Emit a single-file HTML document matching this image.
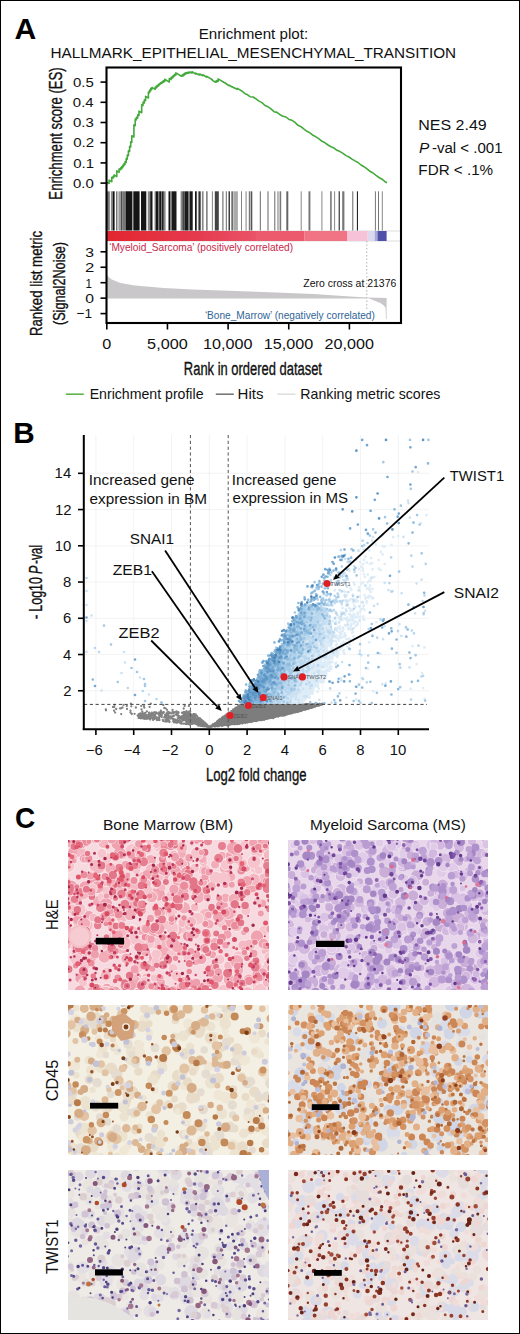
<!DOCTYPE html>
<html><head><meta charset="utf-8"><style>
html,body{margin:0;padding:0;background:#fff;}
body{width:520px;height:1334px;overflow:hidden;position:relative;font-family:"Liberation Sans",sans-serif;}
svg{position:absolute;left:0;top:0;display:block;}
svg text{font-family:"Liberation Sans",sans-serif;}
</style></head><body>
<svg width="520" height="1334" viewBox="0 0 520 1334">
<rect x="0" y="0" width="520" height="1334" fill="#fff"/>
<text x="14.4" y="38.75" font-size="30" fill="#000" textLength="21.77" lengthAdjust="spacingAndGlyphs" style="font-weight:bold;">A</text>
<text x="198.79" y="39.1" font-size="14.6" fill="#111" textLength="109.34" lengthAdjust="spacingAndGlyphs">Enrichment plot:</text>
<text x="50.48" y="57.6" font-size="14.8" fill="#111" textLength="405.63" lengthAdjust="spacingAndGlyphs">HALLMARK_EPITHELIAL_MESENCHYMAL_TRANSITION</text>
<rect x="107" y="191.3" width="2.8" height="39.5" fill="#777"/>
<rect x="110.9" y="191.3" width="1.8" height="39.5" fill="#888"/>
<rect x="112.7" y="191.3" width="1.9" height="39.5" fill="#111"/>
<rect x="116" y="191.3" width="1.5" height="39.5" fill="#777"/>
<rect x="118.4" y="191.3" width="2.9" height="39.5" fill="#999"/>
<rect x="121.3" y="191.3" width="1" height="39.5" fill="#111"/>
<rect x="122.3" y="191.3" width="3.3" height="39.5" fill="#777"/>
<rect x="125.6" y="191.3" width="6.8" height="39.5" fill="#151515"/>
<rect x="133.3" y="191.3" width="6.3" height="39.5" fill="#151515"/>
<rect x="141" y="191.3" width="5.3" height="39.5" fill="#151515"/>
<rect x="147.8" y="191.3" width="2.4" height="39.5" fill="#888"/>
<rect x="150.2" y="191.3" width="2.3" height="39.5" fill="#151515"/>
<rect x="154.6" y="191.3" width="1.2" height="39.5" fill="#777"/>
<rect x="155.8" y="191.3" width="2.2" height="39.5" fill="#151515"/>
<rect x="158" y="191.3" width="1.2" height="39.5" fill="#777"/>
<rect x="159.2" y="191.3" width="1.8" height="39.5" fill="#151515"/>
<rect x="161" y="191.3" width="1" height="39.5" fill="#777"/>
<rect x="162" y="191.3" width="1.8" height="39.5" fill="#222"/>
<rect x="163.8" y="191.3" width="1.8" height="39.5" fill="#888"/>
<rect x="168.5" y="191.3" width="1.7" height="39.5" fill="#151515"/>
<rect x="170.2" y="191.3" width="1.7" height="39.5" fill="#777"/>
<rect x="171.9" y="191.3" width="4.6" height="39.5" fill="#1a1a1a"/>
<rect x="180.6" y="191.3" width="1.7" height="39.5" fill="#888"/>
<rect x="182.3" y="191.3" width="2.3" height="39.5" fill="#444"/>
<rect x="184.6" y="191.3" width="3.4" height="39.5" fill="#1a1a1a"/>
<rect x="188" y="191.3" width="1.8" height="39.5" fill="#777"/>
<rect x="189.8" y="191.3" width="2.9" height="39.5" fill="#1a1a1a"/>
<rect x="195" y="191.3" width="1.7" height="39.5" fill="#151515"/>
<rect x="197.9" y="191.3" width="1.1" height="39.5" fill="#888"/>
<rect x="199" y="191.3" width="1.7" height="39.5" fill="#333"/>
<rect x="201.9" y="191.3" width="1.7" height="39.5" fill="#888"/>
<rect x="206" y="191.3" width="1.7" height="39.5" fill="#888"/>
<rect x="211.9" y="191.3" width="0.9" height="39.5" fill="#777"/>
<rect x="214.8" y="191.3" width="4" height="39.5" fill="#444"/>
<rect x="222.3" y="191.3" width="1.2" height="39.5" fill="#777"/>
<rect x="225.8" y="191.3" width="1.1" height="39.5" fill="#777"/>
<rect x="228.6" y="191.3" width="1.2" height="39.5" fill="#111"/>
<rect x="231.5" y="191.3" width="1.2" height="39.5" fill="#333"/>
<rect x="233.3" y="191.3" width="4.6" height="39.5" fill="#aaa"/>
<rect x="241" y="191.3" width="0.9" height="39.5" fill="#777"/>
<rect x="245.6" y="191.3" width="0.9" height="39.5" fill="#777"/>
<rect x="248.8" y="191.3" width="1.2" height="39.5" fill="#777"/>
<rect x="250.6" y="191.3" width="1.7" height="39.5" fill="#555"/>
<rect x="259.8" y="191.3" width="1.1" height="39.5" fill="#777"/>
<rect x="267.5" y="191.3" width="1" height="39.5" fill="#666"/>
<rect x="274.3" y="191.3" width="1" height="39.5" fill="#666"/>
<rect x="277.5" y="191.3" width="1" height="39.5" fill="#777"/>
<rect x="279.6" y="191.3" width="1.6" height="39.5" fill="#777"/>
<rect x="286.3" y="191.3" width="2" height="39.5" fill="#666"/>
<rect x="300.7" y="191.3" width="1" height="39.5" fill="#888"/>
<rect x="308.5" y="191.3" width="1.9" height="39.5" fill="#777"/>
<rect x="321.4" y="191.3" width="1" height="39.5" fill="#888"/>
<rect x="330" y="191.3" width="1.8" height="39.5" fill="#888"/>
<rect x="334.1" y="191.3" width="1" height="39.5" fill="#888"/>
<rect x="338.7" y="191.3" width="1" height="39.5" fill="#111"/>
<rect x="342.2" y="191.3" width="2.2" height="39.5" fill="#777"/>
<rect x="352.3" y="191.3" width="1" height="39.5" fill="#666"/>
<rect x="356.9" y="191.3" width="1" height="39.5" fill="#111"/>
<rect x="374.9" y="191.3" width="1" height="39.5" fill="#777"/>
<rect x="378" y="191.3" width="1" height="39.5" fill="#777"/>
<rect x="381.8" y="191.3" width="1" height="39.5" fill="#888"/>
<defs><linearGradient id="cb1" x1="0" x2="1" y1="0" y2="0"><stop offset="0" stop-color="#e32630"/><stop offset="0.6" stop-color="#e53a4e"/><stop offset="1" stop-color="#ea5368"/></linearGradient></defs>
<line x1="107" y1="231" x2="401" y2="231" stroke="#d4d4d4" stroke-width="0.8"/>
<line x1="107" y1="241" x2="401" y2="241" stroke="#d4d4d4" stroke-width="0.8"/>
<rect x="107" y="231" width="149" height="10" fill="url(#cb1)"/>
<rect x="256" y="231" width="48.2" height="10" fill="#ec5a6e"/>
<rect x="304.2" y="231" width="42.8" height="10" fill="#f07484"/>
<rect x="347" y="231" width="20.7" height="10" fill="#f5c2d8"/>
<rect x="367.7" y="231" width="6.9" height="10" fill="#dcd8f0"/>
<rect x="374.6" y="231" width="2.9" height="10" fill="#a8a8d8"/>
<rect x="377.5" y="231" width="9.1" height="10" fill="#5050a8"/>
<polygon fill="#c9c7c9" points="107,298.6 107,274.4 108.5,277 111.8,279.6 120.4,283 134.8,285.4 163.7,288 192.5,289.4 221.4,290.6 256,291.7 313.7,294 342.5,296 366.8,297.6 366.8,298.6"/>
<polygon fill="#c9c7c9" points="366.8,297.6 374.6,300.8 380.4,303.1 383.8,305.4 385.6,307.7 385.9,319.2 386.6,319.2 386.6,297.9"/>
<line x1="366.8" y1="241" x2="366.8" y2="311" stroke="#aaa" stroke-width="0.9" stroke-dasharray="1.5,2"/>
<polyline fill="none" stroke="#45aa3c" stroke-width="1.6" stroke-linejoin="round" points="107.4,183.4 107.7,183.5 107.7,182.5 109.1,183.4 109.1,180.1 111.8,181.7 111.8,177.2 113.2,178.0 113.2,176.3 114.1,176.9 114.1,175.0 116.8,176.6 116.8,170.9 119.1,172.3 119.1,168.9 120.6,169.7 120.6,167.9 121.8,168.7 121.8,166.6 122.8,167.3 122.8,165.3 123.9,165.9 123.9,163.8 125.0,164.5 125.0,161.8 126.2,162.5 126.2,158.5 127.3,159.1 127.3,155.1 128.4,155.7 128.4,150.9 129.6,151.5 129.6,146.4 130.7,147.0 130.7,141.7 131.8,142.3 131.8,135.8 133.9,137.0 133.9,124.9 135.2,125.7 135.2,119.0 136.4,119.8 136.4,117.3 137.7,118.1 137.7,114.8 139.0,115.5 139.0,111.1 141.7,112.7 141.7,104.7 143.0,105.5 143.0,102.2 144.3,103.0 144.3,99.9 145.6,100.7 145.6,96.4 148.4,98.0 148.4,92.0 149.6,92.7 149.6,90.1 150.8,90.8 150.8,88.4 151.9,89.1 151.9,87.5 155.2,89.4 155.2,87.1 156.4,87.8 156.4,86.1 157.4,86.8 157.4,85.2 158.6,85.9 158.6,84.3 159.6,84.9 159.6,83.5 160.6,84.0 160.6,82.8 161.5,83.4 161.5,82.2 162.4,82.8 162.4,81.6 163.4,82.1 163.4,80.8 164.7,81.6 164.7,79.3 169.3,82.1 169.3,78.5 171.1,79.6 171.1,77.3 172.5,78.1 172.5,76.2 173.6,76.9 173.6,75.3 174.8,75.9 174.8,74.3 175.9,75.0 175.9,72.9 181.4,76.2 181.4,75.4 182.9,76.2 182.9,74.5 184.0,75.2 184.0,73.7 185.2,74.4 185.2,72.9 186.3,73.6 186.3,72.7 187.4,73.3 187.4,72.4 188.4,73.1 188.4,72.3 189.4,72.8 189.4,72.0 190.5,72.7 190.5,72.1 192.0,73.0 192.0,71.8 195.8,74.1 195.8,73.1 198.4,74.7 198.4,74.1 199.8,75.0 199.8,74.0 202.8,75.7 202.8,74.7 206.8,77.2 206.8,76.4 212.4,79.7 212.4,80.4 215.5,82.2 215.5,81.3 216.8,82.1 216.8,80.6 218.1,81.4 218.1,78.9 222.9,81.7 222.9,81.7 226.4,83.8 226.4,84.0 229.2,85.7 229.2,85.3 232.1,87.0 232.1,86.8 233.9,87.8 233.9,87.7 235.0,88.4 235.0,88.1 236.2,88.8 236.2,88.7 237.3,89.3 237.3,88.4 241.4,90.8 241.4,90.7 245.0,93.7 247.0,94.4 250.0,96.7 253.0,97.0 256.0,98.8 259.0,101.1 262.0,102.6 265.0,105.5 268.0,106.8 271.0,108.9 274.0,111.7 277.0,112.4 280.0,114.7 283.0,116.2 286.0,117.0 289.0,119.4 292.0,120.3 295.0,122.4 298.0,125.3 301.0,126.7 304.0,129.2 307.0,131.3 310.0,132.9 313.0,135.3 316.0,136.9 319.0,138.9 322.0,141.3 325.0,142.8 328.0,145.0 331.0,146.8 334.0,148.1 337.0,150.3 340.0,151.6 343.0,153.4 346.0,155.6 349.0,157.0 352.0,159.1 355.0,160.9 358.0,162.5 361.0,165.0 364.0,166.7 367.0,168.8 370.0,171.3 373.0,173.0 376.0,175.4 379.0,177.5 382.0,179.2 385.0,181.7 387.0,182.8"/>
<rect x="106.5" y="67.5" width="294.5" height="255.5" fill="none" stroke="#000" stroke-width="2.1"/>
<line x1="100.5" y1="183.1" x2="107" y2="183.1" stroke="#000" stroke-width="1.6"/>
<text x="73.04" y="187.7" font-size="13.6" fill="#111" textLength="20.8" lengthAdjust="spacingAndGlyphs">0.0</text>
<line x1="100.5" y1="162.9" x2="107" y2="162.9" stroke="#000" stroke-width="1.6"/>
<text x="73.19" y="167.5" font-size="13.6" fill="#111" textLength="20.8" lengthAdjust="spacingAndGlyphs">0.1</text>
<line x1="100.5" y1="142.7" x2="107" y2="142.7" stroke="#000" stroke-width="1.6"/>
<text x="73.19" y="147.3" font-size="13.6" fill="#111" textLength="20.8" lengthAdjust="spacingAndGlyphs">0.2</text>
<line x1="100.5" y1="122.5" x2="107" y2="122.5" stroke="#000" stroke-width="1.6"/>
<text x="73.04" y="127.1" font-size="13.6" fill="#111" textLength="20.8" lengthAdjust="spacingAndGlyphs">0.3</text>
<line x1="100.5" y1="102.3" x2="107" y2="102.3" stroke="#000" stroke-width="1.6"/>
<text x="72.89" y="106.9" font-size="13.6" fill="#111" textLength="20.8" lengthAdjust="spacingAndGlyphs">0.4</text>
<line x1="100.5" y1="82.1" x2="107" y2="82.1" stroke="#000" stroke-width="1.6"/>
<text x="73.04" y="86.7" font-size="13.6" fill="#111" textLength="20.8" lengthAdjust="spacingAndGlyphs">0.5</text>
<line x1="100.5" y1="251.8" x2="107" y2="251.8" stroke="#000" stroke-width="1.6"/>
<text x="85.33" y="256.65" font-size="13.7" fill="#111" textLength="8.74" lengthAdjust="spacingAndGlyphs">3</text>
<line x1="100.5" y1="267.25" x2="107" y2="267.25" stroke="#000" stroke-width="1.6"/>
<text x="84.96" y="272.1" font-size="13.7" fill="#111" textLength="9.31" lengthAdjust="spacingAndGlyphs">2</text>
<line x1="100.5" y1="282.7" x2="107" y2="282.7" stroke="#000" stroke-width="1.6"/>
<text x="85.49" y="287.55" font-size="13.7" fill="#111" textLength="6.45" lengthAdjust="spacingAndGlyphs">1</text>
<line x1="100.5" y1="298.15" x2="107" y2="298.15" stroke="#000" stroke-width="1.6"/>
<text x="85.33" y="303" font-size="13.7" fill="#111" textLength="8.74" lengthAdjust="spacingAndGlyphs">0</text>
<line x1="100.5" y1="313.6" x2="107" y2="313.6" stroke="#000" stroke-width="1.6"/>
<text x="76.35" y="318.45" font-size="13.7" fill="#111" textLength="15.69" lengthAdjust="spacingAndGlyphs">−1</text>
<line x1="106.8" y1="323" x2="106.8" y2="329.5" stroke="#000" stroke-width="1.6"/>
<text x="102.36" y="348.8" font-size="14.3" fill="#111" textLength="8.99" lengthAdjust="spacingAndGlyphs">0</text>
<line x1="167.45" y1="323" x2="167.45" y2="329.5" stroke="#000" stroke-width="1.6"/>
<text x="147.12" y="348.8" font-size="14.3" fill="#111" textLength="40.59" lengthAdjust="spacingAndGlyphs">5,000</text>
<line x1="228.1" y1="323" x2="228.1" y2="329.5" stroke="#000" stroke-width="1.6"/>
<text x="203.11" y="348.8" font-size="14.3" fill="#111" textLength="49.42" lengthAdjust="spacingAndGlyphs">10,000</text>
<line x1="288.75" y1="323" x2="288.75" y2="329.5" stroke="#000" stroke-width="1.6"/>
<text x="263.76" y="348.8" font-size="14.3" fill="#111" textLength="49.42" lengthAdjust="spacingAndGlyphs">15,000</text>
<line x1="349.4" y1="323" x2="349.4" y2="329.5" stroke="#000" stroke-width="1.6"/>
<text x="324.58" y="348.8" font-size="14.3" fill="#111" textLength="49.42" lengthAdjust="spacingAndGlyphs">20,000</text>
<text transform="translate(61.6,198.6) rotate(-90)" x="-1.05" y="0" font-size="17.6" fill="#111" textLength="132.35" lengthAdjust="spacingAndGlyphs" stroke="#111" stroke-width="0.35">Enrichment score (ES)</text>
<text transform="translate(42,335) rotate(-90)" x="-1.06" y="0" font-size="17" fill="#111" textLength="105.22" lengthAdjust="spacingAndGlyphs" stroke="#111" stroke-width="0.35">Ranked list metric</text>
<text transform="translate(65.3,324.3) rotate(-90)" x="-0.76" y="0" font-size="16.6" fill="#111" textLength="83.13" lengthAdjust="spacingAndGlyphs" stroke="#111" stroke-width="0.35">(Signal2Noise)</text>
<text x="183.86" y="374.9" font-size="17.6" fill="#111" textLength="138.11" lengthAdjust="spacingAndGlyphs" stroke="#111" stroke-width="0.35">Rank in ordered dataset</text>
<text x="109.19" y="250.5" font-size="10.2" fill="#c8284a" textLength="183.84" lengthAdjust="spacingAndGlyphs">‘Myeloid_Sarcoma’ (positively correlated)</text>
<text x="303.29" y="287.4" font-size="10.8" fill="#111" textLength="92.99" lengthAdjust="spacingAndGlyphs">Zero cross at 21376</text>
<text x="204.89" y="318.6" font-size="10.5" fill="#2f6496" textLength="169.94" lengthAdjust="spacingAndGlyphs">‘Bone_Marrow’ (negatively correlated)</text>
<text x="418.32" y="129.6" font-size="14" fill="#111" textLength="68.42" lengthAdjust="spacingAndGlyphs">NES 2.49</text>
<text x="419.14" y="152.7" font-size="14" fill="#111" textLength="10.32" lengthAdjust="spacingAndGlyphs" style="font-style:italic;">P</text>
<text x="431.9" y="152.7" font-size="14" fill="#111" textLength="70.7" lengthAdjust="spacingAndGlyphs">-val &lt; .001</text>
<text x="418.38" y="175.4" font-size="14" fill="#111" textLength="74.76" lengthAdjust="spacingAndGlyphs">FDR &lt; .1%</text>
<line x1="65.8" y1="394.2" x2="83.8" y2="394.2" stroke="#5db44a" stroke-width="1.6"/>
<text x="89.67" y="398.5" font-size="14.5" fill="#111" textLength="113.84" lengthAdjust="spacingAndGlyphs">Enrichment profile</text>
<line x1="215.8" y1="394.2" x2="233.8" y2="394.2" stroke="#777" stroke-width="1.6"/>
<text x="237.6" y="398.5" font-size="14.5" fill="#111" textLength="25.85" lengthAdjust="spacingAndGlyphs">Hits</text>
<line x1="277.3" y1="394.2" x2="295.4" y2="394.2" stroke="#e0e0e0" stroke-width="1.6"/>
<text x="300.37" y="398.5" font-size="14.5" fill="#111" textLength="140.06" lengthAdjust="spacingAndGlyphs">Ranking metric scores</text>
<text x="13.22" y="443.2" font-size="29.5" fill="#000" textLength="21.43" lengthAdjust="spacingAndGlyphs" style="font-weight:bold;">B</text>
<path d="M95.9 435V729M133.7 435V729M171.5 435V729M209.3 435V729M247.1 435V729M284.9 435V729M322.7 435V729M360.5 435V729M398.3 435V729M84 690.76H429M84 654.52H429M84 618.28H429M84 582.04H429M84 545.8H429M84 509.56H429M84 473.32H429" stroke="#f0f0f0" stroke-width="0.8" fill="none"/>
<path d="M199.9 725.2h0M176.1 722.5h0M185.9 720.5h0M208.9 726.7h0M209.1 726.8h0M208.7 726.9h0M193.9 715.4h0M207.6 726.6h0M178.3 712.1h0M182.6 719.9h0M140.5 718.3h0M154.7 718.6h0M207.1 726.6h0M200.7 720.4h0M206.0 725.1h0M177.2 719.8h0M185.0 723.6h0M208.9 726.9h0M173.4 718.9h0M200.4 722.2h0M192.0 721.9h0M161.8 715.4h0M203.6 723.9h0M186.8 713.0h0M168.6 719.9h0M140.0 718.0h0M194.4 716.7h0M206.9 725.8h0M209.1 726.7h0M165.0 716.8h0M152.8 718.3h0M172.0 716.9h0M182.4 719.1h0M156.8 712.9h0M190.6 716.5h0M208.8 726.5h0M176.5 711.5h0M158.8 719.1h0M196.4 719.1h0M209.2 726.8h0M206.4 726.5h0M208.9 726.4h0M207.5 726.5h0M196.1 716.3h0M208.5 726.6h0M184.9 712.9h0M159.1 713.7h0M202.1 724.2h0M198.0 717.7h0M142.9 718.2h0M206.1 726.2h0M204.1 724.6h0M181.6 721.4h0M209.3 726.9h0M197.3 720.9h0M143.4 715.2h0M187.5 717.1h0M173.8 722.3h0M149.9 714.6h0M152.9 714.4h0M196.0 722.1h0M208.1 726.1h0M208.8 726.9h0M205.0 726.1h0M199.0 725.5h0M209.3 727.0h0M208.1 726.5h0M209.2 726.6h0M179.4 722.3h0M203.3 725.0h0M197.6 724.9h0M155.8 712.4h0M191.1 719.3h0M208.4 726.8h0M198.9 724.2h0M158.1 719.8h0M209.2 726.6h0M186.5 723.1h0M185.4 723.9h0M186.5 711.2h0M154.2 715.3h0M202.9 724.7h0M206.4 724.8h0M186.2 714.6h0M199.6 724.6h0M160.0 712.3h0M155.4 714.3h0M159.2 715.0h0M204.3 724.6h0M198.1 725.5h0M209.2 726.9h0M203.0 722.9h0M143.0 716.7h0M145.4 712.9h0M143.2 717.2h0M204.6 725.8h0M205.5 726.1h0M178.6 712.8h0M156.8 717.3h0M176.0 714.3h0M208.5 726.3h0M148.7 714.5h0M166.5 717.9h0M206.1 724.5h0M199.4 719.7h0M141.1 716.9h0M195.4 714.8h0M169.1 721.0h0M207.5 726.6h0M149.3 714.3h0M207.0 725.1h0M140.0 715.3h0M198.4 721.6h0M207.4 726.8h0M141.2 715.4h0M186.7 712.0h0M193.3 714.2h0M158.4 719.5h0M203.3 725.2h0M203.8 724.0h0M203.0 724.5h0M207.4 725.2h0M198.2 722.3h0M182.1 712.6h0M194.2 714.2h0M188.6 718.4h0M186.9 724.1h0M192.9 723.5h0M209.3 726.7h0M206.3 725.6h0M169.0 717.2h0M199.8 722.5h0M184.4 714.5h0M208.0 726.2h0M203.4 725.3h0M164.2 717.5h0M183.9 714.9h0M148.4 717.1h0M179.6 718.3h0M187.8 715.9h0M192.1 718.7h0M190.3 711.7h0M171.6 713.3h0M144.8 717.9h0M184.0 711.9h0M156.8 719.8h0M207.7 726.2h0M208.7 726.8h0M208.7 726.4h0M163.0 713.2h0M206.8 725.2h0M175.3 721.9h0M151.9 712.8h0M204.6 722.6h0M195.6 720.9h0M138.8 714.2h0M206.6 725.8h0M187.5 721.0h0M205.5 725.8h0M169.3 722.0h0M184.5 719.5h0M209.2 726.9h0M178.6 718.2h0M208.8 726.2h0M162.5 712.4h0M208.1 726.6h0M209.1 726.6h0M202.5 725.7h0M194.1 714.2h0M159.2 719.3h0M207.0 724.7h0M183.1 715.7h0M208.4 726.9h0M172.6 718.8h0M208.7 726.1h0M177.6 714.2h0M208.5 726.1h0M208.8 726.3h0M192.0 721.4h0M184.6 712.2h0M202.6 725.8h0M186.6 722.1h0M208.0 726.7h0M209.0 726.9h0M200.5 724.3h0M165.5 719.6h0M188.7 723.0h0M198.6 725.6h0M203.4 726.2h0M168.2 717.2h0M205.7 725.3h0M145.7 718.7h0M159.2 717.9h0M189.0 713.6h0M195.9 720.8h0M172.7 711.8h0M198.9 718.9h0M170.8 716.3h0M195.2 722.3h0M208.9 726.9h0M208.7 726.4h0M203.1 725.7h0M208.5 726.1h0M153.3 715.5h0M201.9 725.1h0M201.4 723.6h0M206.7 725.8h0M202.8 721.0h0M141.0 716.0h0M203.6 721.7h0M200.6 724.0h0M209.3 726.9h0M190.5 718.9h0M205.3 725.1h0M209.3 726.9h0M208.4 726.5h0M209.1 727.0h0M200.9 724.9h0M181.9 718.1h0M166.5 716.0h0M169.9 713.3h0M196.1 722.9h0M139.4 717.9h0M169.1 716.2h0M209.0 726.5h0M150.8 715.8h0M168.2 714.2h0M207.2 725.9h0M188.3 713.6h0M160.7 714.1h0M182.0 712.8h0M173.2 715.7h0M204.2 726.3h0M207.4 726.3h0M208.1 725.8h0M184.1 716.8h0M178.4 715.9h0M189.5 724.5h0M161.5 714.9h0M188.5 718.4h0M175.4 722.4h0M167.9 720.2h0M208.6 726.8h0M168.6 720.6h0M167.5 712.1h0M189.1 720.5h0M190.2 716.1h0M164.8 716.4h0M176.9 722.5h0M207.0 726.4h0M167.2 719.6h0M183.4 723.7h0M208.8 726.8h0M174.2 715.7h0M173.8 720.4h0M187.4 719.3h0M191.1 723.9h0M150.6 718.8h0M140.3 713.5h0M209.3 726.8h0M159.1 712.5h0M192.3 722.4h0M205.0 723.0h0M204.9 724.6h0M207.2 725.9h0M143.5 718.4h0M159.0 717.2h0M151.4 715.2h0M204.1 722.5h0M189.7 724.4h0M209.3 726.9h0M192.2 722.0h0M207.2 726.2h0M200.3 719.9h0M209.3 726.7h0M156.9 720.0h0M146.7 715.1h0M149.7 718.2h0M197.2 722.6h0M137.6 715.6h0M197.8 722.5h0M202.3 726.0h0M208.1 725.8h0M201.8 720.3h0M203.4 725.4h0M187.9 722.8h0M197.1 716.1h0M151.7 714.3h0M178.0 712.6h0M145.0 716.2h0M169.6 721.8h0M168.3 718.3h0M166.2 716.1h0M201.7 725.9h0M146.7 718.8h0M190.7 721.2h0M201.2 721.4h0M140.5 717.5h0M175.7 720.4h0M184.2 720.0h0M206.4 726.4h0M205.1 723.2h0M188.9 722.5h0M149.1 712.7h0M192.2 723.8h0M205.6 726.4h0M198.9 725.3h0M203.8 725.5h0M183.2 712.9h0M166.5 718.6h0M194.6 720.0h0M196.9 723.0h0M208.8 726.8h0M141.6 718.2h0M188.4 716.9h0M154.2 719.1h0M202.5 725.2h0M195.5 721.4h0M143.3 714.1h0M153.1 719.9h0M209.2 726.7h0M150.4 717.0h0M181.8 723.6h0M196.0 715.6h0M158.4 713.8h0M141.0 717.6h0M208.0 726.7h0M187.0 716.1h0M144.9 715.0h0M176.5 714.8h0M191.7 718.3h0M209.1 726.6h0M204.1 722.4h0M176.6 720.5h0M207.5 726.5h0M177.5 715.7h0M207.9 726.8h0M186.8 717.6h0M196.2 723.9h0M180.6 723.4h0M201.0 723.5h0M142.7 715.5h0M151.8 717.1h0M204.0 725.6h0M142.5 715.1h0M200.7 725.9h0M188.8 716.2h0M194.2 723.0h0M174.6 712.5h0M204.3 726.3h0M199.1 723.0h0M173.2 721.2h0M161.6 715.0h0M188.3 722.6h0M141.3 717.3h0M159.1 719.5h0M204.5 723.5h0M201.3 719.8h0M189.0 722.9h0M204.5 725.1h0M174.8 712.2h0M207.0 726.1h0M204.9 722.7h0M207.2 726.7h0M208.8 726.7h0M150.1 713.7h0M168.3 711.8h0M146.1 717.6h0M205.8 723.7h0M166.9 721.6h0M174.9 719.5h0M197.1 723.1h0M206.4 726.6h0M202.0 724.5h0M143.1 718.4h0M142.0 717.9h0M198.1 718.5h0M158.8 717.8h0M209.0 726.7h0M197.1 716.6h0M205.6 725.7h0M150.2 719.6h0M194.8 716.2h0M164.8 721.3h0M209.1 727.0h0M147.5 718.2h0M166.8 713.1h0M199.0 724.2h0M142.9 715.7h0M202.8 722.7h0M200.2 724.5h0M209.3 726.7h0M147.9 715.7h0M144.6 718.9h0M204.0 724.6h0M143.0 713.3h0M196.3 723.6h0M193.6 720.0h0M146.5 718.5h0M161.0 715.0h0M158.7 714.6h0M180.0 720.5h0M200.1 723.8h0M163.1 720.9h0M205.4 724.2h0M203.5 726.1h0M209.1 726.8h0M199.8 718.2h0M151.8 712.7h0M202.7 726.0h0M208.2 726.4h0M170.6 718.5h0M204.0 724.9h0M178.9 716.0h0M166.7 713.7h0M174.9 722.0h0M156.7 718.8h0M183.4 720.2h0M167.7 720.6h0M203.5 725.5h0M206.8 724.7h0M182.5 720.7h0M195.7 714.4h0M188.1 722.3h0M160.3 715.9h0M138.6 717.9h0M190.5 713.9h0M156.8 713.2h0M209.1 726.9h0M207.7 726.6h0M140.9 715.8h0M146.3 717.4h0M153.9 717.4h0M202.9 722.3h0M144.3 718.6h0M181.0 716.8h0M204.7 725.3h0M207.2 726.5h0M203.2 723.6h0M176.1 721.4h0M209.3 726.9h0M173.6 721.3h0M200.5 725.0h0M161.7 717.0h0M208.8 726.9h0M195.8 720.3h0M177.2 722.5h0M206.5 725.1h0M194.9 722.9h0M200.7 719.2h0M200.5 722.4h0M198.0 722.6h0M154.1 712.5h0M197.7 724.4h0M168.7 720.7h0M209.3 726.7h0M194.0 715.5h0M195.1 715.4h0M191.5 723.4h0M209.3 726.8h0M177.1 712.7h0M208.4 726.3h0M197.3 721.5h0M207.1 726.3h0M187.1 712.1h0M208.0 726.3h0M160.7 712.5h0M205.4 726.3h0M144.7 713.1h0M189.9 724.3h0M146.7 717.3h0M149.4 715.8h0M158.5 719.9h0M162.8 719.9h0M195.2 716.0h0M158.0 719.7h0M204.7 725.2h0M187.3 720.4h0M207.6 726.5h0M169.1 713.1h0M209.1 726.7h0M165.7 721.4h0M157.0 720.0h0M180.7 717.8h0M178.3 720.6h0M194.2 719.1h0M193.9 717.8h0M192.5 720.2h0M209.2 726.8h0M189.4 722.4h0M165.1 714.6h0M191.7 723.3h0M190.6 723.9h0M207.5 726.2h0M208.3 726.5h0M187.9 724.1h0M177.5 722.6h0M168.2 714.6h0M187.8 724.0h0M188.4 720.6h0M143.7 718.4h0M154.9 712.4h0M168.3 714.1h0M205.6 723.3h0M189.3 711.5h0M148.0 718.7h0M162.5 712.8h0M208.8 726.7h0M165.9 720.7h0M150.3 718.3h0M159.5 720.1h0M188.5 712.2h0M205.0 725.8h0M188.2 721.3h0M209.1 726.9h0M206.6 724.4h0M173.5 713.0h0M206.4 724.7h0M207.8 726.2h0M177.5 719.9h0M114.1 710.7h0M105.8 709.5h0M106.0 710.3h0M130.9 703.7h0M184.7 717.3h0M146.9 711.4h0M173.6 716.0h0M186.3 719.7h0M171.8 718.2h0M114.2 707.0h0M130.5 710.6h0M130.5 712.5h0M167.0 709.8h0M113.0 707.0h0M188.9 706.0h0M144.3 707.7h0M184.1 714.3h0M126.8 706.0h0M160.9 710.7h0M161.4 715.9h0M163.3 705.0h0M127.0 708.9h0M144.0 706.1h0M115.2 712.6h0M185.7 718.0h0M183.7 708.5h0M134.6 713.8h0M114.5 704.8h0M184.7 705.9h0M131.3 706.3h0M161.7 715.1h0M152.2 714.5h0M141.3 705.9h0M185.1 713.0h0M121.2 714.1h0M138.6 716.2h0M190.0 716.5h0M142.3 711.7h0M165.6 708.3h0M120.1 708.4h0M131.8 714.0h0M166.4 715.5h0M141.5 713.6h0M163.8 712.2h0M122.5 707.5h0M116.2 709.0h0M169.8 712.6h0M167.7 714.8h0M155.5 716.7h0M150.8 703.7h0M149.6 706.9h0M141.5 709.4h0M172.6 709.9h0M123.5 704.9h0M135.9 707.5h0M164.3 708.0h0M121.1 708.3h0M283.4 708.2h0M256.9 715.9h0M277.3 715.9h0M252.9 707.9h0M287.5 708.0h0M234.0 717.9h0M257.0 710.5h0M251.8 709.9h0M314.0 706.6h0M280.4 706.7h0M249.4 713.5h0M319.5 705.4h0M267.3 716.8h0M295.8 704.5h0M264.4 718.3h0M270.9 710.7h0M288.0 709.2h0M278.6 706.2h0M264.7 713.3h0M316.2 706.0h0M284.0 711.0h0M293.5 712.0h0M320.8 704.6h0M214.1 725.8h0M250.7 722.1h0M252.8 714.4h0M285.7 711.2h0M235.6 720.6h0M290.9 704.6h0M265.4 716.2h0M298.2 708.8h0M229.9 723.4h0M295.2 705.6h0M278.0 710.9h0M269.5 715.5h0M318.2 705.2h0M278.6 706.3h0M300.0 707.9h0M238.8 713.6h0M220.8 719.7h0M245.6 706.8h0M235.9 718.0h0M234.4 717.7h0M227.1 725.5h0M288.5 711.5h0M233.4 720.0h0M259.8 713.6h0M278.4 708.4h0M246.4 705.3h0M304.7 709.7h0M301.4 704.6h0M296.1 711.3h0M301.8 706.5h0M210.4 726.9h0M316.7 704.8h0M234.0 723.1h0M222.6 723.9h0M295.1 709.7h0M223.6 717.2h0M297.0 710.8h0M309.2 705.8h0M295.7 706.8h0M309.5 705.0h0M302.8 709.3h0M285.0 709.3h0M291.0 709.5h0M308.2 706.2h0M235.6 720.5h0M222.3 721.7h0M214.3 725.1h0M222.8 721.5h0M262.0 711.5h0M305.7 709.7h0M303.0 707.5h0M269.5 709.0h0M303.0 708.1h0M252.8 704.7h0M215.9 723.7h0M278.2 716.6h0M275.1 708.3h0M314.2 706.1h0M320.4 704.5h0M260.4 705.7h0M212.0 725.5h0M277.0 712.7h0M305.6 707.6h0M259.2 712.0h0M294.4 711.0h0M254.7 714.2h0M268.5 706.6h0M238.7 708.3h0M251.1 713.1h0M236.3 715.5h0M319.6 704.5h0M297.0 709.5h0M241.4 717.8h0M272.3 709.2h0M296.1 712.1h0M288.6 705.2h0M267.5 718.5h0M239.5 723.9h0M227.5 714.3h0M275.0 708.7h0M296.7 704.7h0M275.3 709.2h0M277.1 708.0h0M273.5 708.5h0M229.9 716.1h0M257.3 708.1h0M218.4 725.2h0M212.3 725.2h0M312.0 705.3h0M247.2 707.3h0M296.4 707.7h0M234.9 719.6h0M253.2 716.2h0M254.2 710.3h0M314.5 706.9h0M270.1 718.1h0M220.2 720.2h0M271.0 705.2h0M256.0 721.2h0M249.2 711.6h0M315.0 704.0h0M259.4 713.9h0M218.5 722.3h0M229.9 723.1h0M210.5 726.9h0M283.9 714.2h0M318.5 705.6h0M306.5 708.8h0M210.6 726.3h0M233.1 713.3h0M227.3 724.9h0M294.9 706.5h0M304.8 705.6h0M216.8 723.3h0M287.0 709.8h0M314.3 706.3h0M318.3 704.5h0M210.1 726.9h0M280.0 706.3h0M216.3 725.0h0M289.4 712.5h0M305.5 707.0h0M214.4 725.4h0M271.0 712.2h0M283.1 714.1h0M297.7 709.1h0M279.3 708.7h0M252.7 715.0h0M296.3 704.5h0M296.1 707.6h0M238.6 723.0h0M319.5 704.4h0M301.4 708.7h0M274.6 704.3h0M301.8 706.7h0M240.4 715.4h0M308.8 707.0h0M284.1 708.6h0M309.8 704.9h0M237.6 724.2h0M235.4 717.3h0M272.4 706.6h0M308.7 708.6h0M302.1 705.3h0M306.2 706.4h0M236.6 709.2h0M298.9 706.4h0M312.0 706.5h0M216.8 723.6h0M297.7 710.4h0M292.0 704.6h0M232.3 715.8h0M283.2 710.3h0M229.3 721.9h0M292.1 706.0h0M257.5 719.7h0M298.8 705.7h0M232.1 716.2h0M309.9 704.5h0M264.8 712.3h0M272.7 715.5h0M227.8 723.2h0M286.0 711.1h0M269.7 712.8h0M264.2 717.5h0M213.0 724.2h0M247.7 720.8h0M277.8 706.8h0M224.0 720.0h0M244.5 713.3h0M210.9 726.9h0M321.5 704.1h0M260.6 711.2h0M235.2 711.3h0M253.7 704.9h0M294.0 705.6h0M318.2 705.4h0M212.4 726.4h0M226.6 724.6h0M213.6 725.1h0M306.7 706.9h0M316.1 704.2h0M214.8 724.4h0M250.4 720.2h0M317.6 705.5h0M269.8 709.3h0M317.3 704.7h0M249.9 714.2h0M224.4 716.1h0M321.7 704.5h0M212.5 726.2h0M245.3 705.9h0M310.9 704.7h0M213.2 724.6h0M287.1 707.8h0M320.9 704.9h0M222.8 719.1h0M315.2 704.9h0M239.3 712.5h0M292.9 712.3h0M242.1 718.6h0M220.7 722.4h0M225.3 723.1h0M222.7 719.9h0M210.2 726.5h0M228.1 724.9h0M313.7 706.6h0M314.5 704.4h0M308.9 708.1h0M256.1 719.7h0M313.8 704.5h0M277.3 711.2h0M243.9 707.4h0M259.6 710.2h0M222.6 724.0h0M214.1 724.3h0M268.4 716.9h0M306.7 708.0h0M252.0 719.3h0M236.3 709.6h0M243.3 720.2h0M261.2 715.2h0M310.7 707.7h0M320.0 705.2h0M309.7 705.5h0M229.8 718.7h0M237.9 719.4h0M228.8 720.6h0M321.6 704.0h0M313.4 707.1h0M238.3 707.3h0M214.2 724.2h0M238.7 705.4h0M210.5 726.3h0M244.0 720.6h0M209.4 726.9h0M265.3 716.8h0M254.7 705.5h0M230.6 717.1h0M222.1 724.4h0M294.4 706.6h0M228.3 724.4h0M217.1 723.2h0M261.7 715.9h0M229.2 717.2h0M286.8 706.0h0M271.9 715.4h0M215.0 723.8h0M251.6 709.1h0M214.0 724.1h0M243.4 707.1h0M305.9 706.9h0M210.5 726.2h0M259.5 706.1h0M235.8 721.3h0M301.9 708.3h0M224.8 721.9h0M273.3 718.0h0M264.5 712.8h0M264.0 718.0h0M287.7 705.9h0M306.0 707.8h0M287.2 710.7h0M292.1 712.9h0M306.9 704.2h0M261.6 712.0h0M265.8 711.2h0M210.9 725.8h0M231.1 722.4h0M218.6 724.7h0M300.1 711.1h0M218.0 722.3h0M228.1 725.2h0M273.9 709.9h0M264.9 708.7h0M218.6 720.9h0M288.0 714.1h0M220.6 722.4h0M262.3 715.7h0M220.5 723.1h0M222.0 721.0h0M305.5 708.9h0M270.7 707.7h0M224.9 717.2h0M314.9 705.8h0M253.0 706.9h0M265.2 713.5h0M315.4 704.6h0M243.8 718.7h0M243.4 715.0h0M320.4 704.2h0M311.9 704.7h0M303.8 709.9h0M264.2 704.7h0M314.5 706.3h0M253.2 710.6h0M246.7 712.9h0M215.3 724.8h0M262.8 719.9h0M222.3 717.6h0M295.2 704.5h0M277.9 706.5h0M308.4 704.6h0M212.1 725.6h0M235.7 712.8h0M236.5 714.8h0M313.3 705.3h0M234.0 716.3h0M254.5 704.9h0M238.1 718.5h0M279.6 715.1h0M273.3 704.6h0M263.8 715.7h0M258.3 711.9h0M223.2 724.7h0M221.5 723.7h0M251.4 717.0h0M233.3 723.4h0M267.6 706.4h0M275.1 709.9h0M279.9 714.0h0M287.1 709.8h0M267.8 709.9h0M258.6 715.7h0M233.1 721.4h0M263.7 713.9h0M272.3 718.1h0M245.3 706.6h0M232.7 716.3h0M261.2 715.8h0M321.1 704.6h0M294.6 711.4h0M215.1 723.2h0M255.3 720.5h0M249.3 714.4h0M290.2 712.9h0M231.3 711.1h0M290.6 712.4h0M243.6 716.6h0M282.9 708.5h0M304.1 705.1h0M264.3 708.1h0M291.1 706.3h0M259.3 707.6h0M286.9 704.9h0M221.0 719.2h0M209.6 726.8h0M272.3 711.2h0M318.1 704.8h0M252.7 707.9h0M306.9 706.1h0M248.4 714.2h0M257.3 708.8h0M238.7 716.7h0M268.7 713.2h0M241.9 708.2h0M304.1 707.1h0M255.7 718.3h0M239.9 721.1h0M271.0 710.1h0M217.1 721.6h0M242.1 707.1h0M302.7 704.3h0M229.1 719.7h0M311.6 707.9h0M213.3 725.2h0M261.9 705.3h0M294.8 708.1h0M322.5 704.2h0M264.2 709.0h0M249.5 715.9h0M273.3 713.1h0M316.2 704.8h0M265.1 718.2h0M247.8 715.3h0M269.4 710.3h0M307.8 704.2h0M260.7 713.3h0M276.9 704.0h0M244.3 713.1h0M300.0 710.1h0M241.5 704.4h0M301.2 707.4h0M219.4 720.2h0M284.7 706.0h0M321.5 704.1h0M253.1 719.1h0M238.3 714.5h0M262.8 717.1h0M226.7 718.2h0M274.3 712.9h0M321.9 704.2h0M212.8 725.8h0M296.5 709.8h0M284.8 715.3h0M240.0 707.2h0M272.3 708.7h0M228.3 719.1h0M268.4 715.1h0M279.5 709.9h0M322.3 704.2h0M252.0 719.9h0M224.1 718.3h0M219.0 725.6h0M225.5 720.0h0M300.8 706.8h0M298.8 711.2h0M210.2 726.5h0M242.0 709.6h0M245.5 719.9h0M235.8 722.8h0M310.8 705.7h0M244.9 714.6h0M249.1 721.6h0M309.1 706.0h0M317.7 705.1h0M276.3 714.0h0M212.9 724.4h0M304.7 708.1h0M310.2 704.8h0M239.9 712.0h0M317.7 705.0h0M316.4 705.8h0M249.5 709.2h0M230.9 720.7h0M307.2 706.7h0M297.1 710.2h0M225.8 721.7h0M227.2 714.0h0M238.4 713.5h0M219.8 722.4h0M249.1 715.1h0M215.0 726.1h0M301.2 708.6h0M233.4 721.8h0M237.7 719.9h0M212.1 725.5h0M244.1 720.3h0M286.6 713.9h0M236.1 709.8h0M221.1 722.6h0M302.5 705.3h0M224.3 722.2h0M288.6 710.5h0M317.5 705.6h0M316.6 705.2h0M231.5 718.4h0M221.4 720.3h0M235.2 709.4h0M272.5 713.0h0M233.6 715.1h0M229.9 713.3h0M220.6 722.2h0M267.2 715.2h0M294.6 709.4h0M280.8 709.3h0M240.7 716.1h0M216.9 725.5h0M304.3 708.2h0M281.4 714.9h0M269.5 713.5h0M262.2 715.4h0M215.0 725.4h0M231.4 723.2h0M287.9 711.6h0M251.1 705.7h0M295.0 705.0h0M305.5 709.0h0M236.9 723.8h0M283.4 707.9h0M245.2 715.3h0M281.0 707.7h0M233.8 711.1h0M245.3 711.1h0M226.7 724.2h0M311.9 705.0h0M287.4 714.3h0M212.6 726.4h0M228.4 721.5h0M248.5 721.9h0M240.7 711.2h0M226.5 716.0h0M270.4 708.1h0M234.5 717.5h0M284.0 711.5h0M209.4 727.0h0M295.2 710.2h0M212.9 724.7h0M274.8 717.1h0M233.4 723.0h0M297.0 710.5h0M312.1 704.9h0M216.9 722.9h0M250.0 708.6h0M301.5 709.0h0M217.3 721.3h0M253.4 705.2h0M284.9 707.0h0M301.7 706.6h0M256.7 720.4h0M285.7 710.4h0M263.6 705.1h0M221.1 720.1h0M212.9 725.0h0M298.7 709.7h0M267.6 704.5h0M278.4 709.9h0M233.9 723.8h0M245.9 715.2h0M228.8 721.3h0M222.0 720.0h0M282.3 713.1h0M233.1 716.8h0M255.8 705.1h0M245.2 717.4h0M308.4 708.2h0M269.6 713.9h0M299.9 707.3h0M293.2 711.7h0M281.9 708.8h0M257.7 708.0h0M301.8 710.1h0M238.3 717.4h0M229.3 724.5h0M237.4 720.7h0M286.1 710.1h0M219.6 724.0h0M258.6 714.8h0M225.2 724.9h0M210.1 726.4h0M292.0 712.7h0M288.0 704.2h0M269.7 717.2h0M260.9 713.4h0M227.5 718.9h0M209.9 726.6h0M279.2 708.7h0M314.6 705.0h0M234.1 720.7h0M222.2 725.7h0M294.9 705.4h0M239.1 720.5h0M278.5 706.0h0M313.6 706.8h0M296.1 705.4h0M291.0 710.6h0M227.0 715.8h0M241.7 716.4h0M268.2 713.5h0M301.9 709.2h0M212.7 725.5h0M277.3 706.4h0M286.6 705.0h0M315.9 705.3h0M262.1 717.7h0M239.4 712.7h0M216.4 723.2h0M224.8 721.2h0M318.9 705.5h0M212.6 725.8h0M227.6 716.7h0M209.5 726.9h0M304.8 705.3h0M253.6 716.8h0M281.3 709.9h0M253.1 715.9h0M255.1 709.9h0M301.2 704.7h0M224.9 722.7h0M255.6 711.6h0M244.8 719.5h0M216.8 724.8h0M257.6 704.5h0M311.4 704.5h0M319.5 704.0h0M276.3 706.5h0M214.4 724.3h0M275.0 713.6h0M270.5 704.7h0M260.0 709.9h0M239.4 717.3h0M308.5 708.8h0M227.4 717.3h0M256.1 719.9h0M281.2 711.7h0M271.7 712.4h0M265.7 710.8h0M250.3 720.3h0M226.5 715.4h0M267.8 717.5h0M305.6 708.3h0M217.8 723.3h0M234.1 716.7h0M268.5 715.6h0M270.7 716.9h0M263.7 710.6h0M216.4 724.5h0M215.7 724.6h0M305.8 706.6h0M287.7 706.6h0M219.8 719.2h0M288.5 713.4h0M301.7 708.2h0M225.6 715.3h0M269.6 707.3h0M222.0 719.4h0M214.2 725.9h0M247.6 722.5h0M273.3 715.0h0M239.5 710.2h0M253.7 706.0h0M276.5 705.7h0M269.6 705.2h0M306.7 708.5h0M291.4 710.4h0M293.6 706.9h0M301.1 710.2h0M247.6 708.9h0M316.2 704.7h0M212.9 725.3h0M218.3 723.0h0M298.4 710.9h0M313.4 705.1h0M234.5 721.5h0M256.0 706.8h0M271.7 716.7h0M210.9 726.8h0M298.1 710.4h0M268.5 714.7h0M284.4 711.1h0M222.8 718.0h0M266.7 708.8h0M299.0 704.4h0M210.3 726.7h0M223.5 721.1h0M307.0 705.1h0M212.2 726.5h0M300.3 706.3h0M249.8 713.7h0M224.2 717.4h0M249.9 706.3h0M275.2 716.6h0M242.7 719.3h0M309.5 705.9h0M212.9 726.3h0M246.3 714.1h0M271.2 712.9h0M245.4 723.0h0M271.5 713.6h0M210.9 726.4h0M321.0 704.9h0M222.9 719.8h0M236.5 719.6h0M262.2 716.0h0M270.3 710.9h0M317.3 704.0h0M212.1 725.8h0M294.5 705.1h0M294.9 707.2h0M278.1 712.3h0M237.4 709.7h0M306.9 704.3h0M283.7 712.1h0M293.6 706.4h0M263.2 709.9h0M245.1 712.6h0M251.4 721.1h0M243.6 717.1h0M321.3 704.4h0M247.0 718.3h0M232.3 719.6h0M221.9 726.0h0M306.7 707.0h0M255.9 711.5h0M239.7 720.6h0M215.0 725.4h0M240.4 709.4h0M268.2 704.9h0M244.0 705.5h0M272.0 717.2h0M226.4 719.0h0M321.1 704.6h0M294.9 709.0h0M306.4 709.1h0M260.4 705.7h0M236.8 719.7h0M211.1 726.7h0M235.9 712.2h0M230.6 719.5h0M228.6 717.6h0M305.9 706.0h0M228.3 716.2h0M318.1 704.7h0M216.3 722.7h0M307.3 707.5h0M222.0 724.4h0M266.5 705.9h0M278.7 705.0h0M229.9 720.7h0M291.9 707.4h0M251.3 709.8h0M243.7 722.3h0M252.3 721.2h0M277.1 712.8h0M261.5 710.6h0M234.7 716.9h0M210.3 726.3h0M269.7 704.2h0M214.1 724.7h0M288.8 711.0h0M217.7 725.5h0M222.6 719.1h0M217.3 722.0h0M253.3 712.2h0M272.6 710.3h0M280.8 708.9h0M242.9 709.0h0M234.8 712.7h0M293.6 706.0h0M240.5 708.5h0M319.9 704.7h0M237.1 714.9h0M315.4 706.4h0M209.9 726.8h0M280.5 706.8h0M246.4 704.2h0M231.6 713.9h0M217.3 726.3h0M221.7 725.5h0M262.4 711.2h0M226.7 714.7h0M246.8 720.1h0M226.2 717.3h0M312.9 707.0h0M211.6 725.6h0M233.2 709.4h0M262.1 709.9h0M244.4 707.8h0M257.6 715.6h0M310.7 707.8h0M289.9 713.4h0M279.4 711.6h0M305.9 709.3h0M269.7 712.7h0M312.7 704.2h0M277.2 714.2h0M234.2 720.4h0M254.6 717.6h0M228.9 715.4h0M279.0 712.9h0M322.0 704.5h0M270.3 716.4h0M305.7 704.7h0M235.9 711.4h0M300.8 709.1h0M243.0 714.0h0M309.2 707.9h0M283.8 708.7h0M256.8 711.3h0M308.2 707.9h0M308.3 707.2h0M295.6 705.2h0M226.7 715.5h0M322.1 704.4h0M211.2 726.7h0M319.5 705.4h0M311.7 707.3h0M290.2 713.0h0M225.3 718.4h0M217.3 724.6h0M312.6 705.0h0M308.1 704.1h0M212.0 726.4h0M297.1 706.5h0M212.4 725.7h0M232.0 718.5h0M218.8 726.2h0M321.6 704.5h0M307.6 708.5h0M260.7 718.3h0M253.9 718.6h0M284.1 713.8h0M290.5 709.0h0M219.5 723.8h0M261.8 705.3h0M245.0 719.1h0M318.7 704.2h0M289.7 711.4h0M226.2 722.6h0M215.3 726.4h0M263.2 713.5h0M268.8 713.5h0M210.1 726.6h0M280.3 709.7h0M267.9 708.7h0M320.5 704.1h0M288.0 710.3h0M241.5 715.5h0M319.3 704.9h0M249.0 715.0h0M222.7 717.0h0M209.7 726.8h0M313.5 706.5h0M275.2 712.5h0M233.0 721.8h0M219.9 720.2h0M296.1 704.8h0M213.5 724.8h0M242.2 710.9h0M267.9 714.4h0M319.2 705.5h0M291.5 705.4h0M263.4 710.5h0M322.0 704.4h0M277.5 707.4h0M248.3 709.4h0M250.0 712.7h0M275.5 708.4h0M241.9 711.3h0M267.2 715.9h0M275.4 714.0h0M311.4 706.1h0M288.5 709.0h0M259.5 717.1h0M222.6 717.7h0M265.6 711.4h0M265.4 706.9h0M232.7 722.2h0M300.7 707.9h0M278.8 706.2h0M309.6 704.6h0M212.9 725.8h0M301.9 705.2h0M220.6 725.0h0M234.1 723.0h0M245.8 707.7h0M264.7 712.6h0M217.1 724.3h0M322.3 704.1h0M256.3 713.1h0M297.8 705.9h0M223.4 719.5h0M246.9 713.1h0M232.6 719.2h0M243.9 716.0h0M210.6 726.7h0M270.5 717.8h0M226.3 717.5h0M236.7 718.6h0M233.1 711.8h0M217.5 722.9h0M305.2 708.7h0M253.3 707.7h0M276.1 712.4h0M212.9 725.7h0M247.0 709.4h0M238.9 716.2h0M279.7 706.4h0M245.3 715.8h0M271.4 705.1h0M227.7 713.6h0M287.3 710.7h0M281.8 712.1h0M215.5 723.4h0M248.4 712.9h0M261.8 705.6h0M292.8 713.1h0M273.1 711.6h0M257.8 706.7h0M252.4 713.5h0M309.1 706.6h0M261.2 712.0h0M301.0 706.3h0M290.8 709.9h0M212.6 725.2h0M268.5 707.5h0M294.4 711.9h0M230.8 724.0h0M300.2 710.6h0M217.2 722.4h0M269.7 718.0h0M283.6 707.4h0M260.2 719.8h0M284.8 710.6h0M272.1 704.0h0M300.1 704.9h0M222.9 722.9h0M264.3 719.8h0M321.3 704.6h0M235.3 719.2h0M234.5 710.5h0M268.7 711.3h0M253.0 721.0h0M240.0 706.7h0M298.3 705.1h0M234.8 721.3h0M213.7 725.1h0M247.7 714.1h0M260.9 710.9h0M246.8 707.8h0M228.6 713.6h0M268.8 718.2h0M241.0 713.2h0M251.7 711.9h0M242.1 718.3h0M297.5 709.7h0M287.2 706.1h0M273.0 711.7h0M314.6 705.7h0M307.6 708.9h0M254.5 710.4h0M213.4 724.3h0M215.6 724.0h0M226.5 715.0h0M269.4 707.0h0M262.0 709.3h0M282.9 712.3h0M229.8 713.9h0M222.9 717.6h0M229.3 723.9h0M217.8 721.9h0M316.6 705.4h0M281.0 713.1h0M311.0 705.3h0M223.9 725.3h0M285.4 714.8h0M302.4 708.7h0M232.1 716.2h0M241.5 712.7h0M223.8 717.0h0M242.2 707.1h0M223.6 718.2h0M320.2 704.7h0M212.0 726.1h0M278.8 713.9h0M267.5 717.8h0M258.1 708.6h0M254.1 709.7h0M219.7 720.4h0M220.5 719.2h0M322.2 704.0h0M265.3 715.1h0M244.8 708.8h0M261.8 705.1h0M217.6 723.7h0M305.9 706.3h0M267.0 718.0h0M222.3 723.6h0M309.4 704.7h0M231.5 711.5h0M211.9 725.8h0M318.6 705.1h0M315.8 704.9h0M213.5 725.8h0M256.4 717.1h0M291.0 712.1h0M296.5 709.8h0M215.3 724.3h0M217.9 723.2h0M296.6 707.4h0M257.7 720.5h0M263.8 718.4h0M279.5 715.0h0M271.3 713.4h0M247.8 710.3h0M224.8 724.0h0M315.4 705.8h0M303.2 704.8h0M259.9 718.2h0M217.7 721.4h0M220.0 722.6h0M266.4 717.7h0M258.5 718.2h0M266.3 711.6h0M246.9 719.2h0M251.1 718.5h0M221.0 724.2h0M306.8 706.7h0M309.1 708.6h0M315.6 705.4h0M296.9 707.5h0M284.6 712.8h0M291.9 712.1h0M235.5 724.0h0M249.9 712.9h0M238.6 707.2h0M216.8 723.5h0M232.2 715.9h0M296.1 706.4h0M214.6 725.7h0M273.9 704.2h0M212.7 725.3h0M284.9 706.1h0M244.1 707.7h0M257.8 705.3h0M210.1 726.5h0M252.1 714.7h0M217.1 725.1h0M290.0 707.2h0M223.5 722.6h0M222.4 724.2h0M230.7 720.4h0M319.7 704.0h0M297.0 708.3h0M261.9 707.6h0M311.3 705.0h0M278.3 714.3h0M276.9 706.0h0M296.4 711.6h0M288.0 710.9h0M224.6 715.9h0M282.6 707.0h0M221.8 719.1h0M314.9 704.3h0M291.3 705.6h0M298.3 707.2h0M254.7 707.1h0M296.1 705.1h0M239.3 705.3h0M265.9 704.8h0M219.9 719.3h0M296.5 710.2h0M302.7 709.1h0M228.4 719.6h0M232.5 717.4h0M311.3 705.3h0M287.2 710.6h0M296.0 705.7h0M283.8 704.7h0M301.2 708.2h0M217.0 723.0h0M302.5 708.4h0M273.3 706.3h0M297.2 712.1h0M260.9 720.3h0M219.4 720.7h0M252.8 711.1h0M257.3 715.4h0M230.1 720.3h0M303.5 706.4h0M238.6 722.5h0M236.3 712.1h0M255.5 709.9h0M298.9 710.8h0M283.8 715.1h0M300.8 709.8h0M236.3 707.5h0M246.4 718.7h0M309.0 705.8h0M309.5 706.8h0M262.2 704.7h0M263.0 704.2h0M227.5 715.4h0M224.6 720.4h0M209.3 727.0h0M315.9 705.4h0M299.2 709.7h0M245.3 721.2h0M268.4 706.1h0M263.8 714.0h0M313.8 704.3h0M281.9 715.2h0M276.8 711.4h0M317.5 705.3h0M281.2 708.5h0M247.9 713.0h0M283.1 705.1h0M262.0 714.4h0M319.7 705.3h0M302.3 706.1h0M268.9 712.3h0M292.1 705.0h0M289.4 706.5h0M212.1 726.2h0M222.0 717.9h0M309.2 708.0h0M272.5 710.0h0M213.2 725.7h0M291.6 707.5h0M237.4 710.4h0M238.5 713.8h0M253.1 704.4h0M279.8 706.4h0M283.1 711.3h0M318.1 704.5h0M284.8 712.2h0M224.6 719.9h0M301.2 705.4h0M244.7 720.6h0M264.1 705.9h0M224.6 718.2h0M225.5 722.3h0M213.8 725.8h0M248.8 704.6h0M318.0 705.6h0M240.5 705.1h0M228.3 721.3h0M255.1 719.7h0M235.1 717.9h0M249.0 704.7h0M235.8 721.0h0M311.4 706.2h0M302.6 706.4h0M295.4 709.9h0M223.6 718.6h0M258.7 711.5h0M282.4 707.0h0M236.8 717.9h0M312.5 705.7h0M238.2 712.3h0M235.0 711.6h0M212.7 724.9h0M270.0 713.5h0M315.2 706.1h0M233.3 723.7h0M267.9 707.7h0M283.3 710.9h0M299.0 710.8h0M240.2 711.1h0M318.6 704.6h0M284.9 706.5h0M250.1 705.1h0M291.0 710.4h0M249.8 707.6h0M245.0 719.6h0M306.8 706.5h0M264.7 709.2h0M310.5 707.7h0M243.8 722.1h0M252.2 713.0h0M304.4 706.0h0M271.3 712.6h0M270.8 714.6h0M303.5 705.3h0M302.7 709.6h0M282.5 706.9h0M262.3 705.6h0M310.1 705.1h0M300.6 706.5h0M307.7 708.5h0M286.4 707.2h0M275.4 713.8h0M215.1 724.2h0M301.0 709.2h0M230.0 722.1h0M217.7 722.6h0M319.6 704.3h0M246.1 709.7h0M215.6 723.0h0M242.3 723.6h0M277.4 715.3h0M236.7 723.3h0M255.9 711.8h0M298.9 711.4h0M301.4 710.2h0M231.2 716.0h0M243.9 717.0h0M270.2 715.5h0M297.2 710.4h0M302.8 705.2h0M266.5 719.0h0M295.3 712.4h0M262.7 713.3h0M214.7 724.3h0M288.9 708.3h0M250.7 712.9h0M272.6 715.0h0M306.3 704.0h0M298.5 704.3h0M242.7 704.3h0M215.5 724.6h0M221.7 722.3h0M283.8 707.4h0M256.9 715.4h0M227.5 720.6h0M237.5 720.7h0M290.2 708.8h0M255.1 718.1h0M286.3 712.8h0M235.7 714.8h0M286.0 704.3h0M291.7 704.5h0M312.8 705.0h0M288.3 713.9h0M229.2 725.1h0M305.8 705.6h0M277.5 713.6h0M245.6 720.0h0M277.8 704.1h0M240.1 723.0h0M226.0 721.7h0M310.2 704.8h0M257.0 719.5h0M219.0 725.3h0M295.3 708.6h0M321.5 704.1h0M297.4 708.2h0M300.7 710.3h0M219.2 722.5h0M263.1 716.7h0M234.2 724.3h0M311.4 705.2h0M315.9 704.0h0M254.9 708.7h0M248.9 707.5h0M303.1 709.6h0M210.2 726.8h0M272.2 712.9h0M209.9 726.6h0M296.3 708.5h0M212.9 724.6h0M266.2 718.4h0M242.1 711.4h0M308.5 706.5h0M278.6 714.2h0M233.3 710.6h0M248.7 720.7h0M272.9 716.3h0M228.6 719.5h0M272.2 709.2h0M286.7 710.1h0M215.2 723.7h0M213.9 725.2h0M250.7 710.0h0M287.6 712.1h0M279.8 707.9h0M258.9 718.5h0M311.4 705.6h0M214.7 725.8h0M321.1 704.7h0M249.8 707.9h0M300.9 706.6h0M290.9 713.5h0M217.7 720.9h0M298.3 711.5h0M213.4 726.1h0M314.1 706.5h0M282.5 704.8h0M278.5 705.0h0M235.4 721.9h0M210.7 726.2h0M218.7 720.2h0M287.1 712.8h0M298.9 710.4h0M263.6 718.3h0M296.4 704.9h0M312.3 707.7h0M304.3 706.7h0M300.6 707.6h0M276.3 709.4h0M298.0 711.3h0M213.9 725.0h0M238.5 716.6h0M209.8 726.7h0M211.2 725.8h0M299.4 708.1h0M220.5 721.2h0M229.4 719.6h0M219.3 719.6h0M267.6 713.9h0M217.7 722.2h0M304.1 704.9h0M218.4 724.1h0M239.8 708.9h0M223.1 720.3h0M320.0 704.3h0M209.8 726.9h0M219.7 721.4h0M273.8 710.7h0M257.1 714.2h0M275.3 708.8h0M312.3 705.0h0M297.6 704.7h0M302.6 705.9h0M211.8 725.7h0M304.1 707.5h0M307.6 708.2h0M315.6 705.5h0M286.7 712.2h0M239.5 717.2h0M242.2 721.8h0M255.6 704.3h0M280.4 704.8h0M293.4 705.5h0M322.0 704.1h0M236.6 719.9h0M252.1 721.7h0M231.9 711.8h0M312.9 706.4h0M294.4 706.0h0M309.0 705.0h0M265.9 717.9h0M301.1 708.8h0M277.2 712.3h0M266.6 704.5h0M224.5 720.4h0M279.9 709.8h0M315.0 705.7h0M312.0 705.2h0M318.6 705.5h0M229.9 721.3h0M311.1 708.0h0M235.1 712.5h0M321.4 704.6h0M255.0 709.5h0M284.8 706.9h0M292.3 711.1h0M234.8 724.2h0M284.8 713.0h0M235.0 708.4h0M279.1 709.2h0M280.6 709.0h0M285.3 711.8h0M214.8 726.4h0M210.4 726.7h0M222.6 725.0h0M261.5 704.5h0M284.4 712.3h0M294.3 711.3h0M218.3 724.5h0M251.7 709.6h0M255.8 708.7h0M217.8 721.0h0M244.2 707.2h0M211.8 725.4h0M231.4 712.6h0M298.4 706.6h0M237.0 724.2h0M227.5 714.5h0M224.2 719.2h0M272.4 708.8h0M226.6 723.9h0M218.0 720.6h0M248.8 710.5h0M270.4 715.4h0M214.9 726.6h0M304.4 709.3h0M318.1 705.2h0M288.6 713.0h0M296.6 710.2h0M246.9 713.0h0M219.5 724.5h0M297.5 709.8h0M248.5 708.4h0M231.2 722.3h0M230.6 719.7h0M246.8 710.8h0M258.9 706.2h0M213.6 724.8h0M302.5 709.1h0M211.6 726.1h0M219.9 722.9h0M287.3 713.8h0M220.1 722.7h0M225.8 723.1h0M255.3 719.5h0M215.2 725.1h0M258.6 705.1h0M268.6 718.0h0M231.0 714.4h0M269.6 705.9h0M318.0 704.3h0M219.3 719.9h0M265.1 716.0h0M225.5 716.3h0M229.9 724.1h0M235.6 708.6h0M257.7 708.6h0M215.8 724.5h0M241.4 719.7h0M281.4 711.8h0M220.3 718.9h0M260.1 717.7h0M210.1 726.6h0M263.9 719.6h0M258.8 708.4h0M266.5 715.8h0M262.1 710.4h0M280.0 714.7h0M298.5 704.4h0M290.8 705.4h0M247.0 705.8h0M226.7 722.9h0M273.7 705.4h0M216.5 725.4h0M212.2 725.9h0M222.4 724.3h0M291.8 708.0h0M315.2 705.7h0M283.4 715.6h0M316.3 705.9h0M259.5 712.2h0M316.3 705.2h0M321.7 704.3h0M230.4 713.6h0M228.8 712.4h0M257.2 717.3h0M317.9 705.3h0M251.5 716.0h0M282.1 715.7h0M247.7 719.8h0M301.4 711.0h0M274.8 714.2h0M256.9 711.6h0M287.3 713.3h0M232.9 723.0h0M317.8 705.7h0M222.0 721.5h0M271.8 705.6h0M214.1 725.9h0M225.2 719.5h0M256.7 714.2h0M308.9 705.6h0M305.4 704.2h0M236.0 708.0h0M251.6 721.2h0M312.1 707.4h0M210.6 726.7h0M238.2 706.0h0M306.6 707.2h0M265.6 706.4h0M298.9 706.7h0M263.7 718.1h0M233.3 714.4h0M272.3 706.8h0M310.1 704.2h0M227.8 724.5h0M310.0 705.9h0M226.7 717.6h0M234.6 720.7h0M246.9 713.0h0M283.2 714.9h0M290.9 707.7h0M258.9 709.5h0M298.0 711.9h0M259.3 709.4h0M287.0 707.8h0M226.5 714.6h0M296.3 710.4h0M254.2 704.7h0M229.4 719.8h0M317.9 704.2h0M232.1 713.9h0M246.1 710.4h0M294.0 711.9h0M231.0 722.0h0M235.7 723.9h0M221.9 722.6h0M253.1 720.5h0M271.9 704.8h0M271.2 713.3h0M286.4 710.2h0M226.0 720.3h0M210.6 726.3h0M224.5 722.0h0M318.0 704.4h0M302.4 706.4h0M278.1 707.8h0M318.5 705.4h0M293.9 710.3h0M234.6 711.0h0M274.1 706.1h0M307.2 706.2h0M228.4 725.2h0M266.3 708.2h0M236.4 723.2h0M209.6 726.9h0M285.4 715.2h0M231.8 721.0h0M287.2 704.1h0M210.8 726.8h0M314.6 704.1h0M223.2 722.8h0M264.8 714.7h0M252.7 713.4h0M234.9 723.7h0M216.7 725.7h0" stroke="#828282" stroke-width="2.3" stroke-linecap="round" fill="none"/>
<polygon fill="#7d7d7d" points="208.8,727.2 240,704.8 320.5,704.8 318.9,705.9 307.6,709.5 296.2,712.7 284.9,715.7 273.6,718.3 262.2,720.6 250.9,722.6 239.5,724.3 228.2,725.7 218.8,726.6"/>
<polygon fill="#808080" points="209.3,727.3 192,714 184,714 176,718 192,724"/>
<defs><linearGradient id="cloudg" gradientUnits="userSpaceOnUse" x1="288" y1="622" x2="338" y2="654"><stop offset="0" stop-color="#a6cbe9"/><stop offset="0.5" stop-color="#c2dcf1"/><stop offset="1" stop-color="#deedf8"/></linearGradient></defs>
<polygon fill="url(#cloudg)" points="244.9,703.4 252.6,690.8 260.9,677.0 270.7,661.8 281.7,644.6 289.8,629.2 297.3,614.7 304.1,603.8 326.2,607.4 330.6,618.3 332.3,629.2 329.4,644.6 321.3,661.8 312.7,677.0 302.9,690.8 292.9,703.4"/>
<path d="M329.0 632.0h0M303.4 693.6h0M282.3 695.5h0M296.6 691.3h0M280.1 697.9h0M290.2 686.2h0M319.4 674.1h0M310.7 693.3h0M296.3 695.8h0M345.0 625.0h0M305.6 685.1h0M327.4 657.3h0M372.4 588.9h0M318.5 651.9h0M286.4 667.1h0M341.4 634.0h0M348.7 629.6h0M304.6 686.2h0M315.7 663.0h0M311.0 678.7h0M304.2 697.0h0M299.4 677.4h0M314.4 669.5h0M363.6 605.8h0M338.6 647.0h0M297.5 685.0h0M305.3 671.7h0M316.9 665.8h0M279.6 689.7h0M320.2 646.7h0M299.0 684.5h0M281.0 685.9h0M313.8 676.8h0M343.8 642.9h0M309.9 684.3h0M308.0 682.6h0M317.1 660.5h0M380.6 570.1h0M332.3 661.9h0M332.3 652.5h0M381.2 536.7h0M306.7 668.9h0M313.6 632.2h0M354.4 614.2h0M336.3 629.7h0M313.4 688.5h0M320.9 643.7h0M321.7 682.1h0M307.3 675.5h0M301.6 690.1h0M295.0 699.0h0M312.5 684.0h0M369.2 595.8h0M315.8 668.6h0M316.5 674.9h0M325.4 665.6h0M286.3 682.8h0M310.4 690.4h0M318.6 651.7h0M318.1 677.9h0M325.5 606.9h0M302.4 679.6h0M287.6 697.8h0M310.9 658.9h0M265.1 700.4h0M298.8 690.5h0M319.1 671.4h0M294.5 697.2h0M280.8 694.7h0M300.4 698.7h0M295.2 679.9h0M330.1 646.2h0M325.8 662.9h0M297.3 678.5h0M327.6 639.4h0M296.4 701.6h0M329.2 631.1h0M347.3 617.5h0M314.3 686.0h0M309.5 688.1h0M350.8 616.6h0M298.3 682.0h0M301.3 690.6h0M288.2 688.9h0M335.4 634.9h0M324.9 676.8h0M285.3 670.7h0M299.7 692.4h0M302.9 685.0h0M280.3 676.3h0M307.3 675.4h0M297.7 673.2h0M309.5 665.2h0M375.8 544.5h0M303.0 701.6h0M303.9 689.0h0M302.2 692.8h0M367.0 588.6h0M305.8 693.2h0M336.0 641.2h0M311.6 671.1h0M305.2 683.3h0M296.2 689.8h0M299.8 691.8h0M280.2 693.9h0M297.9 702.3h0M302.0 664.5h0M313.3 666.8h0M292.0 675.1h0M293.0 697.5h0M282.0 701.9h0M320.2 656.0h0M315.7 663.1h0M278.9 693.3h0M290.8 700.9h0M282.9 688.1h0M318.8 688.6h0M327.6 626.8h0M321.2 655.8h0M316.3 642.0h0M345.0 635.0h0M347.9 621.9h0M346.3 619.3h0M277.9 695.4h0M299.6 703.1h0M271.6 671.3h0M319.0 682.0h0M328.5 661.7h0M309.7 685.2h0M334.3 653.9h0M304.8 675.0h0M319.9 659.3h0M315.8 684.6h0M327.1 631.7h0M341.3 617.2h0M317.1 638.2h0M361.3 583.7h0M341.3 647.8h0M321.8 655.8h0M293.8 695.0h0M313.8 648.4h0M307.0 692.0h0M293.1 703.0h0M305.7 685.1h0M353.9 614.2h0M310.6 674.6h0M308.7 683.6h0M295.0 688.1h0M301.5 688.0h0M315.9 681.4h0M319.9 665.2h0M318.8 677.4h0M349.5 620.2h0M279.3 686.4h0M322.8 674.5h0M326.3 673.6h0M319.1 656.8h0M293.1 701.9h0M304.4 698.9h0M288.3 669.9h0M302.3 683.9h0M313.9 681.4h0M302.8 668.6h0M302.7 691.2h0M288.3 691.1h0M323.9 681.5h0M267.8 701.7h0M320.9 643.3h0M312.8 661.8h0M309.2 689.8h0M356.2 599.6h0M341.8 604.9h0M313.7 668.3h0M290.5 693.7h0M327.6 633.8h0M308.1 679.1h0M299.1 681.1h0M293.4 699.3h0M393.3 537.2h0M297.5 701.7h0M306.9 696.4h0M298.2 695.9h0M370.1 563.9h0M319.0 664.9h0M321.8 665.7h0M316.9 682.0h0M355.4 602.0h0M323.3 648.8h0M361.8 602.4h0M289.6 662.8h0M285.4 694.0h0M315.7 678.0h0M301.8 669.3h0M296.0 696.5h0M292.6 684.5h0M295.0 692.3h0M350.0 628.9h0M275.2 701.1h0M317.1 677.1h0M357.6 612.6h0M295.3 698.4h0M342.8 631.0h0M322.9 638.1h0M290.6 695.5h0M341.1 613.5h0M305.5 688.6h0M293.3 679.2h0M330.8 628.6h0M312.4 668.8h0M365.4 556.6h0M305.9 672.9h0M331.2 669.0h0M300.2 699.4h0M382.7 535.1h0M355.6 621.6h0M297.3 674.7h0M355.5 607.4h0M325.3 594.7h0M322.1 662.8h0M346.0 643.3h0M311.8 681.9h0M316.9 678.7h0M303.7 698.6h0M320.1 666.0h0M284.5 699.5h0M320.5 676.9h0M301.1 685.3h0M320.3 641.0h0M312.2 660.2h0M311.3 680.6h0M330.2 658.0h0M301.5 669.3h0M315.5 678.9h0M287.4 697.9h0M351.4 589.8h0M306.6 689.0h0M320.5 623.0h0M345.7 635.6h0M272.3 700.3h0M329.4 645.1h0M301.2 703.1h0M348.9 620.8h0M349.5 614.0h0M316.4 669.4h0M288.8 699.3h0M371.2 558.1h0M349.6 644.6h0M281.9 689.2h0M269.8 682.2h0M319.0 662.2h0M364.0 559.9h0M290.6 681.9h0M297.9 692.4h0M322.4 664.4h0M287.5 675.1h0M294.9 689.6h0M326.6 671.1h0M366.1 585.5h0M299.6 683.2h0M302.8 685.1h0M384.8 546.5h0M324.4 658.8h0M306.8 689.2h0M313.2 683.1h0M317.3 665.3h0M329.5 664.1h0M267.3 702.2h0M352.9 621.0h0M284.0 699.7h0M320.2 666.5h0M308.4 674.9h0M341.1 612.1h0M322.3 666.2h0M277.1 698.0h0M329.8 656.0h0M287.6 699.2h0M318.7 668.0h0M313.8 653.9h0M299.9 678.4h0M301.2 673.1h0M350.6 610.8h0M288.7 693.9h0M296.1 689.0h0M294.5 699.5h0M322.2 667.4h0M283.3 691.7h0M300.4 638.0h0M293.4 700.6h0M319.6 669.2h0M324.0 674.1h0M348.6 638.5h0M311.2 658.2h0M305.8 685.2h0M304.5 680.8h0M310.1 671.1h0M272.5 696.6h0M276.2 701.3h0M285.6 688.1h0M310.1 684.2h0M306.3 660.7h0M311.3 682.5h0M382.6 554.4h0M308.1 696.8h0M320.6 664.4h0M301.9 688.4h0M314.1 669.5h0M300.6 686.6h0M332.5 605.9h0M306.0 693.7h0M319.7 672.7h0M286.2 687.2h0M336.2 624.1h0M364.5 595.1h0M328.5 651.6h0M299.2 698.4h0M301.8 644.3h0M299.0 702.5h0M285.0 691.1h0M283.4 688.3h0M305.3 668.8h0M321.6 682.4h0M265.9 699.1h0M324.1 672.3h0M290.1 698.9h0M285.6 690.7h0M270.4 699.7h0M308.7 682.6h0M306.6 687.6h0M345.2 625.7h0M358.1 613.9h0M373.2 597.9h0M317.6 642.9h0M308.6 664.5h0M305.4 689.6h0M361.6 566.7h0M307.1 663.7h0M295.1 685.3h0M329.8 640.4h0M317.9 671.1h0M333.3 633.3h0M356.3 617.3h0M371.2 596.8h0M291.9 698.1h0M340.1 629.2h0M304.7 691.7h0M282.9 698.6h0M296.6 700.2h0M317.1 669.8h0M327.8 633.6h0M349.2 608.0h0M341.2 644.1h0M303.3 695.9h0M285.2 696.0h0M332.4 640.8h0M312.8 687.8h0M308.3 681.3h0M313.0 667.5h0M281.0 698.4h0M302.6 694.8h0M319.1 644.4h0M362.3 602.0h0M370.7 578.0h0M303.5 683.4h0M305.6 698.7h0M349.4 619.9h0M303.1 689.9h0M302.9 682.7h0M344.5 600.3h0M317.9 683.1h0M339.6 638.0h0M306.7 694.1h0M313.9 639.7h0M335.9 652.3h0M291.0 690.5h0M323.5 674.1h0M307.5 670.0h0M338.4 653.1h0M284.1 696.3h0M332.9 652.9h0M302.6 700.1h0M362.9 568.4h0M285.0 699.4h0M298.9 696.2h0M310.5 680.2h0M337.7 651.2h0M330.5 651.2h0M312.4 673.1h0M298.0 680.5h0M305.1 671.4h0M294.3 681.0h0M292.1 684.4h0M321.8 640.3h0M309.0 673.1h0M278.8 687.3h0M327.0 648.9h0M287.1 703.0h0M310.7 674.4h0M351.7 629.7h0M354.2 623.5h0M299.4 703.1h0M299.1 697.4h0M336.8 656.4h0M330.0 644.3h0M304.5 700.2h0M329.0 616.5h0M298.0 702.7h0M293.4 683.3h0M310.9 663.8h0M312.1 683.4h0M316.4 664.0h0M345.9 609.2h0M289.4 690.0h0M313.2 666.5h0M287.5 702.3h0M330.8 658.9h0M282.3 695.0h0M273.4 694.8h0M301.3 696.2h0M378.9 568.7h0M351.0 599.1h0M286.9 698.0h0M324.9 660.8h0M302.3 697.0h0M280.4 694.7h0M306.2 686.7h0M362.8 570.8h0M288.5 691.8h0M283.6 697.4h0M337.9 654.6h0M351.6 624.3h0M295.1 682.0h0M309.6 657.9h0M301.5 667.0h0M328.5 621.2h0M292.7 699.2h0M300.5 696.8h0M277.6 701.9h0M324.2 639.3h0M325.4 650.1h0M305.6 686.0h0M347.3 605.3h0M311.8 663.0h0M300.3 680.3h0M305.1 687.7h0M281.7 683.2h0M325.8 658.5h0M297.1 693.0h0M310.9 674.6h0M292.8 685.0h0M286.9 691.4h0M277.5 695.7h0M315.1 655.8h0M281.5 666.6h0M340.1 649.6h0M305.2 682.5h0M275.6 694.3h0M312.4 682.4h0M305.0 665.2h0M307.9 656.8h0M326.6 651.6h0M360.1 562.2h0M297.5 701.0h0M311.8 674.7h0M281.4 690.0h0M296.9 703.1h0M293.2 674.0h0M337.5 656.9h0M300.9 657.8h0M283.5 702.3h0M312.3 669.4h0M339.1 640.6h0M277.8 697.1h0M322.0 654.8h0M303.1 680.9h0M304.9 690.3h0M330.7 667.2h0M343.8 600.5h0M294.6 691.3h0M307.1 675.0h0M303.4 670.4h0M320.1 678.4h0M295.0 690.5h0M310.3 666.5h0M280.8 691.2h0M307.2 660.5h0M299.3 696.3h0M310.9 691.9h0M271.7 702.2h0M313.4 612.6h0M289.5 695.0h0M319.3 665.9h0M326.6 648.2h0M365.4 598.4h0M295.1 668.5h0M316.2 662.5h0M329.3 616.6h0M307.0 649.7h0M291.4 701.0h0M370.8 592.1h0M344.1 636.2h0M306.2 689.4h0M313.2 682.3h0M278.1 693.4h0M311.7 651.4h0M315.8 678.7h0M274.4 697.2h0M328.4 659.2h0M314.6 671.4h0M317.8 656.0h0M346.7 603.0h0M369.5 580.7h0M384.7 564.1h0M325.4 654.2h0M352.7 594.8h0M363.8 574.1h0M297.3 687.0h0M333.0 655.6h0M308.6 683.3h0M309.3 674.9h0M294.6 690.8h0M299.7 674.1h0M277.9 694.5h0M292.1 677.1h0M340.8 632.0h0M285.6 697.9h0M321.6 676.0h0M372.4 569.3h0M294.5 690.3h0M310.5 686.5h0M315.5 675.9h0M329.2 670.9h0M285.9 685.4h0M301.5 698.4h0M304.8 663.1h0M301.6 695.0h0M287.8 690.2h0M338.6 616.8h0M278.4 702.7h0M310.1 682.4h0M372.3 598.4h0M292.2 670.5h0M304.9 682.0h0M283.9 702.4h0M290.8 688.5h0M320.9 652.3h0M302.3 684.7h0M372.2 563.0h0M312.2 657.6h0M332.4 647.8h0M346.9 603.8h0M302.4 690.0h0M333.2 653.7h0M326.5 670.0h0M276.4 697.0h0M281.1 699.9h0M298.2 685.0h0M329.3 657.6h0M302.5 641.4h0M297.9 696.3h0M334.2 632.5h0M352.9 598.8h0M297.9 693.9h0M299.2 682.6h0M288.8 684.5h0M298.2 689.4h0M356.8 601.2h0M276.7 691.6h0M299.2 698.5h0M288.7 675.7h0M295.0 700.5h0M300.2 698.2h0M297.9 700.4h0M300.4 693.2h0M313.1 679.4h0M304.7 677.1h0M368.5 596.4h0M340.5 646.9h0M324.5 667.7h0M310.2 690.1h0M314.5 673.5h0M279.6 698.2h0M325.3 661.8h0M378.7 560.0h0M363.9 605.8h0M257.4 688.6h0M325.4 660.1h0M314.0 650.1h0M348.0 627.8h0M294.2 691.1h0M358.0 613.0h0M303.1 688.4h0M333.9 655.0h0M289.0 701.5h0M311.4 655.3h0M288.6 690.0h0M312.2 684.2h0M354.4 584.6h0M296.1 690.6h0M326.2 675.6h0M347.2 646.6h0M311.6 684.9h0M292.6 698.8h0M327.1 654.9h0M324.8 662.8h0M333.6 648.7h0M298.2 694.2h0M293.4 695.9h0M325.7 630.4h0M276.5 687.7h0M309.2 668.7h0M325.5 672.9h0M275.4 691.9h0M314.9 671.1h0M304.4 690.3h0M305.7 685.9h0M279.2 695.3h0M309.9 697.5h0M297.9 684.2h0M309.5 680.0h0M300.7 679.2h0M320.8 670.8h0M296.8 683.5h0M344.2 573.8h0M326.4 646.9h0M308.9 661.3h0M314.6 685.5h0M286.3 685.9h0M364.1 619.7h0M347.0 603.0h0M335.5 654.5h0M346.3 639.3h0M295.2 692.4h0M319.6 662.4h0M305.6 689.0h0M305.9 660.1h0M298.5 675.7h0M288.8 683.6h0M329.6 667.6h0M279.5 662.2h0M288.2 698.6h0M303.8 690.7h0M295.0 698.9h0M293.3 693.9h0M306.4 681.0h0M308.4 659.8h0M363.2 619.1h0M346.4 619.8h0M312.0 670.5h0M360.2 616.5h0M352.1 610.7h0M324.3 663.7h0M335.3 663.6h0M303.1 700.9h0M287.2 680.0h0M304.5 690.1h0M306.0 695.3h0M370.0 585.6h0M311.7 690.0h0M293.8 692.0h0M335.8 622.8h0M271.6 691.4h0M336.1 621.6h0M345.2 618.6h0M300.5 681.4h0M265.8 701.3h0M302.1 700.5h0M310.4 678.2h0M274.9 699.2h0M328.4 625.7h0M298.2 683.0h0M339.7 626.3h0M303.6 687.2h0M337.2 631.1h0M298.6 701.1h0M281.3 693.8h0M283.9 702.2h0M299.2 693.4h0M283.9 696.1h0M302.5 700.1h0M326.7 665.5h0M307.6 674.5h0M302.6 695.2h0M286.1 691.5h0M350.3 614.6h0M295.7 677.8h0M343.2 651.4h0M349.0 639.4h0M317.7 664.3h0M313.5 670.7h0M314.9 675.5h0M295.3 696.2h0M289.8 688.7h0M332.7 621.2h0M334.0 634.8h0M273.1 702.5h0M332.8 648.0h0M305.7 697.8h0M312.4 683.8h0M360.0 591.1h0M363.3 564.0h0M358.9 569.1h0M302.3 681.9h0M365.9 597.6h0M312.4 683.9h0M302.4 678.9h0M309.8 676.6h0M302.6 691.3h0M298.8 676.7h0M329.8 598.6h0M363.1 582.3h0M351.1 623.9h0M286.3 686.8h0M299.8 672.6h0M327.1 670.7h0M327.3 646.0h0M328.3 661.9h0M343.0 613.7h0M309.6 667.1h0M289.5 699.0h0M312.4 693.6h0M360.7 609.2h0M315.7 658.1h0M281.4 699.0h0M308.7 692.4h0M311.9 669.9h0M293.8 690.0h0M327.4 663.5h0M306.5 681.9h0M319.0 652.7h0M346.9 624.9h0M342.1 620.1h0M280.0 698.7h0M294.4 668.0h0M338.0 638.7h0M286.9 698.8h0M301.5 683.2h0M298.8 679.7h0M337.6 627.8h0M331.8 635.4h0M314.7 662.8h0M321.0 666.3h0M303.4 666.6h0M311.8 647.6h0M277.7 690.6h0M293.9 682.1h0M294.2 701.8h0M283.8 692.0h0M291.3 679.3h0M308.4 674.2h0M279.0 696.8h0M322.3 673.5h0M291.3 699.3h0M300.2 673.3h0M289.1 700.0h0M344.5 653.6h0M317.8 648.8h0M306.6 662.2h0M311.3 664.3h0M318.7 659.5h0M316.9 686.3h0M323.1 652.8h0M304.1 688.8h0M279.6 681.1h0M329.9 627.9h0M366.7 601.1h0M301.2 700.4h0M334.4 641.0h0M299.8 689.5h0M315.2 675.4h0M339.2 583.1h0M295.6 681.4h0M283.9 699.7h0M319.8 651.0h0M324.1 671.4h0M326.1 672.4h0M284.0 696.0h0M305.4 643.3h0M337.4 629.0h0M285.7 702.5h0M329.5 644.0h0M297.3 697.5h0M326.3 653.7h0M281.5 677.9h0M311.2 672.8h0M359.1 587.3h0M294.6 701.8h0M315.2 679.5h0M311.8 630.8h0M311.1 661.7h0M342.2 612.6h0M302.9 667.7h0M337.1 655.7h0M288.1 694.9h0M327.6 651.1h0M304.8 674.5h0M285.9 697.6h0M350.7 626.4h0M314.8 681.2h0M347.6 592.0h0M295.8 696.4h0M314.7 661.7h0M331.7 648.6h0M279.7 702.3h0M350.7 625.7h0M369.4 590.0h0M323.8 666.0h0M324.5 616.3h0M279.0 697.0h0M316.7 682.8h0M352.7 618.8h0M331.1 655.8h0M276.9 702.7h0M317.7 664.3h0M276.8 702.6h0M306.4 682.0h0M311.9 657.9h0M297.2 670.6h0M326.4 640.4h0M279.6 700.3h0M305.4 696.6h0M322.1 676.7h0M305.1 683.9h0M339.8 620.2h0M318.5 626.6h0M310.6 634.9h0M292.1 693.5h0M323.4 663.9h0M277.1 682.4h0M354.0 616.6h0M309.1 692.4h0M306.5 673.3h0M336.9 644.4h0M292.7 693.9h0M305.9 672.8h0M326.8 644.1h0M317.8 669.6h0M330.0 642.6h0M349.4 570.8h0M333.8 651.7h0M316.4 657.3h0M326.8 666.3h0M313.3 679.5h0M303.1 683.7h0M264.0 696.2h0M294.8 702.6h0M332.9 632.6h0M310.6 678.7h0M293.8 670.1h0M299.3 657.4h0M321.0 651.6h0M310.6 656.9h0M306.2 694.3h0M293.3 701.6h0M297.6 674.5h0M271.7 692.8h0M320.9 663.1h0M317.2 658.0h0M296.7 689.6h0M318.5 680.8h0M303.6 690.3h0M307.8 675.2h0M281.2 697.5h0M286.6 675.6h0M331.5 635.8h0M319.6 669.3h0M298.9 698.1h0M318.6 645.6h0M293.2 663.7h0M330.3 656.8h0M275.4 697.7h0M332.2 641.3h0M346.5 601.3h0M348.8 620.1h0M327.3 631.5h0M289.0 687.6h0M294.3 695.9h0M291.8 702.2h0M327.1 656.3h0M347.2 619.2h0M341.4 637.4h0M288.9 696.7h0M350.0 639.7h0M370.6 580.9h0M324.7 653.7h0M329.9 625.1h0M307.6 684.3h0M302.3 698.1h0M356.9 625.5h0M318.2 673.1h0M313.4 675.5h0M291.5 697.4h0M309.0 690.9h0M344.9 592.0h0M293.0 694.6h0M314.1 682.8h0M352.6 616.8h0M319.4 678.9h0M302.2 695.4h0M354.8 621.5h0M336.8 643.9h0M294.4 688.4h0M310.2 680.9h0M289.7 700.7h0M308.2 686.6h0M339.3 617.6h0M318.0 672.5h0M334.1 653.7h0M344.2 591.2h0M288.4 688.5h0M347.2 618.3h0M311.3 681.4h0M304.7 683.9h0M297.5 690.0h0M363.0 608.6h0M271.8 695.5h0M290.8 690.9h0M332.2 631.3h0M295.0 701.9h0M264.1 698.0h0M269.5 696.6h0M296.4 700.9h0M288.9 695.6h0M357.5 622.6h0M286.9 697.6h0M309.8 676.3h0M309.3 685.3h0M305.2 681.2h0M330.7 662.4h0M311.4 666.0h0M300.5 697.2h0M322.0 632.0h0M342.7 645.7h0M324.4 664.5h0M308.6 668.6h0M358.5 550.3h0M297.3 699.6h0M342.5 608.0h0M306.7 672.3h0M299.3 702.0h0M310.0 675.4h0M264.8 701.7h0M322.3 673.3h0M288.4 689.5h0M380.7 551.9h0M335.8 645.1h0M330.2 652.9h0M309.5 677.1h0M335.3 628.2h0M321.1 653.9h0M291.7 675.5h0M328.5 610.4h0M303.3 668.6h0M293.7 675.6h0M313.0 691.2h0M291.0 692.0h0M300.3 688.3h0M290.0 686.0h0M293.9 701.5h0M323.3 671.1h0M271.4 700.5h0M292.8 676.1h0M344.3 636.9h0M293.6 700.1h0M289.0 685.5h0M309.7 659.3h0M367.8 574.6h0M359.8 596.3h0M324.6 628.9h0M273.3 686.4h0M312.8 679.2h0M295.2 694.3h0M303.7 671.2h0M291.0 682.9h0M324.2 678.7h0M261.9 694.5h0M305.2 659.7h0M297.7 694.7h0M306.2 690.5h0M297.3 690.6h0M304.7 699.0h0M292.0 677.3h0M311.8 663.2h0M303.0 680.5h0M321.4 671.8h0M337.5 652.3h0M285.8 699.8h0M309.1 692.9h0M302.8 669.3h0M286.7 690.6h0M351.1 620.0h0M356.0 601.5h0M329.9 655.0h0M300.8 680.5h0M300.1 687.8h0M326.2 655.1h0M309.3 668.7h0M328.1 663.8h0M297.0 693.8h0M339.4 632.8h0M313.7 631.8h0M298.6 694.2h0M312.2 653.7h0M317.0 675.0h0M313.4 633.1h0M306.6 689.1h0M324.7 643.9h0M289.1 688.0h0M346.7 595.1h0M278.6 687.9h0M299.5 688.6h0M353.7 582.5h0M298.2 689.3h0M318.9 677.7h0M297.4 693.4h0M353.5 636.3h0M317.7 675.7h0M297.4 681.7h0M296.4 687.1h0M296.4 689.7h0M315.4 683.5h0M308.6 646.3h0M344.6 575.2h0M306.4 693.1h0M329.8 643.0h0M293.9 702.6h0M327.8 669.1h0M304.9 668.9h0M295.9 693.6h0M285.0 694.4h0M273.7 691.0h0M296.5 686.9h0M318.4 662.1h0M350.4 588.1h0M368.5 597.9h0M335.7 629.1h0M310.5 628.3h0M303.9 696.2h0M341.1 637.8h0M292.0 698.1h0M382.8 546.3h0M297.5 701.8h0M286.7 689.4h0M307.8 669.3h0M336.3 662.8h0M355.8 625.9h0M347.7 602.0h0M303.1 687.1h0M283.4 692.1h0M340.7 618.1h0M325.1 673.1h0M309.6 692.6h0M317.4 656.8h0M330.1 635.9h0M301.0 659.6h0M296.6 696.4h0M269.7 698.7h0M359.5 617.3h0M315.0 685.8h0M356.9 616.6h0M275.7 696.1h0M352.5 615.9h0M341.7 637.7h0M352.8 602.3h0M333.1 650.5h0M352.3 632.7h0M318.1 677.5h0M321.3 679.9h0M295.7 702.4h0M289.7 702.9h0M357.9 601.2h0M319.6 642.0h0M302.9 661.8h0M272.4 682.5h0M325.3 662.1h0M337.0 636.1h0M340.5 635.5h0M366.5 602.9h0M307.6 659.9h0M304.8 699.5h0M297.0 694.7h0M314.8 686.3h0M309.1 695.4h0M343.4 628.8h0M321.0 660.2h0M286.8 698.8h0M329.5 618.3h0M299.3 693.7h0M333.8 653.0h0M321.5 634.1h0M283.0 701.8h0M363.4 616.4h0M284.1 700.1h0M317.2 648.4h0M323.1 642.3h0M315.0 681.2h0M329.8 666.6h0M321.0 681.4h0M326.7 663.1h0M283.8 672.6h0M279.5 687.1h0M367.6 582.3h0M286.8 696.5h0M272.0 691.1h0M309.5 669.6h0M350.7 609.7h0M324.5 676.5h0M327.4 637.8h0M305.0 658.0h0M316.4 654.6h0M307.2 692.2h0M292.9 700.8h0M353.7 628.2h0M302.6 683.8h0M322.0 673.8h0M322.0 680.2h0M317.6 660.1h0M325.9 626.0h0M325.2 677.7h0M284.0 697.8h0M324.8 626.2h0M288.5 689.2h0M308.9 688.3h0M289.0 701.5h0M305.2 683.7h0M288.8 694.4h0M304.9 699.0h0M306.5 684.6h0M301.1 702.9h0M318.3 632.3h0M314.0 686.1h0M322.6 653.2h0M288.5 698.8h0M309.9 676.8h0M305.6 692.9h0M307.8 696.9h0M363.6 549.4h0M307.9 685.1h0M299.5 699.2h0M357.9 623.8h0M301.3 681.0h0M314.6 614.8h0M282.6 701.2h0M306.1 676.6h0M322.8 656.5h0M335.9 637.8h0M328.2 623.1h0M339.7 635.4h0M308.1 690.6h0M309.9 665.2h0M343.9 650.0h0M298.2 701.9h0M298.5 697.1h0M304.9 662.5h0M293.8 693.1h0M296.5 694.4h0M303.6 678.9h0M325.8 634.0h0M313.1 639.8h0M331.2 666.6h0M290.2 696.4h0M331.9 611.7h0M309.8 685.8h0M281.0 692.0h0M299.3 691.7h0M308.3 670.6h0M291.7 702.3h0M317.5 691.8h0M391.5 544.8h0M305.2 685.2h0M312.8 673.4h0M307.6 688.1h0M305.0 664.8h0M364.9 576.8h0M374.3 577.0h0M308.6 697.4h0M295.0 685.3h0M332.5 653.5h0M320.4 667.9h0M318.0 684.9h0M281.6 691.5h0M306.9 693.7h0M278.5 694.6h0M366.9 562.5h0M344.6 633.3h0M278.6 682.0h0M337.5 638.0h0M269.6 701.2h0M308.8 676.0h0M281.1 696.7h0M306.8 673.8h0M308.1 675.6h0M369.4 550.4h0M312.2 672.6h0M360.4 611.5h0M324.4 677.5h0M328.3 659.8h0M315.1 645.3h0M304.8 671.7h0M322.8 652.4h0M310.5 688.9h0M319.9 662.2h0M292.2 700.7h0M328.1 628.1h0M342.7 627.7h0M348.1 579.5h0M312.9 671.0h0M283.5 698.0h0M331.0 634.0h0M300.0 667.6h0M336.0 629.5h0M302.7 696.3h0M308.8 665.2h0M297.5 671.4h0M334.7 590.4h0M343.5 641.8h0M318.0 686.8h0M281.9 702.6h0M295.3 702.7h0M279.6 701.3h0M307.5 641.6h0M301.8 667.7h0M318.2 676.0h0M369.4 588.4h0M311.9 671.5h0M306.6 693.6h0M357.0 616.5h0M290.2 701.3h0M349.2 614.0h0M339.4 618.3h0M291.1 685.1h0M319.6 665.4h0M364.4 609.9h0M313.2 689.7h0M320.3 679.4h0M324.5 677.8h0M324.2 637.3h0M310.8 646.3h0M306.8 650.0h0M298.5 685.7h0M289.7 700.4h0M318.8 661.5h0M326.6 642.8h0M315.5 682.5h0M335.9 636.8h0M321.9 639.3h0M323.7 626.8h0M322.9 637.1h0M296.7 697.7h0M316.5 659.9h0M336.5 646.8h0M353.4 618.6h0M293.9 670.7h0M304.6 694.5h0M304.4 659.4h0M298.8 680.6h0M301.8 676.6h0M269.1 692.8h0M306.3 692.0h0M293.4 678.3h0M297.5 695.8h0M295.7 687.5h0M288.5 700.8h0M345.1 614.5h0M319.0 681.1h0M321.6 634.1h0M304.9 655.4h0M313.0 683.2h0M336.7 637.1h0M290.3 673.9h0M353.9 614.4h0M319.7 673.0h0M282.0 697.3h0M294.3 678.6h0M354.2 605.3h0M292.1 691.6h0M344.5 618.4h0M292.3 688.0h0M314.9 654.9h0M335.5 629.6h0M334.7 654.9h0M312.9 676.5h0M283.4 698.2h0M332.6 658.3h0M304.5 635.4h0M352.8 632.2h0M285.3 695.7h0M308.5 655.8h0M349.5 600.4h0M410.7 688.8h0M423.5 614.7h0M356.2 699.4h0M398.1 536.0h0M367.7 668.7h0M416.6 664.0h0M418.2 472.2h0M424.6 698.8h0M412.6 646.2h0M420.9 523.0h0M423.1 688.0h0M341.1 677.9h0M376.4 622.3h0M424.3 647.4h0M426.4 515.2h0M346.3 697.6h0M355.5 686.5h0M373.2 691.2h0M422.1 673.1h0M385.8 683.2h0M350.5 675.1h0M369.2 642.3h0" stroke="#ddecf7" stroke-width="2.7" stroke-linecap="round" fill="none"/>
<path d="M313.2 649.9h0M296.3 691.5h0M345.3 558.7h0M277.3 700.5h0M287.0 699.9h0M269.9 699.0h0M302.2 674.7h0M292.8 691.7h0M312.8 666.8h0M295.5 684.2h0M299.5 649.9h0M292.6 683.3h0M340.7 616.7h0M338.1 583.0h0M279.7 661.5h0M348.4 592.1h0M282.6 695.2h0M285.6 681.1h0M277.8 673.7h0M293.3 655.7h0M286.5 698.2h0M343.2 580.0h0M310.1 685.7h0M307.7 636.0h0M285.0 660.3h0M262.6 700.5h0M301.0 659.9h0M279.3 697.6h0M327.3 622.8h0M301.2 666.7h0M294.4 670.8h0M295.5 683.7h0M294.7 657.3h0M299.3 677.1h0M314.2 637.0h0M278.5 700.0h0M272.7 686.9h0M281.3 670.6h0M318.6 622.6h0M263.0 702.1h0M282.0 680.3h0M269.2 678.6h0M291.4 679.3h0M278.6 700.1h0M278.7 688.3h0M292.8 645.5h0M275.0 680.6h0M272.1 673.9h0M298.2 684.7h0M275.1 686.6h0M366.1 549.8h0M310.3 688.4h0M279.8 690.2h0M285.7 691.5h0M279.5 670.2h0M327.8 637.2h0M289.5 690.2h0M319.7 657.2h0M345.8 576.3h0M271.5 685.9h0M272.8 701.1h0M346.2 611.2h0M294.6 683.6h0M313.9 639.2h0M318.4 653.5h0M294.0 688.0h0M290.6 665.7h0M296.1 697.4h0M285.0 686.8h0M321.2 644.2h0M290.1 672.3h0M314.3 673.1h0M300.2 691.0h0M282.0 697.6h0M289.1 699.9h0M289.0 675.1h0M271.0 688.1h0M307.4 658.1h0M333.7 601.4h0M320.2 632.9h0M296.4 684.4h0M287.0 686.9h0M283.8 690.8h0M309.1 650.6h0M282.2 666.2h0M301.0 611.8h0M330.1 622.6h0M278.1 684.2h0M331.3 644.5h0M304.7 678.8h0M298.3 672.0h0M321.6 645.9h0M335.9 612.4h0M280.0 689.2h0M300.7 647.0h0M289.9 671.7h0M328.9 633.9h0M328.5 602.5h0M335.4 600.2h0M309.5 637.5h0M260.2 703.0h0M303.0 655.2h0M328.5 621.3h0M335.8 612.3h0M322.8 616.7h0M303.3 650.6h0M284.0 702.7h0M290.1 669.3h0M272.9 686.9h0M296.8 690.0h0M290.8 698.9h0M282.9 682.0h0M277.3 696.8h0M299.8 661.2h0M309.3 654.2h0M302.3 680.3h0M289.3 671.0h0M312.8 638.2h0M292.0 693.9h0M278.3 680.5h0M263.9 700.2h0M339.6 590.1h0M293.7 685.3h0M272.4 702.4h0M260.2 689.5h0M296.2 690.2h0M271.4 671.0h0M305.4 670.8h0M284.2 695.2h0M308.0 628.7h0M294.1 655.1h0M313.1 607.7h0M262.5 693.0h0M269.5 701.6h0M308.0 670.2h0M322.4 636.9h0M289.2 681.5h0M284.6 701.5h0M259.8 699.6h0M284.8 692.0h0M308.8 646.2h0M307.0 684.2h0M268.5 700.7h0M372.9 537.1h0M277.4 666.0h0M316.3 659.5h0M278.6 675.9h0M280.4 702.7h0M269.7 702.2h0M312.0 668.1h0M290.7 688.0h0M284.7 702.0h0M305.5 652.5h0M287.6 700.1h0M322.8 644.9h0M282.9 681.3h0M275.7 693.8h0M301.6 663.8h0M344.6 595.3h0M300.5 657.1h0M298.8 679.5h0M279.4 677.4h0M283.0 693.7h0M260.9 691.2h0M331.3 630.0h0M305.3 645.3h0M307.7 676.0h0M304.2 643.1h0M335.1 629.4h0M321.2 637.5h0M277.6 692.0h0M292.2 677.7h0M311.9 640.7h0M291.2 679.9h0M322.4 666.8h0M299.8 671.2h0M295.4 681.5h0M304.3 696.3h0M308.7 636.7h0M284.4 688.1h0M322.2 620.0h0M286.6 682.1h0M293.9 660.7h0M294.8 693.9h0M284.7 682.1h0M282.9 698.1h0M294.0 690.2h0M285.2 686.6h0M268.4 697.4h0M266.1 689.7h0M283.7 684.4h0M345.0 596.3h0M265.0 676.2h0M293.6 674.4h0M359.6 620.5h0M334.9 603.4h0M280.2 677.9h0M292.3 688.4h0M288.2 680.3h0M348.8 569.1h0M263.9 690.5h0M288.3 676.2h0M287.0 699.0h0M334.1 636.6h0M358.5 550.9h0M283.6 692.3h0M288.4 675.6h0M330.4 640.4h0M294.0 651.1h0M345.3 596.8h0M283.1 683.6h0M284.3 702.0h0M337.2 614.8h0M315.1 646.0h0M290.3 680.6h0M335.3 617.9h0M328.4 620.1h0M287.6 637.4h0M329.9 630.3h0M250.9 693.7h0M318.3 652.3h0M327.0 651.5h0M325.4 620.6h0M272.4 686.9h0M272.5 692.8h0M291.1 697.6h0M270.5 696.7h0M309.7 657.5h0M339.7 646.9h0M319.1 603.7h0M284.2 684.1h0M271.3 685.5h0M289.9 694.0h0M358.6 590.3h0M291.8 659.9h0M281.0 688.2h0M336.7 650.5h0M347.0 577.3h0M283.7 679.6h0M326.0 657.2h0M289.9 694.8h0M322.9 640.8h0M298.0 692.4h0M318.7 635.3h0M321.5 600.7h0M282.3 702.1h0M278.2 693.7h0M290.2 667.4h0M345.7 579.9h0M280.4 693.3h0M323.8 605.0h0M256.8 698.1h0M250.8 692.7h0M303.7 646.7h0M287.7 674.4h0M332.3 637.5h0M302.0 644.3h0M321.3 630.7h0M314.3 636.6h0M275.2 693.3h0M354.1 566.1h0M276.0 700.6h0M346.5 605.5h0M294.4 691.0h0M289.4 687.3h0M285.6 659.9h0M344.5 572.9h0M345.0 581.9h0M279.3 696.2h0M310.8 640.2h0M288.9 694.9h0M327.0 616.1h0M290.5 687.9h0M291.4 674.8h0M317.5 621.4h0M316.1 651.1h0M362.7 602.3h0M283.8 693.3h0M271.7 695.1h0M279.9 699.9h0M316.1 644.2h0M293.0 692.8h0M286.4 679.7h0M305.3 666.1h0M259.6 687.0h0M352.9 628.8h0M254.9 694.4h0M336.0 599.9h0M269.3 696.7h0M354.6 572.0h0M275.7 691.7h0M269.9 694.5h0M296.6 692.9h0M311.3 632.1h0M306.5 696.3h0M266.7 698.8h0M274.0 688.8h0M298.5 681.9h0M293.2 695.9h0M303.6 675.4h0M285.7 701.6h0M273.3 664.6h0M296.9 685.7h0M290.6 695.9h0M282.6 689.1h0M278.4 692.9h0M302.8 666.8h0M365.1 585.6h0M295.6 677.6h0M286.9 700.9h0M281.3 686.8h0M298.9 683.4h0M301.1 669.7h0M285.3 678.4h0M282.1 681.1h0M282.4 683.3h0M295.6 699.0h0M298.4 700.0h0M282.7 700.6h0M280.6 693.0h0M323.9 650.4h0M331.5 639.5h0M356.2 559.4h0M298.9 702.9h0M300.8 685.7h0M283.5 665.6h0M314.3 655.6h0M271.8 694.3h0M298.6 663.4h0M307.4 680.5h0M288.7 692.0h0M290.5 691.2h0M277.3 682.1h0M299.3 684.5h0M347.8 624.6h0M318.8 673.9h0M281.6 678.9h0M296.4 659.8h0M307.7 667.2h0M312.9 628.7h0M295.4 666.1h0M296.5 694.9h0M318.9 671.1h0M319.2 652.2h0M316.6 631.7h0M282.9 691.2h0M268.3 668.4h0M313.9 655.1h0M267.0 700.3h0M261.0 691.9h0M305.9 655.3h0M273.2 685.7h0M304.9 658.8h0M332.3 640.8h0M324.3 614.4h0M317.2 637.0h0M265.9 702.0h0M261.5 696.7h0M297.5 665.4h0M262.2 700.7h0M293.7 685.2h0M317.0 645.1h0M331.2 643.1h0M283.6 651.2h0M341.0 619.1h0M274.8 681.9h0M302.4 644.8h0M265.8 701.2h0M284.8 669.0h0M275.3 699.7h0M308.7 662.3h0M277.1 685.1h0M309.1 648.4h0M318.4 638.0h0M259.1 680.2h0M372.0 577.7h0M294.8 656.8h0M298.9 692.1h0M283.3 684.5h0M327.1 630.1h0M301.4 643.3h0M279.0 684.6h0M330.6 582.1h0M321.9 630.3h0M318.3 637.4h0M331.0 602.8h0M284.5 683.2h0M259.4 692.4h0M333.9 600.2h0M298.0 686.9h0M299.4 669.0h0M298.3 651.3h0M291.7 688.5h0M307.7 677.0h0M272.4 699.9h0M309.3 624.5h0M297.7 685.9h0M247.2 699.4h0M280.9 661.2h0M292.7 687.3h0M273.4 688.7h0M306.6 676.6h0M283.5 702.0h0M295.3 672.8h0M260.0 699.5h0M313.7 653.8h0M296.8 691.6h0M277.1 689.0h0M303.6 650.5h0M287.6 668.8h0M295.4 636.8h0M293.0 689.2h0M359.3 606.3h0M298.0 675.1h0M278.0 693.7h0M371.9 540.5h0M287.9 679.4h0M298.0 680.3h0M297.0 646.7h0M307.9 620.4h0M298.2 649.5h0M346.9 586.6h0M308.0 652.0h0M346.9 600.6h0M307.4 647.5h0M325.9 636.0h0M282.5 690.0h0M318.0 656.9h0M316.7 588.6h0M263.8 696.6h0M275.5 693.8h0M293.3 685.3h0M276.1 688.2h0M332.2 635.0h0M282.9 687.5h0M323.6 651.2h0M311.2 648.2h0M316.7 641.8h0M317.3 671.7h0M303.1 645.3h0M294.5 675.7h0M296.5 681.8h0M272.7 699.7h0M288.3 700.6h0M304.7 641.0h0M345.2 596.8h0M275.0 693.8h0M285.7 695.4h0M339.1 622.5h0M309.7 676.0h0M279.0 687.7h0M281.7 688.0h0M288.5 633.5h0M291.1 669.9h0M298.2 674.4h0M286.7 695.0h0M291.4 685.3h0M296.0 660.5h0M300.0 641.8h0M295.8 645.5h0M278.9 694.3h0M288.7 663.1h0M298.5 662.9h0M345.4 596.2h0M309.3 664.3h0M276.6 683.4h0M296.7 672.6h0M287.8 701.9h0M269.1 696.4h0M277.8 698.9h0M293.8 677.6h0M307.1 675.8h0M282.2 699.0h0M299.0 657.9h0M308.2 658.4h0M275.0 693.7h0M278.4 694.8h0M273.7 674.4h0M274.7 670.8h0M278.5 701.7h0M292.2 690.3h0M268.0 685.1h0M321.0 634.0h0M278.2 649.7h0M312.6 639.6h0M274.3 686.1h0M268.4 699.8h0M285.1 670.4h0M291.9 690.9h0M290.4 688.2h0M268.0 665.8h0M313.5 633.4h0M293.4 658.6h0M288.3 654.3h0M279.3 687.0h0M290.6 702.1h0M307.2 671.4h0M306.2 655.4h0M299.6 663.2h0M279.0 696.2h0M282.1 696.0h0M327.9 603.9h0M328.6 623.1h0M301.5 669.3h0M283.1 683.8h0M275.9 702.8h0M293.4 649.4h0M299.0 671.3h0M293.7 660.8h0M284.0 681.5h0M303.1 688.9h0M382.3 684.3h0M341.5 680.4h0M415.1 613.3h0M384.7 582.8h0M401.6 593.2h0M409.9 517.7h0M331.6 702.5h0M362.3 678.0h0M379.8 653.5h0M408.5 503.1h0M342.1 662.1h0M401.3 636.0h0M361.5 655.2h0M416.6 583.5h0M425.0 610.9h0M408.0 500.6h0M399.4 624.2h0M377.6 604.1h0M384.6 626.2h0M383.1 639.2h0M359.9 650.8h0M403.5 536.9h0M421.6 579.7h0M319.3 699.8h0M395.6 617.0h0M409.5 667.4h0M388.5 590.1h0M374.0 605.9h0M86.5 591.0h0M86.5 605.0h0M86.5 621.0h0M91.5 615.5h0M86.5 652.0h0M124.0 652.0h0M125.0 662.5h0M121.5 673.0h0M140.0 677.5h0M149.0 694.5h0M101.5 690.5h0" stroke="#cce2f3" stroke-width="2.7" stroke-linecap="round" fill="none"/>
<path d="M278.0 698.7h0M286.8 678.1h0M288.1 644.7h0M300.5 622.0h0M275.9 678.0h0M298.3 689.5h0M264.9 684.3h0M299.4 641.2h0M272.0 682.4h0M336.3 598.6h0M282.1 696.1h0M280.0 661.3h0M287.9 670.5h0M271.9 679.7h0M253.7 697.7h0M278.1 677.3h0M328.1 583.3h0M330.3 595.4h0M252.6 692.7h0M301.5 682.6h0M286.6 665.8h0M288.5 691.7h0M330.5 594.0h0M279.0 699.8h0M269.2 698.3h0M283.0 696.9h0M274.3 700.6h0M294.9 688.5h0M265.4 681.8h0M276.1 675.8h0M322.5 633.6h0M261.3 702.2h0M338.2 594.4h0M290.4 630.3h0M275.1 682.2h0M307.4 648.2h0M300.0 652.1h0M282.4 694.5h0M295.7 643.4h0M276.3 692.0h0M343.7 613.1h0M263.9 698.3h0M281.9 668.1h0M336.6 581.9h0M308.9 658.4h0M282.0 692.7h0M303.2 612.9h0M279.4 650.4h0M273.6 689.0h0M308.1 649.2h0M287.7 698.2h0M290.4 685.2h0M318.2 651.0h0M255.1 686.5h0M330.1 632.7h0M271.3 698.2h0M290.3 657.6h0M273.0 678.9h0M272.1 699.9h0M275.6 691.9h0M269.8 684.9h0M253.2 697.3h0M293.0 676.9h0M266.8 696.7h0M272.9 697.1h0M299.4 666.4h0M306.3 684.0h0M258.2 697.4h0M320.2 641.1h0M264.6 696.8h0M281.5 665.8h0M295.9 645.2h0M342.5 576.4h0M277.5 664.5h0M271.4 665.8h0M302.9 646.9h0M263.2 690.1h0M333.4 632.2h0M259.8 702.2h0M288.3 634.1h0M283.4 681.1h0M286.8 630.1h0M314.9 627.9h0M323.3 598.4h0M306.1 646.4h0M281.8 664.9h0M264.4 697.1h0M293.2 686.9h0M284.7 674.2h0M268.7 683.7h0M321.4 643.7h0M269.4 702.0h0M295.8 658.4h0M286.8 678.3h0M286.0 665.4h0M305.3 657.1h0M270.1 702.2h0M263.1 690.4h0M262.1 672.3h0M270.4 697.2h0M285.7 685.7h0M347.4 578.5h0M281.2 668.6h0M274.3 702.2h0M294.7 676.9h0M278.0 688.8h0M266.1 672.0h0M263.5 674.4h0M263.4 698.1h0M241.7 699.0h0M312.5 638.0h0M257.7 697.4h0M304.7 660.8h0M275.5 689.7h0M287.6 651.6h0M272.0 701.6h0M274.3 695.8h0M331.5 611.0h0M301.6 636.1h0M322.8 629.1h0M341.8 566.4h0M273.4 700.2h0M285.1 676.8h0M296.3 655.2h0M256.0 695.9h0M291.5 659.3h0M281.8 667.1h0M284.0 666.4h0M272.3 697.7h0M286.5 666.2h0M284.1 679.1h0M255.9 700.1h0M320.4 641.2h0M264.0 685.5h0M271.3 663.3h0M273.8 685.0h0M268.3 697.7h0M334.8 618.3h0M262.5 674.5h0M290.4 701.6h0M275.4 690.6h0M333.9 610.2h0M278.8 688.3h0M292.5 670.9h0M249.4 700.7h0M264.3 680.4h0M341.6 603.1h0M271.1 699.4h0M264.2 703.1h0M278.8 676.8h0M284.9 657.2h0M289.3 672.4h0M347.8 561.9h0M281.9 681.6h0M311.7 685.6h0M267.9 700.4h0M287.6 684.1h0M294.1 663.0h0M311.2 624.1h0M257.3 696.8h0M309.5 605.1h0M282.4 672.2h0M302.4 635.0h0M272.5 692.0h0M289.5 672.6h0M299.7 661.9h0M267.0 682.4h0M289.9 679.0h0M257.9 694.5h0M268.5 695.2h0M273.2 692.9h0M273.4 689.9h0M321.5 608.6h0M280.3 699.1h0M321.6 600.1h0M318.2 621.7h0M277.6 702.0h0M270.1 688.3h0M286.4 679.4h0M333.0 652.5h0M294.5 637.9h0M286.9 662.4h0M310.2 626.9h0M334.7 595.8h0M304.8 645.7h0M318.4 628.6h0M275.6 674.7h0M260.0 691.6h0M336.5 597.3h0M284.5 674.5h0M287.7 693.7h0M289.4 693.0h0M314.1 646.0h0M281.0 700.2h0M273.4 689.4h0M298.7 640.1h0M306.0 607.9h0M280.1 686.5h0M311.4 644.3h0M331.4 611.0h0M269.4 679.3h0M296.1 681.5h0M331.1 584.7h0M267.4 672.6h0M275.6 689.5h0M353.8 608.8h0M270.9 675.7h0M306.9 662.3h0M334.5 601.5h0M297.5 649.6h0M319.4 636.4h0M294.4 685.1h0M259.5 694.6h0M280.8 670.5h0M344.8 583.2h0M283.7 686.6h0M281.1 666.5h0M301.2 647.6h0M323.6 604.2h0M277.8 687.0h0M297.5 630.8h0M297.6 650.5h0M309.2 661.1h0M294.7 688.4h0M280.6 655.6h0M266.1 681.1h0M280.1 675.3h0M305.5 633.9h0M274.8 681.2h0M323.9 594.1h0M294.9 647.6h0M263.3 691.4h0M279.3 699.7h0M282.0 687.8h0M323.7 656.7h0M265.4 696.9h0M301.4 660.8h0M313.4 591.8h0M284.4 689.9h0M279.5 696.5h0M317.8 638.5h0M340.9 550.1h0M259.2 703.0h0M298.7 673.1h0M312.1 659.3h0M271.1 672.1h0M255.9 696.7h0M278.4 678.7h0M294.7 653.7h0M254.7 696.2h0M283.6 687.4h0M276.3 671.5h0M294.8 659.3h0M318.4 633.6h0M263.2 692.7h0M282.3 687.9h0M260.6 691.0h0M339.9 601.2h0M276.0 678.6h0M272.5 689.1h0M278.4 679.8h0M306.9 652.0h0M304.8 635.5h0M274.3 667.0h0M279.4 672.8h0M300.7 631.6h0M270.1 694.6h0M291.1 673.1h0M264.5 701.9h0M259.6 697.2h0M274.1 696.5h0M284.7 683.0h0M283.4 659.5h0M291.3 650.4h0M362.6 540.7h0M280.0 664.1h0M279.0 676.2h0M271.3 667.6h0M276.0 678.5h0M286.0 683.9h0M295.7 657.0h0M286.6 654.9h0M286.6 673.6h0M296.1 662.9h0M285.2 668.5h0M311.6 643.1h0M296.9 653.8h0M303.1 669.7h0M285.0 676.8h0M300.4 684.7h0M284.5 664.3h0M266.3 702.8h0M264.8 697.1h0M271.3 694.2h0M271.4 694.8h0M309.6 648.7h0M256.5 687.3h0M281.0 685.9h0M319.7 655.8h0M309.9 641.9h0M275.2 679.9h0M301.4 666.0h0M293.4 669.4h0M299.2 667.3h0M281.9 663.2h0M337.1 601.6h0M309.2 669.2h0M283.2 697.9h0M296.6 666.0h0M248.5 700.0h0M276.8 657.3h0M295.8 676.7h0M253.1 685.7h0M277.1 690.5h0M284.1 697.4h0M272.8 686.9h0M297.8 656.3h0M284.3 670.2h0M289.2 687.0h0M335.2 623.7h0M271.6 667.8h0M316.5 680.4h0M330.9 627.1h0M246.8 701.6h0M320.9 624.5h0M288.3 656.3h0M314.5 613.5h0M287.4 658.7h0M265.6 703.1h0M265.3 693.2h0M325.4 588.1h0M247.7 699.3h0M304.2 656.6h0M304.5 611.8h0M286.3 657.7h0M329.2 610.9h0M277.5 684.0h0M347.5 604.9h0M263.5 691.0h0M259.4 675.1h0M283.0 661.3h0M271.1 696.8h0M307.3 635.2h0M342.4 573.5h0M318.8 613.2h0M264.1 695.2h0M330.9 582.0h0M307.8 667.3h0M329.9 616.4h0M322.1 639.2h0M261.5 696.3h0M289.8 629.5h0M282.8 667.7h0M292.3 676.5h0M315.4 617.8h0M256.4 697.8h0M291.1 674.9h0M243.5 699.7h0M264.6 691.5h0M256.1 686.1h0M267.7 667.9h0M286.3 687.4h0M318.3 624.3h0M290.0 673.9h0M253.2 701.4h0M269.7 684.1h0M305.3 658.1h0M253.3 701.5h0M272.6 701.2h0M291.1 659.7h0M270.7 695.8h0M290.4 666.2h0M285.8 678.5h0M276.2 693.9h0M250.4 696.9h0M277.0 670.4h0M310.6 652.0h0M260.6 684.9h0M259.2 684.9h0M284.1 685.8h0M310.8 637.6h0M309.5 682.6h0M320.7 625.4h0M337.7 593.7h0M265.3 702.9h0M307.1 658.7h0M297.0 650.7h0M286.1 691.6h0M274.2 697.4h0M276.2 686.1h0M260.5 700.9h0M318.1 665.4h0M273.8 697.8h0M275.5 675.2h0M274.8 687.7h0M286.2 662.3h0M276.7 657.1h0M264.8 699.2h0M294.6 644.3h0M286.7 680.9h0M286.0 689.7h0M283.1 669.4h0M278.4 674.8h0M331.0 580.1h0M330.4 575.1h0M284.7 667.4h0M265.2 701.9h0M271.7 678.3h0M271.4 702.9h0M266.1 680.3h0M299.1 666.8h0M270.5 683.2h0M316.6 589.2h0M283.8 667.6h0M254.1 701.9h0M263.6 696.3h0M306.2 649.1h0M309.8 649.2h0M266.9 702.8h0M257.5 701.9h0M315.9 633.2h0M281.9 692.8h0M305.0 625.0h0M292.2 687.7h0M292.2 691.2h0M272.5 689.0h0M280.2 669.1h0M281.0 689.3h0M273.1 683.5h0M285.7 685.6h0M288.4 683.3h0M276.3 681.8h0M266.6 669.7h0M252.2 690.9h0M252.2 701.4h0M253.7 701.1h0M319.2 631.3h0M303.2 636.1h0M271.6 700.5h0M305.2 624.9h0M331.8 650.5h0M312.6 639.8h0M335.7 601.4h0M353.0 595.8h0M278.8 669.6h0M267.6 702.3h0M281.3 693.3h0M282.4 682.1h0M277.7 685.7h0M264.0 685.6h0M342.4 600.8h0M294.9 645.8h0M256.7 700.1h0M279.6 682.5h0M336.2 613.3h0M302.1 615.0h0M348.2 562.1h0M266.5 672.8h0M268.4 695.9h0M326.6 595.6h0M297.2 654.4h0M337.1 585.0h0M303.6 662.7h0M262.9 679.9h0M267.6 697.8h0M277.0 697.2h0M280.3 696.6h0M288.7 688.7h0M268.1 700.9h0M284.7 662.1h0M286.6 659.3h0M302.4 651.5h0M328.8 605.3h0M281.4 680.8h0M310.4 627.9h0M310.3 626.1h0M285.6 679.3h0M273.3 694.9h0M339.7 577.8h0M308.7 614.8h0M265.3 665.8h0M253.1 700.6h0M271.1 680.6h0M268.5 694.9h0M312.1 661.0h0M300.9 664.1h0M319.1 626.9h0M277.8 685.8h0M307.1 671.6h0M303.4 663.6h0M300.1 650.5h0M269.9 669.1h0M261.8 676.1h0M268.8 682.3h0M276.4 686.6h0M282.6 646.5h0M279.6 702.4h0M298.1 675.4h0M285.8 696.3h0M282.7 684.9h0M257.5 699.1h0M294.6 669.9h0M266.7 700.1h0M271.9 676.7h0M262.0 677.4h0M338.0 581.1h0M304.5 610.2h0M303.3 672.3h0M324.8 610.9h0M269.8 701.8h0M283.5 654.3h0M328.0 631.7h0M282.2 660.1h0M308.3 666.4h0M261.9 681.5h0M258.9 700.5h0M322.7 628.5h0M315.4 616.3h0M288.6 685.3h0M266.8 672.8h0M285.2 660.4h0M265.8 685.6h0M278.6 681.9h0M251.9 695.4h0M297.8 633.2h0M270.8 659.7h0M341.8 614.4h0M282.2 651.0h0M278.0 703.0h0M321.0 606.0h0M311.1 643.7h0M325.9 654.7h0M276.1 678.2h0M300.2 626.4h0M293.5 655.4h0M364.2 545.2h0M267.7 690.7h0M270.8 700.8h0M288.4 688.7h0M353.7 600.3h0M312.3 632.9h0M341.8 591.4h0M287.9 692.0h0M299.3 651.1h0M292.0 683.0h0M265.9 700.0h0M329.4 617.0h0M278.5 681.2h0M271.2 676.6h0M309.1 660.9h0M317.7 599.6h0M268.1 688.8h0M325.2 600.7h0M309.9 644.4h0M260.0 693.8h0M311.0 625.6h0M273.2 677.8h0M315.6 640.7h0M274.2 699.5h0M309.0 636.8h0M274.7 683.9h0M271.7 691.9h0M275.2 697.0h0M315.2 633.1h0M271.9 702.3h0M272.4 674.7h0M377.2 637.7h0M411.3 555.7h0M391.3 591.6h0M422.7 601.0h0M400.4 667.7h0M368.7 629.1h0M339.4 693.4h0M424.5 595.5h0M392.4 591.3h0M423.1 675.8h0M330.2 688.4h0M362.9 679.1h0M359.7 653.9h0M418.5 645.7h0M360.5 702.8h0M425.8 563.9h0M421.5 676.5h0M411.9 630.5h0M389.4 583.1h0M368.2 655.5h0M366.8 682.3h0M398.0 631.1h0M391.1 557.4h0M413.9 633.4h0M411.0 699.6h0M412.5 566.6h0M380.6 619.4h0M86.5 578.0h0M95.0 648.0h0M99.0 652.0h0M127.8 688.0h0M142.8 691.0h0M156.5 699.0h0" stroke="#b8d6ed" stroke-width="2.7" stroke-linecap="round" fill="none"/>
<path d="M299.9 632.1h0M272.7 665.4h0M270.7 675.0h0M284.5 682.0h0M268.0 696.8h0M249.7 698.0h0M324.0 637.8h0M297.8 630.9h0M286.6 641.9h0M332.6 601.1h0M277.0 682.7h0M338.3 596.9h0M331.4 572.4h0M265.7 695.1h0M258.2 695.1h0M254.6 701.9h0M277.0 680.9h0M292.0 689.2h0M263.5 695.6h0M266.2 694.4h0M308.0 644.0h0M357.6 597.0h0M321.4 610.2h0M291.5 677.9h0M294.6 626.7h0M264.4 689.0h0M355.4 567.9h0M329.8 621.0h0M265.9 702.7h0M284.8 666.8h0M255.1 696.2h0M324.3 578.1h0M268.7 680.1h0M302.0 652.9h0M264.0 697.5h0M268.5 684.4h0M258.6 691.7h0M315.8 625.8h0M291.5 649.5h0M351.6 549.2h0M277.0 676.9h0M267.7 670.8h0M276.6 678.7h0M276.1 670.8h0M301.9 651.7h0M271.2 664.7h0M251.7 697.2h0M302.6 648.6h0M294.9 612.5h0M280.3 669.6h0M302.7 609.3h0M267.3 701.5h0M259.2 697.8h0M257.5 695.7h0M271.6 693.3h0M291.3 690.6h0M275.1 667.9h0M311.1 647.3h0M309.9 602.0h0M284.8 673.4h0M265.8 692.8h0M280.6 667.7h0M261.8 701.7h0M362.1 546.1h0M248.1 702.2h0M261.4 685.0h0M279.9 648.6h0M294.7 678.8h0M276.4 665.6h0M305.1 634.4h0M281.5 658.6h0M291.2 655.0h0M254.9 684.1h0M289.4 640.1h0M316.1 598.9h0M268.6 676.3h0M338.4 581.2h0M257.5 689.1h0M294.6 662.8h0M271.5 682.4h0M269.6 675.2h0M284.8 643.7h0M269.6 660.9h0M289.8 657.0h0M291.0 634.0h0M316.9 594.9h0M280.4 689.6h0M317.8 603.5h0M303.3 609.2h0M283.9 670.4h0M264.6 684.3h0M294.8 650.8h0M258.3 702.0h0M316.6 587.5h0M289.7 661.7h0M263.5 673.9h0M253.5 700.0h0M276.6 667.7h0M251.0 697.2h0M269.1 697.3h0M290.7 640.2h0M286.6 664.5h0M260.1 698.5h0M293.4 667.9h0M289.6 659.2h0M289.7 636.6h0M271.0 668.4h0M283.1 668.9h0M313.3 636.6h0M279.8 676.2h0M248.8 699.8h0M303.1 644.8h0M261.1 693.8h0M246.9 698.0h0M278.4 663.6h0M313.7 625.2h0M271.5 663.2h0M278.6 688.1h0M292.2 670.8h0M294.4 659.1h0M280.3 672.4h0M301.9 620.1h0M317.1 597.9h0M354.2 569.7h0M275.7 678.5h0M271.3 687.5h0M269.1 673.8h0M277.3 698.7h0M301.5 614.6h0M263.6 670.1h0M330.2 609.8h0M291.7 659.6h0M284.0 675.5h0M264.7 688.1h0M254.6 700.0h0M274.3 689.8h0M262.6 697.1h0M298.9 625.4h0M282.7 652.5h0M294.6 662.6h0M267.7 686.0h0M267.4 694.3h0M287.7 650.9h0M301.2 655.6h0M326.6 604.9h0M280.0 661.9h0M252.2 696.0h0M291.2 628.2h0M267.4 669.3h0M254.2 700.9h0M277.3 661.1h0M299.6 642.7h0M281.4 665.5h0M256.5 702.6h0M241.9 701.1h0M277.2 700.3h0M297.6 639.3h0M280.4 688.8h0M304.2 638.2h0M329.5 600.7h0M325.0 602.9h0M246.0 693.8h0M308.3 618.8h0M283.3 672.0h0M301.7 650.7h0M310.3 609.7h0M326.6 615.6h0M248.6 698.7h0M269.1 681.4h0M260.5 677.3h0M297.4 640.7h0M262.4 677.6h0M272.3 675.6h0M254.2 685.8h0M270.1 665.1h0M277.8 649.3h0M261.8 699.0h0M277.5 679.7h0M273.9 664.8h0M291.2 688.9h0M259.7 673.5h0M277.6 677.3h0M283.9 669.2h0M258.6 698.2h0M278.2 668.5h0M262.3 702.6h0M347.0 569.6h0M321.3 600.6h0M289.1 670.6h0M289.6 644.6h0M264.0 695.8h0M297.0 644.3h0M254.2 691.2h0M282.8 667.3h0M304.6 609.5h0M306.8 621.8h0M273.5 663.2h0M259.0 702.2h0M277.1 695.8h0M278.2 680.2h0M272.0 691.6h0M256.4 686.8h0M256.6 687.8h0M318.4 608.1h0M286.4 667.6h0M264.1 691.4h0M249.5 684.5h0M267.6 698.5h0M267.6 683.5h0M288.0 679.9h0M260.6 698.8h0M273.2 682.1h0M291.3 678.9h0M291.7 672.4h0M262.5 693.2h0M292.8 652.2h0M279.6 668.8h0M259.1 695.0h0M294.3 628.7h0M298.3 649.3h0M254.3 686.1h0M280.9 681.0h0M367.8 533.8h0M289.1 669.3h0M313.2 609.3h0M281.9 657.5h0M277.9 670.3h0M271.2 666.5h0M276.3 672.0h0M276.6 677.7h0M278.7 684.5h0M268.0 677.6h0M269.4 700.5h0M314.4 646.9h0M329.2 599.5h0M256.0 700.3h0M296.3 640.7h0M265.1 685.8h0M259.4 672.0h0M262.8 685.0h0M260.5 683.3h0M284.2 673.3h0M295.6 680.0h0M328.2 582.7h0M265.2 682.3h0M272.1 689.4h0M256.5 692.8h0M256.0 690.8h0M253.3 695.4h0M272.4 676.2h0M270.3 682.3h0M248.9 702.8h0M249.6 698.4h0M267.2 685.5h0M268.0 698.4h0M256.8 700.0h0M289.6 632.3h0M251.0 689.1h0M262.6 693.6h0M261.9 675.2h0M277.2 674.0h0M281.4 690.2h0M282.8 663.3h0M312.2 655.9h0M294.9 653.5h0M289.2 638.4h0M274.5 682.6h0M340.0 575.6h0M268.0 700.8h0M287.3 703.0h0M250.8 701.4h0M334.3 577.7h0M273.2 696.9h0M261.7 690.8h0M294.4 689.5h0M290.5 655.1h0M276.2 669.0h0M316.1 607.6h0M275.3 681.8h0M306.4 644.4h0M255.6 686.6h0M277.1 657.5h0M296.6 649.3h0M324.4 580.6h0M284.1 697.0h0M279.9 654.4h0M287.4 663.3h0M266.5 690.7h0M253.1 700.6h0M290.0 630.8h0M298.6 651.1h0M262.2 662.7h0M308.8 629.5h0M278.5 649.7h0M284.8 675.7h0M287.0 659.8h0M253.3 693.1h0M272.3 694.5h0M303.4 639.6h0M256.6 686.0h0M258.3 691.1h0M253.2 695.2h0M284.8 657.4h0M289.4 646.5h0M277.5 649.9h0M261.0 699.2h0M258.5 685.2h0M273.2 679.0h0M253.6 701.9h0M297.2 670.3h0M269.5 662.6h0M289.3 681.4h0M261.4 695.4h0M278.4 654.3h0M282.1 646.1h0M299.3 648.2h0M290.0 674.9h0M280.2 677.2h0M270.0 687.8h0M258.7 690.1h0M316.0 594.0h0M281.4 658.7h0M280.2 675.0h0M275.7 669.5h0M263.5 679.8h0M262.6 701.6h0M275.8 679.1h0M296.1 681.6h0M277.8 688.2h0M285.8 634.5h0M310.1 646.2h0M260.0 686.7h0M286.6 631.8h0M289.1 664.9h0M288.7 646.3h0M264.0 683.5h0M309.0 617.3h0M266.1 679.9h0M265.0 685.6h0M369.8 535.6h0M243.4 697.7h0M270.5 669.1h0M273.8 693.2h0M293.4 661.8h0M271.0 701.8h0M253.9 689.1h0M350.0 561.5h0M279.7 650.0h0M256.3 689.8h0M275.3 682.6h0M274.3 694.9h0M287.2 669.1h0M273.5 662.9h0M296.6 643.9h0M264.6 679.2h0M256.2 699.6h0M266.5 677.4h0M275.7 658.5h0M260.3 694.4h0M288.8 624.7h0M317.5 621.8h0M256.6 702.9h0M316.7 607.1h0M310.5 628.3h0M265.5 686.3h0M298.5 641.8h0M288.5 684.9h0M274.4 660.9h0M283.8 655.0h0M281.7 675.4h0M277.6 692.5h0M286.6 647.0h0M264.9 684.3h0M322.0 599.0h0M284.6 641.9h0M284.5 665.1h0M257.2 696.6h0M263.7 677.7h0M266.2 680.6h0M258.3 686.8h0M319.5 583.2h0M305.7 627.9h0M250.5 701.9h0M277.9 674.3h0M308.9 626.1h0M307.6 618.2h0M281.6 687.0h0M279.1 682.7h0M293.2 679.2h0M290.9 678.6h0M249.3 698.2h0M278.2 695.4h0M269.1 694.4h0M263.1 702.7h0M246.2 698.1h0M367.5 543.0h0M306.5 627.2h0M259.6 691.4h0M267.8 661.8h0M266.6 699.2h0M373.1 529.3h0M284.7 637.2h0M273.6 671.7h0M258.7 701.3h0M273.9 691.3h0M252.9 685.0h0M265.0 664.5h0M251.3 694.9h0M301.1 674.4h0M284.2 662.4h0M268.3 683.0h0M305.3 616.0h0M281.3 661.4h0M264.1 694.5h0M283.7 677.7h0M261.9 696.9h0M331.4 605.0h0M279.3 667.3h0M252.4 681.6h0M267.8 699.4h0M294.3 656.8h0M263.6 689.6h0M257.5 694.0h0M327.9 594.0h0M290.2 673.4h0M268.2 675.5h0M254.4 700.3h0M295.3 646.9h0M251.1 696.6h0M288.5 667.5h0M274.4 660.7h0M304.9 606.4h0M266.8 699.2h0M275.3 671.8h0M283.7 701.5h0M272.0 664.3h0M281.4 674.6h0M268.4 688.5h0M281.5 685.1h0M260.9 682.7h0M269.7 699.7h0M285.5 635.7h0M266.5 667.5h0M308.5 646.9h0M317.1 610.7h0M250.9 693.3h0M272.0 702.0h0M298.2 657.8h0M275.7 658.4h0M271.2 677.2h0M271.6 682.9h0M302.4 633.7h0M262.4 702.0h0M266.4 697.8h0M296.0 647.0h0M280.4 668.1h0M280.7 686.7h0M260.7 687.8h0M283.8 680.5h0M275.0 655.2h0M263.0 682.9h0M293.1 636.2h0M294.6 681.4h0M279.2 650.4h0M277.3 664.7h0M265.2 675.4h0M292.7 651.8h0M259.9 686.6h0M267.6 686.2h0M306.5 630.2h0M259.6 678.4h0M286.8 665.9h0M277.7 668.9h0M291.0 666.0h0M261.3 690.1h0M277.4 682.5h0M264.6 690.0h0M288.2 623.6h0M292.0 643.7h0M326.4 600.0h0M269.8 674.6h0M250.7 686.6h0M248.7 693.4h0M262.6 691.5h0M284.1 669.5h0M282.2 634.6h0M258.0 685.5h0M278.0 669.1h0M310.1 631.4h0M320.1 634.1h0M281.9 644.1h0M269.8 687.1h0M293.7 657.6h0M253.0 699.2h0M303.8 629.0h0M277.2 684.3h0M276.2 647.8h0M270.6 694.6h0M271.8 688.0h0M255.5 701.4h0M251.3 702.0h0M267.5 700.1h0M257.9 699.4h0M327.2 609.1h0M276.6 651.4h0M298.8 639.8h0M249.7 703.1h0M253.3 690.1h0M265.6 664.8h0M293.5 679.9h0M299.9 619.2h0M264.8 690.1h0M259.6 700.0h0M318.6 589.0h0M274.1 681.2h0M290.1 669.1h0M266.1 674.2h0M289.5 670.6h0M329.3 623.9h0M299.2 635.1h0M258.7 702.3h0M323.0 600.2h0M268.8 685.2h0M285.1 633.9h0M250.8 692.8h0M264.6 684.1h0M256.6 701.5h0M289.0 665.9h0M339.7 556.5h0M356.6 575.4h0M283.7 675.4h0M313.0 642.9h0M316.6 648.1h0M283.3 669.4h0M263.3 677.0h0M275.7 689.9h0M267.4 669.2h0M283.0 668.9h0M261.0 702.5h0M277.8 679.0h0M262.4 691.9h0M285.4 674.3h0M324.7 588.3h0M267.3 683.6h0M276.3 669.6h0M314.6 582.2h0M264.2 690.5h0M248.7 699.6h0M249.0 693.4h0M281.2 662.6h0M278.3 653.4h0M279.6 655.2h0M256.2 687.2h0M261.4 702.2h0M257.2 699.1h0M399.1 571.6h0M370.3 681.8h0M337.9 665.7h0M330.0 681.6h0M334.2 700.0h0M358.9 684.7h0M419.6 524.5h0M421.7 553.3h0M406.0 627.4h0M371.8 624.0h0M376.8 692.8h0M400.2 687.2h0M335.4 702.7h0M358.9 700.9h0M349.9 649.1h0M365.9 668.0h0M423.7 613.4h0M360.0 644.2h0M371.7 703.1h0M415.6 655.2h0M399.7 664.2h0M425.1 700.6h0M353.7 701.0h0M417.1 515.1h0M349.1 648.6h0M396.5 652.8h0M336.2 666.9h0M310.2 702.2h0M368.2 662.7h0M410.0 439.9h0M428.4 439.9h0M383.3 462.2h0M412.5 471.5h0M410.8 488.8h0M400.9 505.7h0M385.0 517.2h0M104.0 625.5h0M111.0 644.5h0M131.5 668.0h0M137.0 672.0h0M144.0 679.0h0M145.0 684.0h0M117.8 682.0h0M145.0 686.0h0M145.0 701.0h0" stroke="#a2c8e5" stroke-width="2.7" stroke-linecap="round" fill="none"/>
<path d="M280.6 669.7h0M290.6 635.4h0M271.5 673.2h0M276.8 685.7h0M269.7 659.4h0M256.9 700.7h0M257.8 697.8h0M298.8 627.1h0M294.9 620.1h0M253.7 690.1h0M276.4 651.8h0M267.4 674.2h0M268.4 677.4h0M267.9 688.5h0M276.6 650.0h0M293.6 628.9h0M307.0 630.6h0M291.4 650.3h0M287.8 635.1h0M287.2 645.1h0M283.9 674.8h0M263.3 684.5h0M298.6 633.3h0M249.5 694.8h0M272.7 666.6h0M290.6 624.3h0M289.9 630.0h0M246.6 699.8h0M269.5 658.6h0M264.9 684.6h0M294.5 649.2h0M271.2 665.3h0M277.3 670.1h0M275.1 688.8h0M282.5 658.7h0M256.0 701.4h0M250.2 692.3h0M256.6 701.8h0M259.6 684.5h0M304.6 631.1h0M261.3 691.6h0M299.5 634.3h0M298.8 610.5h0M251.4 689.9h0M283.4 645.0h0M321.9 602.5h0M295.9 632.2h0M270.9 677.2h0M258.5 688.3h0M254.5 688.4h0M327.5 576.8h0M259.8 681.8h0M250.5 691.3h0M272.9 654.1h0M311.5 617.8h0M249.8 694.4h0M266.9 700.5h0M267.0 681.2h0M283.7 697.5h0M278.4 694.4h0M261.1 688.5h0M258.8 676.0h0M297.2 646.1h0M273.8 664.0h0M300.9 644.8h0M249.9 697.4h0M273.3 661.5h0M260.7 678.5h0M248.5 692.1h0M296.9 638.7h0M314.9 598.4h0M273.6 684.8h0M278.5 655.0h0M273.7 677.6h0M251.7 696.6h0M317.3 606.0h0M253.6 699.1h0M253.0 702.6h0M274.3 655.7h0M271.5 676.5h0M244.4 697.7h0M277.9 665.8h0M336.2 570.1h0M318.3 584.9h0M261.8 677.7h0M312.1 606.4h0M297.6 674.9h0M245.0 699.7h0M267.9 690.1h0M304.6 597.4h0M274.6 684.5h0M254.3 697.7h0M266.8 681.3h0M264.2 699.5h0M251.2 698.9h0M291.9 678.2h0M269.2 676.9h0M269.5 683.4h0M287.6 631.1h0M269.5 682.2h0M321.5 603.1h0M251.6 690.6h0M312.2 587.3h0M254.5 697.6h0M265.7 695.2h0M250.2 682.9h0M245.6 700.3h0M272.1 689.4h0M286.5 642.9h0M276.2 663.7h0M310.1 650.1h0M302.0 609.3h0M294.1 647.6h0M264.3 694.4h0M283.7 639.9h0M265.4 676.0h0M288.0 650.2h0M270.9 673.6h0M259.8 684.2h0M283.3 648.1h0M279.0 682.8h0M290.9 639.8h0M262.2 699.6h0M257.4 679.6h0M338.5 556.7h0M283.9 680.0h0M270.6 659.6h0M269.0 667.0h0M259.0 696.3h0M265.1 690.8h0M314.7 605.3h0M270.5 669.3h0M304.1 617.1h0M258.0 700.5h0M246.6 701.9h0M267.7 682.5h0M260.6 702.4h0M297.5 642.8h0M299.1 652.4h0M294.2 651.8h0M250.7 698.0h0M291.5 632.5h0M250.5 696.4h0M338.7 572.7h0M255.0 693.3h0M263.7 675.5h0M290.2 644.3h0M297.6 607.3h0M263.4 682.6h0M270.4 680.7h0M274.4 658.5h0M281.3 683.2h0M304.7 615.3h0M313.9 599.9h0M261.4 677.1h0M262.9 692.3h0M243.7 695.2h0M294.5 658.2h0M248.8 700.0h0M258.3 698.6h0M270.7 695.2h0M294.8 636.1h0M348.5 558.8h0M280.0 665.4h0M294.0 658.8h0M257.7 697.3h0M277.5 679.1h0M256.1 699.1h0M252.4 700.5h0M272.6 677.3h0M255.6 700.4h0M319.4 581.2h0M251.9 680.4h0M270.9 685.0h0M254.5 687.3h0M310.7 620.3h0M260.0 701.6h0M286.7 630.5h0M276.8 653.4h0M250.9 693.8h0M262.8 681.5h0M327.8 588.2h0M289.6 645.1h0M259.7 671.2h0M271.8 662.7h0M280.9 648.0h0M259.8 684.8h0M273.8 692.4h0M263.3 678.8h0M322.3 614.3h0M264.0 686.7h0M252.2 701.8h0M255.0 690.9h0M251.0 693.1h0M303.9 612.8h0M271.2 681.8h0M288.0 664.8h0M299.9 636.0h0M271.0 660.4h0M259.4 676.7h0M242.2 702.4h0M267.0 678.6h0M303.2 649.6h0M331.4 602.4h0M261.7 690.2h0M346.6 575.9h0M308.1 599.9h0M314.6 590.9h0M247.0 700.0h0M262.2 671.6h0M284.6 678.6h0M268.9 672.0h0M248.8 701.5h0M286.1 653.1h0M259.8 670.4h0M254.6 684.0h0M265.5 691.3h0M278.4 657.9h0M277.3 666.1h0M253.4 686.3h0M287.2 651.6h0M278.5 653.0h0M257.7 691.9h0M259.8 673.2h0M260.2 689.9h0M285.2 649.5h0M265.5 684.3h0M283.5 668.4h0M251.5 687.0h0M262.8 697.3h0M278.7 649.9h0M295.5 621.3h0M280.0 657.8h0M266.7 667.0h0M268.9 693.6h0M264.2 695.1h0M287.7 640.4h0M246.3 695.7h0M265.2 691.3h0M279.9 662.6h0M262.7 699.7h0M283.8 674.7h0M301.1 611.6h0M264.4 671.4h0M294.0 617.8h0M308.9 633.4h0M270.1 659.6h0M297.0 649.9h0M256.4 691.0h0M271.7 686.4h0M259.2 687.5h0M279.6 651.0h0M269.1 697.6h0M282.3 662.3h0M257.0 686.9h0M258.9 682.6h0M275.3 678.0h0M266.7 688.2h0M260.4 681.2h0M247.1 699.0h0M253.4 692.2h0M270.6 684.9h0M283.1 646.3h0M299.1 656.6h0M268.2 671.2h0M298.8 610.7h0M312.3 592.5h0M295.0 680.3h0M262.5 686.7h0M285.2 636.9h0M274.6 692.2h0M246.2 701.5h0M263.5 688.0h0M265.7 676.6h0M249.5 698.8h0M293.5 622.9h0M268.3 671.9h0M271.3 673.7h0M300.1 615.8h0M330.7 594.1h0M261.6 690.0h0M323.9 604.4h0M283.2 645.6h0M263.0 675.0h0M266.1 676.4h0M287.9 659.0h0M256.8 696.0h0M344.9 555.0h0M262.7 691.6h0M262.5 678.0h0M284.8 636.5h0M268.6 679.0h0M294.3 627.7h0M254.7 700.0h0M274.4 664.6h0M261.2 679.8h0M299.3 619.3h0M256.7 686.2h0M306.8 632.4h0M246.6 696.2h0M280.3 660.2h0M262.5 703.0h0M288.7 677.1h0M333.5 570.6h0M256.8 702.9h0M324.1 578.1h0M277.1 685.2h0M271.3 675.2h0M338.0 583.8h0M254.9 689.5h0M280.2 649.3h0M251.1 692.3h0M259.1 688.6h0M269.7 680.9h0M269.1 683.9h0M324.7 618.3h0M272.6 658.3h0M275.3 661.7h0M297.5 625.3h0M254.6 694.0h0M263.8 668.8h0M320.2 596.8h0M274.9 651.8h0M252.9 685.6h0M313.2 604.8h0M258.1 675.3h0M264.8 687.4h0M269.4 675.0h0M267.5 661.6h0M289.5 664.1h0M295.1 685.5h0M291.0 638.4h0M266.7 665.1h0M260.5 679.2h0M266.7 677.3h0M280.7 649.3h0M300.7 639.9h0M275.3 664.6h0M257.8 678.2h0M274.6 651.6h0M301.7 602.0h0M312.0 613.4h0M303.1 642.1h0M317.7 609.3h0M302.2 620.6h0M307.6 631.8h0M301.2 618.4h0M268.2 675.2h0M329.4 568.9h0M242.0 698.5h0M312.9 627.3h0M293.1 645.0h0M256.3 687.2h0M259.4 680.2h0M263.6 693.1h0M268.0 675.3h0M311.2 601.2h0M256.6 683.4h0M277.1 673.4h0M290.9 625.6h0M250.3 691.2h0M257.9 696.4h0M261.9 698.3h0M286.6 644.5h0M273.2 677.5h0M258.3 689.9h0M263.6 678.0h0M281.0 653.9h0M274.5 642.4h0M271.5 695.6h0M246.1 684.6h0M275.1 650.3h0M267.8 666.5h0M284.6 670.8h0M302.1 606.2h0M290.1 631.9h0M258.0 684.4h0M261.5 684.8h0M268.0 683.0h0M300.5 616.6h0M256.5 701.7h0M257.5 688.4h0M311.5 605.3h0M253.1 693.4h0M284.0 636.4h0M323.6 616.2h0M263.5 683.6h0M292.2 621.3h0M260.8 695.7h0M250.5 696.4h0M322.9 583.8h0M269.9 668.9h0M300.4 638.3h0M246.3 698.0h0M285.2 657.6h0M261.6 681.4h0M264.7 666.1h0M281.7 640.3h0M259.9 696.9h0M268.2 655.6h0M293.3 664.0h0M259.7 683.5h0M274.9 672.5h0M282.4 673.6h0M248.7 702.0h0M257.6 684.3h0M353.3 550.4h0M260.2 684.2h0M306.7 644.1h0M264.4 687.1h0M253.5 694.7h0M272.6 662.9h0M262.5 697.8h0M311.9 597.9h0M321.5 586.6h0M279.7 667.3h0M297.0 627.0h0M258.5 697.6h0M302.2 614.6h0M269.1 660.5h0M255.6 689.7h0M303.7 612.5h0M318.8 587.0h0M319.2 608.6h0M281.9 692.6h0M255.3 692.8h0M281.2 640.4h0M271.7 653.0h0M311.4 593.3h0M283.8 648.9h0M245.1 703.1h0M283.8 637.4h0M247.8 694.2h0M271.8 683.8h0M263.9 673.0h0M268.7 669.2h0M257.7 696.7h0M282.5 686.5h0M273.3 668.0h0M248.3 703.0h0M328.1 573.2h0M267.0 680.7h0M272.0 687.2h0M253.1 687.3h0M264.1 694.0h0M247.2 694.3h0M254.7 701.4h0M247.6 698.3h0M267.2 660.9h0M255.5 685.5h0M261.1 680.2h0M250.8 696.6h0M292.8 617.6h0M298.4 603.0h0M258.3 696.3h0M275.2 656.2h0M248.2 698.9h0M265.5 690.2h0M304.5 628.7h0M351.1 557.7h0M301.2 638.4h0M271.5 675.9h0M303.6 623.3h0M258.8 700.6h0M253.3 693.0h0M296.4 647.6h0M258.2 683.0h0M290.9 626.6h0M255.1 697.5h0M253.5 693.9h0M283.4 663.0h0M253.6 686.3h0M301.2 653.6h0M260.6 694.8h0M287.5 653.6h0M257.8 693.3h0M410.5 658.1h0M408.6 543.3h0M398.2 689.1h0M355.6 693.7h0M349.9 681.3h0M396.5 639.5h0M408.4 604.7h0M377.8 653.0h0M411.8 681.8h0M412.5 532.6h0M378.5 667.2h0M372.4 635.9h0M324.3 703.4h0M424.2 592.8h0M391.9 648.7h0M337.9 696.3h0M383.8 619.4h0M413.5 522.6h0M315.9 703.1h0M391.3 628.3h0M338.7 678.8h0M369.9 612.5h0M418.0 680.8h0M409.4 652.5h0M407.7 629.5h0M362.2 687.6h0M382.2 627.6h0M349.5 665.1h0M406.3 636.7h0M391.4 694.5h0M428.0 463.4h0M394.5 509.3h0M387.1 523.5h0M375.5 532.6h0M92.8 679.5h0M161.5 702.5h0" stroke="#8bb9dc" stroke-width="2.7" stroke-linecap="round" fill="none"/>
<path d="M274.0 670.4h0M258.8 688.3h0M310.2 625.2h0M309.2 607.5h0M307.5 586.4h0M256.3 694.0h0M277.7 660.3h0M264.8 674.1h0M280.0 651.5h0M284.0 642.0h0M276.3 662.8h0M296.8 622.2h0M280.6 657.2h0M261.1 679.8h0M275.8 656.2h0M265.8 669.8h0M301.6 622.5h0M272.3 669.4h0M275.6 658.5h0M258.9 696.7h0M257.6 684.5h0M277.7 670.3h0M251.0 698.2h0M257.8 681.4h0M270.4 671.2h0M300.7 608.4h0M284.5 639.8h0M300.2 623.2h0M256.8 693.8h0M262.6 685.9h0M280.3 670.3h0M301.6 604.3h0M279.8 653.5h0M255.6 697.0h0M344.5 549.5h0M294.4 629.7h0M281.6 673.9h0M257.6 684.2h0M296.3 617.8h0M261.9 679.3h0M273.8 661.8h0M253.4 689.8h0M276.7 663.6h0M314.1 630.2h0M252.9 701.4h0M319.4 604.0h0M259.9 681.3h0M256.3 696.5h0M242.9 701.9h0M333.7 563.8h0M265.1 668.0h0M257.5 698.0h0M261.8 683.5h0M280.5 655.0h0M249.3 699.6h0M301.0 605.4h0M252.1 693.9h0M247.2 702.1h0M272.9 655.8h0M249.8 692.9h0M269.0 666.5h0M255.8 689.2h0M340.4 559.9h0M269.4 678.3h0M297.2 643.1h0M250.2 690.6h0M259.6 693.6h0M272.2 674.6h0M255.8 683.8h0M245.9 695.8h0M276.3 650.4h0M275.1 665.5h0M258.6 677.2h0M246.8 691.5h0M258.2 687.8h0M255.9 689.8h0M294.9 645.6h0M264.1 682.0h0M253.6 680.9h0M263.4 661.0h0M367.9 533.5h0M298.8 642.0h0M279.9 653.0h0M266.0 680.4h0M258.0 674.8h0M276.0 683.8h0M317.1 585.2h0M315.9 639.8h0M271.5 684.6h0M257.3 694.4h0M293.7 619.9h0M249.9 687.5h0M296.8 617.2h0M299.9 618.5h0M300.8 646.1h0M247.3 699.0h0M323.5 592.3h0M260.2 678.9h0M300.8 628.5h0M246.9 696.5h0M263.3 666.0h0M282.9 653.0h0M260.5 678.4h0M250.2 691.0h0M311.5 586.7h0M265.2 666.7h0M270.9 664.5h0M239.0 701.0h0M285.3 658.2h0M264.0 690.6h0M252.9 702.6h0M270.2 663.1h0M269.6 681.7h0M267.6 687.9h0M277.8 662.0h0M245.4 692.2h0M249.3 700.6h0M287.4 651.7h0M271.8 658.8h0M276.7 652.9h0M284.8 637.3h0M304.7 625.6h0M245.2 696.1h0M257.3 688.3h0M276.7 656.7h0M249.4 693.3h0M310.9 633.6h0M272.1 688.0h0M283.7 650.9h0M288.7 627.6h0M278.1 678.4h0M290.3 629.3h0M272.3 683.6h0M240.1 702.1h0M261.5 674.5h0M250.5 703.1h0M244.9 698.8h0M247.6 700.9h0M273.2 674.6h0M326.9 592.1h0M255.4 683.2h0M256.4 683.7h0M285.2 653.9h0M272.7 667.6h0M271.6 669.0h0M254.0 690.9h0M246.5 695.2h0M315.3 606.3h0M281.6 651.2h0M265.1 681.5h0M264.7 682.9h0M250.2 693.0h0M277.8 648.4h0M325.7 576.5h0M262.7 662.3h0M248.8 695.6h0M242.6 697.9h0M278.0 664.3h0M262.3 686.5h0M304.8 599.3h0M270.3 680.3h0M252.2 689.1h0M293.6 631.2h0M259.8 702.0h0M258.1 685.1h0M276.4 676.0h0M251.8 698.9h0M256.3 682.3h0M250.8 690.5h0M277.7 649.6h0M305.0 604.7h0M255.4 688.1h0M261.5 670.5h0M262.2 686.7h0M287.9 644.9h0M270.5 700.9h0M259.4 676.3h0M259.6 684.1h0M257.0 689.6h0M298.9 608.9h0M284.4 634.4h0M327.7 570.0h0M301.1 612.9h0M270.7 677.6h0M265.0 666.7h0M283.8 635.3h0M298.9 622.7h0M254.4 693.7h0M252.0 689.1h0M285.8 650.0h0M251.6 691.1h0M259.4 686.1h0M270.0 655.5h0M332.5 562.0h0M258.7 694.5h0M256.6 686.5h0M296.1 616.1h0M311.4 599.3h0M295.7 635.2h0M289.1 642.4h0M328.6 572.0h0M265.8 670.7h0M301.6 622.2h0M341.5 560.0h0M250.4 700.8h0M272.7 667.3h0M304.4 617.0h0M278.2 668.1h0M288.8 643.4h0M259.1 682.4h0M256.6 683.8h0M255.8 700.3h0M283.6 663.3h0M274.5 683.1h0M301.5 632.5h0M274.6 674.3h0M269.8 681.4h0M253.4 687.5h0M302.0 624.0h0M252.7 692.2h0M262.7 683.7h0M289.8 636.6h0M261.6 677.7h0M251.5 687.7h0M252.2 691.2h0M253.0 696.4h0M260.2 693.1h0M249.4 686.5h0M271.5 678.2h0M259.2 687.8h0M255.8 696.9h0M251.1 697.9h0M328.7 573.2h0M292.9 629.9h0M279.6 649.5h0M254.4 685.1h0M249.0 699.7h0M245.9 696.3h0M245.7 697.9h0M253.3 695.9h0M245.8 690.6h0M269.0 668.4h0M304.1 629.1h0M282.3 687.8h0M281.4 651.6h0M257.4 696.0h0M266.0 670.4h0M266.0 661.6h0M264.4 666.6h0M251.3 695.5h0M261.8 683.4h0M342.1 555.8h0M251.4 700.0h0M322.8 591.5h0M304.9 612.9h0M259.1 700.7h0M268.4 666.2h0M323.4 574.7h0M261.3 681.3h0M291.0 642.2h0M265.8 691.8h0M251.0 687.6h0M269.4 666.6h0M342.5 557.1h0M263.6 698.3h0M321.8 576.8h0M268.5 671.4h0M325.3 569.2h0M268.1 662.3h0M273.6 671.7h0M253.5 680.1h0M261.7 686.3h0M265.5 681.5h0M308.7 609.0h0M266.1 669.3h0M245.2 700.9h0M261.6 685.6h0M274.5 658.2h0M258.5 681.7h0M281.3 655.5h0M267.8 677.3h0M254.2 690.9h0M273.8 683.2h0M280.0 639.3h0M245.4 698.5h0M270.0 676.4h0M258.3 681.4h0M275.1 658.0h0M344.6 676.3h0M383.0 620.8h0M390.0 575.8h0M370.9 628.2h0M423.5 607.0h0M349.0 674.5h0M390.9 681.4h0M332.6 682.8h0M338.2 681.8h0M413.7 607.4h0M329.4 681.5h0M385.4 685.7h0M340.2 700.3h0M389.0 633.4h0M391.7 631.3h0M344.2 681.4h0M356.3 686.8h0M362.2 439.9h0M367.0 445.2h0M410.4 447.3h0M415.7 467.2h0M387.5 477.0h0M410.4 484.6h0M374.8 499.8h0M370.6 510.8h0M398.8 513.6h0M397.7 516.7h0M357.9 524.6h0M350.1 528.4h0M366.0 529.9h0M86.5 617.5h0M135.0 659.5h0M95.0 686.0h0M135.0 695.0h0" stroke="#74a8d2" stroke-width="2.7" stroke-linecap="round" fill="none"/>
<path d="M274.2 663.1h0M269.2 664.6h0M266.4 677.3h0M262.6 681.0h0M245.7 697.1h0M288.5 639.0h0M334.9 557.5h0M266.8 701.1h0M255.9 685.0h0M250.2 692.5h0M275.7 656.5h0M245.7 702.0h0M286.7 638.7h0M270.2 671.0h0M279.8 652.4h0M266.9 679.1h0M243.7 701.1h0M285.7 631.3h0M277.8 650.2h0M266.4 668.1h0M248.8 698.2h0M259.5 696.7h0M256.2 685.3h0M270.9 675.4h0M282.4 668.2h0M272.6 660.3h0M244.7 698.9h0M245.3 701.6h0M254.7 691.5h0M254.1 693.9h0M266.5 695.1h0M268.5 669.2h0M256.6 685.1h0M281.8 635.5h0M301.4 604.8h0M275.2 677.5h0M272.3 656.4h0M273.7 682.4h0M272.3 676.6h0M286.6 656.5h0M258.4 681.8h0M261.5 672.8h0M271.4 654.9h0M290.8 650.5h0M282.2 631.0h0M279.4 657.7h0M292.6 636.2h0M267.8 664.5h0M254.2 692.0h0M253.4 688.3h0M264.3 675.2h0M264.1 681.0h0M244.5 700.8h0M258.9 684.8h0M250.6 700.7h0M254.6 687.1h0M281.2 657.1h0M255.0 698.2h0M284.4 642.6h0M268.5 689.0h0M267.1 667.0h0M263.6 681.2h0M261.3 701.0h0M285.3 636.0h0M266.6 689.8h0M262.3 681.7h0M255.1 684.2h0M336.1 568.6h0M248.8 690.9h0M291.0 624.4h0M297.3 634.6h0M274.0 656.8h0M259.0 693.7h0M245.4 701.8h0M263.7 679.6h0M294.1 624.3h0M258.6 688.6h0M267.1 662.9h0M255.3 686.5h0M255.9 696.0h0M260.5 685.5h0M253.4 694.9h0M267.4 672.2h0M315.5 605.2h0M269.3 670.1h0M308.3 651.4h0M256.2 680.8h0M313.2 604.4h0M316.4 595.8h0M283.8 630.1h0M272.4 657.5h0M252.6 693.2h0M280.2 646.7h0M330.0 570.1h0M256.6 680.7h0M272.7 671.2h0M249.9 697.0h0M259.6 692.7h0M244.4 696.4h0M249.2 689.7h0M279.0 641.4h0M252.8 685.7h0M251.3 680.7h0M290.0 639.9h0M263.6 687.2h0M298.9 609.7h0M256.1 692.7h0M314.2 597.6h0M255.3 688.1h0M269.0 660.4h0M269.3 659.3h0M265.2 675.8h0M280.2 646.9h0M264.5 678.8h0M356.4 450.7h0M386.0 439.9h0M423.1 439.9h0M377.6 493.5h0M356.4 497.3h0M342.7 509.3h0M352.2 511.4h0M379.1 518.4h0M398.8 523.1h0M392.4 529.4h0" stroke="#5d96c5" stroke-width="2.7" stroke-linecap="round" fill="none"/>
<path d="M247.8 694.7h0M244.8 702.9h0M258.2 681.6h0M292.5 617.7h0M259.2 694.3h0M288.1 642.3h0M311.3 596.6h0M277.7 650.0h0M279.5 649.4h0M307.2 602.6h0M245.4 702.7h0M274.5 660.9h0M279.0 662.1h0M292.4 641.5h0M267.6 663.0h0M247.8 697.9h0M280.4 650.0h0M275.6 654.9h0M301.4 603.7h0M343.6 556.0h0M290.7 625.2h0M247.6 696.8h0M253.9 679.4h0M312.5 585.6h0M249.0 699.6h0M246.0 701.5h0M274.4 657.8h0M254.9 688.5h0" stroke="#4883b6" stroke-width="2.7" stroke-linecap="round" fill="none"/>
<line x1="84" y1="704.4" x2="427" y2="704.4" stroke="#444" stroke-width="1" stroke-dasharray="3.2,2.6"/>
<line x1="190.4" y1="435" x2="190.4" y2="729" stroke="#555" stroke-width="1" stroke-dasharray="3.2,2.6"/>
<line x1="228.2" y1="435" x2="228.2" y2="729" stroke="#555" stroke-width="1" stroke-dasharray="3.2,2.6"/>
<circle cx="230" cy="715.5" r="3.6" fill="#e01e26"/>
<text x="233.5" y="717.5" font-size="5.5" fill="#555">ZEB2</text>
<circle cx="248.5" cy="705.5" r="3.6" fill="#e01e26"/>
<text x="252" y="707.5" font-size="5.5" fill="#555">ZEB1</text>
<circle cx="263.2" cy="697.7" r="3.6" fill="#e01e26"/>
<text x="266.7" y="699.7" font-size="5.5" fill="#555">SNAI1</text>
<circle cx="284" cy="676.9" r="3.6" fill="#e01e26"/>
<text x="287.5" y="678.9" font-size="5.5" fill="#555">SNAI2</text>
<circle cx="302.4" cy="676.9" r="3.6" fill="#e01e26"/>
<text x="305.9" y="678.9" font-size="5.5" fill="#555">TWIST2</text>
<circle cx="327" cy="583.5" r="3.6" fill="#e01e26"/>
<text x="330.5" y="585.5" font-size="5.5" fill="#555">TWIST1</text>
<line x1="444.3" y1="477.7" x2="337.88" y2="575.7" stroke="#000" stroke-width="1.8"/>
<polygon fill="#000" points="333.1,580.1 335.98,573.64 339.78,577.76"/>
<line x1="444.3" y1="592.1" x2="298.66" y2="668.48" stroke="#000" stroke-width="1.8"/>
<polygon fill="#000" points="292.9,671.5 297.36,666 299.96,670.96"/>
<line x1="165.1" y1="550.5" x2="254.94" y2="687.66" stroke="#000" stroke-width="1.8"/>
<polygon fill="#000" points="258.5,693.1 252.6,689.2 257.28,686.13"/>
<line x1="151.9" y1="571.2" x2="238.19" y2="695.36" stroke="#000" stroke-width="1.8"/>
<polygon fill="#000" points="241.9,700.7 235.89,696.96 240.49,693.76"/>
<line x1="151.2" y1="640.5" x2="217.2" y2="706.41" stroke="#000" stroke-width="1.8"/>
<polygon fill="#000" points="221.8,711 215.22,708.39 219.18,704.43"/>
<line x1="83.8" y1="435" x2="83.8" y2="730" stroke="#000" stroke-width="2"/>
<line x1="82.8" y1="729.2" x2="429" y2="729.2" stroke="#000" stroke-width="2"/>
<line x1="78" y1="690.76" x2="84" y2="690.76" stroke="#000" stroke-width="1.6"/>
<text x="63.2" y="695.76" font-size="13.8" fill="#111" textLength="8.29" lengthAdjust="spacingAndGlyphs">2</text>
<line x1="78" y1="654.52" x2="84" y2="654.52" stroke="#000" stroke-width="1.6"/>
<text x="62.9" y="659.52" font-size="13.8" fill="#111" textLength="8.29" lengthAdjust="spacingAndGlyphs">4</text>
<line x1="78" y1="618.28" x2="84" y2="618.28" stroke="#000" stroke-width="1.6"/>
<text x="63.05" y="623.28" font-size="13.8" fill="#111" textLength="8.29" lengthAdjust="spacingAndGlyphs">6</text>
<line x1="78" y1="582.04" x2="84" y2="582.04" stroke="#000" stroke-width="1.6"/>
<text x="63.05" y="587.04" font-size="13.8" fill="#111" textLength="8.29" lengthAdjust="spacingAndGlyphs">8</text>
<line x1="78" y1="545.8" x2="84" y2="545.8" stroke="#000" stroke-width="1.6"/>
<text x="54.76" y="550.8" font-size="13.8" fill="#111" textLength="16.58" lengthAdjust="spacingAndGlyphs">10</text>
<line x1="78" y1="509.56" x2="84" y2="509.56" stroke="#000" stroke-width="1.6"/>
<text x="54.91" y="514.56" font-size="13.8" fill="#111" textLength="16.58" lengthAdjust="spacingAndGlyphs">12</text>
<line x1="78" y1="473.32" x2="84" y2="473.32" stroke="#000" stroke-width="1.6"/>
<text x="54.61" y="478.32" font-size="13.8" fill="#111" textLength="16.58" lengthAdjust="spacingAndGlyphs">14</text>
<line x1="95.9" y1="729" x2="95.9" y2="735" stroke="#000" stroke-width="1.6"/>
<text x="85.88" y="754.6" font-size="13.8" fill="#111" textLength="16.99" lengthAdjust="spacingAndGlyphs">−6</text>
<line x1="133.7" y1="729" x2="133.7" y2="735" stroke="#000" stroke-width="1.6"/>
<text x="123.6" y="754.6" font-size="13.8" fill="#111" textLength="16.99" lengthAdjust="spacingAndGlyphs">−4</text>
<line x1="171.5" y1="729" x2="171.5" y2="735" stroke="#000" stroke-width="1.6"/>
<text x="161.55" y="754.6" font-size="13.8" fill="#111" textLength="16.99" lengthAdjust="spacingAndGlyphs">−2</text>
<line x1="209.3" y1="729" x2="209.3" y2="735" stroke="#000" stroke-width="1.6"/>
<text x="205.2" y="754.6" font-size="13.8" fill="#111" textLength="8.29" lengthAdjust="spacingAndGlyphs">0</text>
<line x1="247.1" y1="729" x2="247.1" y2="735" stroke="#000" stroke-width="1.6"/>
<text x="242.93" y="754.6" font-size="13.8" fill="#111" textLength="8.29" lengthAdjust="spacingAndGlyphs">2</text>
<line x1="284.9" y1="729" x2="284.9" y2="735" stroke="#000" stroke-width="1.6"/>
<text x="280.8" y="754.6" font-size="13.8" fill="#111" textLength="8.29" lengthAdjust="spacingAndGlyphs">4</text>
<line x1="322.7" y1="729" x2="322.7" y2="735" stroke="#000" stroke-width="1.6"/>
<text x="318.45" y="754.6" font-size="13.8" fill="#111" textLength="8.29" lengthAdjust="spacingAndGlyphs">6</text>
<line x1="360.5" y1="729" x2="360.5" y2="735" stroke="#000" stroke-width="1.6"/>
<text x="356.33" y="754.6" font-size="13.8" fill="#111" textLength="8.29" lengthAdjust="spacingAndGlyphs">8</text>
<line x1="398.3" y1="729" x2="398.3" y2="735" stroke="#000" stroke-width="1.6"/>
<text x="389.76" y="754.6" font-size="13.8" fill="#111" textLength="16.58" lengthAdjust="spacingAndGlyphs">10</text>
<text x="205.95" y="780.8" font-size="17.6" fill="#111" textLength="100.52" lengthAdjust="spacingAndGlyphs" stroke="#111" stroke-width="0.35">Log2 fold change</text>
<text transform="translate(42.2,618.7) rotate(-90)" x="-0.56" y="0" font-size="17.6" fill="#111" textLength="4.66" lengthAdjust="spacingAndGlyphs" stroke="#111" stroke-width="0.35">-</text>
<text transform="translate(42.2,610.7) rotate(-90)" x="-0.99" y="0" font-size="17.6" fill="#111" textLength="34.54" lengthAdjust="spacingAndGlyphs" stroke="#111" stroke-width="0.35">Log10</text>
<text transform="translate(42.2,573.5) rotate(-90)" x="-0.38" y="0" font-size="17.6" fill="#111" textLength="8.34" lengthAdjust="spacingAndGlyphs" style="font-style:italic;" stroke="#111" stroke-width="0.35">P</text>
<text transform="translate(42.2,563.6) rotate(-90)" x="-0.47" y="0" font-size="17.6" fill="#111" textLength="19.11" lengthAdjust="spacingAndGlyphs" stroke="#111" stroke-width="0.35">-val</text>
<text x="88.82" y="485.4" font-size="14.3" fill="#111" textLength="105.73" lengthAdjust="spacingAndGlyphs">Increased gene</text>
<text x="89.59" y="504.4" font-size="14.3" fill="#111" textLength="117.33" lengthAdjust="spacingAndGlyphs">expression in BM</text>
<text x="231.73" y="485.2" font-size="14.3" fill="#111" textLength="104.72" lengthAdjust="spacingAndGlyphs">Increased gene</text>
<text x="232.5" y="503.2" font-size="14.3" fill="#111" textLength="115.56" lengthAdjust="spacingAndGlyphs">expression in MS</text>
<text x="129.89" y="544.2" font-size="14.3" fill="#111" textLength="44.22" lengthAdjust="spacingAndGlyphs">SNAI1</text>
<text x="112.73" y="574.7" font-size="14.3" fill="#111" textLength="39.19" lengthAdjust="spacingAndGlyphs">ZEB1</text>
<text x="118.51" y="637.7" font-size="14.3" fill="#111" textLength="41.05" lengthAdjust="spacingAndGlyphs">ZEB2</text>
<text x="449.8" y="481.2" font-size="14.6" fill="#111" textLength="54.38" lengthAdjust="spacingAndGlyphs">TWIST1</text>
<text x="453.78" y="598.2" font-size="14.6" fill="#111" textLength="45.15" lengthAdjust="spacingAndGlyphs">SNAI2</text>
<text x="14.98" y="827.7" font-size="29.5" fill="#000" textLength="20.24" lengthAdjust="spacingAndGlyphs" style="font-weight:bold;">C</text>
<text x="102.96" y="830" font-size="14.6" fill="#111" textLength="130.16" lengthAdjust="spacingAndGlyphs">Bone Marrow (BM)</text>
<text x="309.97" y="830" font-size="14.6" fill="#111" textLength="155.84" lengthAdjust="spacingAndGlyphs">Myeloid Sarcoma (MS)</text>
<text transform="translate(58.3,928.8) rotate(-90)" x="-1.19" y="0" font-size="15.6" fill="#111" textLength="30.54" lengthAdjust="spacingAndGlyphs">H&amp;E</text>
<text transform="translate(58.3,1100.4) rotate(-90)" x="-0.81" y="0" font-size="15.6" fill="#111" textLength="41.6" lengthAdjust="spacingAndGlyphs">CD45</text>
<text transform="translate(58.3,1273.8) rotate(-90)" x="-0.3" y="0" font-size="15.6" fill="#111" textLength="54.58" lengthAdjust="spacingAndGlyphs">TWIST1</text>
<defs><filter id="bl5" x="0" y="0" width="1" height="1"><feGaussianBlur stdDeviation="0.5"/></filter><filter id="bl7" x="0" y="0" width="1" height="1"><feGaussianBlur stdDeviation="0.7"/></filter></defs>
<clipPath id="hc1"><rect x="68" y="840" width="201" height="150"/></clipPath>
<g clip-path="url(#hc1)"><rect x="68" y="840" width="201" height="150" fill="#f7dadf"/>
<g filter="url(#bl5)">

<path d="M161.4 916.2h0M161.2 912.9h0M253.0 964.6h0M129.0 960.5h0M91.8 958.6h0M108.1 921.8h0M91.6 954.8h0M114.1 875.9h0M203.3 861.3h0" stroke="#fcecee" stroke-width="9.3" stroke-linecap="round" fill="none"/>
<path d="M132.5 929.2h0M263.3 969.2h0M246.9 843.2h0M126.9 958.0h0M182.8 921.7h0M162.9 840.3h0M257.3 986.0h0M239.8 984.6h0M157.8 847.0h0M257.7 901.6h0" stroke="#fcecee" stroke-width="9.8" stroke-linecap="round" fill="none"/>
<path d="M73.7 859.8h0M212.8 954.8h0M79.6 890.3h0M215.5 878.3h0M137.5 992.6h0" stroke="#fcecee" stroke-width="8.3" stroke-linecap="round" fill="none"/>
<path d="M164.2 938.9h0M144.1 927.9h0M137.6 976.7h0M177.6 991.3h0M217.9 877.0h0M265.3 950.8h0M212.3 911.1h0M93.4 874.6h0M69.6 899.4h0M245.2 957.1h0M97.4 919.8h0M262.5 903.3h0" stroke="#fcecee" stroke-width="8.8" stroke-linecap="round" fill="none"/>
<path d="M187.1 981.1h0M185.5 884.7h0M128.4 908.0h0M160.5 982.5h0M164.0 877.1h0M194.1 838.5h0M140.7 930.3h0" stroke="#fcecee" stroke-width="10.3" stroke-linecap="round" fill="none"/>
<path d="M118.0 838.8h0M236.5 925.5h0M96.4 838.1h0M82.5 960.5h0M138.7 966.7h0M164.5 990.0h0M128.4 903.6h0" stroke="#fcecee" stroke-width="12.3" stroke-linecap="round" fill="none"/>
<path d="M161.0 938.6h0M238.5 957.0h0M258.2 991.3h0M226.0 918.9h0M132.9 886.5h0M228.6 921.3h0" stroke="#fcecee" stroke-width="12.8" stroke-linecap="round" fill="none"/>
<path d="M221.9 905.5h0M84.9 925.9h0M247.1 992.9h0M204.7 870.8h0" stroke="#fcecee" stroke-width="13.3" stroke-linecap="round" fill="none"/>
<path d="M251.9 886.3h0M256.9 851.9h0M132.0 850.2h0M164.9 871.5h0M183.4 864.8h0M264.0 879.7h0M77.5 847.0h0M109.8 944.5h0M198.0 897.0h0" stroke="#fcecee" stroke-width="13.8" stroke-linecap="round" fill="none"/>
<path d="M177.2 930.1h0M80.2 978.3h0M206.6 887.1h0M186.8 930.6h0M166.2 871.5h0M147.8 929.6h0M103.3 843.0h0" stroke="#fcecee" stroke-width="11.3" stroke-linecap="round" fill="none"/>
<path d="M140.2 858.8h0M166.0 962.5h0M102.2 899.8h0M204.7 879.3h0M150.7 860.3h0" stroke="#fcecee" stroke-width="11.8" stroke-linecap="round" fill="none"/>
<path d="M135.8 938.5h0M128.7 941.7h0M263.6 930.6h0M172.0 922.5h0M171.7 842.0h0M125.9 958.3h0M106.5 946.7h0M121.7 918.4h0" stroke="#fcecee" stroke-width="10.8" stroke-linecap="round" fill="none"/>
<path d="M139.8 909.2h0M122.3 936.8h0M84.9 961.0h0M205.6 915.1h0M86.1 925.2h0M81.3 913.0h0" stroke="#fcecee" stroke-width="14.3" stroke-linecap="round" fill="none"/>
<path d="M161.4 916.2h0M129.0 960.5h0M91.6 954.8h0" stroke="#f5c4cc" stroke-width="8.0" stroke-linecap="round" fill="none"/>
<path d="M132.5 929.2h0M162.9 840.3h0" stroke="#f3b8c2" stroke-width="8.5" stroke-linecap="round" fill="none"/>
<path d="M263.3 969.2h0M126.9 958.0h0" stroke="#f1acb8" stroke-width="8.5" stroke-linecap="round" fill="none"/>
<path d="M161.2 912.9h0M253.0 964.6h0M91.8 958.6h0M114.1 875.9h0" stroke="#efa2b0" stroke-width="8.0" stroke-linecap="round" fill="none"/>
<path d="M73.7 859.8h0M79.6 890.3h0M215.5 878.3h0" stroke="#f3b8c2" stroke-width="7.0" stroke-linecap="round" fill="none"/>
<path d="M164.2 938.9h0M177.6 991.3h0M217.9 877.0h0M69.6 899.4h0M262.5 903.3h0" stroke="#efa2b0" stroke-width="7.5" stroke-linecap="round" fill="none"/>
<path d="M187.1 981.1h0M185.5 884.7h0M194.1 838.5h0" stroke="#f3b8c2" stroke-width="9.0" stroke-linecap="round" fill="none"/>
<path d="M144.1 927.9h0M212.3 911.1h0" stroke="#f1acb8" stroke-width="7.5" stroke-linecap="round" fill="none"/>
<path d="M118.0 838.8h0M164.5 990.0h0M128.4 903.6h0" stroke="#efa2b0" stroke-width="11.0" stroke-linecap="round" fill="none"/>
<path d="M137.6 976.7h0M265.3 950.8h0M93.4 874.6h0M245.2 957.1h0M97.4 919.8h0" stroke="#f3b8c2" stroke-width="7.5" stroke-linecap="round" fill="none"/>
<path d="M212.8 954.8h0M137.5 992.6h0" stroke="#efa2b0" stroke-width="7.0" stroke-linecap="round" fill="none"/>
<path d="M161.0 938.6h0M258.2 991.3h0" stroke="#f1acb8" stroke-width="11.5" stroke-linecap="round" fill="none"/>
<path d="M221.9 905.5h0" stroke="#efa2b0" stroke-width="12.0" stroke-linecap="round" fill="none"/>
<path d="M251.9 886.3h0M183.4 864.8h0" stroke="#efa2b0" stroke-width="12.5" stroke-linecap="round" fill="none"/>
<path d="M84.9 925.9h0M247.1 992.9h0" stroke="#f3b8c2" stroke-width="12.0" stroke-linecap="round" fill="none"/>
<path d="M256.9 851.9h0M132.0 850.2h0M164.9 871.5h0" stroke="#f5c4cc" stroke-width="12.5" stroke-linecap="round" fill="none"/>
<path d="M177.2 930.1h0M206.6 887.1h0M103.3 843.0h0" stroke="#f3b8c2" stroke-width="10.0" stroke-linecap="round" fill="none"/>
<path d="M80.2 978.3h0" stroke="#efa2b0" stroke-width="10.0" stroke-linecap="round" fill="none"/>
<path d="M140.2 858.8h0" stroke="#f5c4cc" stroke-width="10.5" stroke-linecap="round" fill="none"/>
<path d="M246.9 843.2h0M257.3 986.0h0M157.8 847.0h0M257.7 901.6h0" stroke="#f5c4cc" stroke-width="8.5" stroke-linecap="round" fill="none"/>
<path d="M238.5 957.0h0M226.0 918.9h0" stroke="#f5c4cc" stroke-width="11.5" stroke-linecap="round" fill="none"/>
<path d="M166.0 962.5h0M102.2 899.8h0M204.7 879.3h0M150.7 860.3h0" stroke="#f1acb8" stroke-width="10.5" stroke-linecap="round" fill="none"/>
<path d="M186.8 930.6h0M147.8 929.6h0" stroke="#f5c4cc" stroke-width="10.0" stroke-linecap="round" fill="none"/>
<path d="M108.1 921.8h0M203.3 861.3h0" stroke="#f3b8c2" stroke-width="8.0" stroke-linecap="round" fill="none"/>
<path d="M135.8 938.5h0M121.7 918.4h0" stroke="#f3b8c2" stroke-width="9.5" stroke-linecap="round" fill="none"/>
<path d="M139.8 909.2h0" stroke="#efa2b0" stroke-width="13.0" stroke-linecap="round" fill="none"/>
<path d="M128.7 941.7h0M171.7 842.0h0M125.9 958.3h0" stroke="#f1acb8" stroke-width="9.5" stroke-linecap="round" fill="none"/>
<path d="M263.6 930.6h0M172.0 922.5h0M106.5 946.7h0" stroke="#f5c4cc" stroke-width="9.5" stroke-linecap="round" fill="none"/>
<path d="M128.4 908.0h0M160.5 982.5h0" stroke="#efa2b0" stroke-width="9.0" stroke-linecap="round" fill="none"/>
<path d="M264.0 879.7h0M77.5 847.0h0M109.8 944.5h0" stroke="#f3b8c2" stroke-width="12.5" stroke-linecap="round" fill="none"/>
<path d="M122.3 936.8h0" stroke="#f5c4cc" stroke-width="13.0" stroke-linecap="round" fill="none"/>
<path d="M166.2 871.5h0" stroke="#f1acb8" stroke-width="10.0" stroke-linecap="round" fill="none"/>
<path d="M182.8 921.7h0M239.8 984.6h0" stroke="#efa2b0" stroke-width="8.5" stroke-linecap="round" fill="none"/>
<path d="M164.0 877.1h0M140.7 930.3h0" stroke="#f1acb8" stroke-width="9.0" stroke-linecap="round" fill="none"/>
<path d="M198.0 897.0h0" stroke="#f1acb8" stroke-width="12.5" stroke-linecap="round" fill="none"/>
<path d="M236.5 925.5h0M82.5 960.5h0" stroke="#f3b8c2" stroke-width="11.0" stroke-linecap="round" fill="none"/>
<path d="M204.7 870.8h0" stroke="#f5c4cc" stroke-width="12.0" stroke-linecap="round" fill="none"/>
<path d="M96.4 838.1h0" stroke="#f1acb8" stroke-width="11.0" stroke-linecap="round" fill="none"/>
<path d="M84.9 961.0h0M205.6 915.1h0M86.1 925.2h0" stroke="#f3b8c2" stroke-width="13.0" stroke-linecap="round" fill="none"/>
<path d="M132.9 886.5h0" stroke="#f3b8c2" stroke-width="11.5" stroke-linecap="round" fill="none"/>
<path d="M138.7 966.7h0" stroke="#f5c4cc" stroke-width="11.0" stroke-linecap="round" fill="none"/>
<path d="M81.3 913.0h0" stroke="#f1acb8" stroke-width="13.0" stroke-linecap="round" fill="none"/>
<path d="M228.6 921.3h0" stroke="#efa2b0" stroke-width="11.5" stroke-linecap="round" fill="none"/>
<path d="M195.4 960.7h0M173.2 968.6h0M182.9 866.8h0M117.0 913.2h0M67.6 932.3h0M266.9 967.0h0" stroke="#fcecee" stroke-width="10.3" stroke-linecap="round" fill="none"/>
<path d="M168.5 940.3h0M236.9 897.2h0M254.9 868.8h0M67.4 881.3h0M270.0 977.8h0M199.1 838.7h0M174.0 930.3h0M70.6 842.9h0M164.3 938.7h0M225.5 897.8h0M203.2 881.7h0M164.6 944.0h0M164.2 959.3h0" stroke="#fcecee" stroke-width="9.8" stroke-linecap="round" fill="none"/>
<path d="M162.3 989.9h0M207.2 897.6h0M265.7 846.2h0M114.4 925.8h0M209.1 983.3h0M73.2 899.9h0M194.8 907.2h0M105.6 880.6h0M269.9 928.9h0M195.9 891.7h0M261.1 849.7h0" stroke="#fcecee" stroke-width="8.8" stroke-linecap="round" fill="none"/>
<path d="M269.0 957.0h0M145.4 951.7h0M81.1 852.1h0M238.5 970.4h0M66.4 928.5h0M106.9 988.4h0M173.0 990.8h0M113.6 935.7h0M194.9 933.8h0M106.9 972.3h0M136.3 905.6h0M152.9 964.9h0M77.8 919.3h0" stroke="#fcecee" stroke-width="10.8" stroke-linecap="round" fill="none"/>
<path d="M164.8 951.0h0M130.4 900.3h0M171.4 838.6h0" stroke="#fcecee" stroke-width="14.3" stroke-linecap="round" fill="none"/>
<path d="M172.3 954.6h0M78.6 921.0h0M226.1 867.3h0M74.4 852.4h0M110.9 953.5h0M202.3 988.3h0M129.2 985.8h0" stroke="#fcecee" stroke-width="13.8" stroke-linecap="round" fill="none"/>
<path d="M256.6 966.6h0M121.4 890.9h0M88.9 915.9h0M93.4 882.3h0M97.8 901.3h0M201.3 959.1h0M245.3 867.2h0M188.1 982.3h0M102.4 857.0h0" stroke="#fcecee" stroke-width="11.3" stroke-linecap="round" fill="none"/>
<path d="M104.3 957.0h0M269.8 887.8h0M103.3 880.8h0M235.2 849.9h0M95.5 868.9h0M130.2 914.6h0M135.8 982.2h0M260.4 989.6h0" stroke="#fcecee" stroke-width="12.8" stroke-linecap="round" fill="none"/>
<path d="M137.1 849.9h0M205.8 873.6h0M171.1 943.0h0M69.3 864.2h0M102.6 897.6h0M76.7 956.1h0" stroke="#fcecee" stroke-width="11.8" stroke-linecap="round" fill="none"/>
<path d="M132.9 974.5h0M217.6 977.3h0M107.3 896.7h0M143.9 877.0h0M230.9 856.5h0M92.9 883.8h0" stroke="#fcecee" stroke-width="12.3" stroke-linecap="round" fill="none"/>
<path d="M70.0 942.6h0M150.0 965.9h0M158.2 875.5h0M154.8 957.3h0M76.2 903.4h0M253.9 879.4h0M170.9 912.1h0" stroke="#fcecee" stroke-width="13.3" stroke-linecap="round" fill="none"/>
<path d="M221.3 923.7h0M228.2 965.7h0M258.3 989.5h0M182.6 923.0h0M202.6 859.0h0M156.4 844.0h0" stroke="#fcecee" stroke-width="9.3" stroke-linecap="round" fill="none"/>
<path d="M195.4 960.7h0M117.0 913.2h0" stroke="#f1acb8" stroke-width="9.0" stroke-linecap="round" fill="none"/>
<path d="M168.5 940.3h0M70.6 842.9h0M164.3 938.7h0M225.5 897.8h0M203.2 881.7h0" stroke="#f1acb8" stroke-width="8.5" stroke-linecap="round" fill="none"/>
<path d="M162.3 989.9h0M265.7 846.2h0M209.1 983.3h0M269.9 928.9h0" stroke="#efa2b0" stroke-width="7.5" stroke-linecap="round" fill="none"/>
<path d="M269.0 957.0h0M113.6 935.7h0M106.9 972.3h0" stroke="#f5c4cc" stroke-width="9.5" stroke-linecap="round" fill="none"/>
<path d="M236.9 897.2h0" stroke="#efa2b0" stroke-width="8.5" stroke-linecap="round" fill="none"/>
<path d="M207.2 897.6h0M195.9 891.7h0" stroke="#f1acb8" stroke-width="7.5" stroke-linecap="round" fill="none"/>
<path d="M254.9 868.8h0M67.4 881.3h0" stroke="#f5c4cc" stroke-width="8.5" stroke-linecap="round" fill="none"/>
<path d="M164.8 951.0h0M130.4 900.3h0M171.4 838.6h0" stroke="#f1acb8" stroke-width="13.0" stroke-linecap="round" fill="none"/>
<path d="M145.4 951.7h0M238.5 970.4h0M66.4 928.5h0M136.3 905.6h0M152.9 964.9h0" stroke="#f1acb8" stroke-width="9.5" stroke-linecap="round" fill="none"/>
<path d="M172.3 954.6h0M78.6 921.0h0M202.3 988.3h0" stroke="#f5c4cc" stroke-width="12.5" stroke-linecap="round" fill="none"/>
<path d="M256.6 966.6h0M93.4 882.3h0M188.1 982.3h0" stroke="#f3b8c2" stroke-width="10.0" stroke-linecap="round" fill="none"/>
<path d="M104.3 957.0h0M235.2 849.9h0M130.2 914.6h0M135.8 982.2h0" stroke="#f1acb8" stroke-width="11.5" stroke-linecap="round" fill="none"/>
<path d="M121.4 890.9h0M88.9 915.9h0M201.3 959.1h0M102.4 857.0h0" stroke="#efa2b0" stroke-width="10.0" stroke-linecap="round" fill="none"/>
<path d="M137.1 849.9h0M69.3 864.2h0" stroke="#f3b8c2" stroke-width="10.5" stroke-linecap="round" fill="none"/>
<path d="M173.2 968.6h0" stroke="#f5c4cc" stroke-width="9.0" stroke-linecap="round" fill="none"/>
<path d="M226.1 867.3h0M74.4 852.4h0M129.2 985.8h0" stroke="#efa2b0" stroke-width="12.5" stroke-linecap="round" fill="none"/>
<path d="M81.1 852.1h0M194.9 933.8h0" stroke="#f3b8c2" stroke-width="9.5" stroke-linecap="round" fill="none"/>
<path d="M182.9 866.8h0M67.6 932.3h0M266.9 967.0h0" stroke="#f3b8c2" stroke-width="9.0" stroke-linecap="round" fill="none"/>
<path d="M270.0 977.8h0M199.1 838.7h0M174.0 930.3h0M164.6 944.0h0M164.2 959.3h0" stroke="#f3b8c2" stroke-width="8.5" stroke-linecap="round" fill="none"/>
<path d="M269.8 887.8h0" stroke="#efa2b0" stroke-width="11.5" stroke-linecap="round" fill="none"/>
<path d="M132.9 974.5h0M107.3 896.7h0M143.9 877.0h0" stroke="#f3b8c2" stroke-width="11.0" stroke-linecap="round" fill="none"/>
<path d="M70.0 942.6h0M76.2 903.4h0M253.9 879.4h0M170.9 912.1h0" stroke="#f3b8c2" stroke-width="12.0" stroke-linecap="round" fill="none"/>
<path d="M217.6 977.3h0M230.9 856.5h0M92.9 883.8h0" stroke="#efa2b0" stroke-width="11.0" stroke-linecap="round" fill="none"/>
<path d="M150.0 965.9h0M158.2 875.5h0" stroke="#f5c4cc" stroke-width="12.0" stroke-linecap="round" fill="none"/>
<path d="M103.3 880.8h0" stroke="#f3b8c2" stroke-width="11.5" stroke-linecap="round" fill="none"/>
<path d="M221.3 923.7h0" stroke="#f5c4cc" stroke-width="8.0" stroke-linecap="round" fill="none"/>
<path d="M154.8 957.3h0" stroke="#efa2b0" stroke-width="12.0" stroke-linecap="round" fill="none"/>
<path d="M228.2 965.7h0M258.3 989.5h0M182.6 923.0h0M156.4 844.0h0" stroke="#f3b8c2" stroke-width="8.0" stroke-linecap="round" fill="none"/>
<path d="M114.4 925.8h0M73.2 899.9h0M194.8 907.2h0M261.1 849.7h0" stroke="#f3b8c2" stroke-width="7.5" stroke-linecap="round" fill="none"/>
<path d="M97.8 901.3h0M245.3 867.2h0" stroke="#f1acb8" stroke-width="10.0" stroke-linecap="round" fill="none"/>
<path d="M110.9 953.5h0" stroke="#f1acb8" stroke-width="12.5" stroke-linecap="round" fill="none"/>
<path d="M106.9 988.4h0M173.0 990.8h0M77.8 919.3h0" stroke="#efa2b0" stroke-width="9.5" stroke-linecap="round" fill="none"/>
<path d="M95.5 868.9h0M260.4 989.6h0" stroke="#f5c4cc" stroke-width="11.5" stroke-linecap="round" fill="none"/>
<path d="M205.8 873.6h0M171.1 943.0h0M102.6 897.6h0" stroke="#f5c4cc" stroke-width="10.5" stroke-linecap="round" fill="none"/>
<path d="M105.6 880.6h0" stroke="#f5c4cc" stroke-width="7.5" stroke-linecap="round" fill="none"/>
<path d="M76.7 956.1h0" stroke="#efa2b0" stroke-width="10.5" stroke-linecap="round" fill="none"/>
<path d="M202.6 859.0h0" stroke="#f1acb8" stroke-width="8.0" stroke-linecap="round" fill="none"/>
<path d="M176.5 975.9h0M140.8 855.3h0M122.6 877.3h0M110.2 868.1h0" stroke="#fcecee" stroke-width="11.8" stroke-linecap="round" fill="none"/>
<path d="M211.5 886.2h0M227.4 934.5h0M182.9 864.1h0M91.2 991.5h0M231.2 876.7h0" stroke="#fcecee" stroke-width="9.8" stroke-linecap="round" fill="none"/>
<path d="M226.2 879.1h0M213.3 968.3h0M78.3 961.8h0M262.6 972.7h0M181.1 881.2h0M242.8 945.0h0M120.7 949.3h0M260.5 976.7h0M204.7 948.2h0M232.2 984.2h0M106.8 891.0h0" stroke="#fcecee" stroke-width="10.3" stroke-linecap="round" fill="none"/>
<path d="M152.1 870.2h0M254.0 862.1h0M79.1 909.4h0" stroke="#fcecee" stroke-width="14.3" stroke-linecap="round" fill="none"/>
<path d="M68.2 894.5h0M83.1 982.5h0M122.9 855.1h0M178.5 892.0h0M99.1 991.2h0M146.6 874.2h0M188.0 878.3h0M107.2 991.9h0M266.9 982.7h0" stroke="#fcecee" stroke-width="9.3" stroke-linecap="round" fill="none"/>
<path d="M114.4 946.9h0M215.4 877.5h0M182.6 992.2h0M197.5 918.7h0M194.7 984.0h0M97.5 887.2h0M181.5 949.9h0M132.3 931.9h0M119.7 853.2h0M180.4 870.5h0M227.9 913.6h0M113.7 927.4h0" stroke="#fcecee" stroke-width="13.3" stroke-linecap="round" fill="none"/>
<path d="M116.6 844.3h0M268.7 855.0h0M86.7 951.0h0M134.9 939.9h0M247.3 880.9h0M225.6 865.0h0M170.7 896.1h0M245.1 845.3h0M121.4 881.5h0M242.7 982.9h0" stroke="#fcecee" stroke-width="11.3" stroke-linecap="round" fill="none"/>
<path d="M158.8 894.4h0M106.1 904.2h0M153.5 894.6h0M83.9 923.8h0M123.9 946.7h0M223.7 878.3h0M145.3 880.4h0M257.0 936.6h0M85.1 887.6h0M182.2 891.4h0M113.1 991.8h0M104.9 858.2h0" stroke="#fcecee" stroke-width="13.8" stroke-linecap="round" fill="none"/>
<path d="M172.4 917.3h0M267.6 964.4h0M154.5 978.1h0M258.6 870.3h0M93.3 917.6h0M146.1 977.2h0" stroke="#fcecee" stroke-width="8.8" stroke-linecap="round" fill="none"/>
<path d="M120.7 910.8h0M139.5 944.2h0M187.9 957.3h0M242.1 863.7h0M120.9 925.7h0M154.0 987.2h0M90.1 952.2h0M97.1 988.4h0M177.5 881.0h0" stroke="#fcecee" stroke-width="10.8" stroke-linecap="round" fill="none"/>
<path d="M231.2 912.2h0M85.2 964.3h0M249.2 945.2h0M65.8 943.9h0M184.2 907.7h0" stroke="#fcecee" stroke-width="12.8" stroke-linecap="round" fill="none"/>
<path d="M154.0 930.7h0M218.5 916.9h0M200.0 988.9h0M79.9 991.1h0M78.8 909.1h0M155.4 943.0h0" stroke="#fcecee" stroke-width="12.3" stroke-linecap="round" fill="none"/>
<path d="M144.9 888.7h0M162.1 887.8h0M188.3 926.6h0" stroke="#fcecee" stroke-width="8.3" stroke-linecap="round" fill="none"/>
<path d="M176.5 975.9h0" stroke="#f5c4cc" stroke-width="10.5" stroke-linecap="round" fill="none"/>
<path d="M211.5 886.2h0M231.2 876.7h0" stroke="#f1acb8" stroke-width="8.5" stroke-linecap="round" fill="none"/>
<path d="M226.2 879.1h0M106.8 891.0h0" stroke="#f5c4cc" stroke-width="9.0" stroke-linecap="round" fill="none"/>
<path d="M152.1 870.2h0" stroke="#f3b8c2" stroke-width="13.0" stroke-linecap="round" fill="none"/>
<path d="M68.2 894.5h0M83.1 982.5h0M122.9 855.1h0" stroke="#f5c4cc" stroke-width="8.0" stroke-linecap="round" fill="none"/>
<path d="M114.4 946.9h0M215.4 877.5h0M197.5 918.7h0M194.7 984.0h0M132.3 931.9h0" stroke="#f5c4cc" stroke-width="12.0" stroke-linecap="round" fill="none"/>
<path d="M116.6 844.3h0M247.3 880.9h0" stroke="#efa2b0" stroke-width="10.0" stroke-linecap="round" fill="none"/>
<path d="M158.8 894.4h0M106.1 904.2h0M123.9 946.7h0M257.0 936.6h0M85.1 887.6h0" stroke="#efa2b0" stroke-width="12.5" stroke-linecap="round" fill="none"/>
<path d="M172.4 917.3h0" stroke="#f1acb8" stroke-width="7.5" stroke-linecap="round" fill="none"/>
<path d="M213.3 968.3h0M181.1 881.2h0M260.5 976.7h0M232.2 984.2h0" stroke="#f1acb8" stroke-width="9.0" stroke-linecap="round" fill="none"/>
<path d="M268.7 855.0h0M86.7 951.0h0M242.7 982.9h0" stroke="#f3b8c2" stroke-width="10.0" stroke-linecap="round" fill="none"/>
<path d="M78.3 961.8h0M262.6 972.7h0M204.7 948.2h0" stroke="#efa2b0" stroke-width="9.0" stroke-linecap="round" fill="none"/>
<path d="M120.7 910.8h0M139.5 944.2h0M187.9 957.3h0M90.1 952.2h0" stroke="#f5c4cc" stroke-width="9.5" stroke-linecap="round" fill="none"/>
<path d="M231.2 912.2h0M85.2 964.3h0" stroke="#f5c4cc" stroke-width="11.5" stroke-linecap="round" fill="none"/>
<path d="M154.0 930.7h0M218.5 916.9h0M200.0 988.9h0M79.9 991.1h0M78.8 909.1h0" stroke="#efa2b0" stroke-width="11.0" stroke-linecap="round" fill="none"/>
<path d="M134.9 939.9h0M225.6 865.0h0M170.7 896.1h0M245.1 845.3h0M121.4 881.5h0" stroke="#f5c4cc" stroke-width="10.0" stroke-linecap="round" fill="none"/>
<path d="M182.6 992.2h0M181.5 949.9h0M227.9 913.6h0" stroke="#f1acb8" stroke-width="12.0" stroke-linecap="round" fill="none"/>
<path d="M267.6 964.4h0M154.5 978.1h0M258.6 870.3h0" stroke="#f5c4cc" stroke-width="7.5" stroke-linecap="round" fill="none"/>
<path d="M227.4 934.5h0M91.2 991.5h0" stroke="#efa2b0" stroke-width="8.5" stroke-linecap="round" fill="none"/>
<path d="M254.0 862.1h0M79.1 909.4h0" stroke="#f5c4cc" stroke-width="13.0" stroke-linecap="round" fill="none"/>
<path d="M153.5 894.6h0M83.9 923.8h0M145.3 880.4h0M182.2 891.4h0M113.1 991.8h0" stroke="#f1acb8" stroke-width="12.5" stroke-linecap="round" fill="none"/>
<path d="M140.8 855.3h0M122.6 877.3h0" stroke="#f3b8c2" stroke-width="10.5" stroke-linecap="round" fill="none"/>
<path d="M97.5 887.2h0M119.7 853.2h0" stroke="#efa2b0" stroke-width="12.0" stroke-linecap="round" fill="none"/>
<path d="M249.2 945.2h0M65.8 943.9h0" stroke="#f3b8c2" stroke-width="11.5" stroke-linecap="round" fill="none"/>
<path d="M144.9 888.7h0" stroke="#f5c4cc" stroke-width="7.0" stroke-linecap="round" fill="none"/>
<path d="M178.5 892.0h0M146.6 874.2h0" stroke="#efa2b0" stroke-width="8.0" stroke-linecap="round" fill="none"/>
<path d="M182.9 864.1h0" stroke="#f3b8c2" stroke-width="8.5" stroke-linecap="round" fill="none"/>
<path d="M184.2 907.7h0" stroke="#f1acb8" stroke-width="11.5" stroke-linecap="round" fill="none"/>
<path d="M242.8 945.0h0M120.7 949.3h0" stroke="#f3b8c2" stroke-width="9.0" stroke-linecap="round" fill="none"/>
<path d="M99.1 991.2h0M188.0 878.3h0M107.2 991.9h0" stroke="#f1acb8" stroke-width="8.0" stroke-linecap="round" fill="none"/>
<path d="M93.3 917.6h0M146.1 977.2h0" stroke="#f3b8c2" stroke-width="7.5" stroke-linecap="round" fill="none"/>
<path d="M162.1 887.8h0M188.3 926.6h0" stroke="#f3b8c2" stroke-width="7.0" stroke-linecap="round" fill="none"/>
<path d="M242.1 863.7h0M120.9 925.7h0" stroke="#f3b8c2" stroke-width="9.5" stroke-linecap="round" fill="none"/>
<path d="M180.4 870.5h0M113.7 927.4h0" stroke="#f3b8c2" stroke-width="12.0" stroke-linecap="round" fill="none"/>
<path d="M223.7 878.3h0M104.9 858.2h0" stroke="#f5c4cc" stroke-width="12.5" stroke-linecap="round" fill="none"/>
<path d="M154.0 987.2h0M177.5 881.0h0" stroke="#efa2b0" stroke-width="9.5" stroke-linecap="round" fill="none"/>
<path d="M97.1 988.4h0" stroke="#f1acb8" stroke-width="9.5" stroke-linecap="round" fill="none"/>
<path d="M110.2 868.1h0" stroke="#f1acb8" stroke-width="10.5" stroke-linecap="round" fill="none"/>
<path d="M155.4 943.0h0" stroke="#f5c4cc" stroke-width="11.0" stroke-linecap="round" fill="none"/>
<path d="M266.9 982.7h0" stroke="#f3b8c2" stroke-width="8.0" stroke-linecap="round" fill="none"/>
<path d="M97.6 839.3h0M221.9 855.4h0M125.7 864.4h0M171.5 914.6h0M128.1 929.6h0M214.7 970.6h0M229.9 860.7h0" stroke="#fcecee" stroke-width="8.8" stroke-linecap="round" fill="none"/>
<path d="M181.6 853.8h0M122.6 931.8h0M196.1 954.5h0M115.7 990.7h0M194.8 867.9h0M209.5 924.3h0M77.7 901.1h0M163.4 863.0h0M166.6 925.0h0M112.1 912.2h0M146.7 883.7h0" stroke="#fcecee" stroke-width="9.8" stroke-linecap="round" fill="none"/>
<path d="M271.6 840.1h0M145.0 983.4h0M80.8 842.0h0M236.7 961.4h0M124.2 943.1h0M98.8 866.7h0M264.0 840.8h0" stroke="#fcecee" stroke-width="14.3" stroke-linecap="round" fill="none"/>
<path d="M237.3 858.2h0M229.2 979.7h0M177.5 947.0h0M146.6 889.7h0M68.9 866.3h0M86.1 934.0h0M117.4 936.0h0M120.5 879.3h0M181.8 847.6h0" stroke="#fcecee" stroke-width="12.3" stroke-linecap="round" fill="none"/>
<path d="M84.1 858.6h0M92.6 888.5h0M149.6 943.8h0M155.7 962.3h0M72.9 858.2h0M101.7 853.5h0M172.6 919.2h0M184.0 981.6h0M215.2 942.5h0" stroke="#fcecee" stroke-width="10.3" stroke-linecap="round" fill="none"/>
<path d="M112.7 945.9h0M105.8 975.4h0M106.6 920.6h0M175.5 871.1h0M248.7 979.6h0M233.8 899.0h0M71.6 885.7h0M151.8 897.0h0" stroke="#fcecee" stroke-width="11.8" stroke-linecap="round" fill="none"/>
<path d="M144.6 928.0h0M256.2 979.8h0M253.2 842.7h0M136.9 865.6h0M111.3 949.6h0M215.1 864.4h0M256.5 974.2h0" stroke="#fcecee" stroke-width="9.3" stroke-linecap="round" fill="none"/>
<path d="M263.4 943.8h0M159.3 868.8h0M196.9 991.9h0M191.1 921.8h0M163.5 964.7h0" stroke="#fcecee" stroke-width="11.3" stroke-linecap="round" fill="none"/>
<path d="M172.3 942.8h0M187.1 872.7h0M120.6 893.3h0M223.9 990.8h0M233.2 847.9h0M197.1 853.4h0" stroke="#fcecee" stroke-width="13.8" stroke-linecap="round" fill="none"/>
<path d="M173.7 853.9h0M136.4 870.7h0" stroke="#fcecee" stroke-width="8.3" stroke-linecap="round" fill="none"/>
<path d="M95.3 865.8h0M177.5 904.4h0M182.5 987.8h0M191.8 883.1h0M132.0 895.2h0M180.9 992.1h0M172.2 928.1h0M150.6 838.7h0M263.6 842.0h0" stroke="#fcecee" stroke-width="13.3" stroke-linecap="round" fill="none"/>
<path d="M102.5 907.8h0M219.6 959.4h0M72.0 909.0h0M111.7 911.5h0M156.2 954.2h0M245.9 910.7h0M173.9 889.3h0" stroke="#fcecee" stroke-width="10.8" stroke-linecap="round" fill="none"/>
<path d="M164.1 869.9h0M76.1 959.3h0M178.4 877.0h0M105.6 992.2h0M83.3 893.7h0M158.7 928.9h0M159.3 912.9h0M113.1 884.0h0" stroke="#fcecee" stroke-width="12.8" stroke-linecap="round" fill="none"/>
<path d="M97.6 839.3h0M125.7 864.4h0M214.7 970.6h0" stroke="#efa2b0" stroke-width="7.5" stroke-linecap="round" fill="none"/>
<path d="M181.6 853.8h0M209.5 924.3h0M77.7 901.1h0M163.4 863.0h0M112.1 912.2h0" stroke="#f1acb8" stroke-width="8.5" stroke-linecap="round" fill="none"/>
<path d="M221.9 855.4h0M229.9 860.7h0" stroke="#f1acb8" stroke-width="7.5" stroke-linecap="round" fill="none"/>
<path d="M271.6 840.1h0M236.7 961.4h0M264.0 840.8h0" stroke="#f1acb8" stroke-width="13.0" stroke-linecap="round" fill="none"/>
<path d="M237.3 858.2h0M181.8 847.6h0" stroke="#f3b8c2" stroke-width="11.0" stroke-linecap="round" fill="none"/>
<path d="M84.1 858.6h0" stroke="#efa2b0" stroke-width="9.0" stroke-linecap="round" fill="none"/>
<path d="M229.2 979.7h0M177.5 947.0h0" stroke="#f1acb8" stroke-width="11.0" stroke-linecap="round" fill="none"/>
<path d="M112.7 945.9h0" stroke="#f5c4cc" stroke-width="10.5" stroke-linecap="round" fill="none"/>
<path d="M144.6 928.0h0M256.2 979.8h0M111.3 949.6h0" stroke="#f5c4cc" stroke-width="8.0" stroke-linecap="round" fill="none"/>
<path d="M122.6 931.8h0M146.7 883.7h0" stroke="#f3b8c2" stroke-width="8.5" stroke-linecap="round" fill="none"/>
<path d="M263.4 943.8h0M196.9 991.9h0" stroke="#efa2b0" stroke-width="10.0" stroke-linecap="round" fill="none"/>
<path d="M105.8 975.4h0" stroke="#f3b8c2" stroke-width="10.5" stroke-linecap="round" fill="none"/>
<path d="M172.3 942.8h0" stroke="#f1acb8" stroke-width="12.5" stroke-linecap="round" fill="none"/>
<path d="M106.6 920.6h0M248.7 979.6h0M233.8 899.0h0M151.8 897.0h0" stroke="#f1acb8" stroke-width="10.5" stroke-linecap="round" fill="none"/>
<path d="M173.7 853.9h0" stroke="#f3b8c2" stroke-width="7.0" stroke-linecap="round" fill="none"/>
<path d="M175.5 871.1h0M71.6 885.7h0" stroke="#efa2b0" stroke-width="10.5" stroke-linecap="round" fill="none"/>
<path d="M95.3 865.8h0M180.9 992.1h0" stroke="#f3b8c2" stroke-width="12.0" stroke-linecap="round" fill="none"/>
<path d="M102.5 907.8h0M111.7 911.5h0M173.9 889.3h0" stroke="#efa2b0" stroke-width="9.5" stroke-linecap="round" fill="none"/>
<path d="M92.6 888.5h0M149.6 943.8h0M155.7 962.3h0M101.7 853.5h0" stroke="#f5c4cc" stroke-width="9.0" stroke-linecap="round" fill="none"/>
<path d="M171.5 914.6h0M128.1 929.6h0" stroke="#f5c4cc" stroke-width="7.5" stroke-linecap="round" fill="none"/>
<path d="M145.0 983.4h0" stroke="#f5c4cc" stroke-width="13.0" stroke-linecap="round" fill="none"/>
<path d="M159.3 868.8h0" stroke="#f1acb8" stroke-width="10.0" stroke-linecap="round" fill="none"/>
<path d="M196.1 954.5h0M115.7 990.7h0" stroke="#efa2b0" stroke-width="8.5" stroke-linecap="round" fill="none"/>
<path d="M164.1 869.9h0M159.3 912.9h0M113.1 884.0h0" stroke="#f1acb8" stroke-width="11.5" stroke-linecap="round" fill="none"/>
<path d="M177.5 904.4h0M191.8 883.1h0M172.2 928.1h0M150.6 838.7h0" stroke="#f5c4cc" stroke-width="12.0" stroke-linecap="round" fill="none"/>
<path d="M182.5 987.8h0M263.6 842.0h0" stroke="#f1acb8" stroke-width="12.0" stroke-linecap="round" fill="none"/>
<path d="M146.6 889.7h0M68.9 866.3h0M120.5 879.3h0" stroke="#f5c4cc" stroke-width="11.0" stroke-linecap="round" fill="none"/>
<path d="M253.2 842.7h0M136.9 865.6h0M256.5 974.2h0" stroke="#efa2b0" stroke-width="8.0" stroke-linecap="round" fill="none"/>
<path d="M219.6 959.4h0M72.0 909.0h0M156.2 954.2h0M245.9 910.7h0" stroke="#f5c4cc" stroke-width="9.5" stroke-linecap="round" fill="none"/>
<path d="M86.1 934.0h0M117.4 936.0h0" stroke="#efa2b0" stroke-width="11.0" stroke-linecap="round" fill="none"/>
<path d="M194.8 867.9h0M166.6 925.0h0" stroke="#f5c4cc" stroke-width="8.5" stroke-linecap="round" fill="none"/>
<path d="M80.8 842.0h0" stroke="#efa2b0" stroke-width="13.0" stroke-linecap="round" fill="none"/>
<path d="M76.1 959.3h0" stroke="#f5c4cc" stroke-width="11.5" stroke-linecap="round" fill="none"/>
<path d="M187.1 872.7h0M233.2 847.9h0" stroke="#efa2b0" stroke-width="12.5" stroke-linecap="round" fill="none"/>
<path d="M178.4 877.0h0M105.6 992.2h0M83.3 893.7h0" stroke="#f3b8c2" stroke-width="11.5" stroke-linecap="round" fill="none"/>
<path d="M120.6 893.3h0" stroke="#f3b8c2" stroke-width="12.5" stroke-linecap="round" fill="none"/>
<path d="M136.4 870.7h0" stroke="#f5c4cc" stroke-width="7.0" stroke-linecap="round" fill="none"/>
<path d="M132.0 895.2h0" stroke="#efa2b0" stroke-width="12.0" stroke-linecap="round" fill="none"/>
<path d="M72.9 858.2h0" stroke="#f3b8c2" stroke-width="9.0" stroke-linecap="round" fill="none"/>
<path d="M215.1 864.4h0" stroke="#f1acb8" stroke-width="8.0" stroke-linecap="round" fill="none"/>
<path d="M223.9 990.8h0M197.1 853.4h0" stroke="#f5c4cc" stroke-width="12.5" stroke-linecap="round" fill="none"/>
<path d="M172.6 919.2h0M184.0 981.6h0M215.2 942.5h0" stroke="#f1acb8" stroke-width="9.0" stroke-linecap="round" fill="none"/>
<path d="M124.2 943.1h0M98.8 866.7h0" stroke="#f3b8c2" stroke-width="13.0" stroke-linecap="round" fill="none"/>
<path d="M158.7 928.9h0" stroke="#efa2b0" stroke-width="11.5" stroke-linecap="round" fill="none"/>
<path d="M191.1 921.8h0" stroke="#f3b8c2" stroke-width="10.0" stroke-linecap="round" fill="none"/>
<path d="M163.5 964.7h0" stroke="#f5c4cc" stroke-width="10.0" stroke-linecap="round" fill="none"/>
<path d="M161.3 865.5h0M267.1 861.9h0M163.2 843.2h0M141.9 903.5h0M138.0 910.9h0M169.3 864.9h0M84.3 974.9h0M163.1 856.9h0M214.8 962.2h0M239.9 916.9h0" stroke="#fae4e8" stroke-width="7.0" stroke-linecap="round" fill="none"/>
<path d="M153.9 928.6h0M227.6 973.3h0M119.6 883.3h0M271.8 967.9h0M104.6 906.8h0M143.6 861.8h0" stroke="#fae4e8" stroke-width="10.0" stroke-linecap="round" fill="none"/>
<path d="M196.2 837.5h0M265.8 880.7h0M157.3 883.6h0M120.8 945.3h0M109.0 883.6h0M190.0 874.9h0M254.9 942.2h0M215.8 837.5h0M134.4 859.5h0M244.8 983.2h0M84.1 859.6h0M203.4 872.0h0M106.4 896.0h0M184.2 953.1h0M111.7 893.0h0" stroke="#fae4e8" stroke-width="6.5" stroke-linecap="round" fill="none"/>
<path d="M208.0 841.2h0M85.0 947.0h0M186.0 982.8h0M146.0 929.1h0M162.0 919.5h0M76.6 947.7h0M100.4 991.7h0M185.0 896.5h0M235.0 925.4h0M135.2 970.3h0M214.3 946.5h0M119.4 867.8h0M242.0 894.6h0" stroke="#fae4e8" stroke-width="9.0" stroke-linecap="round" fill="none"/>
<path d="M254.7 849.3h0M159.2 910.9h0M255.9 960.8h0M96.1 987.4h0M120.6 854.6h0M187.7 872.9h0M207.3 934.8h0M205.0 877.0h0M237.4 965.9h0M162.5 859.0h0M138.7 859.8h0M112.8 891.6h0" stroke="#fae4e8" stroke-width="8.0" stroke-linecap="round" fill="none"/>
<path d="M115.8 926.0h0M66.9 922.2h0M208.2 953.1h0M90.3 876.5h0M91.9 896.8h0M144.9 937.3h0M115.1 909.9h0M147.5 849.0h0M191.0 951.2h0M111.3 991.2h0M271.1 874.8h0M83.7 942.3h0M139.8 949.5h0" stroke="#fae4e8" stroke-width="7.5" stroke-linecap="round" fill="none"/>
<path d="M218.0 972.7h0M196.9 841.2h0M74.1 860.8h0M139.6 906.2h0M243.7 932.5h0M254.5 981.1h0M243.9 949.4h0M69.1 862.8h0" stroke="#fae4e8" stroke-width="6.0" stroke-linecap="round" fill="none"/>
<path d="M164.2 846.2h0M131.2 855.0h0M200.7 986.5h0M170.7 846.2h0M74.6 899.3h0M91.6 946.6h0M141.4 908.1h0M112.3 875.1h0M97.7 925.5h0M247.7 981.1h0M229.7 984.7h0M245.1 905.4h0" stroke="#fae4e8" stroke-width="8.5" stroke-linecap="round" fill="none"/>
<path d="M192.9 887.0h0M234.7 904.3h0M178.5 906.3h0M100.3 907.8h0M111.3 949.6h0M225.7 913.1h0M141.2 985.4h0M173.0 935.7h0M179.6 861.9h0M121.5 893.7h0M184.1 885.7h0" stroke="#fae4e8" stroke-width="9.5" stroke-linecap="round" fill="none"/>
<path d="M161.3 865.5h0M141.9 903.5h0" stroke="#ea8c9c" stroke-width="6.0" stroke-linecap="round" fill="none"/>
<path d="M153.9 928.6h0M227.6 973.3h0" stroke="#e27488" stroke-width="9.0" stroke-linecap="round" fill="none"/>
<path d="M196.2 837.5h0M120.8 945.3h0M184.2 953.1h0" stroke="#e27488" stroke-width="5.5" stroke-linecap="round" fill="none"/>
<path d="M265.8 880.7h0M190.0 874.9h0M134.4 859.5h0M244.8 983.2h0M111.7 893.0h0" stroke="#ea8c9c" stroke-width="5.5" stroke-linecap="round" fill="none"/>
<path d="M157.3 883.6h0M254.9 942.2h0M215.8 837.5h0M203.4 872.0h0" stroke="#e67e90" stroke-width="5.5" stroke-linecap="round" fill="none"/>
<path d="M267.1 861.9h0M138.0 910.9h0M214.8 962.2h0M239.9 916.9h0" stroke="#e27488" stroke-width="6.0" stroke-linecap="round" fill="none"/>
<path d="M208.0 841.2h0M186.0 982.8h0M100.4 991.7h0M235.0 925.4h0" stroke="#ea8c9c" stroke-width="8.0" stroke-linecap="round" fill="none"/>
<path d="M85.0 947.0h0M162.0 919.5h0M76.6 947.7h0M185.0 896.5h0M214.3 946.5h0M119.4 867.8h0" stroke="#e67e90" stroke-width="8.0" stroke-linecap="round" fill="none"/>
<path d="M254.7 849.3h0M159.2 910.9h0M255.9 960.8h0M96.1 987.4h0M187.7 872.9h0M112.8 891.6h0" stroke="#e27488" stroke-width="7.0" stroke-linecap="round" fill="none"/>
<path d="M115.8 926.0h0M91.9 896.8h0M115.1 909.9h0M147.5 849.0h0M271.1 874.8h0M83.7 942.3h0" stroke="#e27488" stroke-width="6.5" stroke-linecap="round" fill="none"/>
<path d="M218.0 972.7h0M196.9 841.2h0M139.6 906.2h0" stroke="#ea8c9c" stroke-width="5.0" stroke-linecap="round" fill="none"/>
<path d="M109.0 883.6h0M84.1 859.6h0M106.4 896.0h0" stroke="#ee9eac" stroke-width="5.5" stroke-linecap="round" fill="none"/>
<path d="M146.0 929.1h0M135.2 970.3h0" stroke="#ee9eac" stroke-width="8.0" stroke-linecap="round" fill="none"/>
<path d="M66.9 922.2h0M208.2 953.1h0M139.8 949.5h0" stroke="#e67e90" stroke-width="6.5" stroke-linecap="round" fill="none"/>
<path d="M164.2 846.2h0M200.7 986.5h0M170.7 846.2h0M247.7 981.1h0" stroke="#ea8c9c" stroke-width="7.5" stroke-linecap="round" fill="none"/>
<path d="M74.1 860.8h0M243.7 932.5h0M254.5 981.1h0M243.9 949.4h0M69.1 862.8h0" stroke="#ee9eac" stroke-width="5.0" stroke-linecap="round" fill="none"/>
<path d="M120.6 854.6h0M162.5 859.0h0" stroke="#e67e90" stroke-width="7.0" stroke-linecap="round" fill="none"/>
<path d="M131.2 855.0h0M112.3 875.1h0" stroke="#ee9eac" stroke-width="7.5" stroke-linecap="round" fill="none"/>
<path d="M90.3 876.5h0M191.0 951.2h0" stroke="#ee9eac" stroke-width="6.5" stroke-linecap="round" fill="none"/>
<path d="M163.2 843.2h0M169.3 864.9h0M163.1 856.9h0" stroke="#ee9eac" stroke-width="6.0" stroke-linecap="round" fill="none"/>
<path d="M119.6 883.3h0" stroke="#ea8c9c" stroke-width="9.0" stroke-linecap="round" fill="none"/>
<path d="M271.8 967.9h0M143.6 861.8h0" stroke="#e67e90" stroke-width="9.0" stroke-linecap="round" fill="none"/>
<path d="M104.6 906.8h0" stroke="#ee9eac" stroke-width="9.0" stroke-linecap="round" fill="none"/>
<path d="M207.3 934.8h0M237.4 965.9h0" stroke="#ea8c9c" stroke-width="7.0" stroke-linecap="round" fill="none"/>
<path d="M205.0 877.0h0M138.7 859.8h0" stroke="#ee9eac" stroke-width="7.0" stroke-linecap="round" fill="none"/>
<path d="M74.6 899.3h0M97.7 925.5h0M229.7 984.7h0" stroke="#e67e90" stroke-width="7.5" stroke-linecap="round" fill="none"/>
<path d="M192.9 887.0h0M179.6 861.9h0M184.1 885.7h0" stroke="#ea8c9c" stroke-width="8.5" stroke-linecap="round" fill="none"/>
<path d="M91.6 946.6h0M141.4 908.1h0M245.1 905.4h0" stroke="#e27488" stroke-width="7.5" stroke-linecap="round" fill="none"/>
<path d="M144.9 937.3h0M111.3 991.2h0" stroke="#ea8c9c" stroke-width="6.5" stroke-linecap="round" fill="none"/>
<path d="M84.3 974.9h0" stroke="#e67e90" stroke-width="6.0" stroke-linecap="round" fill="none"/>
<path d="M234.7 904.3h0M178.5 906.3h0M141.2 985.4h0M173.0 935.7h0" stroke="#e27488" stroke-width="8.5" stroke-linecap="round" fill="none"/>
<path d="M100.3 907.8h0M111.3 949.6h0M121.5 893.7h0" stroke="#e67e90" stroke-width="8.5" stroke-linecap="round" fill="none"/>
<path d="M225.7 913.1h0" stroke="#ee9eac" stroke-width="8.5" stroke-linecap="round" fill="none"/>
<path d="M242.0 894.6h0" stroke="#e27488" stroke-width="8.0" stroke-linecap="round" fill="none"/>
<path d="M134.7 969.3h0M268.8 882.0h0M129.3 866.0h0M101.4 865.4h0M70.1 887.6h0M267.1 865.7h0M144.2 965.5h0M118.7 914.5h0M205.2 989.1h0M221.9 937.7h0M84.2 934.1h0M91.5 891.8h0M167.7 906.6h0M69.7 891.2h0M163.1 965.1h0" stroke="#fae4e8" stroke-width="9.0" stroke-linecap="round" fill="none"/>
<path d="M206.9 940.4h0M259.2 977.8h0M184.8 876.2h0M204.9 852.3h0M143.7 879.7h0M110.2 910.9h0M204.6 870.8h0M103.7 916.0h0M78.5 948.7h0M270.0 960.7h0M150.5 918.2h0M74.0 846.6h0M240.8 922.7h0M174.5 845.0h0M205.7 949.4h0" stroke="#fae4e8" stroke-width="8.0" stroke-linecap="round" fill="none"/>
<path d="M117.7 977.8h0M124.7 982.5h0M211.6 906.9h0M136.3 903.6h0M209.8 981.3h0M149.2 938.1h0M155.5 908.3h0M121.6 941.9h0" stroke="#fae4e8" stroke-width="7.5" stroke-linecap="round" fill="none"/>
<path d="M127.8 875.1h0M110.8 840.2h0M198.2 931.8h0M144.3 885.8h0M115.5 898.3h0M193.6 897.0h0" stroke="#fae4e8" stroke-width="6.0" stroke-linecap="round" fill="none"/>
<path d="M111.6 947.9h0M168.1 959.4h0M163.5 852.7h0M267.0 888.8h0M112.8 875.0h0M194.3 990.7h0M78.5 891.5h0M249.0 980.7h0M86.3 841.6h0" stroke="#fae4e8" stroke-width="9.5" stroke-linecap="round" fill="none"/>
<path d="M125.1 985.5h0M237.9 848.6h0M187.5 936.3h0" stroke="#fae4e8" stroke-width="10.0" stroke-linecap="round" fill="none"/>
<path d="M211.1 908.2h0M143.9 983.0h0M75.7 965.7h0M106.5 936.9h0M93.2 975.9h0M171.6 922.3h0M74.1 913.3h0M148.2 967.1h0M246.9 958.3h0M200.9 882.9h0M156.5 965.2h0M184.0 917.9h0M181.0 985.2h0" stroke="#fae4e8" stroke-width="6.5" stroke-linecap="round" fill="none"/>
<path d="M216.2 933.6h0M257.5 975.2h0M152.3 968.8h0M156.9 925.7h0M231.8 884.7h0M115.8 951.1h0M150.6 919.0h0M193.8 986.1h0M151.2 986.3h0M216.1 966.7h0M96.8 839.4h0M185.5 877.1h0M89.3 858.2h0M127.0 879.0h0M219.1 898.1h0M106.4 913.7h0" stroke="#fae4e8" stroke-width="7.0" stroke-linecap="round" fill="none"/>
<path d="M129.6 975.4h0M124.0 883.2h0M241.3 882.2h0M155.7 877.2h0M88.6 858.9h0M210.5 973.1h0M141.3 885.5h0M160.0 978.0h0M189.1 857.7h0M138.9 844.1h0M241.1 870.7h0M269.5 975.6h0M190.0 982.9h0M206.3 890.2h0M196.5 982.6h0" stroke="#fae4e8" stroke-width="8.5" stroke-linecap="round" fill="none"/>
<path d="M134.7 969.3h0M91.5 891.8h0" stroke="#ee9eac" stroke-width="8.0" stroke-linecap="round" fill="none"/>
<path d="M268.8 882.0h0M129.3 866.0h0M267.1 865.7h0M144.2 965.5h0M84.2 934.1h0M69.7 891.2h0M163.1 965.1h0" stroke="#e67e90" stroke-width="8.0" stroke-linecap="round" fill="none"/>
<path d="M206.9 940.4h0M204.9 852.3h0M78.5 948.7h0M270.0 960.7h0M74.0 846.6h0M240.8 922.7h0M174.5 845.0h0M205.7 949.4h0" stroke="#e27488" stroke-width="7.0" stroke-linecap="round" fill="none"/>
<path d="M117.7 977.8h0" stroke="#ea8c9c" stroke-width="6.5" stroke-linecap="round" fill="none"/>
<path d="M127.8 875.1h0M110.8 840.2h0" stroke="#ee9eac" stroke-width="5.0" stroke-linecap="round" fill="none"/>
<path d="M111.6 947.9h0M112.8 875.0h0" stroke="#e27488" stroke-width="8.5" stroke-linecap="round" fill="none"/>
<path d="M125.1 985.5h0M187.5 936.3h0" stroke="#ea8c9c" stroke-width="9.0" stroke-linecap="round" fill="none"/>
<path d="M124.7 982.5h0M211.6 906.9h0M136.3 903.6h0M155.5 908.3h0M121.6 941.9h0" stroke="#e27488" stroke-width="6.5" stroke-linecap="round" fill="none"/>
<path d="M259.2 977.8h0M143.7 879.7h0" stroke="#ea8c9c" stroke-width="7.0" stroke-linecap="round" fill="none"/>
<path d="M211.1 908.2h0M143.9 983.0h0M106.5 936.9h0M148.2 967.1h0M246.9 958.3h0M156.5 965.2h0" stroke="#e27488" stroke-width="5.5" stroke-linecap="round" fill="none"/>
<path d="M168.1 959.4h0M163.5 852.7h0M267.0 888.8h0M194.3 990.7h0M78.5 891.5h0" stroke="#e67e90" stroke-width="8.5" stroke-linecap="round" fill="none"/>
<path d="M216.2 933.6h0M216.1 966.7h0" stroke="#e27488" stroke-width="6.0" stroke-linecap="round" fill="none"/>
<path d="M257.5 975.2h0M156.9 925.7h0M193.8 986.1h0M96.8 839.4h0" stroke="#e67e90" stroke-width="6.0" stroke-linecap="round" fill="none"/>
<path d="M184.8 876.2h0" stroke="#e67e90" stroke-width="7.0" stroke-linecap="round" fill="none"/>
<path d="M110.2 910.9h0M204.6 870.8h0M103.7 916.0h0M150.5 918.2h0" stroke="#ee9eac" stroke-width="7.0" stroke-linecap="round" fill="none"/>
<path d="M101.4 865.4h0M70.1 887.6h0M205.2 989.1h0" stroke="#e27488" stroke-width="8.0" stroke-linecap="round" fill="none"/>
<path d="M129.6 975.4h0M141.3 885.5h0" stroke="#e27488" stroke-width="7.5" stroke-linecap="round" fill="none"/>
<path d="M124.0 883.2h0M155.7 877.2h0M210.5 973.1h0M241.1 870.7h0M269.5 975.6h0" stroke="#ea8c9c" stroke-width="7.5" stroke-linecap="round" fill="none"/>
<path d="M237.9 848.6h0" stroke="#e27488" stroke-width="9.0" stroke-linecap="round" fill="none"/>
<path d="M198.2 931.8h0M193.6 897.0h0" stroke="#e67e90" stroke-width="5.0" stroke-linecap="round" fill="none"/>
<path d="M75.7 965.7h0M184.0 917.9h0M181.0 985.2h0" stroke="#ea8c9c" stroke-width="5.5" stroke-linecap="round" fill="none"/>
<path d="M241.3 882.2h0M206.3 890.2h0" stroke="#e67e90" stroke-width="7.5" stroke-linecap="round" fill="none"/>
<path d="M209.8 981.3h0M149.2 938.1h0" stroke="#ee9eac" stroke-width="6.5" stroke-linecap="round" fill="none"/>
<path d="M118.7 914.5h0M221.9 937.7h0M167.7 906.6h0" stroke="#ea8c9c" stroke-width="8.0" stroke-linecap="round" fill="none"/>
<path d="M152.3 968.8h0M231.8 884.7h0M150.6 919.0h0M127.0 879.0h0" stroke="#ee9eac" stroke-width="6.0" stroke-linecap="round" fill="none"/>
<path d="M93.2 975.9h0M200.9 882.9h0" stroke="#e67e90" stroke-width="5.5" stroke-linecap="round" fill="none"/>
<path d="M171.6 922.3h0M74.1 913.3h0" stroke="#ee9eac" stroke-width="5.5" stroke-linecap="round" fill="none"/>
<path d="M88.6 858.9h0M160.0 978.0h0M189.1 857.7h0M138.9 844.1h0M190.0 982.9h0M196.5 982.6h0" stroke="#ee9eac" stroke-width="7.5" stroke-linecap="round" fill="none"/>
<path d="M115.8 951.1h0M151.2 986.3h0M185.5 877.1h0M89.3 858.2h0M219.1 898.1h0M106.4 913.7h0" stroke="#ea8c9c" stroke-width="6.0" stroke-linecap="round" fill="none"/>
<path d="M144.3 885.8h0M115.5 898.3h0" stroke="#e27488" stroke-width="5.0" stroke-linecap="round" fill="none"/>
<path d="M249.0 980.7h0M86.3 841.6h0" stroke="#ea8c9c" stroke-width="8.5" stroke-linecap="round" fill="none"/>
<path d="M194.1 886.5h0M197.1 889.4h0M155.1 870.0h0M138.5 947.2h0M193.4 881.5h0M175.0 857.0h0M157.0 883.0h0M111.8 839.2h0M115.5 856.6h0" stroke="#fae4e8" stroke-width="9.5" stroke-linecap="round" fill="none"/>
<path d="M179.9 900.0h0M162.5 937.5h0M220.1 941.4h0M225.5 945.3h0M127.0 986.1h0M127.0 839.3h0M208.3 915.1h0M258.6 886.9h0M95.0 948.3h0M242.3 982.9h0M165.2 899.1h0M258.3 847.0h0M174.3 842.2h0M241.9 868.1h0M247.2 892.2h0M164.3 869.5h0" stroke="#fae4e8" stroke-width="7.5" stroke-linecap="round" fill="none"/>
<path d="M76.7 886.8h0M174.2 866.5h0M269.9 980.8h0M106.1 923.8h0M265.4 846.1h0M109.3 906.6h0M88.8 841.6h0M160.7 977.0h0" stroke="#fae4e8" stroke-width="6.0" stroke-linecap="round" fill="none"/>
<path d="M260.8 913.4h0M191.1 991.0h0M162.0 838.7h0M246.1 929.8h0M170.5 844.9h0M225.4 884.9h0M171.6 918.9h0M144.7 847.9h0M137.3 957.3h0M205.4 924.0h0M165.9 881.9h0M187.3 979.0h0" stroke="#fae4e8" stroke-width="7.0" stroke-linecap="round" fill="none"/>
<path d="M134.0 880.6h0M79.5 845.1h0M105.1 876.4h0M121.8 925.5h0M157.8 912.6h0M236.5 979.2h0M90.5 876.0h0M91.1 963.0h0M97.7 919.7h0M86.4 889.2h0M266.1 945.8h0M134.6 865.8h0M189.3 963.4h0M208.8 871.9h0M268.2 873.9h0M187.4 877.5h0M122.0 841.6h0M84.0 874.7h0" stroke="#fae4e8" stroke-width="8.0" stroke-linecap="round" fill="none"/>
<path d="M206.0 933.0h0M182.9 985.7h0M176.7 899.1h0M222.0 845.9h0M144.4 947.5h0M94.9 954.6h0M66.5 940.1h0M142.1 904.5h0" stroke="#fae4e8" stroke-width="9.0" stroke-linecap="round" fill="none"/>
<path d="M214.9 985.2h0M151.0 939.2h0M218.3 972.1h0M77.3 909.7h0M238.0 976.4h0M269.9 908.7h0M68.7 969.2h0M253.7 953.6h0M190.0 935.9h0M167.8 991.9h0" stroke="#fae4e8" stroke-width="8.5" stroke-linecap="round" fill="none"/>
<path d="M189.2 971.5h0M149.8 896.0h0M175.6 958.3h0M167.8 838.9h0M140.7 903.7h0M201.3 852.6h0M244.4 952.6h0M236.1 858.4h0M87.5 853.5h0M224.6 927.8h0" stroke="#fae4e8" stroke-width="6.5" stroke-linecap="round" fill="none"/>
<path d="M172.0 991.5h0M154.9 927.3h0M140.5 894.6h0M218.6 858.3h0M255.3 967.3h0M199.5 837.7h0M124.9 904.3h0M85.7 931.2h0M83.4 971.0h0" stroke="#fae4e8" stroke-width="10.0" stroke-linecap="round" fill="none"/>
<path d="M194.1 886.5h0M197.1 889.4h0M193.4 881.5h0" stroke="#e27488" stroke-width="8.5" stroke-linecap="round" fill="none"/>
<path d="M179.9 900.0h0M162.5 937.5h0M95.0 948.3h0M165.2 899.1h0M258.3 847.0h0M174.3 842.2h0M241.9 868.1h0" stroke="#ea8c9c" stroke-width="6.5" stroke-linecap="round" fill="none"/>
<path d="M76.7 886.8h0M174.2 866.5h0M269.9 980.8h0" stroke="#e67e90" stroke-width="5.0" stroke-linecap="round" fill="none"/>
<path d="M260.8 913.4h0M191.1 991.0h0M225.4 884.9h0M187.3 979.0h0" stroke="#ee9eac" stroke-width="6.0" stroke-linecap="round" fill="none"/>
<path d="M220.1 941.4h0M127.0 986.1h0M258.6 886.9h0M242.3 982.9h0M164.3 869.5h0" stroke="#e27488" stroke-width="6.5" stroke-linecap="round" fill="none"/>
<path d="M225.5 945.3h0M208.3 915.1h0" stroke="#ee9eac" stroke-width="6.5" stroke-linecap="round" fill="none"/>
<path d="M134.0 880.6h0M105.1 876.4h0M157.8 912.6h0M91.1 963.0h0M84.0 874.7h0" stroke="#ea8c9c" stroke-width="7.0" stroke-linecap="round" fill="none"/>
<path d="M79.5 845.1h0M97.7 919.7h0M86.4 889.2h0M187.4 877.5h0M122.0 841.6h0" stroke="#e27488" stroke-width="7.0" stroke-linecap="round" fill="none"/>
<path d="M206.0 933.0h0M176.7 899.1h0M222.0 845.9h0M142.1 904.5h0" stroke="#e67e90" stroke-width="8.0" stroke-linecap="round" fill="none"/>
<path d="M155.1 870.0h0" stroke="#ea8c9c" stroke-width="8.5" stroke-linecap="round" fill="none"/>
<path d="M214.9 985.2h0M77.3 909.7h0M238.0 976.4h0M68.7 969.2h0M167.8 991.9h0" stroke="#e27488" stroke-width="7.5" stroke-linecap="round" fill="none"/>
<path d="M121.8 925.5h0M134.6 865.8h0M189.3 963.4h0M268.2 873.9h0" stroke="#e67e90" stroke-width="7.0" stroke-linecap="round" fill="none"/>
<path d="M182.9 985.7h0M144.4 947.5h0" stroke="#ea8c9c" stroke-width="8.0" stroke-linecap="round" fill="none"/>
<path d="M138.5 947.2h0M157.0 883.0h0M115.5 856.6h0" stroke="#e67e90" stroke-width="8.5" stroke-linecap="round" fill="none"/>
<path d="M189.2 971.5h0M149.8 896.0h0M175.6 958.3h0M167.8 838.9h0M140.7 903.7h0M244.4 952.6h0" stroke="#ea8c9c" stroke-width="5.5" stroke-linecap="round" fill="none"/>
<path d="M127.0 839.3h0M247.2 892.2h0" stroke="#e67e90" stroke-width="6.5" stroke-linecap="round" fill="none"/>
<path d="M172.0 991.5h0" stroke="#ea8c9c" stroke-width="9.0" stroke-linecap="round" fill="none"/>
<path d="M151.0 939.2h0M218.3 972.1h0M253.7 953.6h0M190.0 935.9h0" stroke="#ee9eac" stroke-width="7.5" stroke-linecap="round" fill="none"/>
<path d="M154.9 927.3h0M85.7 931.2h0M83.4 971.0h0" stroke="#e27488" stroke-width="9.0" stroke-linecap="round" fill="none"/>
<path d="M106.1 923.8h0M109.3 906.6h0M88.8 841.6h0" stroke="#ea8c9c" stroke-width="5.0" stroke-linecap="round" fill="none"/>
<path d="M265.4 846.1h0" stroke="#e27488" stroke-width="5.0" stroke-linecap="round" fill="none"/>
<path d="M175.0 857.0h0M111.8 839.2h0" stroke="#ee9eac" stroke-width="8.5" stroke-linecap="round" fill="none"/>
<path d="M162.0 838.7h0M144.7 847.9h0" stroke="#e67e90" stroke-width="6.0" stroke-linecap="round" fill="none"/>
<path d="M236.5 979.2h0M90.5 876.0h0M266.1 945.8h0M208.8 871.9h0" stroke="#ee9eac" stroke-width="7.0" stroke-linecap="round" fill="none"/>
<path d="M246.1 929.8h0M170.5 844.9h0M165.9 881.9h0" stroke="#e27488" stroke-width="6.0" stroke-linecap="round" fill="none"/>
<path d="M140.5 894.6h0M218.6 858.3h0M255.3 967.3h0M124.9 904.3h0" stroke="#e67e90" stroke-width="9.0" stroke-linecap="round" fill="none"/>
<path d="M94.9 954.6h0" stroke="#ee9eac" stroke-width="8.0" stroke-linecap="round" fill="none"/>
<path d="M171.6 918.9h0M137.3 957.3h0M205.4 924.0h0" stroke="#ea8c9c" stroke-width="6.0" stroke-linecap="round" fill="none"/>
<path d="M201.3 852.6h0" stroke="#ee9eac" stroke-width="5.5" stroke-linecap="round" fill="none"/>
<path d="M269.9 908.7h0" stroke="#e67e90" stroke-width="7.5" stroke-linecap="round" fill="none"/>
<path d="M160.7 977.0h0" stroke="#ee9eac" stroke-width="5.0" stroke-linecap="round" fill="none"/>
<path d="M199.5 837.7h0" stroke="#ee9eac" stroke-width="9.0" stroke-linecap="round" fill="none"/>
<path d="M236.1 858.4h0M87.5 853.5h0" stroke="#e27488" stroke-width="5.5" stroke-linecap="round" fill="none"/>
<path d="M224.6 927.8h0" stroke="#e67e90" stroke-width="5.5" stroke-linecap="round" fill="none"/>
<path d="M66.5 940.1h0" stroke="#e27488" stroke-width="8.0" stroke-linecap="round" fill="none"/>
<path d="M112.1 944.4h0M80.4 903.0h0M264.1 974.0h0M167.2 972.9h0M218.3 885.1h0M196.8 848.7h0M94.1 968.1h0M118.8 969.8h0M125.8 884.8h0M182.4 896.3h0M134.9 961.7h0M212.6 888.9h0M241.5 989.2h0M254.1 859.3h0M254.1 858.3h0M66.4 983.2h0M270.1 973.1h0M87.2 933.3h0M114.6 952.8h0M218.2 907.7h0M101.0 940.2h0M142.4 984.3h0M239.8 976.2h0M131.9 897.9h0M67.7 898.7h0M68.5 903.2h0M173.7 940.5h0M108.5 943.4h0" stroke="#c43a60" stroke-width="3.5" stroke-linecap="round" fill="none"/>
<path d="M134.0 992.4h0M127.6 950.6h0M179.3 875.6h0M140.4 838.6h0M136.9 937.1h0M111.6 889.0h0M124.4 854.8h0M166.3 873.3h0M195.3 896.6h0M144.7 962.5h0M197.5 859.3h0M269.4 842.8h0M95.7 978.9h0M198.2 946.0h0M88.2 936.8h0M99.0 861.2h0M168.8 936.3h0M84.7 916.5h0M92.3 980.1h0M246.8 847.2h0M85.7 958.0h0M124.7 842.1h0M92.0 904.0h0M113.2 907.1h0M230.9 872.4h0M101.7 883.8h0M94.5 853.3h0M127.6 935.8h0M187.6 976.3h0" stroke="#b42e54" stroke-width="3.0" stroke-linecap="round" fill="none"/>
<path d="M242.0 854.1h0M221.4 903.9h0M184.7 961.1h0M102.7 916.3h0M99.9 941.0h0M195.2 951.8h0M67.6 911.8h0M123.9 909.9h0M175.5 983.8h0M139.7 920.4h0M207.1 975.5h0M130.4 954.1h0M196.3 904.1h0M169.7 972.7h0M171.7 971.6h0M195.8 944.6h0M193.6 962.7h0M102.4 941.1h0M181.4 943.7h0M193.3 861.0h0M202.9 842.4h0" stroke="#d04a6c" stroke-width="2.0" stroke-linecap="round" fill="none"/>
<path d="M229.6 928.9h0M110.3 892.2h0M74.4 956.6h0M196.8 860.5h0M119.4 905.0h0M192.4 913.5h0M218.0 895.5h0M269.1 960.6h0M77.0 928.8h0M188.8 921.6h0M110.8 894.1h0M141.5 846.4h0M68.1 968.9h0M184.6 944.3h0M195.4 890.4h0M119.0 882.8h0M253.7 848.8h0M111.4 857.3h0M166.0 897.7h0M163.4 908.2h0M171.2 855.8h0M129.9 863.2h0M77.8 893.1h0M232.8 988.2h0M251.0 953.8h0M241.5 894.9h0M77.4 897.0h0M87.2 975.1h0M167.7 955.6h0" stroke="#b42e54" stroke-width="2.5" stroke-linecap="round" fill="none"/>
<path d="M157.1 921.0h0M89.2 953.1h0M224.7 883.4h0M246.7 846.6h0M186.2 838.3h0M171.5 946.1h0M110.1 970.4h0M190.1 911.5h0M81.5 960.5h0M124.9 913.6h0M254.8 903.1h0M200.9 957.5h0M135.8 932.4h0M241.1 893.1h0" stroke="#b42e54" stroke-width="3.5" stroke-linecap="round" fill="none"/>
<path d="M82.1 871.8h0M142.4 841.3h0M163.8 863.8h0M147.7 949.5h0M239.2 907.0h0M84.7 979.3h0M193.2 898.8h0M68.6 841.3h0M191.7 914.2h0M189.2 983.6h0M95.5 973.1h0M71.0 862.0h0M70.8 957.3h0M237.8 981.6h0M202.2 990.9h0M255.6 975.9h0M129.6 839.7h0M172.3 939.6h0M76.9 889.7h0M148.4 980.3h0M176.2 918.4h0M255.7 963.5h0" stroke="#c43a60" stroke-width="2.5" stroke-linecap="round" fill="none"/>
<path d="M166.9 899.3h0M172.7 894.5h0M266.2 907.0h0M102.2 882.6h0M161.7 869.1h0M184.4 953.4h0M98.0 905.1h0M196.9 865.3h0M228.5 943.2h0M239.5 884.6h0M127.2 985.7h0M138.6 928.5h0M217.4 920.5h0M241.9 964.3h0M252.4 878.7h0M155.0 984.0h0M117.4 957.0h0M137.7 893.7h0M89.2 941.7h0M134.3 860.4h0" stroke="#d04a6c" stroke-width="3.0" stroke-linecap="round" fill="none"/>
<path d="M207.4 886.4h0M117.9 910.4h0M219.0 947.6h0M101.9 951.1h0M70.7 925.4h0M193.8 934.9h0M68.6 906.9h0M173.9 873.0h0M84.8 934.4h0M183.2 845.6h0M140.1 919.3h0M133.1 850.5h0M165.3 932.4h0" stroke="#a4284c" stroke-width="2.5" stroke-linecap="round" fill="none"/>
<path d="M68.6 886.8h0M160.3 936.2h0M189.6 939.5h0M95.6 941.0h0M204.4 980.8h0M135.1 909.9h0M91.6 864.6h0M115.1 896.4h0M208.0 980.3h0M257.8 897.9h0M192.0 932.6h0M123.3 907.2h0M73.7 841.5h0M131.6 932.5h0M216.4 959.8h0M187.1 945.6h0M99.3 864.9h0M75.1 914.3h0M268.2 961.8h0M139.6 953.2h0M192.7 958.3h0M178.9 915.9h0M250.4 955.9h0M152.7 878.5h0M84.0 969.6h0" stroke="#a4284c" stroke-width="3.0" stroke-linecap="round" fill="none"/>
<path d="M97.3 935.2h0M161.5 839.7h0M125.1 959.5h0M166.4 905.5h0M68.0 917.2h0M262.8 858.4h0M241.7 966.8h0M167.2 962.1h0M246.9 844.8h0M88.9 860.7h0M218.5 974.5h0M228.1 979.5h0M176.8 973.7h0M69.0 892.6h0M66.0 919.0h0M154.9 857.7h0" stroke="#b42e54" stroke-width="2.0" stroke-linecap="round" fill="none"/>
<path d="M111.3 957.1h0M108.1 878.9h0M133.5 917.2h0M130.4 979.3h0M253.1 925.3h0M83.9 958.2h0M167.3 958.1h0M153.4 865.2h0M192.5 871.5h0M241.6 888.3h0M88.6 881.7h0M90.0 946.3h0M208.0 899.7h0M105.0 858.5h0M136.6 956.9h0M182.4 973.4h0M85.4 938.3h0M229.9 860.0h0M71.2 919.6h0M96.4 968.8h0M193.3 928.9h0M230.6 867.3h0M198.5 949.2h0" stroke="#a4284c" stroke-width="3.5" stroke-linecap="round" fill="none"/>
<path d="M160.5 966.4h0M115.9 884.2h0M266.0 979.8h0M179.5 873.5h0M188.0 977.1h0M88.7 872.6h0M157.5 876.3h0M264.8 936.2h0M68.6 918.1h0M81.8 924.3h0M145.9 903.8h0M127.5 879.4h0M101.9 922.3h0M248.1 915.9h0" stroke="#c43a60" stroke-width="2.0" stroke-linecap="round" fill="none"/>
<path d="M100.7 977.7h0M95.9 876.5h0M251.2 946.3h0M126.5 965.5h0M182.2 863.7h0M95.3 987.7h0M137.9 952.5h0M78.8 845.9h0M131.0 864.3h0M81.3 919.4h0M131.5 929.2h0M169.1 856.8h0M170.1 854.7h0M123.5 913.9h0M137.6 962.7h0M191.1 857.4h0M150.9 872.1h0M168.9 957.1h0M99.4 875.2h0M140.5 990.6h0" stroke="#a4284c" stroke-width="2.0" stroke-linecap="round" fill="none"/>
<path d="M129.9 906.9h0M80.6 992.5h0M254.1 982.1h0M137.1 874.9h0M155.3 870.4h0M70.1 980.1h0M153.5 882.6h0M188.9 978.8h0M201.6 845.1h0M270.8 899.9h0M125.2 889.7h0M126.7 957.4h0M73.9 951.2h0M164.0 988.4h0M150.5 837.8h0M270.8 941.1h0M119.6 938.5h0M204.9 972.4h0M232.8 957.8h0M172.9 864.4h0" stroke="#c43a60" stroke-width="3.0" stroke-linecap="round" fill="none"/>
<path d="M190.9 939.7h0M186.6 983.8h0M134.4 891.6h0M191.8 842.9h0M211.1 870.9h0M89.9 905.1h0M120.6 896.4h0M218.9 907.4h0M183.4 841.0h0M259.5 905.8h0M188.7 953.4h0M164.9 966.2h0M230.2 970.6h0M114.2 965.3h0M162.2 985.4h0M102.7 919.0h0" stroke="#d04a6c" stroke-width="3.5" stroke-linecap="round" fill="none"/>
<path d="M145.8 887.3h0M146.9 954.8h0M169.1 989.4h0M158.8 988.1h0M110.5 929.8h0M177.8 992.2h0M146.6 970.0h0M234.3 911.8h0M195.7 974.9h0M85.8 978.6h0M179.1 961.4h0M241.8 983.6h0M201.2 880.3h0M138.2 974.8h0M260.2 839.3h0M172.8 903.7h0M84.7 978.2h0M76.7 974.7h0M107.0 878.1h0M90.0 937.1h0M74.4 894.0h0M140.1 861.8h0M234.3 990.7h0M80.3 963.2h0" stroke="#d04a6c" stroke-width="2.5" stroke-linecap="round" fill="none"/>
<path d="M183.1 878.0h0M122.1 846.6h0" stroke="#d04a6c" stroke-width="4.0" stroke-linecap="round" fill="none"/>
<path d="M104.9 904.8h0M169.6 867.7h0M236.7 892.4h0" stroke="#a4284c" stroke-width="4.0" stroke-linecap="round" fill="none"/>
<path d="M253.0 966.4h0" stroke="#c43a60" stroke-width="4.0" stroke-linecap="round" fill="none"/>
<path d="M240.2 987.6h0M241.8 899.5h0M267.4 944.4h0M139.4 912.6h0M195.0 891.1h0M247.5 948.3h0M119.5 965.7h0M148.6 975.3h0" stroke="#d84c62" stroke-width="3.5" stroke-linecap="round" fill="none"/>
<path d="M112.8 991.8h0M155.4 840.9h0M187.2 985.3h0M159.3 946.9h0M76.5 846.9h0M180.3 979.9h0M68.7 907.4h0M270.4 873.7h0M166.0 854.1h0" stroke="#e0566a" stroke-width="4.5" stroke-linecap="round" fill="none"/>
<path d="M120.7 877.1h0M199.3 990.7h0M178.4 937.4h0M171.6 840.9h0M115.1 886.1h0M131.8 927.8h0M163.8 866.8h0M69.0 867.0h0M110.5 957.2h0M191.5 925.2h0" stroke="#e66476" stroke-width="3.5" stroke-linecap="round" fill="none"/>
<path d="M178.8 991.3h0M234.5 939.4h0M130.3 959.3h0M107.1 913.7h0M106.1 976.8h0M115.5 857.5h0M223.7 911.9h0M267.6 870.9h0M268.2 976.2h0M244.0 868.9h0M91.9 984.9h0M122.5 876.3h0M140.5 914.1h0M270.7 988.3h0" stroke="#d84c62" stroke-width="5.0" stroke-linecap="round" fill="none"/>
<path d="M181.6 847.9h0M155.7 883.7h0M112.8 920.1h0M138.7 852.5h0M127.1 963.8h0M70.2 855.6h0M77.6 913.5h0M254.6 977.1h0M81.6 895.1h0" stroke="#e0566a" stroke-width="3.5" stroke-linecap="round" fill="none"/>
<path d="M155.9 905.6h0M68.6 881.9h0M159.4 976.0h0M120.3 979.5h0M88.7 960.8h0M142.0 957.8h0M143.7 840.7h0M136.9 899.4h0M226.6 954.9h0M208.2 891.3h0" stroke="#e0566a" stroke-width="4.0" stroke-linecap="round" fill="none"/>
<path d="M265.6 922.9h0M78.4 877.0h0M97.8 877.9h0M155.8 907.5h0M77.8 963.8h0M121.2 872.6h0M131.0 868.5h0M211.5 982.1h0M172.8 905.8h0M121.3 879.5h0M109.3 881.0h0M207.8 969.2h0M250.6 964.9h0" stroke="#e0566a" stroke-width="5.0" stroke-linecap="round" fill="none"/>
<path d="M113.8 932.3h0M231.9 840.7h0M145.5 885.2h0M187.9 867.8h0M128.3 885.2h0M95.4 874.2h0M269.2 900.6h0M121.0 868.6h0M110.0 923.5h0M256.9 961.9h0M124.2 991.1h0M116.0 968.0h0" stroke="#e66476" stroke-width="4.0" stroke-linecap="round" fill="none"/>
<path d="M269.3 947.3h0M236.7 948.7h0M217.5 859.6h0M118.4 879.0h0M136.8 864.1h0M169.8 975.0h0M65.0 892.3h0M233.7 947.6h0M210.3 990.0h0" stroke="#e0566a" stroke-width="3.0" stroke-linecap="round" fill="none"/>
<path d="M129.9 895.4h0M138.4 860.5h0M107.4 846.8h0M199.3 989.5h0M166.7 903.9h0M256.5 894.3h0M130.2 930.3h0M196.9 930.2h0M246.4 839.2h0M143.2 877.3h0M144.8 964.6h0M267.9 896.1h0M68.2 854.7h0" stroke="#d84c62" stroke-width="4.0" stroke-linecap="round" fill="none"/>
<path d="M78.3 843.7h0M205.6 933.4h0M141.5 854.5h0M243.3 884.4h0M179.2 875.4h0M83.1 951.5h0M241.9 863.5h0M100.2 886.0h0M215.4 911.9h0M112.4 854.8h0M95.6 875.7h0" stroke="#e66476" stroke-width="5.0" stroke-linecap="round" fill="none"/>
<path d="M147.8 924.0h0M115.1 980.9h0M72.1 857.0h0M132.7 891.7h0M235.7 984.5h0M148.7 846.5h0M169.3 910.5h0M208.4 967.7h0M264.1 885.4h0M237.1 971.3h0M220.6 951.2h0M184.8 947.8h0" stroke="#e66476" stroke-width="4.5" stroke-linecap="round" fill="none"/>
<path d="M216.0 923.2h0M90.7 890.3h0M174.5 873.9h0M110.8 864.3h0M260.5 851.1h0M147.9 921.3h0M104.0 971.2h0M257.8 887.7h0" stroke="#d84c62" stroke-width="3.0" stroke-linecap="round" fill="none"/>
<path d="M178.8 953.7h0M115.5 871.0h0M78.2 963.7h0" stroke="#e66476" stroke-width="3.0" stroke-linecap="round" fill="none"/>
<path d="M207.1 940.6h0M237.7 919.5h0M128.8 853.6h0M126.8 928.0h0M259.8 884.7h0M175.2 879.5h0M229.9 959.0h0M144.7 896.9h0M162.7 988.5h0" stroke="#d84c62" stroke-width="4.5" stroke-linecap="round" fill="none"/>
<circle cx="79.6" cy="936.6" r="11.5" fill="#f2c0c6"/><circle cx="79.6" cy="936.6" r="9.5" fill="#f6ccd2"/>
</g>
</g>
<rect x="95.8" y="937.8" width="28.2" height="6.6" fill="#000"/>
<clipPath id="hc2"><rect x="288" y="840" width="200" height="150"/></clipPath>
<g clip-path="url(#hc2)"><rect x="288" y="840" width="200" height="150" fill="#e8d6ea"/>
<g filter="url(#bl5)">

<path d="M382.5 885.7h0M463.9 970.8h0M474.2 969.7h0M369.6 980.5h0M396.4 943.1h0M374.0 966.7h0M425.4 933.8h0M413.1 930.7h0M335.3 935.6h0M388.1 849.4h0M318.8 970.5h0M304.3 948.5h0M340.6 870.8h0M432.0 844.9h0M349.0 848.4h0" stroke="#f2e6f2" stroke-width="12.6" stroke-linecap="round" fill="none"/>
<path d="M320.4 927.3h0M396.4 922.2h0M404.2 853.7h0M465.4 899.7h0M441.4 872.6h0M458.5 956.0h0M356.6 962.8h0M406.4 850.2h0" stroke="#f2e6f2" stroke-width="11.1" stroke-linecap="round" fill="none"/>
<path d="M455.5 873.9h0M403.1 865.8h0M433.9 902.5h0M339.3 969.5h0M475.0 978.4h0M401.1 921.9h0M442.7 885.1h0M350.5 938.9h0" stroke="#f2e6f2" stroke-width="12.1" stroke-linecap="round" fill="none"/>
<path d="M461.8 959.7h0M414.1 884.5h0M396.3 909.9h0M311.9 915.2h0M323.7 929.7h0M415.6 903.0h0M309.7 910.6h0M376.0 992.2h0M334.8 868.1h0M374.2 893.7h0M453.2 867.5h0M465.9 969.9h0M289.5 964.8h0M412.3 926.5h0M482.0 897.3h0M354.6 872.1h0" stroke="#f2e6f2" stroke-width="11.6" stroke-linecap="round" fill="none"/>
<path d="M434.0 976.6h0M486.1 838.5h0M340.5 876.4h0M388.6 901.3h0M324.9 990.8h0M324.5 917.2h0M286.6 992.6h0M369.0 963.9h0M359.8 883.2h0M350.2 907.3h0M315.3 938.6h0M342.7 871.5h0M367.3 854.8h0M328.8 857.6h0M415.0 942.9h0M477.5 852.4h0" stroke="#f2e6f2" stroke-width="10.6" stroke-linecap="round" fill="none"/>
<path d="M439.4 897.8h0M377.1 889.4h0M450.8 991.4h0M440.3 926.0h0M444.3 977.2h0M403.8 984.1h0" stroke="#f2e6f2" stroke-width="13.1" stroke-linecap="round" fill="none"/>
<path d="M445.9 888.9h0M334.9 901.0h0M444.4 856.3h0M351.5 857.0h0M417.5 919.8h0M316.4 926.5h0M327.6 941.6h0M387.6 947.8h0M434.5 856.2h0M467.4 974.8h0M398.5 972.9h0M297.3 990.5h0M457.5 915.5h0" stroke="#f2e6f2" stroke-width="8.6" stroke-linecap="round" fill="none"/>
<path d="M426.9 921.6h0M345.9 853.1h0M309.1 840.3h0M487.3 939.8h0M438.0 967.6h0M295.6 946.4h0M481.4 853.5h0M359.4 990.0h0M439.8 903.5h0M392.2 956.1h0M329.3 863.1h0M461.4 876.3h0M394.7 846.7h0M404.4 879.0h0M368.3 862.1h0" stroke="#f2e6f2" stroke-width="10.1" stroke-linecap="round" fill="none"/>
<path d="M473.0 940.3h0M296.6 977.8h0M345.9 859.9h0M424.8 992.0h0M317.1 887.8h0" stroke="#f2e6f2" stroke-width="9.6" stroke-linecap="round" fill="none"/>
<path d="M285.7 915.4h0M474.3 867.2h0M484.2 933.0h0M365.2 955.1h0M331.5 925.7h0M490.1 937.3h0M448.7 890.2h0M349.7 963.9h0M340.4 917.1h0M291.5 875.0h0M356.8 899.5h0" stroke="#f2e6f2" stroke-width="9.1" stroke-linecap="round" fill="none"/>
<path d="M292.7 978.7h0M311.2 896.8h0M481.6 921.4h0M307.9 919.3h0M370.1 950.4h0M421.1 967.8h0M288.5 963.9h0M328.0 951.1h0M347.4 905.9h0" stroke="#f2e6f2" stroke-width="7.6" stroke-linecap="round" fill="none"/>
<path d="M334.6 952.0h0M430.1 982.0h0M411.5 864.4h0M472.0 931.4h0M341.4 904.2h0M420.4 851.7h0M436.7 907.8h0M432.4 844.7h0M392.7 909.0h0" stroke="#f2e6f2" stroke-width="8.1" stroke-linecap="round" fill="none"/>
<path d="M364.0 986.8h0M321.7 922.8h0M412.0 920.9h0M414.2 880.8h0M489.7 942.8h0M324.4 985.7h0M412.6 861.1h0M372.1 852.9h0M462.7 888.6h0" stroke="#f2e6f2" stroke-width="7.1" stroke-linecap="round" fill="none"/>
<path d="M382.5 885.7h0M396.4 943.1h0M388.1 849.4h0M432.0 844.9h0" stroke="#dac2e4" stroke-width="11.5" stroke-linecap="round" fill="none"/>
<path d="M320.4 927.3h0M406.4 850.2h0" stroke="#caaed8" stroke-width="10.0" stroke-linecap="round" fill="none"/>
<path d="M455.5 873.9h0M403.1 865.8h0M401.1 921.9h0M442.7 885.1h0" stroke="#caaed8" stroke-width="11.0" stroke-linecap="round" fill="none"/>
<path d="M461.8 959.7h0M311.9 915.2h0M323.7 929.7h0M309.7 910.6h0M465.9 969.9h0M289.5 964.8h0M482.0 897.3h0" stroke="#dac2e4" stroke-width="10.5" stroke-linecap="round" fill="none"/>
<path d="M463.9 970.8h0M474.2 969.7h0M369.6 980.5h0M425.4 933.8h0M349.0 848.4h0" stroke="#caaed8" stroke-width="11.5" stroke-linecap="round" fill="none"/>
<path d="M396.4 922.2h0" stroke="#d2b8de" stroke-width="10.0" stroke-linecap="round" fill="none"/>
<path d="M434.0 976.6h0M486.1 838.5h0M367.3 854.8h0" stroke="#caaed8" stroke-width="9.5" stroke-linecap="round" fill="none"/>
<path d="M439.4 897.8h0M377.1 889.4h0" stroke="#e0cce8" stroke-width="12.0" stroke-linecap="round" fill="none"/>
<path d="M445.9 888.9h0M387.6 947.8h0M467.4 974.8h0M398.5 972.9h0M297.3 990.5h0" stroke="#caaed8" stroke-width="7.5" stroke-linecap="round" fill="none"/>
<path d="M404.2 853.7h0M465.4 899.7h0M441.4 872.6h0" stroke="#e0cce8" stroke-width="10.0" stroke-linecap="round" fill="none"/>
<path d="M334.9 901.0h0M417.5 919.8h0" stroke="#d2b8de" stroke-width="7.5" stroke-linecap="round" fill="none"/>
<path d="M426.9 921.6h0M295.6 946.4h0M461.4 876.3h0" stroke="#caaed8" stroke-width="9.0" stroke-linecap="round" fill="none"/>
<path d="M414.1 884.5h0M415.6 903.0h0M374.2 893.7h0M453.2 867.5h0M412.3 926.5h0M354.6 872.1h0" stroke="#e0cce8" stroke-width="10.5" stroke-linecap="round" fill="none"/>
<path d="M473.0 940.3h0M317.1 887.8h0" stroke="#dac2e4" stroke-width="8.5" stroke-linecap="round" fill="none"/>
<path d="M396.3 909.9h0M334.8 868.1h0" stroke="#caaed8" stroke-width="10.5" stroke-linecap="round" fill="none"/>
<path d="M285.7 915.4h0M484.2 933.0h0M291.5 875.0h0" stroke="#caaed8" stroke-width="8.0" stroke-linecap="round" fill="none"/>
<path d="M444.4 856.3h0M351.5 857.0h0M327.6 941.6h0" stroke="#dac2e4" stroke-width="7.5" stroke-linecap="round" fill="none"/>
<path d="M292.7 978.7h0M421.1 967.8h0M288.5 963.9h0" stroke="#caaed8" stroke-width="6.5" stroke-linecap="round" fill="none"/>
<path d="M334.6 952.0h0" stroke="#caaed8" stroke-width="7.0" stroke-linecap="round" fill="none"/>
<path d="M311.2 896.8h0" stroke="#dac2e4" stroke-width="6.5" stroke-linecap="round" fill="none"/>
<path d="M474.3 867.2h0M490.1 937.3h0M356.8 899.5h0" stroke="#e0cce8" stroke-width="8.0" stroke-linecap="round" fill="none"/>
<path d="M340.5 876.4h0M388.6 901.3h0M350.2 907.3h0M342.7 871.5h0M328.8 857.6h0" stroke="#d2b8de" stroke-width="9.5" stroke-linecap="round" fill="none"/>
<path d="M450.8 991.4h0M444.3 977.2h0M403.8 984.1h0" stroke="#dac2e4" stroke-width="12.0" stroke-linecap="round" fill="none"/>
<path d="M324.9 990.8h0M324.5 917.2h0M286.6 992.6h0M369.0 963.9h0M315.3 938.6h0M415.0 942.9h0M477.5 852.4h0" stroke="#dac2e4" stroke-width="9.5" stroke-linecap="round" fill="none"/>
<path d="M345.9 853.1h0M309.1 840.3h0M487.3 939.8h0M392.2 956.1h0M394.7 846.7h0" stroke="#dac2e4" stroke-width="9.0" stroke-linecap="round" fill="none"/>
<path d="M365.2 955.1h0M448.7 890.2h0M349.7 963.9h0" stroke="#d2b8de" stroke-width="8.0" stroke-linecap="round" fill="none"/>
<path d="M364.0 986.8h0M412.6 861.1h0M372.1 852.9h0" stroke="#caaed8" stroke-width="6.0" stroke-linecap="round" fill="none"/>
<path d="M430.1 982.0h0M420.4 851.7h0M436.7 907.8h0M432.4 844.7h0" stroke="#e0cce8" stroke-width="7.0" stroke-linecap="round" fill="none"/>
<path d="M321.7 922.8h0M412.0 920.9h0M489.7 942.8h0M324.4 985.7h0" stroke="#e0cce8" stroke-width="6.0" stroke-linecap="round" fill="none"/>
<path d="M411.5 864.4h0M341.4 904.2h0" stroke="#d2b8de" stroke-width="7.0" stroke-linecap="round" fill="none"/>
<path d="M438.0 967.6h0M329.3 863.1h0M404.4 879.0h0M368.3 862.1h0" stroke="#e0cce8" stroke-width="9.0" stroke-linecap="round" fill="none"/>
<path d="M472.0 931.4h0M392.7 909.0h0" stroke="#dac2e4" stroke-width="7.0" stroke-linecap="round" fill="none"/>
<path d="M374.0 966.7h0M413.1 930.7h0M335.3 935.6h0M318.8 970.5h0M304.3 948.5h0" stroke="#d2b8de" stroke-width="11.5" stroke-linecap="round" fill="none"/>
<path d="M481.6 921.4h0M307.9 919.3h0M347.4 905.9h0" stroke="#d2b8de" stroke-width="6.5" stroke-linecap="round" fill="none"/>
<path d="M376.0 992.2h0" stroke="#d2b8de" stroke-width="10.5" stroke-linecap="round" fill="none"/>
<path d="M440.3 926.0h0" stroke="#caaed8" stroke-width="12.0" stroke-linecap="round" fill="none"/>
<path d="M414.2 880.8h0M462.7 888.6h0" stroke="#dac2e4" stroke-width="6.0" stroke-linecap="round" fill="none"/>
<path d="M316.4 926.5h0M434.5 856.2h0M457.5 915.5h0" stroke="#e0cce8" stroke-width="7.5" stroke-linecap="round" fill="none"/>
<path d="M359.8 883.2h0" stroke="#e0cce8" stroke-width="9.5" stroke-linecap="round" fill="none"/>
<path d="M481.4 853.5h0M359.4 990.0h0M439.8 903.5h0" stroke="#d2b8de" stroke-width="9.0" stroke-linecap="round" fill="none"/>
<path d="M296.6 977.8h0M345.9 859.9h0" stroke="#d2b8de" stroke-width="8.5" stroke-linecap="round" fill="none"/>
<path d="M370.1 950.4h0M328.0 951.1h0" stroke="#e0cce8" stroke-width="6.5" stroke-linecap="round" fill="none"/>
<path d="M331.5 925.7h0M340.4 917.1h0" stroke="#dac2e4" stroke-width="8.0" stroke-linecap="round" fill="none"/>
<path d="M433.9 902.5h0" stroke="#e0cce8" stroke-width="11.0" stroke-linecap="round" fill="none"/>
<path d="M458.5 956.0h0M356.6 962.8h0" stroke="#dac2e4" stroke-width="10.0" stroke-linecap="round" fill="none"/>
<path d="M340.6 870.8h0" stroke="#e0cce8" stroke-width="11.5" stroke-linecap="round" fill="none"/>
<path d="M339.3 969.5h0" stroke="#d2b8de" stroke-width="11.0" stroke-linecap="round" fill="none"/>
<path d="M475.0 978.4h0M350.5 938.9h0" stroke="#dac2e4" stroke-width="11.0" stroke-linecap="round" fill="none"/>
<path d="M424.8 992.0h0" stroke="#e0cce8" stroke-width="8.5" stroke-linecap="round" fill="none"/>
<path d="M411.5 845.5h0M413.6 929.6h0M324.7 981.6h0M445.3 891.1h0M300.4 902.6h0M313.5 955.9h0M484.1 931.7h0M329.6 938.2h0M347.2 896.2h0M319.3 866.0h0" stroke="#f2e6f2" stroke-width="12.6" stroke-linecap="round" fill="none"/>
<path d="M425.7 882.2h0M382.0 891.9h0M470.8 861.8h0M444.1 921.3h0M297.3 882.5h0M314.5 870.1h0M313.4 840.2h0M447.2 962.6h0M459.6 860.0h0M417.6 931.1h0M338.2 868.5h0M286.8 986.8h0M476.2 974.0h0" stroke="#f2e6f2" stroke-width="8.1" stroke-linecap="round" fill="none"/>
<path d="M373.4 944.0h0M468.1 913.3h0M476.4 936.3h0M486.4 844.2h0M402.4 865.6h0M428.8 860.0h0M439.5 863.9h0M372.7 902.2h0M364.9 908.9h0M487.4 943.1h0M433.0 891.6h0M464.4 905.5h0M340.9 925.4h0M316.0 951.4h0M313.3 837.1h0M486.7 895.5h0M409.8 843.0h0" stroke="#f2e6f2" stroke-width="9.1" stroke-linecap="round" fill="none"/>
<path d="M288.1 925.3h0M355.2 947.2h0M401.9 929.1h0M312.3 982.4h0M431.2 942.5h0M465.0 901.2h0M371.8 933.8h0M489.5 927.6h0" stroke="#f2e6f2" stroke-width="13.1" stroke-linecap="round" fill="none"/>
<path d="M468.2 871.8h0M294.7 899.6h0M407.1 922.5h0M443.6 867.1h0M448.0 954.2h0M387.5 977.8h0M416.0 845.5h0M312.0 990.6h0M457.9 983.1h0M300.0 984.7h0M307.3 911.9h0M437.2 942.6h0" stroke="#f2e6f2" stroke-width="9.6" stroke-linecap="round" fill="none"/>
<path d="M330.5 870.0h0M446.4 930.7h0M328.2 866.8h0M295.9 979.8h0M412.8 950.0h0M466.6 963.8h0M487.6 974.0h0M382.7 963.9h0M328.6 887.6h0M331.4 951.1h0M304.9 873.9h0M463.1 897.9h0M429.8 972.0h0M440.3 845.3h0M368.0 854.8h0M378.9 985.3h0M448.5 845.7h0" stroke="#f2e6f2" stroke-width="10.1" stroke-linecap="round" fill="none"/>
<path d="M436.5 951.9h0M336.9 949.3h0M469.0 905.7h0M343.2 969.9h0M421.8 913.1h0M418.8 947.6h0M315.1 927.8h0M300.1 902.0h0M354.1 981.5h0" stroke="#f2e6f2" stroke-width="7.6" stroke-linecap="round" fill="none"/>
<path d="M387.7 862.6h0M446.7 969.9h0M457.6 875.4h0M484.4 922.1h0M326.0 849.7h0M401.7 970.1h0M448.9 926.6h0M438.9 837.9h0" stroke="#f2e6f2" stroke-width="8.6" stroke-linecap="round" fill="none"/>
<path d="M341.4 889.2h0M317.8 879.7h0M409.7 965.7h0M399.2 959.1h0M357.6 967.5h0M482.0 963.1h0M445.4 859.3h0M395.2 986.9h0" stroke="#f2e6f2" stroke-width="12.1" stroke-linecap="round" fill="none"/>
<path d="M386.9 851.0h0M410.4 883.8h0M381.6 858.3h0M345.2 839.0h0M359.1 902.6h0M367.5 858.2h0M348.9 975.3h0M396.2 843.9h0M346.7 917.5h0M291.5 962.8h0M463.0 926.3h0M461.2 900.2h0M455.5 896.9h0M435.3 841.1h0" stroke="#f2e6f2" stroke-width="11.1" stroke-linecap="round" fill="none"/>
<path d="M386.8 904.9h0M390.1 882.7h0M361.1 990.5h0M418.5 875.3h0M341.3 915.9h0M313.9 838.3h0M382.1 944.4h0M415.9 875.1h0M324.0 957.7h0M488.8 926.1h0M344.8 965.2h0M407.1 918.6h0M416.4 979.2h0" stroke="#f2e6f2" stroke-width="10.6" stroke-linecap="round" fill="none"/>
<path d="M418.0 906.4h0M349.4 946.5h0M455.7 983.8h0M343.5 971.0h0M425.0 854.0h0M285.6 889.4h0M487.0 969.2h0M443.5 865.8h0M412.4 862.5h0" stroke="#f2e6f2" stroke-width="11.6" stroke-linecap="round" fill="none"/>
<path d="M416.9 882.2h0M324.3 883.8h0" stroke="#f2e6f2" stroke-width="7.1" stroke-linecap="round" fill="none"/>
<path d="M411.5 845.5h0M445.3 891.1h0M484.1 931.7h0M347.2 896.2h0" stroke="#dac2e4" stroke-width="11.5" stroke-linecap="round" fill="none"/>
<path d="M425.7 882.2h0M297.3 882.5h0M314.5 870.1h0M313.4 840.2h0M447.2 962.6h0" stroke="#caaed8" stroke-width="7.0" stroke-linecap="round" fill="none"/>
<path d="M373.4 944.0h0M486.4 844.2h0M402.4 865.6h0M364.9 908.9h0M313.3 837.1h0" stroke="#dac2e4" stroke-width="8.0" stroke-linecap="round" fill="none"/>
<path d="M288.1 925.3h0M355.2 947.2h0" stroke="#d2b8de" stroke-width="12.0" stroke-linecap="round" fill="none"/>
<path d="M468.2 871.8h0M294.7 899.6h0M443.6 867.1h0M416.0 845.5h0M300.0 984.7h0" stroke="#d2b8de" stroke-width="8.5" stroke-linecap="round" fill="none"/>
<path d="M330.5 870.0h0M466.6 963.8h0M487.6 974.0h0M448.5 845.7h0" stroke="#e0cce8" stroke-width="9.0" stroke-linecap="round" fill="none"/>
<path d="M446.4 930.7h0M463.1 897.9h0M429.8 972.0h0M440.3 845.3h0" stroke="#d2b8de" stroke-width="9.0" stroke-linecap="round" fill="none"/>
<path d="M436.5 951.9h0M343.2 969.9h0M300.1 902.0h0" stroke="#caaed8" stroke-width="6.5" stroke-linecap="round" fill="none"/>
<path d="M382.0 891.9h0M417.6 931.1h0" stroke="#dac2e4" stroke-width="7.0" stroke-linecap="round" fill="none"/>
<path d="M387.7 862.6h0M401.7 970.1h0M448.9 926.6h0" stroke="#e0cce8" stroke-width="7.5" stroke-linecap="round" fill="none"/>
<path d="M341.4 889.2h0M482.0 963.1h0M445.4 859.3h0" stroke="#d2b8de" stroke-width="11.0" stroke-linecap="round" fill="none"/>
<path d="M386.9 851.0h0M359.1 902.6h0M463.0 926.3h0M435.3 841.1h0" stroke="#d2b8de" stroke-width="10.0" stroke-linecap="round" fill="none"/>
<path d="M336.9 949.3h0M421.8 913.1h0M315.1 927.8h0" stroke="#e0cce8" stroke-width="6.5" stroke-linecap="round" fill="none"/>
<path d="M386.8 904.9h0" stroke="#d2b8de" stroke-width="9.5" stroke-linecap="round" fill="none"/>
<path d="M446.7 969.9h0M457.6 875.4h0M326.0 849.7h0M438.9 837.9h0" stroke="#dac2e4" stroke-width="7.5" stroke-linecap="round" fill="none"/>
<path d="M317.8 879.7h0M399.2 959.1h0" stroke="#dac2e4" stroke-width="11.0" stroke-linecap="round" fill="none"/>
<path d="M468.1 913.3h0M433.0 891.6h0M316.0 951.4h0M486.7 895.5h0M409.8 843.0h0" stroke="#d2b8de" stroke-width="8.0" stroke-linecap="round" fill="none"/>
<path d="M390.1 882.7h0M361.1 990.5h0M418.5 875.3h0M415.9 875.1h0M407.1 918.6h0" stroke="#caaed8" stroke-width="9.5" stroke-linecap="round" fill="none"/>
<path d="M469.0 905.7h0M354.1 981.5h0" stroke="#d2b8de" stroke-width="6.5" stroke-linecap="round" fill="none"/>
<path d="M470.8 861.8h0M459.6 860.0h0M338.2 868.5h0" stroke="#e0cce8" stroke-width="7.0" stroke-linecap="round" fill="none"/>
<path d="M401.9 929.1h0M431.2 942.5h0M465.0 901.2h0M371.8 933.8h0M489.5 927.6h0" stroke="#e0cce8" stroke-width="12.0" stroke-linecap="round" fill="none"/>
<path d="M418.0 906.4h0M343.5 971.0h0M285.6 889.4h0" stroke="#caaed8" stroke-width="10.5" stroke-linecap="round" fill="none"/>
<path d="M416.9 882.2h0" stroke="#dac2e4" stroke-width="6.0" stroke-linecap="round" fill="none"/>
<path d="M476.4 936.3h0M428.8 860.0h0M487.4 943.1h0M340.9 925.4h0" stroke="#caaed8" stroke-width="8.0" stroke-linecap="round" fill="none"/>
<path d="M444.1 921.3h0M286.8 986.8h0M476.2 974.0h0" stroke="#d2b8de" stroke-width="7.0" stroke-linecap="round" fill="none"/>
<path d="M312.3 982.4h0" stroke="#caaed8" stroke-width="12.0" stroke-linecap="round" fill="none"/>
<path d="M324.3 883.8h0" stroke="#caaed8" stroke-width="6.0" stroke-linecap="round" fill="none"/>
<path d="M413.6 929.6h0M300.4 902.6h0M329.6 938.2h0" stroke="#e0cce8" stroke-width="11.5" stroke-linecap="round" fill="none"/>
<path d="M349.4 946.5h0" stroke="#dac2e4" stroke-width="10.5" stroke-linecap="round" fill="none"/>
<path d="M410.4 883.8h0M367.5 858.2h0M348.9 975.3h0" stroke="#caaed8" stroke-width="10.0" stroke-linecap="round" fill="none"/>
<path d="M324.7 981.6h0M319.3 866.0h0" stroke="#caaed8" stroke-width="11.5" stroke-linecap="round" fill="none"/>
<path d="M341.3 915.9h0M382.1 944.4h0M324.0 957.7h0M344.8 965.2h0M416.4 979.2h0" stroke="#e0cce8" stroke-width="9.5" stroke-linecap="round" fill="none"/>
<path d="M439.5 863.9h0M372.7 902.2h0M464.4 905.5h0" stroke="#e0cce8" stroke-width="8.0" stroke-linecap="round" fill="none"/>
<path d="M381.6 858.3h0M345.2 839.0h0M396.2 843.9h0" stroke="#e0cce8" stroke-width="10.0" stroke-linecap="round" fill="none"/>
<path d="M407.1 922.5h0" stroke="#dac2e4" stroke-width="8.5" stroke-linecap="round" fill="none"/>
<path d="M484.4 922.1h0" stroke="#caaed8" stroke-width="7.5" stroke-linecap="round" fill="none"/>
<path d="M328.2 866.8h0M382.7 963.9h0M328.6 887.6h0M331.4 951.1h0M304.9 873.9h0M378.9 985.3h0" stroke="#dac2e4" stroke-width="9.0" stroke-linecap="round" fill="none"/>
<path d="M295.9 979.8h0M412.8 950.0h0M368.0 854.8h0" stroke="#caaed8" stroke-width="9.0" stroke-linecap="round" fill="none"/>
<path d="M313.9 838.3h0M488.8 926.1h0" stroke="#dac2e4" stroke-width="9.5" stroke-linecap="round" fill="none"/>
<path d="M455.7 983.8h0" stroke="#d2b8de" stroke-width="10.5" stroke-linecap="round" fill="none"/>
<path d="M313.5 955.9h0" stroke="#d2b8de" stroke-width="11.5" stroke-linecap="round" fill="none"/>
<path d="M418.8 947.6h0" stroke="#dac2e4" stroke-width="6.5" stroke-linecap="round" fill="none"/>
<path d="M425.0 854.0h0M487.0 969.2h0M443.5 865.8h0M412.4 862.5h0" stroke="#e0cce8" stroke-width="10.5" stroke-linecap="round" fill="none"/>
<path d="M448.0 954.2h0M387.5 977.8h0M457.9 983.1h0M307.3 911.9h0M437.2 942.6h0" stroke="#caaed8" stroke-width="8.5" stroke-linecap="round" fill="none"/>
<path d="M409.7 965.7h0" stroke="#caaed8" stroke-width="11.0" stroke-linecap="round" fill="none"/>
<path d="M346.7 917.5h0M291.5 962.8h0M461.2 900.2h0M455.5 896.9h0" stroke="#dac2e4" stroke-width="10.0" stroke-linecap="round" fill="none"/>
<path d="M357.6 967.5h0M395.2 986.9h0" stroke="#e0cce8" stroke-width="11.0" stroke-linecap="round" fill="none"/>
<path d="M312.0 990.6h0" stroke="#e0cce8" stroke-width="8.5" stroke-linecap="round" fill="none"/>
<path d="M485.8 909.8h0M293.3 958.9h0M413.1 895.4h0M458.3 859.4h0M382.7 979.4h0M364.3 933.8h0M312.5 912.2h0M459.8 918.0h0M462.8 875.6h0M447.9 913.1h0M472.7 938.2h0" stroke="#f2e6f2" stroke-width="11.6" stroke-linecap="round" fill="none"/>
<path d="M459.8 928.0h0M466.1 976.1h0M408.0 977.0h0M337.4 892.4h0M394.3 957.4h0M327.0 863.5h0M291.3 932.3h0" stroke="#f2e6f2" stroke-width="10.1" stroke-linecap="round" fill="none"/>
<path d="M296.3 972.7h0M328.4 906.1h0M479.7 868.6h0M417.0 859.7h0M321.7 899.9h0M459.6 862.4h0M292.2 896.5h0M397.8 915.3h0M309.9 986.5h0M414.2 984.3h0M359.8 881.4h0M304.3 906.0h0" stroke="#f2e6f2" stroke-width="7.6" stroke-linecap="round" fill="none"/>
<path d="M324.7 971.1h0M462.2 921.6h0M339.8 991.9h0M351.6 975.7h0M479.2 953.2h0M328.1 897.7h0M320.3 872.3h0M428.1 974.2h0M411.6 864.9h0M433.1 852.9h0" stroke="#f2e6f2" stroke-width="9.6" stroke-linecap="round" fill="none"/>
<path d="M415.6 846.5h0M437.9 921.8h0M327.5 982.1h0M430.8 893.3h0M310.3 988.7h0M323.9 934.6h0M302.6 867.5h0M434.8 939.7h0M401.1 917.7h0M431.8 855.2h0M393.3 866.4h0M356.3 894.5h0M342.8 839.2h0M374.0 948.3h0M433.8 846.6h0M381.1 968.1h0" stroke="#f2e6f2" stroke-width="8.1" stroke-linecap="round" fill="none"/>
<path d="M332.7 935.9h0M455.8 874.4h0M394.0 875.9h0M412.2 879.9h0M341.9 974.9h0M414.7 983.5h0M368.9 908.0h0M365.9 988.0h0M379.6 842.9h0" stroke="#f2e6f2" stroke-width="8.6" stroke-linecap="round" fill="none"/>
<path d="M469.8 991.5h0M467.0 989.3h0M438.6 969.2h0M455.0 916.5h0M434.3 982.0h0M384.8 871.9h0M465.3 961.6h0M473.6 895.4h0M465.9 989.8h0M363.3 986.7h0M319.5 956.9h0M306.4 971.4h0" stroke="#f2e6f2" stroke-width="12.6" stroke-linecap="round" fill="none"/>
<path d="M290.6 947.3h0M312.7 939.8h0M338.9 858.6h0M382.3 904.7h0M350.5 889.9h0M401.7 927.1h0M353.0 864.5h0M412.0 956.4h0M402.2 862.2h0M424.2 900.6h0M459.3 848.0h0M458.1 845.0h0M412.5 880.8h0M296.4 913.2h0M473.8 917.9h0M391.7 846.1h0M350.2 926.8h0M293.7 931.8h0M300.5 895.7h0M482.2 954.6h0" stroke="#f2e6f2" stroke-width="10.6" stroke-linecap="round" fill="none"/>
<path d="M370.4 882.6h0M470.2 965.7h0M466.1 859.3h0M356.6 883.4h0M293.2 845.3h0M434.0 947.1h0M409.8 947.0h0M365.8 987.3h0M484.7 854.3h0M314.3 903.4h0" stroke="#f2e6f2" stroke-width="7.1" stroke-linecap="round" fill="none"/>
<path d="M483.2 906.8h0M354.4 861.5h0M429.6 862.1h0M430.5 970.8h0M379.9 938.2h0M362.6 857.4h0M400.5 902.6h0M454.0 930.2h0M330.6 963.2h0M392.8 972.7h0" stroke="#f2e6f2" stroke-width="12.1" stroke-linecap="round" fill="none"/>
<path d="M444.6 961.3h0M459.7 928.2h0M388.5 949.8h0M490.7 925.2h0M472.0 841.3h0M488.4 898.1h0M410.6 855.3h0M364.4 989.2h0M407.8 982.2h0M351.3 947.4h0M329.3 907.5h0" stroke="#f2e6f2" stroke-width="9.1" stroke-linecap="round" fill="none"/>
<path d="M304.7 898.7h0M302.9 965.1h0M393.2 893.8h0M331.7 947.6h0M442.3 904.1h0M348.0 861.2h0M390.7 969.5h0M359.2 845.0h0M368.7 959.5h0M380.4 910.9h0" stroke="#f2e6f2" stroke-width="11.1" stroke-linecap="round" fill="none"/>
<path d="M488.3 959.5h0M343.4 973.0h0" stroke="#f2e6f2" stroke-width="13.1" stroke-linecap="round" fill="none"/>
<path d="M485.8 909.8h0M458.3 859.4h0M382.7 979.4h0M472.7 938.2h0" stroke="#d2b8de" stroke-width="10.5" stroke-linecap="round" fill="none"/>
<path d="M459.8 928.0h0M337.4 892.4h0M291.3 932.3h0" stroke="#caaed8" stroke-width="9.0" stroke-linecap="round" fill="none"/>
<path d="M296.3 972.7h0M321.7 899.9h0M459.6 862.4h0M359.8 881.4h0" stroke="#caaed8" stroke-width="6.5" stroke-linecap="round" fill="none"/>
<path d="M328.4 906.1h0M479.7 868.6h0M417.0 859.7h0M397.8 915.3h0" stroke="#d2b8de" stroke-width="6.5" stroke-linecap="round" fill="none"/>
<path d="M324.7 971.1h0M351.6 975.7h0M411.6 864.9h0M433.1 852.9h0" stroke="#d2b8de" stroke-width="8.5" stroke-linecap="round" fill="none"/>
<path d="M415.6 846.5h0M327.5 982.1h0M356.3 894.5h0M433.8 846.6h0" stroke="#e0cce8" stroke-width="7.0" stroke-linecap="round" fill="none"/>
<path d="M332.7 935.9h0M414.7 983.5h0M365.9 988.0h0" stroke="#caaed8" stroke-width="7.5" stroke-linecap="round" fill="none"/>
<path d="M455.8 874.4h0" stroke="#d2b8de" stroke-width="7.5" stroke-linecap="round" fill="none"/>
<path d="M293.3 958.9h0M364.3 933.8h0M312.5 912.2h0" stroke="#e0cce8" stroke-width="10.5" stroke-linecap="round" fill="none"/>
<path d="M469.8 991.5h0M438.6 969.2h0M455.0 916.5h0M384.8 871.9h0M465.3 961.6h0M465.9 989.8h0M319.5 956.9h0" stroke="#caaed8" stroke-width="11.5" stroke-linecap="round" fill="none"/>
<path d="M466.1 976.1h0M394.3 957.4h0" stroke="#d2b8de" stroke-width="9.0" stroke-linecap="round" fill="none"/>
<path d="M408.0 977.0h0M327.0 863.5h0" stroke="#dac2e4" stroke-width="9.0" stroke-linecap="round" fill="none"/>
<path d="M394.0 875.9h0M412.2 879.9h0M368.9 908.0h0" stroke="#dac2e4" stroke-width="7.5" stroke-linecap="round" fill="none"/>
<path d="M413.1 895.4h0M459.8 918.0h0M447.9 913.1h0" stroke="#caaed8" stroke-width="10.5" stroke-linecap="round" fill="none"/>
<path d="M290.6 947.3h0M312.7 939.8h0M473.8 917.9h0" stroke="#caaed8" stroke-width="9.5" stroke-linecap="round" fill="none"/>
<path d="M370.4 882.6h0M434.0 947.1h0" stroke="#caaed8" stroke-width="6.0" stroke-linecap="round" fill="none"/>
<path d="M462.2 921.6h0M320.3 872.3h0M428.1 974.2h0" stroke="#dac2e4" stroke-width="8.5" stroke-linecap="round" fill="none"/>
<path d="M483.2 906.8h0M354.4 861.5h0M379.9 938.2h0M362.6 857.4h0" stroke="#e0cce8" stroke-width="11.0" stroke-linecap="round" fill="none"/>
<path d="M338.9 858.6h0M401.7 927.1h0M412.5 880.8h0M296.4 913.2h0M391.7 846.1h0" stroke="#dac2e4" stroke-width="9.5" stroke-linecap="round" fill="none"/>
<path d="M444.6 961.3h0M407.8 982.2h0M351.3 947.4h0" stroke="#dac2e4" stroke-width="8.0" stroke-linecap="round" fill="none"/>
<path d="M339.8 991.9h0M479.2 953.2h0" stroke="#e0cce8" stroke-width="8.5" stroke-linecap="round" fill="none"/>
<path d="M437.9 921.8h0M430.8 893.3h0M323.9 934.6h0M401.1 917.7h0M374.0 948.3h0" stroke="#caaed8" stroke-width="7.0" stroke-linecap="round" fill="none"/>
<path d="M470.2 965.7h0M356.6 883.4h0M293.2 845.3h0M409.8 947.0h0M365.8 987.3h0" stroke="#e0cce8" stroke-width="6.0" stroke-linecap="round" fill="none"/>
<path d="M459.7 928.2h0M472.0 841.3h0" stroke="#d2b8de" stroke-width="8.0" stroke-linecap="round" fill="none"/>
<path d="M388.5 949.8h0M490.7 925.2h0" stroke="#e0cce8" stroke-width="8.0" stroke-linecap="round" fill="none"/>
<path d="M382.3 904.7h0M350.5 889.9h0M293.7 931.8h0M300.5 895.7h0M482.2 954.6h0" stroke="#e0cce8" stroke-width="9.5" stroke-linecap="round" fill="none"/>
<path d="M304.7 898.7h0M393.2 893.8h0M390.7 969.5h0M359.2 845.0h0" stroke="#dac2e4" stroke-width="10.0" stroke-linecap="round" fill="none"/>
<path d="M467.0 989.3h0M434.3 982.0h0M473.6 895.4h0M306.4 971.4h0" stroke="#d2b8de" stroke-width="11.5" stroke-linecap="round" fill="none"/>
<path d="M310.3 988.7h0M434.8 939.7h0M393.3 866.4h0" stroke="#dac2e4" stroke-width="7.0" stroke-linecap="round" fill="none"/>
<path d="M302.6 867.5h0M431.8 855.2h0M342.8 839.2h0M381.1 968.1h0" stroke="#d2b8de" stroke-width="7.0" stroke-linecap="round" fill="none"/>
<path d="M302.9 965.1h0M442.3 904.1h0M348.0 861.2h0M368.7 959.5h0" stroke="#caaed8" stroke-width="10.0" stroke-linecap="round" fill="none"/>
<path d="M353.0 864.5h0M412.0 956.4h0M402.2 862.2h0M424.2 900.6h0M459.3 848.0h0M458.1 845.0h0M350.2 926.8h0" stroke="#d2b8de" stroke-width="9.5" stroke-linecap="round" fill="none"/>
<path d="M429.6 862.1h0M454.0 930.2h0" stroke="#dac2e4" stroke-width="11.0" stroke-linecap="round" fill="none"/>
<path d="M466.1 859.3h0M484.7 854.3h0" stroke="#d2b8de" stroke-width="6.0" stroke-linecap="round" fill="none"/>
<path d="M430.5 970.8h0M400.5 902.6h0M392.8 972.7h0" stroke="#d2b8de" stroke-width="11.0" stroke-linecap="round" fill="none"/>
<path d="M292.2 896.5h0M414.2 984.3h0" stroke="#dac2e4" stroke-width="6.5" stroke-linecap="round" fill="none"/>
<path d="M331.7 947.6h0M380.4 910.9h0" stroke="#e0cce8" stroke-width="10.0" stroke-linecap="round" fill="none"/>
<path d="M488.4 898.1h0M410.6 855.3h0M364.4 989.2h0M329.3 907.5h0" stroke="#caaed8" stroke-width="8.0" stroke-linecap="round" fill="none"/>
<path d="M341.9 974.9h0M379.6 842.9h0" stroke="#e0cce8" stroke-width="7.5" stroke-linecap="round" fill="none"/>
<path d="M328.1 897.7h0" stroke="#caaed8" stroke-width="8.5" stroke-linecap="round" fill="none"/>
<path d="M462.8 875.6h0" stroke="#dac2e4" stroke-width="10.5" stroke-linecap="round" fill="none"/>
<path d="M309.9 986.5h0M304.3 906.0h0" stroke="#e0cce8" stroke-width="6.5" stroke-linecap="round" fill="none"/>
<path d="M488.3 959.5h0" stroke="#caaed8" stroke-width="12.0" stroke-linecap="round" fill="none"/>
<path d="M363.3 986.7h0" stroke="#dac2e4" stroke-width="11.5" stroke-linecap="round" fill="none"/>
<path d="M343.4 973.0h0" stroke="#e0cce8" stroke-width="12.0" stroke-linecap="round" fill="none"/>
<path d="M330.6 963.2h0" stroke="#caaed8" stroke-width="11.0" stroke-linecap="round" fill="none"/>
<path d="M314.3 903.4h0" stroke="#dac2e4" stroke-width="6.0" stroke-linecap="round" fill="none"/>
<path d="M315.7 991.7h0M450.2 901.2h0M370.8 861.8h0M391.3 924.8h0M303.6 908.6h0M311.1 855.7h0M442.7 891.2h0M303.0 980.5h0M325.6 859.3h0M292.2 911.8h0M475.4 847.4h0M373.3 928.8h0M403.6 949.0h0M385.4 932.4h0M448.9 842.6h0" stroke="#ae90cc" stroke-width="8.0" stroke-linecap="round" fill="none"/>
<path d="M341.8 870.8h0M286.5 990.3h0M345.9 913.7h0M487.7 872.7h0M459.3 908.7h0M436.2 922.2h0M472.0 853.2h0M473.1 894.9h0M404.5 896.1h0M371.8 952.5h0M342.1 837.5h0M377.1 910.1h0M466.6 950.0h0" stroke="#a486c4" stroke-width="7.5" stroke-linecap="round" fill="none"/>
<path d="M343.5 906.2h0M399.3 908.1h0M391.1 882.7h0M377.2 927.5h0M420.2 940.7h0M463.9 908.1h0M344.6 863.5h0M411.9 967.2h0M416.2 991.1h0M469.8 968.2h0M467.7 898.2h0M286.5 885.7h0M293.6 910.9h0M331.7 895.8h0M484.0 982.6h0M449.2 913.1h0M436.1 902.0h0M476.0 911.3h0M484.1 929.0h0" stroke="#ae90cc" stroke-width="6.5" stroke-linecap="round" fill="none"/>
<path d="M448.6 979.8h0M327.6 883.0h0M419.7 915.3h0M432.7 887.1h0M482.0 951.3h0M428.9 870.0h0M294.9 987.2h0M377.6 922.1h0M356.3 983.7h0M367.3 870.4h0M447.2 923.4h0M484.6 873.8h0M348.9 902.1h0M487.8 888.1h0M461.0 959.8h0" stroke="#ae90cc" stroke-width="7.0" stroke-linecap="round" fill="none"/>
<path d="M372.6 869.8h0M309.4 942.2h0M456.9 852.4h0M386.7 930.8h0M333.4 922.6h0M353.0 984.8h0M301.4 864.0h0M342.9 903.9h0M440.8 896.7h0M391.1 958.2h0M302.5 985.8h0M478.0 872.7h0M471.6 960.7h0M479.5 884.6h0M324.4 979.3h0" stroke="#ae90cc" stroke-width="5.5" stroke-linecap="round" fill="none"/>
<path d="M469.2 858.2h0M443.5 885.9h0M391.8 957.0h0M458.2 982.3h0M319.8 842.8h0M303.0 984.4h0M439.2 888.9h0M354.8 925.7h0M432.2 931.9h0M309.3 847.7h0M331.3 897.5h0M413.1 934.5h0" stroke="#ae90cc" stroke-width="6.0" stroke-linecap="round" fill="none"/>
<path d="M303.3 902.1h0M454.4 946.0h0M382.6 857.2h0M376.3 971.8h0M485.4 971.1h0M325.1 874.3h0M331.3 967.3h0M373.5 967.4h0M469.8 855.1h0M427.6 988.5h0M483.2 883.3h0M292.3 907.9h0M348.7 843.4h0" stroke="#bea2d6" stroke-width="6.0" stroke-linecap="round" fill="none"/>
<path d="M468.9 849.2h0M465.3 919.9h0M313.6 891.1h0M452.4 925.5h0M398.1 911.2h0M341.7 914.9h0M470.5 910.5h0M330.9 981.5h0M353.4 920.5h0M424.0 857.2h0M379.7 857.8h0" stroke="#bea2d6" stroke-width="6.5" stroke-linecap="round" fill="none"/>
<path d="M444.7 951.1h0M372.6 912.0h0M325.4 990.5h0M407.8 849.5h0M294.2 992.9h0M465.4 944.5h0M401.9 876.6h0M486.1 990.6h0M370.8 908.2h0M317.5 957.2h0M461.0 859.3h0" stroke="#a486c4" stroke-width="5.0" stroke-linecap="round" fill="none"/>
<path d="M335.1 870.0h0M328.6 844.0h0M287.4 947.4h0M362.6 926.7h0M430.6 867.8h0M376.3 917.1h0M385.1 897.4h0M365.3 916.6h0M314.6 961.7h0M482.4 883.3h0M329.1 893.0h0" stroke="#bea2d6" stroke-width="5.5" stroke-linecap="round" fill="none"/>
<path d="M458.1 972.5h0M417.9 967.8h0M458.8 838.6h0M315.3 923.0h0M350.1 862.8h0M373.3 893.7h0M313.1 908.7h0M382.8 855.4h0M398.3 959.6h0M319.5 862.4h0M430.8 972.0h0M458.8 954.5h0M411.1 881.5h0" stroke="#a486c4" stroke-width="6.5" stroke-linecap="round" fill="none"/>
<path d="M358.4 920.6h0M487.3 894.5h0M329.7 976.3h0M357.9 937.1h0M358.6 915.5h0M405.1 918.6h0M482.8 974.5h0M372.0 843.7h0M412.1 925.2h0M339.7 846.4h0M485.0 980.8h0M481.3 882.7h0M332.8 987.2h0M396.0 859.0h0M321.3 846.2h0" stroke="#ae90cc" stroke-width="5.0" stroke-linecap="round" fill="none"/>
<path d="M323.5 943.3h0M390.8 854.2h0M382.7 897.1h0M416.9 964.3h0M474.0 858.7h0M448.1 837.3h0M348.5 907.6h0M414.0 859.2h0M413.2 867.0h0M383.2 938.8h0" stroke="#b89cd2" stroke-width="5.0" stroke-linecap="round" fill="none"/>
<path d="M407.8 865.8h0M439.4 938.2h0M449.1 919.2h0M392.8 886.7h0M422.7 850.7h0M296.4 888.6h0M486.3 955.4h0M485.9 986.2h0M471.4 893.7h0M472.0 916.7h0M453.2 890.1h0M371.0 968.5h0M479.8 893.4h0M370.5 976.6h0" stroke="#bea2d6" stroke-width="8.0" stroke-linecap="round" fill="none"/>
<path d="M353.7 962.8h0M388.7 944.4h0M379.5 967.8h0M451.5 875.7h0M448.8 845.2h0M434.9 887.9h0M424.5 957.1h0M381.7 892.6h0M343.7 916.9h0" stroke="#b89cd2" stroke-width="7.5" stroke-linecap="round" fill="none"/>
<path d="M367.6 985.7h0M339.2 956.4h0M351.2 898.9h0M335.2 975.7h0M408.1 971.8h0M488.2 975.9h0M304.9 841.2h0M386.9 961.9h0M352.0 864.3h0M436.4 951.3h0" stroke="#a486c4" stroke-width="7.0" stroke-linecap="round" fill="none"/>
<path d="M323.1 849.0h0M388.5 982.2h0M428.2 873.2h0M429.4 942.6h0M301.7 964.7h0M462.5 878.7h0M470.0 873.2h0M392.2 838.5h0M293.4 915.1h0M371.2 924.2h0M294.9 990.7h0M355.0 979.9h0M303.4 886.5h0M489.4 875.0h0" stroke="#b89cd2" stroke-width="6.0" stroke-linecap="round" fill="none"/>
<path d="M354.7 984.7h0M378.6 957.2h0M461.0 842.1h0M409.6 838.9h0M314.6 932.8h0M339.2 895.1h0M305.7 974.5h0M376.4 961.0h0M369.1 927.4h0" stroke="#a486c4" stroke-width="8.0" stroke-linecap="round" fill="none"/>
<path d="M301.7 964.7h0M409.0 882.4h0M411.2 938.0h0M406.5 959.7h0M296.8 843.1h0M402.7 982.0h0M404.3 861.3h0M447.8 899.4h0M307.8 985.7h0M322.2 986.1h0" stroke="#a486c4" stroke-width="6.0" stroke-linecap="round" fill="none"/>
<path d="M370.6 902.9h0M438.6 860.7h0M299.4 982.1h0M457.8 969.4h0M301.3 943.3h0M392.6 865.4h0M372.4 909.5h0M371.8 869.2h0M302.7 914.5h0M368.5 881.2h0M475.4 879.0h0M300.5 864.0h0M449.1 956.0h0M354.6 853.4h0" stroke="#ae90cc" stroke-width="7.5" stroke-linecap="round" fill="none"/>
<path d="M454.2 929.0h0M482.7 925.4h0M342.4 986.7h0M355.5 976.9h0M381.7 865.4h0M381.9 939.1h0M299.8 929.0h0M296.6 853.0h0M351.5 885.0h0M357.3 858.5h0M347.1 869.1h0M451.9 960.4h0M400.8 877.6h0M311.0 877.8h0M376.3 971.4h0M430.3 920.1h0M330.6 916.6h0M313.9 927.9h0M295.1 977.8h0M424.0 949.2h0" stroke="#b89cd2" stroke-width="5.5" stroke-linecap="round" fill="none"/>
<path d="M392.3 870.5h0M395.2 973.2h0M445.4 966.8h0M358.2 860.0h0M443.0 896.2h0M471.4 867.1h0M428.8 872.4h0M410.2 924.7h0M307.2 901.4h0M325.0 846.0h0M369.2 982.4h0M308.1 984.0h0" stroke="#bea2d6" stroke-width="7.0" stroke-linecap="round" fill="none"/>
<path d="M415.4 856.2h0M394.2 939.4h0M353.7 891.6h0M470.3 932.9h0M341.4 870.9h0M477.2 860.6h0M344.4 859.7h0M325.8 877.2h0" stroke="#bea2d6" stroke-width="7.5" stroke-linecap="round" fill="none"/>
<path d="M387.4 920.7h0M483.5 961.0h0M324.0 867.3h0M416.5 946.8h0M470.8 962.0h0M416.7 859.2h0M294.2 894.8h0M335.9 931.2h0M339.6 865.6h0M311.7 901.5h0M332.9 868.4h0" stroke="#b89cd2" stroke-width="6.5" stroke-linecap="round" fill="none"/>
<path d="M388.2 910.4h0M419.2 916.5h0M351.5 890.4h0M470.6 990.5h0M338.2 915.9h0M348.5 853.6h0M376.7 981.1h0M370.4 904.3h0M460.4 932.6h0M300.1 848.0h0M302.9 902.1h0M336.3 837.2h0M401.0 889.5h0M375.3 968.9h0M485.4 931.4h0M299.4 931.8h0M377.3 885.2h0M438.1 943.9h0" stroke="#bea2d6" stroke-width="5.0" stroke-linecap="round" fill="none"/>
<path d="M293.4 976.0h0M350.3 889.5h0M338.6 908.3h0M463.4 979.7h0M430.5 862.2h0M325.9 966.3h0M341.3 919.1h0M453.0 911.0h0M418.1 990.9h0" stroke="#ae90cc" stroke-width="8.5" stroke-linecap="round" fill="none"/>
<path d="M387.6 903.8h0M344.9 858.4h0M443.5 972.4h0M452.6 884.1h0M326.3 848.0h0" stroke="#ae90cc" stroke-width="4.5" stroke-linecap="round" fill="none"/>
<path d="M436.9 962.1h0M348.2 910.6h0M450.3 975.3h0M349.1 952.0h0" stroke="#bea2d6" stroke-width="4.5" stroke-linecap="round" fill="none"/>
<path d="M366.8 889.3h0M408.0 939.6h0M372.6 850.7h0M413.0 981.7h0M364.2 839.2h0M322.2 952.9h0M392.2 926.4h0M320.2 854.3h0M441.8 979.6h0" stroke="#b89cd2" stroke-width="8.0" stroke-linecap="round" fill="none"/>
<path d="M397.4 934.5h0M366.5 844.7h0" stroke="#b89cd2" stroke-width="8.5" stroke-linecap="round" fill="none"/>
<path d="M344.4 867.8h0M348.9 875.5h0M287.8 868.7h0M474.9 889.8h0M311.2 907.2h0M446.2 840.5h0M433.2 931.4h0M371.9 968.5h0M484.7 901.5h0M415.0 953.8h0M400.3 970.8h0M335.3 920.3h0M359.4 946.6h0" stroke="#a486c4" stroke-width="5.5" stroke-linecap="round" fill="none"/>
<path d="M359.9 899.6h0M361.8 991.9h0M405.7 838.7h0M454.0 992.1h0M382.4 898.1h0M315.9 896.8h0M358.3 868.1h0M458.2 977.6h0" stroke="#b89cd2" stroke-width="7.0" stroke-linecap="round" fill="none"/>
<path d="M346.8 899.9h0M306.5 855.7h0" stroke="#a486c4" stroke-width="8.5" stroke-linecap="round" fill="none"/>
<path d="M322.6 896.3h0M447.5 865.0h0" stroke="#a486c4" stroke-width="4.5" stroke-linecap="round" fill="none"/>
<path d="M482.6 987.4h0M317.0 921.2h0" stroke="#b89cd2" stroke-width="4.5" stroke-linecap="round" fill="none"/>
<path d="M485.6 946.4h0M489.6 893.1h0" stroke="#bea2d6" stroke-width="8.5" stroke-linecap="round" fill="none"/>
<path d="M388.5 839.4h0M399.6 989.9h0M384.9 895.7h0M356.0 939.8h0M419.4 887.9h0M287.4 894.4h0M347.7 940.8h0M290.6 982.7h0M438.3 864.3h0" stroke="#62388c" stroke-width="4.5" stroke-linecap="round" fill="none"/>
<path d="M450.9 853.7h0M391.4 874.3h0M451.9 856.7h0M420.3 858.7h0M490.2 942.3h0" stroke="#6e449a" stroke-width="4.5" stroke-linecap="round" fill="none"/>
<path d="M297.2 941.8h0M425.3 898.3h0M346.2 946.8h0M379.6 939.3h0M389.3 842.6h0M430.3 984.2h0M368.0 964.1h0M477.5 969.5h0M345.8 872.9h0M395.3 955.8h0" stroke="#8054a8" stroke-width="3.5" stroke-linecap="round" fill="none"/>
<path d="M327.2 889.6h0M394.1 879.0h0M339.7 954.5h0M440.5 840.4h0M417.1 849.8h0M453.8 856.2h0M359.1 871.3h0M427.4 970.9h0M470.9 930.2h0M420.4 953.2h0M389.7 922.0h0M318.7 917.0h0M473.1 978.5h0" stroke="#8054a8" stroke-width="3.0" stroke-linecap="round" fill="none"/>
<path d="M289.0 897.5h0M316.0 952.1h0M326.2 840.7h0M337.3 973.1h0M370.4 952.6h0M348.4 965.2h0M439.9 919.6h0" stroke="#6e449a" stroke-width="2.5" stroke-linecap="round" fill="none"/>
<path d="M361.3 948.8h0M368.1 978.2h0M412.4 987.1h0M399.4 936.2h0M472.1 909.3h0M479.5 867.6h0M440.3 854.8h0M420.6 896.6h0" stroke="#6e449a" stroke-width="3.0" stroke-linecap="round" fill="none"/>
<path d="M479.5 904.0h0M299.9 988.7h0M293.5 992.0h0M485.4 961.5h0M416.3 944.9h0M481.7 907.9h0M405.6 894.3h0M337.4 929.7h0M292.5 909.1h0M340.5 867.2h0" stroke="#9064b2" stroke-width="3.5" stroke-linecap="round" fill="none"/>
<path d="M288.0 864.3h0M477.1 906.7h0M428.1 932.8h0M303.8 906.4h0M290.4 895.8h0M397.1 891.7h0M428.5 952.2h0M320.6 881.2h0M389.4 856.5h0M480.1 918.5h0" stroke="#62388c" stroke-width="4.0" stroke-linecap="round" fill="none"/>
<path d="M349.7 957.0h0M428.1 960.4h0M319.2 921.8h0M455.0 983.4h0M374.0 846.9h0M310.4 915.2h0M422.0 925.7h0M461.4 874.0h0M328.8 959.9h0M479.7 941.7h0M460.6 855.5h0M296.2 867.9h0M349.2 882.4h0M421.6 875.8h0" stroke="#62388c" stroke-width="3.5" stroke-linecap="round" fill="none"/>
<path d="M380.7 984.9h0M340.5 863.8h0M312.1 932.7h0M398.7 932.4h0M430.8 959.1h0M368.4 984.0h0M399.9 960.9h0M403.4 952.2h0M346.9 904.2h0M313.4 971.7h0M418.6 985.2h0M339.9 849.5h0M315.1 900.4h0M453.9 854.4h0M486.9 855.1h0M317.7 880.4h0" stroke="#8054a8" stroke-width="4.0" stroke-linecap="round" fill="none"/>
<path d="M385.0 914.7h0M475.5 875.7h0M333.6 855.2h0M400.8 982.5h0M487.9 892.8h0M344.8 873.6h0M357.9 869.2h0M367.8 918.4h0M300.2 980.7h0M424.8 860.5h0" stroke="#6e449a" stroke-width="4.0" stroke-linecap="round" fill="none"/>
<path d="M433.0 930.3h0M401.1 953.3h0M415.5 902.5h0M458.8 842.8h0M354.4 842.3h0M289.0 972.1h0M426.4 933.0h0M409.1 908.0h0M431.0 932.5h0M410.3 974.8h0M362.0 960.6h0M437.6 917.6h0" stroke="#6e449a" stroke-width="3.5" stroke-linecap="round" fill="none"/>
<path d="M359.3 935.3h0M314.5 976.4h0M438.7 884.7h0M329.0 853.0h0M479.7 941.8h0M396.9 843.8h0M394.1 923.7h0M423.0 872.5h0M461.1 871.7h0M479.8 981.6h0" stroke="#9064b2" stroke-width="2.5" stroke-linecap="round" fill="none"/>
<path d="M388.9 989.4h0M320.7 858.8h0M357.6 918.8h0M350.2 940.4h0M474.7 979.6h0M464.9 942.0h0M317.9 905.9h0M371.9 937.0h0M292.9 897.7h0M335.7 898.0h0M306.0 946.6h0M301.4 907.8h0" stroke="#9064b2" stroke-width="4.5" stroke-linecap="round" fill="none"/>
<path d="M348.3 900.7h0M307.9 859.6h0M458.1 912.5h0M420.2 896.8h0M320.7 844.8h0M360.2 974.1h0" stroke="#8054a8" stroke-width="2.5" stroke-linecap="round" fill="none"/>
<path d="M397.5 839.5h0M406.2 882.6h0M294.4 955.4h0M334.6 898.4h0M452.7 921.4h0M345.3 979.4h0M382.4 973.0h0M354.2 966.1h0M479.3 893.2h0M342.1 900.4h0M379.9 932.3h0M417.1 923.2h0M470.8 860.4h0M331.6 847.2h0" stroke="#62388c" stroke-width="2.5" stroke-linecap="round" fill="none"/>
<path d="M374.9 954.0h0M403.8 845.0h0M481.1 881.7h0M430.9 914.2h0M376.7 880.0h0M402.6 962.2h0M432.9 938.8h0M291.8 854.5h0M295.8 878.8h0M332.4 913.2h0" stroke="#9064b2" stroke-width="4.0" stroke-linecap="round" fill="none"/>
<path d="M480.0 883.4h0M451.6 838.1h0M478.7 883.1h0M352.9 961.3h0M405.8 991.3h0M329.5 894.3h0M463.8 956.9h0M295.7 969.8h0M418.1 953.1h0M436.4 837.2h0M297.0 865.8h0" stroke="#9064b2" stroke-width="3.0" stroke-linecap="round" fill="none"/>
<path d="M372.4 837.7h0M319.7 856.6h0M335.6 974.1h0M288.8 922.3h0M299.3 928.4h0M357.3 921.1h0" stroke="#8054a8" stroke-width="2.0" stroke-linecap="round" fill="none"/>
<path d="M288.8 903.2h0M489.6 971.8h0M409.9 886.7h0M339.1 916.2h0" stroke="#8054a8" stroke-width="4.5" stroke-linecap="round" fill="none"/>
<path d="M386.8 937.5h0M297.8 937.4h0M314.6 889.1h0M420.7 871.1h0M374.6 969.3h0M479.8 948.6h0M366.3 937.2h0M400.1 952.1h0M412.4 882.3h0" stroke="#62388c" stroke-width="3.0" stroke-linecap="round" fill="none"/>
<path d="M350.0 990.8h0M359.8 953.5h0M425.6 963.5h0M415.2 858.9h0M412.5 971.0h0" stroke="#9064b2" stroke-width="2.0" stroke-linecap="round" fill="none"/>
<path d="M397.2 980.0h0M324.5 874.8h0M436.9 914.1h0M315.1 915.5h0" stroke="#62388c" stroke-width="2.0" stroke-linecap="round" fill="none"/>
<path d="M341.2 924.9h0M374.2 940.8h0M405.2 960.1h0M351.1 910.9h0M461.0 883.4h0" stroke="#6e449a" stroke-width="2.0" stroke-linecap="round" fill="none"/>
<path d="M391.8 866.4h0M413.1 859.7h0M464.1 942.5h0" stroke="#d86a8e" stroke-width="4.0" stroke-linecap="round" fill="none"/>
<path d="M466.0 886.6h0" stroke="#d86a8e" stroke-width="2.5" stroke-linecap="round" fill="none"/>
<path d="M331.6 939.8h0M384.6 931.4h0" stroke="#e07a9a" stroke-width="2.5" stroke-linecap="round" fill="none"/>
<path d="M386.2 944.8h0M458.7 987.8h0M406.5 895.9h0" stroke="#e07a9a" stroke-width="4.0" stroke-linecap="round" fill="none"/>
<path d="M437.4 956.8h0" stroke="#d86a8e" stroke-width="3.5" stroke-linecap="round" fill="none"/>
<path d="M477.3 884.5h0M443.0 921.3h0" stroke="#e07a9a" stroke-width="4.5" stroke-linecap="round" fill="none"/>
<path d="M410.8 887.7h0M307.8 870.6h0M331.9 959.2h0M475.0 931.4h0M446.4 897.4h0" stroke="#d86a8e" stroke-width="3.0" stroke-linecap="round" fill="none"/>
<path d="M308.4 850.7h0" stroke="#e07a9a" stroke-width="3.0" stroke-linecap="round" fill="none"/>
<path d="M487.5 983.2h0" stroke="#e07a9a" stroke-width="2.0" stroke-linecap="round" fill="none"/>
<path d="M458.2 983.5h0" stroke="#d86a8e" stroke-width="2.0" stroke-linecap="round" fill="none"/>

</g>
</g>
<rect x="316" y="940.8" width="28.5" height="6.2" fill="#000"/>
<clipPath id="hc3"><rect x="68" y="1005" width="201" height="150"/></clipPath>
<g clip-path="url(#hc3)"><rect x="68" y="1005" width="201" height="150" fill="#f3efe2"/>
<g filter="url(#bl5)">

<path d="M177.8 1075.7h0M128.6 1095.0h0" stroke="#e8dcc8" stroke-width="12.0" stroke-linecap="round" fill="none"/>
<path d="M206.1 1139.9h0M100.7 1156.2h0M76.1 1008.2h0M76.4 1075.2h0M232.4 1114.9h0" stroke="#ebe2d0" stroke-width="6.5" stroke-linecap="round" fill="none"/>
<path d="M95.7 1105.7h0M74.2 1149.4h0M95.6 1025.4h0M247.4 1082.4h0M81.2 1148.7h0M156.3 1145.3h0M116.7 1074.0h0" stroke="#e4dcd0" stroke-width="11.5" stroke-linecap="round" fill="none"/>
<path d="M233.2 1089.3h0M136.4 1054.2h0M186.3 1121.9h0M191.0 1095.8h0M245.5 1096.9h0M123.4 1026.6h0M109.7 1021.7h0M234.5 1128.6h0M262.0 1033.4h0M250.5 1130.2h0" stroke="#e8dcc8" stroke-width="8.0" stroke-linecap="round" fill="none"/>
<path d="M211.4 1148.2h0M149.8 1115.3h0M175.4 1036.4h0M92.4 1017.2h0M161.0 1133.9h0" stroke="#ebe2d0" stroke-width="8.0" stroke-linecap="round" fill="none"/>
<path d="M158.4 1010.7h0M203.4 1125.6h0M117.3 1051.1h0M131.6 1034.8h0" stroke="#efe6d6" stroke-width="8.5" stroke-linecap="round" fill="none"/>
<path d="M172.7 1086.2h0M254.3 1091.7h0M96.4 1017.5h0M258.7 1120.0h0M200.5 1029.0h0M218.8 1077.9h0M71.6 1099.8h0M155.7 1075.3h0M191.3 1098.4h0M240.3 1059.7h0" stroke="#e8dcc8" stroke-width="10.5" stroke-linecap="round" fill="none"/>
<path d="M178.6 1109.0h0M199.1 1032.5h0M249.5 1113.6h0M80.6 1133.3h0M242.4 1146.8h0" stroke="#e8dcc8" stroke-width="11.0" stroke-linecap="round" fill="none"/>
<path d="M126.8 1100.9h0M135.1 1130.2h0M197.0 1126.9h0M138.4 1071.6h0M136.3 1057.6h0M154.8 1140.6h0M168.3 1104.4h0" stroke="#e8dcc8" stroke-width="8.5" stroke-linecap="round" fill="none"/>
<path d="M131.8 1051.9h0M221.1 1002.1h0M211.1 1082.4h0M106.0 1107.1h0M235.4 1154.9h0" stroke="#ebe2d0" stroke-width="12.0" stroke-linecap="round" fill="none"/>
<path d="M77.5 1117.0h0M113.8 1047.4h0M110.8 1094.3h0M151.7 1010.8h0M232.8 1114.9h0M204.2 1050.1h0M220.9 1130.3h0" stroke="#e4dcd0" stroke-width="7.5" stroke-linecap="round" fill="none"/>
<path d="M191.1 1155.2h0M100.0 1054.3h0M165.0 1011.0h0M183.5 1086.0h0M116.0 1137.9h0M101.8 1044.2h0" stroke="#efe6d6" stroke-width="8.0" stroke-linecap="round" fill="none"/>
<path d="M156.2 1106.1h0M220.4 1111.8h0M149.4 1033.6h0M220.4 1062.0h0" stroke="#efe6d6" stroke-width="7.5" stroke-linecap="round" fill="none"/>
<path d="M234.6 1061.4h0M200.6 1092.2h0M88.5 1106.0h0M138.4 1044.2h0M107.3 1121.7h0M99.8 1117.3h0M250.7 1116.8h0" stroke="#e4dcd0" stroke-width="8.0" stroke-linecap="round" fill="none"/>
<path d="M139.5 1044.9h0M124.0 1150.4h0M95.0 1156.5h0M114.4 1131.1h0M265.4 1131.0h0" stroke="#efe6d6" stroke-width="9.5" stroke-linecap="round" fill="none"/>
<path d="M251.0 1104.5h0M188.4 1023.7h0M186.3 1119.8h0M218.7 1094.9h0M193.7 1147.0h0M215.8 1016.0h0M144.6 1019.2h0" stroke="#efe6d6" stroke-width="10.5" stroke-linecap="round" fill="none"/>
<path d="M115.6 1133.1h0M225.2 1030.9h0M265.7 1153.7h0M114.7 1046.1h0M155.0 1090.1h0M128.0 1145.4h0M267.5 1041.6h0M104.7 1139.0h0" stroke="#efe6d6" stroke-width="7.0" stroke-linecap="round" fill="none"/>
<path d="M254.3 1037.6h0M244.4 1059.8h0M267.1 1074.4h0M225.9 1097.6h0" stroke="#efe6d6" stroke-width="11.5" stroke-linecap="round" fill="none"/>
<path d="M229.6 1126.9h0M103.1 1023.7h0M207.8 1147.6h0M219.0 1135.7h0" stroke="#e4dcd0" stroke-width="11.0" stroke-linecap="round" fill="none"/>
<path d="M182.4 1073.0h0M237.3 1055.0h0M130.8 1060.1h0M272.0 1137.5h0" stroke="#ebe2d0" stroke-width="10.0" stroke-linecap="round" fill="none"/>
<path d="M160.4 1142.4h0M221.9 1113.7h0M85.3 1101.4h0M152.8 1079.6h0M77.5 1026.8h0" stroke="#ebe2d0" stroke-width="11.0" stroke-linecap="round" fill="none"/>
<path d="M214.0 1037.3h0M256.4 1052.1h0M248.2 1115.9h0M74.5 1065.9h0" stroke="#efe6d6" stroke-width="11.0" stroke-linecap="round" fill="none"/>
<path d="M132.9 1091.1h0M195.1 1097.9h0M233.6 1145.1h0M134.2 1113.0h0M111.5 1140.7h0M162.0 1060.6h0" stroke="#e8dcc8" stroke-width="10.0" stroke-linecap="round" fill="none"/>
<path d="M203.4 1152.9h0M271.4 1041.8h0M208.9 1066.3h0M241.4 1077.0h0M232.4 1144.0h0M112.1 1147.3h0M140.2 1052.4h0M226.6 1039.0h0" stroke="#efe6d6" stroke-width="10.0" stroke-linecap="round" fill="none"/>
<path d="M123.6 1027.2h0M100.7 1067.1h0M113.9 1138.3h0M70.2 1147.1h0M193.8 1067.1h0M84.5 1128.2h0M85.2 1026.0h0M121.8 1136.4h0M225.2 1023.4h0" stroke="#ebe2d0" stroke-width="11.5" stroke-linecap="round" fill="none"/>
<path d="M232.3 1105.0h0M97.1 1082.8h0M203.3 1109.6h0M226.6 1042.8h0M127.9 1044.1h0M250.5 1081.5h0M73.3 1092.6h0M213.4 1078.6h0M261.5 1108.2h0M183.9 1134.4h0" stroke="#e4dcd0" stroke-width="9.5" stroke-linecap="round" fill="none"/>
<path d="M201.3 1126.0h0M259.0 1097.8h0M125.4 1104.8h0M89.1 1079.6h0M108.1 1108.1h0" stroke="#e8dcc8" stroke-width="9.0" stroke-linecap="round" fill="none"/>
<path d="M230.4 1009.4h0M187.7 1080.8h0M68.6 1102.9h0M167.3 1156.8h0M252.3 1150.0h0M247.3 1111.2h0M202.9 1140.5h0M160.2 1104.6h0M188.0 1032.4h0M257.7 1093.7h0M184.8 1055.9h0" stroke="#e4dcd0" stroke-width="7.0" stroke-linecap="round" fill="none"/>
<path d="M111.3 1068.3h0M141.8 1026.3h0M92.9 1146.7h0M237.0 1049.0h0M210.6 1037.9h0" stroke="#e8dcc8" stroke-width="11.5" stroke-linecap="round" fill="none"/>
<path d="M128.3 1007.8h0M231.2 1040.2h0" stroke="#e8dcc8" stroke-width="6.0" stroke-linecap="round" fill="none"/>
<path d="M260.0 1110.2h0M75.8 1020.5h0" stroke="#efe6d6" stroke-width="12.0" stroke-linecap="round" fill="none"/>
<path d="M188.3 1008.9h0M122.8 1107.0h0M202.3 1140.7h0M162.4 1007.2h0M214.8 1145.2h0M224.6 1018.6h0M183.3 1035.8h0M162.2 1067.3h0" stroke="#ebe2d0" stroke-width="10.5" stroke-linecap="round" fill="none"/>
<path d="M188.9 1052.3h0M190.0 1046.9h0M181.3 1149.0h0M228.8 1014.0h0M253.2 1119.8h0M78.3 1025.6h0M88.6 1060.2h0M219.0 1049.3h0" stroke="#ebe2d0" stroke-width="8.5" stroke-linecap="round" fill="none"/>
<path d="M126.7 1087.0h0M83.3 1022.8h0M270.3 1083.3h0" stroke="#e4dcd0" stroke-width="10.5" stroke-linecap="round" fill="none"/>
<path d="M208.5 1153.5h0M137.6 1110.7h0M116.7 1128.5h0" stroke="#e4dcd0" stroke-width="8.5" stroke-linecap="round" fill="none"/>
<path d="M260.5 1055.1h0M213.4 1138.3h0" stroke="#ebe2d0" stroke-width="7.0" stroke-linecap="round" fill="none"/>
<path d="M90.6 1070.3h0M117.2 1157.3h0M124.1 1116.4h0M210.8 1026.6h0M66.5 1031.8h0M102.8 1048.2h0M243.8 1133.5h0" stroke="#ebe2d0" stroke-width="9.5" stroke-linecap="round" fill="none"/>
<path d="M87.8 1134.7h0M98.0 1038.3h0M271.5 1142.8h0M271.7 1133.1h0M177.3 1051.3h0M230.2 1007.1h0M116.2 1031.4h0" stroke="#efe6d6" stroke-width="6.5" stroke-linecap="round" fill="none"/>
<path d="M187.6 1082.2h0M144.7 1008.9h0M182.1 1107.0h0M266.8 1143.3h0" stroke="#e8dcc8" stroke-width="9.5" stroke-linecap="round" fill="none"/>
<path d="M135.6 1063.4h0M149.0 1137.4h0M205.9 1073.9h0M154.9 1047.7h0M86.9 1023.1h0" stroke="#e4dcd0" stroke-width="9.0" stroke-linecap="round" fill="none"/>
<path d="M177.8 1111.2h0M93.4 1066.0h0M182.6 1156.4h0" stroke="#efe6d6" stroke-width="6.0" stroke-linecap="round" fill="none"/>
<path d="M174.5 1099.0h0M149.1 1023.7h0M107.3 1035.4h0M222.7 1047.9h0M184.7 1051.7h0" stroke="#e8dcc8" stroke-width="7.0" stroke-linecap="round" fill="none"/>
<path d="M246.2 1153.0h0M193.0 1072.0h0M175.3 1020.6h0" stroke="#e8dcc8" stroke-width="7.5" stroke-linecap="round" fill="none"/>
<path d="M85.9 1106.3h0M120.8 1017.3h0" stroke="#ebe2d0" stroke-width="9.0" stroke-linecap="round" fill="none"/>
<path d="M224.9 1009.6h0M129.5 1112.0h0M105.9 1054.9h0M201.9 1128.2h0M131.7 1054.2h0" stroke="#e4dcd0" stroke-width="6.5" stroke-linecap="round" fill="none"/>
<path d="M92.7 1089.9h0M143.6 1098.1h0M269.6 1042.4h0" stroke="#ebe2d0" stroke-width="6.0" stroke-linecap="round" fill="none"/>
<path d="M189.0 1141.8h0M140.9 1106.3h0M139.3 1127.0h0M254.4 1051.8h0M113.0 1039.1h0" stroke="#e8dcc8" stroke-width="6.5" stroke-linecap="round" fill="none"/>
<path d="M202.0 1128.8h0" stroke="#e4dcd0" stroke-width="6.0" stroke-linecap="round" fill="none"/>
<path d="M82.6 1138.1h0M186.1 1133.7h0" stroke="#efe6d6" stroke-width="9.0" stroke-linecap="round" fill="none"/>
<path d="M266.8 1096.4h0" stroke="#e4dcd0" stroke-width="10.0" stroke-linecap="round" fill="none"/>
<path d="M135.8 1060.1h0M93.3 1006.9h0M141.6 1149.2h0" stroke="#d6ac86" stroke-width="7.5" stroke-linecap="round" fill="none"/>
<path d="M215.4 1063.8h0M175.0 1086.7h0M121.8 1030.3h0M233.7 1095.3h0" stroke="#dcb894" stroke-width="7.5" stroke-linecap="round" fill="none"/>
<path d="M99.2 1026.8h0M191.4 1029.5h0M217.4 1085.4h0M94.5 1031.7h0M75.4 1041.0h0" stroke="#e2c4a4" stroke-width="6.0" stroke-linecap="round" fill="none"/>
<path d="M139.2 1145.4h0M209.9 1004.1h0M165.7 1139.2h0M204.3 1061.9h0" stroke="#dcb894" stroke-width="5.0" stroke-linecap="round" fill="none"/>
<path d="M192.4 1059.9h0" stroke="#dcb894" stroke-width="8.0" stroke-linecap="round" fill="none"/>
<path d="M149.3 1146.2h0M182.5 1146.4h0M80.7 1092.1h0M89.7 1141.0h0" stroke="#d6ac86" stroke-width="6.0" stroke-linecap="round" fill="none"/>
<path d="M183.3 1150.9h0M101.0 1122.8h0M84.7 1030.0h0" stroke="#d6ac86" stroke-width="9.0" stroke-linecap="round" fill="none"/>
<path d="M137.6 1095.1h0M91.4 1061.1h0M114.6 1136.3h0M129.9 1088.4h0" stroke="#d6ac86" stroke-width="7.0" stroke-linecap="round" fill="none"/>
<path d="M135.4 1142.5h0M105.0 1099.7h0M146.3 1155.9h0M113.1 1019.3h0M147.5 1152.0h0" stroke="#dcb894" stroke-width="7.0" stroke-linecap="round" fill="none"/>
<path d="M241.7 1077.8h0M262.2 1071.9h0M218.1 1055.2h0" stroke="#e2c4a4" stroke-width="8.5" stroke-linecap="round" fill="none"/>
<path d="M111.1 1135.8h0M156.1 1109.2h0M84.2 1116.0h0M116.6 1139.1h0M184.3 1068.6h0" stroke="#e2c4a4" stroke-width="10.0" stroke-linecap="round" fill="none"/>
<path d="M77.5 1020.0h0M210.6 1105.0h0M265.9 1110.5h0M178.1 1155.9h0" stroke="#d6ac86" stroke-width="6.5" stroke-linecap="round" fill="none"/>
<path d="M245.1 1082.8h0M158.3 1012.1h0M106.7 1014.9h0M179.2 1154.8h0" stroke="#d6ac86" stroke-width="5.5" stroke-linecap="round" fill="none"/>
<path d="M155.0 1127.1h0M262.3 1008.7h0" stroke="#e2c4a4" stroke-width="6.5" stroke-linecap="round" fill="none"/>
<path d="M200.9 1108.6h0M186.1 1144.4h0M219.7 1044.5h0M172.8 1036.2h0" stroke="#d6ac86" stroke-width="5.0" stroke-linecap="round" fill="none"/>
<path d="M119.0 1080.6h0M166.3 1051.0h0M92.2 1130.5h0M71.1 1025.0h0M216.4 1045.9h0" stroke="#e2c4a4" stroke-width="9.5" stroke-linecap="round" fill="none"/>
<path d="M129.7 1083.8h0M159.7 1102.8h0M235.8 1117.9h0M149.6 1153.4h0M105.2 1072.8h0" stroke="#e2c4a4" stroke-width="7.0" stroke-linecap="round" fill="none"/>
<path d="M110.4 1154.1h0M122.0 1087.8h0M199.8 1021.8h0M191.7 1031.7h0" stroke="#e2c4a4" stroke-width="5.0" stroke-linecap="round" fill="none"/>
<path d="M219.8 1107.8h0M136.7 1113.3h0M212.1 1016.5h0" stroke="#dcb894" stroke-width="6.5" stroke-linecap="round" fill="none"/>
<path d="M191.7 1087.9h0M85.9 1150.3h0" stroke="#d6ac86" stroke-width="10.0" stroke-linecap="round" fill="none"/>
<path d="M134.1 1060.7h0M257.6 1129.5h0M108.9 1089.6h0" stroke="#e2c4a4" stroke-width="5.5" stroke-linecap="round" fill="none"/>
<path d="M91.0 1016.3h0M78.9 1113.4h0M225.6 1127.2h0M112.5 1137.3h0M195.7 1025.7h0" stroke="#d6ac86" stroke-width="9.5" stroke-linecap="round" fill="none"/>
<path d="M207.0 1134.0h0M124.7 1066.7h0" stroke="#dcb894" stroke-width="5.5" stroke-linecap="round" fill="none"/>
<path d="M270.8 1018.5h0M176.3 1016.7h0M99.3 1003.7h0M66.3 1033.7h0M102.9 1019.4h0" stroke="#d6ac86" stroke-width="8.5" stroke-linecap="round" fill="none"/>
<path d="M179.0 1154.0h0M122.6 1068.4h0M73.1 1090.8h0M101.1 1064.1h0M204.5 1010.1h0M224.2 1065.2h0" stroke="#e2c4a4" stroke-width="7.5" stroke-linecap="round" fill="none"/>
<path d="M204.2 1021.9h0M66.8 1085.8h0M142.1 1106.4h0M231.3 1005.8h0M134.0 1024.7h0" stroke="#dcb894" stroke-width="9.5" stroke-linecap="round" fill="none"/>
<path d="M191.5 1130.6h0M199.7 1060.5h0M187.6 1008.6h0" stroke="#dcb894" stroke-width="10.0" stroke-linecap="round" fill="none"/>
<path d="M214.8 1058.9h0M135.4 1127.4h0M220.8 1065.1h0M77.3 1059.8h0M159.2 1154.0h0" stroke="#dcb894" stroke-width="6.0" stroke-linecap="round" fill="none"/>
<path d="M181.0 1014.6h0M126.3 1128.2h0" stroke="#dcb894" stroke-width="8.5" stroke-linecap="round" fill="none"/>
<path d="M67.4 1148.5h0M121.5 1014.0h0" stroke="#e2c4a4" stroke-width="9.0" stroke-linecap="round" fill="none"/>
<path d="M84.2 1089.0h0M92.9 1003.5h0M226.9 1064.8h0M98.1 1140.9h0" stroke="#d6ac86" stroke-width="8.0" stroke-linecap="round" fill="none"/>
<path d="M191.7 1153.0h0M231.5 1145.8h0" stroke="#e2c4a4" stroke-width="8.0" stroke-linecap="round" fill="none"/>
<path d="M173.5 1009.3h0M84.3 1008.4h0" stroke="#dcb894" stroke-width="9.0" stroke-linecap="round" fill="none"/>
<path d="M220.6 1015.8h0M123.4 1003.8h0M217.0 1051.9h0" stroke="#cc9464" stroke-width="4.5" stroke-linecap="round" fill="none"/>
<path d="M163.2 1058.0h0M243.4 1154.1h0M176.9 1048.0h0" stroke="#b87a48" stroke-width="8.0" stroke-linecap="round" fill="none"/>
<path d="M169.2 1093.3h0M263.0 1069.9h0M113.3 1034.0h0M148.8 1059.5h0M118.2 1092.6h0" stroke="#cc9464" stroke-width="7.0" stroke-linecap="round" fill="none"/>
<path d="M170.1 1105.7h0M215.3 1117.0h0M238.2 1069.3h0M261.6 1149.7h0M200.4 1002.6h0M68.0 1063.8h0" stroke="#b87a48" stroke-width="5.5" stroke-linecap="round" fill="none"/>
<path d="M88.3 1038.4h0" stroke="#c48a58" stroke-width="4.5" stroke-linecap="round" fill="none"/>
<path d="M186.7 1114.9h0M198.5 1123.2h0M224.4 1142.5h0M66.7 1009.1h0M234.7 1016.5h0" stroke="#c48a58" stroke-width="8.0" stroke-linecap="round" fill="none"/>
<path d="M86.5 1139.7h0M247.4 1031.1h0M82.6 1034.7h0M271.9 1096.7h0M174.1 1009.2h0" stroke="#cc9464" stroke-width="7.5" stroke-linecap="round" fill="none"/>
<path d="M82.2 1034.3h0M65.7 1105.5h0M97.0 1009.5h0" stroke="#c48a58" stroke-width="4.0" stroke-linecap="round" fill="none"/>
<path d="M201.9 1142.4h0M151.3 1119.4h0" stroke="#c48a58" stroke-width="7.5" stroke-linecap="round" fill="none"/>
<path d="M148.8 1085.8h0M75.6 1084.5h0M108.7 1023.7h0M105.9 1115.0h0M110.9 1032.9h0" stroke="#c48a58" stroke-width="6.5" stroke-linecap="round" fill="none"/>
<path d="M124.2 1011.2h0" stroke="#cc9464" stroke-width="6.5" stroke-linecap="round" fill="none"/>
<path d="M248.4 1006.3h0" stroke="#cc9464" stroke-width="8.0" stroke-linecap="round" fill="none"/>
<path d="M172.6 1041.6h0M99.6 1041.6h0" stroke="#c48a58" stroke-width="6.0" stroke-linecap="round" fill="none"/>
<path d="M256.3 1120.5h0M77.4 1102.8h0M70.3 1004.9h0M261.7 1126.1h0" stroke="#b87a48" stroke-width="7.0" stroke-linecap="round" fill="none"/>
<path d="M166.6 1013.2h0M164.2 1037.4h0M91.4 1124.7h0" stroke="#c48a58" stroke-width="5.5" stroke-linecap="round" fill="none"/>
<path d="M196.4 1063.1h0M251.5 1128.8h0M100.0 1142.7h0M250.2 1143.0h0" stroke="#b87a48" stroke-width="6.5" stroke-linecap="round" fill="none"/>
<path d="M166.0 1122.6h0M139.1 1130.9h0M220.3 1037.0h0M249.1 1154.5h0" stroke="#c48a58" stroke-width="5.0" stroke-linecap="round" fill="none"/>
<path d="M174.4 1048.1h0" stroke="#b87a48" stroke-width="4.5" stroke-linecap="round" fill="none"/>
<path d="M228.0 1088.1h0M193.4 1032.3h0" stroke="#cc9464" stroke-width="5.0" stroke-linecap="round" fill="none"/>
<path d="M231.1 1004.0h0" stroke="#c48a58" stroke-width="7.0" stroke-linecap="round" fill="none"/>
<path d="M100.0 1029.8h0M105.4 1030.1h0" stroke="#b87a48" stroke-width="5.0" stroke-linecap="round" fill="none"/>
<path d="M130.9 1004.7h0M160.3 1157.1h0M242.6 1031.3h0" stroke="#b87a48" stroke-width="6.0" stroke-linecap="round" fill="none"/>
<path d="M112.6 1045.6h0" stroke="#b87a48" stroke-width="4.0" stroke-linecap="round" fill="none"/>
<path d="M101.1 1009.6h0" stroke="#cc9464" stroke-width="4.0" stroke-linecap="round" fill="none"/>
<path d="M174.0 1043.5h0" stroke="#cc9464" stroke-width="5.5" stroke-linecap="round" fill="none"/>
<path d="M260.4 1026.2h0" stroke="#cc9464" stroke-width="6.0" stroke-linecap="round" fill="none"/>
<path d="M90.7 1044.1h0M170.8 1154.3h0M74.9 1151.5h0M140.5 1097.2h0" stroke="#cccbdc" stroke-width="4.0" stroke-linecap="round" fill="none"/>
<path d="M103.6 1008.4h0M226.6 1047.6h0M200.6 1107.2h0M79.9 1124.8h0M204.2 1153.5h0M218.5 1015.2h0M92.9 1101.5h0M205.3 1120.8h0M238.9 1067.3h0" stroke="#d4d2e2" stroke-width="4.5" stroke-linecap="round" fill="none"/>
<path d="M217.2 1069.3h0M149.0 1037.8h0M128.2 1085.3h0M71.2 1012.3h0" stroke="#d4d2e2" stroke-width="6.0" stroke-linecap="round" fill="none"/>
<path d="M132.8 1035.1h0M218.8 1124.1h0M93.0 1044.6h0M70.8 1121.7h0" stroke="#cccbdc" stroke-width="5.5" stroke-linecap="round" fill="none"/>
<path d="M70.1 1105.3h0M84.5 1111.3h0M119.2 1050.4h0" stroke="#c2c2d6" stroke-width="3.5" stroke-linecap="round" fill="none"/>
<path d="M89.7 1079.7h0M148.4 1063.2h0M182.7 1076.9h0M156.3 1007.7h0" stroke="#c2c2d6" stroke-width="5.5" stroke-linecap="round" fill="none"/>
<path d="M99.7 1142.0h0M107.7 1086.4h0M254.5 1033.2h0M118.4 1008.7h0M140.7 1139.4h0" stroke="#d4d2e2" stroke-width="4.0" stroke-linecap="round" fill="none"/>
<path d="M99.8 1021.0h0M270.0 1035.3h0" stroke="#cccbdc" stroke-width="6.5" stroke-linecap="round" fill="none"/>
<path d="M186.6 1137.0h0M164.5 1108.1h0M125.4 1059.2h0M86.0 1026.2h0M183.0 1122.6h0M185.0 1157.9h0M213.4 1055.0h0M68.9 1087.2h0M173.4 1150.6h0" stroke="#c2c2d6" stroke-width="4.0" stroke-linecap="round" fill="none"/>
<path d="M256.0 1107.3h0M163.7 1093.1h0M244.2 1053.1h0M112.0 1032.0h0M201.2 1150.3h0M207.0 1017.1h0M101.7 1134.8h0M177.9 1083.6h0M101.3 1019.3h0" stroke="#cccbdc" stroke-width="5.0" stroke-linecap="round" fill="none"/>
<path d="M161.6 1150.2h0M153.0 1146.6h0M122.8 1004.7h0M181.8 1054.5h0M188.8 1150.2h0" stroke="#cccbdc" stroke-width="4.5" stroke-linecap="round" fill="none"/>
<path d="M258.6 1019.7h0M70.4 1149.2h0M125.4 1101.9h0M132.8 1027.1h0" stroke="#c2c2d6" stroke-width="5.0" stroke-linecap="round" fill="none"/>
<path d="M118.5 1002.5h0M148.0 1029.7h0M129.7 1142.6h0M81.2 1021.7h0M107.2 1044.3h0" stroke="#d4d2e2" stroke-width="5.0" stroke-linecap="round" fill="none"/>
<path d="M264.8 1061.8h0M174.5 1044.3h0M191.8 1051.8h0M256.9 1026.0h0M154.2 1129.8h0M232.3 1008.3h0M122.2 1036.6h0M147.1 1015.2h0" stroke="#cccbdc" stroke-width="6.0" stroke-linecap="round" fill="none"/>
<path d="M84.5 1039.8h0M161.0 1071.2h0" stroke="#d4d2e2" stroke-width="6.5" stroke-linecap="round" fill="none"/>
<path d="M232.1 1049.2h0" stroke="#c2c2d6" stroke-width="4.5" stroke-linecap="round" fill="none"/>
<path d="M67.9 1053.9h0M78.4 1126.9h0M115.2 1146.5h0M68.4 1142.7h0M75.3 1130.1h0M69.5 1093.2h0" stroke="#d4d2e2" stroke-width="5.5" stroke-linecap="round" fill="none"/>
<path d="M126.4 1041.8h0M270.7 1117.3h0M71.3 1072.8h0M213.1 1080.4h0" stroke="#c2c2d6" stroke-width="6.0" stroke-linecap="round" fill="none"/>
<path d="M96.1 1063.7h0" stroke="#c2c2d6" stroke-width="6.5" stroke-linecap="round" fill="none"/>
<path d="M118.4 1083.7h0" stroke="#d4d2e2" stroke-width="3.5" stroke-linecap="round" fill="none"/>
<path d="M101.7 1045.0h0" stroke="#8a4820" stroke-width="4.5" stroke-linecap="round" fill="none"/>
<path d="M152.2 1044.2h0M210.7 1040.1h0M269.8 1099.2h0M146.5 1102.3h0" stroke="#9a5228" stroke-width="2.5" stroke-linecap="round" fill="none"/>
<path d="M152.7 1089.3h0M69.0 1116.9h0M219.3 1129.0h0" stroke="#8a4820" stroke-width="4.0" stroke-linecap="round" fill="none"/>
<path d="M103.0 1121.4h0" stroke="#7a3c18" stroke-width="3.0" stroke-linecap="round" fill="none"/>
<path d="M231.6 1090.1h0M246.6 1032.8h0" stroke="#7a3c18" stroke-width="4.5" stroke-linecap="round" fill="none"/>
<path d="M126.0 1093.2h0M89.8 1135.0h0M248.6 1121.9h0M81.9 1152.4h0M112.9 1121.5h0" stroke="#9a5228" stroke-width="2.0" stroke-linecap="round" fill="none"/>
<path d="M179.3 1048.3h0M112.7 1084.0h0M67.8 1079.9h0M123.3 1058.3h0" stroke="#7a3c18" stroke-width="4.0" stroke-linecap="round" fill="none"/>
<path d="M65.3 1058.7h0" stroke="#8a4820" stroke-width="2.5" stroke-linecap="round" fill="none"/>
<path d="M270.3 1036.9h0M205.8 1149.7h0M73.9 1149.6h0" stroke="#7a3c18" stroke-width="2.5" stroke-linecap="round" fill="none"/>
<path d="M128.6 1007.4h0M127.6 1095.2h0M177.2 1132.0h0" stroke="#7a3c18" stroke-width="3.5" stroke-linecap="round" fill="none"/>
<path d="M72.2 1141.3h0M92.4 1136.7h0" stroke="#9a5228" stroke-width="3.0" stroke-linecap="round" fill="none"/>
<path d="M232.9 1073.2h0" stroke="#9a5228" stroke-width="4.0" stroke-linecap="round" fill="none"/>
<path d="M156.2 1057.0h0M117.0 1082.5h0" stroke="#8a4820" stroke-width="3.5" stroke-linecap="round" fill="none"/>
<path d="M91.8 1071.8h0M144.4 1056.0h0M210.8 1035.4h0M206.9 1006.2h0M269.2 1100.9h0" stroke="#9a5228" stroke-width="3.5" stroke-linecap="round" fill="none"/>
<path d="M259.8 1115.8h0M99.9 1019.2h0" stroke="#8a4820" stroke-width="2.0" stroke-linecap="round" fill="none"/>
<path d="M151.1 1153.7h0" stroke="#8a4820" stroke-width="3.0" stroke-linecap="round" fill="none"/>
<path d="M112 1017 l12 -4 l11 9 l-2 16 l-12 3 l-9 -11z" fill="#d4a27a"/><circle cx="126" cy="1027" r="4" fill="#f0e4d4"/><circle cx="126" cy="1027" r="2.4" fill="#7a3c1c"/>
</g>
</g>
<rect x="90" y="1102.8" width="28.2" height="5.8" fill="#000"/>
<clipPath id="hc4"><rect x="288" y="1005" width="200" height="150"/></clipPath>
<g clip-path="url(#hc4)"><rect x="288" y="1005" width="200" height="150" fill="#ebe5df"/>
<g filter="url(#bl5)">

<path d="M357.7 1088.0h0M487.5 1006.2h0M444.9 1045.2h0M359.7 1014.2h0M305.8 1036.3h0M465.6 1031.7h0" stroke="#d8dce8" stroke-width="9.5" stroke-linecap="round" fill="none"/>
<path d="M398.9 1057.4h0M341.3 1087.6h0M400.2 1054.3h0M358.0 1108.6h0M366.4 1140.8h0" stroke="#d0d6e6" stroke-width="9.0" stroke-linecap="round" fill="none"/>
<path d="M297.0 1083.1h0M390.8 1073.4h0M382.9 1128.0h0M460.9 1073.2h0M472.0 1076.9h0" stroke="#e4e2e0" stroke-width="13.5" stroke-linecap="round" fill="none"/>
<path d="M425.6 1003.6h0M297.1 1032.0h0M436.3 1116.7h0" stroke="#d8dce8" stroke-width="9.0" stroke-linecap="round" fill="none"/>
<path d="M343.1 1103.5h0M459.2 1130.0h0M306.6 1056.6h0" stroke="#d8dce8" stroke-width="6.5" stroke-linecap="round" fill="none"/>
<path d="M315.9 1046.7h0M315.9 1105.9h0M407.7 1073.4h0M319.7 1008.7h0M431.0 1051.3h0M366.0 1054.5h0" stroke="#e4e2e0" stroke-width="13.0" stroke-linecap="round" fill="none"/>
<path d="M319.1 1099.1h0M451.6 1004.8h0M453.5 1122.4h0M480.1 1012.1h0M344.8 1098.1h0" stroke="#d0d6e6" stroke-width="13.5" stroke-linecap="round" fill="none"/>
<path d="M451.4 1131.7h0M355.4 1040.6h0M360.9 1082.8h0M388.1 1109.4h0" stroke="#d0d6e6" stroke-width="9.5" stroke-linecap="round" fill="none"/>
<path d="M446.3 1112.2h0M459.2 1134.9h0M444.1 1026.4h0M341.9 1110.4h0M421.7 1112.5h0" stroke="#d8dce8" stroke-width="10.0" stroke-linecap="round" fill="none"/>
<path d="M343.1 1035.1h0M450.4 1107.6h0M489.6 1128.4h0" stroke="#e4e2e0" stroke-width="7.5" stroke-linecap="round" fill="none"/>
<path d="M476.0 1134.4h0M351.9 1070.6h0M459.2 1074.4h0" stroke="#e4e2e0" stroke-width="14.0" stroke-linecap="round" fill="none"/>
<path d="M388.8 1066.4h0M319.1 1019.7h0M416.6 1033.1h0M402.1 1073.1h0M449.2 1033.9h0M325.4 1056.4h0" stroke="#d0d6e6" stroke-width="11.0" stroke-linecap="round" fill="none"/>
<path d="M331.2 1017.0h0M443.4 1147.4h0M298.5 1047.6h0M307.1 1097.2h0M368.3 1084.3h0" stroke="#d8dce8" stroke-width="7.5" stroke-linecap="round" fill="none"/>
<path d="M397.9 1108.7h0M381.3 1145.2h0M466.0 1012.2h0M426.2 1047.9h0M300.6 1073.7h0M486.7 1014.2h0M439.8 1117.9h0" stroke="#d0d6e6" stroke-width="13.0" stroke-linecap="round" fill="none"/>
<path d="M483.9 1104.2h0M474.8 1110.6h0M325.2 1071.8h0M441.5 1087.6h0M393.6 1005.6h0" stroke="#d0d6e6" stroke-width="14.0" stroke-linecap="round" fill="none"/>
<path d="M452.5 1025.0h0M388.8 1114.7h0M331.4 1078.4h0M465.5 1125.0h0" stroke="#e4e2e0" stroke-width="11.5" stroke-linecap="round" fill="none"/>
<path d="M317.2 1026.9h0M371.5 1049.9h0M455.8 1113.0h0M341.2 1003.1h0" stroke="#e4e2e0" stroke-width="12.5" stroke-linecap="round" fill="none"/>
<path d="M458.3 1061.8h0M336.6 1076.0h0M293.9 1011.8h0M428.4 1146.8h0" stroke="#d0d6e6" stroke-width="8.5" stroke-linecap="round" fill="none"/>
<path d="M358.6 1099.7h0M458.9 1152.6h0M408.7 1094.3h0M488.9 1005.2h0" stroke="#d0d6e6" stroke-width="10.5" stroke-linecap="round" fill="none"/>
<path d="M305.0 1118.0h0" stroke="#d0d6e6" stroke-width="12.5" stroke-linecap="round" fill="none"/>
<path d="M309.9 1044.2h0M474.7 1090.6h0" stroke="#d8dce8" stroke-width="12.0" stroke-linecap="round" fill="none"/>
<path d="M415.6 1032.9h0M385.8 1074.0h0M325.4 1069.9h0M384.7 1079.6h0M392.1 1069.6h0M403.6 1076.3h0" stroke="#d0d6e6" stroke-width="12.0" stroke-linecap="round" fill="none"/>
<path d="M482.4 1036.7h0M338.9 1062.5h0" stroke="#e4e2e0" stroke-width="7.0" stroke-linecap="round" fill="none"/>
<path d="M443.6 1019.8h0M298.2 1092.3h0M411.8 1101.3h0" stroke="#d8dce8" stroke-width="13.0" stroke-linecap="round" fill="none"/>
<path d="M467.9 1054.2h0M414.6 1019.2h0M456.0 1145.3h0" stroke="#e4e2e0" stroke-width="8.0" stroke-linecap="round" fill="none"/>
<path d="M295.5 1141.6h0M426.3 1094.3h0M439.8 1148.2h0M460.0 1021.1h0M347.5 1140.5h0M382.9 1140.9h0M288.8 1056.4h0" stroke="#d0d6e6" stroke-width="6.5" stroke-linecap="round" fill="none"/>
<path d="M340.9 1108.9h0M488.0 1059.2h0M489.8 1095.7h0M351.1 1097.1h0" stroke="#d8dce8" stroke-width="11.5" stroke-linecap="round" fill="none"/>
<path d="M370.2 1135.3h0" stroke="#d8dce8" stroke-width="14.0" stroke-linecap="round" fill="none"/>
<path d="M336.2 1137.0h0" stroke="#d8dce8" stroke-width="6.0" stroke-linecap="round" fill="none"/>
<path d="M462.1 1030.2h0M436.9 1135.0h0M393.4 1133.3h0M360.9 1127.6h0" stroke="#d8dce8" stroke-width="13.5" stroke-linecap="round" fill="none"/>
<path d="M362.4 1097.2h0" stroke="#e4e2e0" stroke-width="12.0" stroke-linecap="round" fill="none"/>
<path d="M469.2 1059.5h0M286.4 1048.3h0" stroke="#d0d6e6" stroke-width="7.0" stroke-linecap="round" fill="none"/>
<path d="M312.6 1132.1h0M393.8 1137.5h0M371.9 1100.1h0" stroke="#e4e2e0" stroke-width="6.5" stroke-linecap="round" fill="none"/>
<path d="M480.7 1091.2h0M320.1 1050.4h0M462.7 1040.0h0M450.8 1098.7h0" stroke="#e4e2e0" stroke-width="9.5" stroke-linecap="round" fill="none"/>
<path d="M461.0 1120.9h0M298.8 1157.9h0" stroke="#d8dce8" stroke-width="8.0" stroke-linecap="round" fill="none"/>
<path d="M308.1 1129.0h0" stroke="#d0d6e6" stroke-width="11.5" stroke-linecap="round" fill="none"/>
<path d="M330.3 1128.7h0M293.0 1086.6h0M392.9 1130.9h0" stroke="#d8dce8" stroke-width="12.5" stroke-linecap="round" fill="none"/>
<path d="M351.9 1036.6h0M380.2 1086.8h0" stroke="#d8dce8" stroke-width="10.5" stroke-linecap="round" fill="none"/>
<path d="M423.4 1143.7h0M323.0 1066.6h0" stroke="#e4e2e0" stroke-width="10.0" stroke-linecap="round" fill="none"/>
<path d="M382.1 1023.6h0M336.9 1069.6h0M412.5 1144.4h0" stroke="#d0d6e6" stroke-width="10.0" stroke-linecap="round" fill="none"/>
<path d="M437.6 1017.7h0" stroke="#e4e2e0" stroke-width="11.0" stroke-linecap="round" fill="none"/>
<path d="M459.3 1044.0h0M401.6 1029.2h0" stroke="#d8dce8" stroke-width="7.0" stroke-linecap="round" fill="none"/>
<path d="M378.7 1083.2h0M343.9 1127.7h0" stroke="#e4e2e0" stroke-width="9.0" stroke-linecap="round" fill="none"/>
<path d="M467.8 1089.5h0M368.1 1122.7h0M402.7 1077.8h0M436.0 1072.0h0" stroke="#d8dce8" stroke-width="11.0" stroke-linecap="round" fill="none"/>
<path d="M384.1 1066.1h0" stroke="#e4e2e0" stroke-width="8.5" stroke-linecap="round" fill="none"/>
<path d="M404.2 1062.9h0M331.0 1129.4h0" stroke="#d0d6e6" stroke-width="8.0" stroke-linecap="round" fill="none"/>
<path d="M454.3 1111.9h0M435.1 1024.9h0" stroke="#e4e2e0" stroke-width="10.5" stroke-linecap="round" fill="none"/>
<path d="M440.3 1101.0h0M404.3 1154.8h0" stroke="#d0d6e6" stroke-width="6.0" stroke-linecap="round" fill="none"/>
<path d="M312.7 1007.2h0M355.9 1153.6h0M362.2 1122.2h0M401.6 1069.4h0M484.1 1005.3h0M297.5 1135.1h0M316.6 1153.3h0M323.3 1138.0h0M462.4 1104.7h0M422.2 1050.4h0M330.0 1137.9h0M319.1 1118.6h0" stroke="#e8c0a0" stroke-width="5.0" stroke-linecap="round" fill="none"/>
<path d="M413.4 1100.6h0M324.4 1135.0h0M422.4 1137.0h0M427.0 1142.0h0M331.4 1023.5h0M297.6 1096.8h0M388.8 1098.6h0M343.1 1023.9h0M319.4 1108.1h0M451.1 1025.0h0M316.4 1083.8h0M411.6 1136.9h0M453.7 1085.7h0M369.4 1134.8h0M461.9 1043.9h0M327.4 1127.0h0M302.2 1104.7h0M360.8 1084.3h0M311.2 1040.9h0" stroke="#cc8656" stroke-width="7.0" stroke-linecap="round" fill="none"/>
<path d="M307.6 1136.9h0M433.2 1046.7h0M346.3 1141.6h0M322.7 1093.1h0M352.3 1017.2h0M376.8 1110.4h0M394.8 1020.5h0M302.0 1109.9h0M476.2 1110.2h0M452.9 1050.4h0M399.5 1065.4h0M312.4 1019.3h0M445.7 1014.8h0M458.2 1076.5h0M310.8 1016.1h0M374.4 1141.9h0M377.1 1137.4h0" stroke="#e8c0a0" stroke-width="7.0" stroke-linecap="round" fill="none"/>
<path d="M423.1 1117.0h0M319.2 1035.0h0M441.6 1133.8h0M450.1 1089.7h0M318.6 1120.0h0M353.0 1019.3h0M479.0 1100.9h0M435.6 1097.0h0M324.3 1071.0h0M372.8 1048.6h0M433.4 1083.5h0M457.8 1074.9h0M322.1 1108.0h0M434.0 1103.8h0M489.3 1129.4h0M429.6 1129.8h0M361.1 1124.7h0" stroke="#d49262" stroke-width="5.0" stroke-linecap="round" fill="none"/>
<path d="M395.6 1011.9h0M415.9 1108.5h0M381.3 1116.8h0M399.5 1096.5h0M419.6 1113.0h0M448.3 1072.2h0M398.4 1057.5h0M350.2 1046.0h0M344.0 1133.4h0M487.1 1139.8h0M364.8 1045.1h0M364.9 1024.0h0M313.3 1036.4h0M436.3 1103.0h0M361.2 1040.9h0" stroke="#e2b088" stroke-width="5.0" stroke-linecap="round" fill="none"/>
<path d="M420.9 1052.7h0M438.6 1038.7h0M357.2 1055.3h0M452.1 1088.0h0M412.3 1002.2h0M402.5 1045.7h0M337.4 1129.4h0M426.8 1089.1h0M462.8 1146.6h0M461.8 1124.6h0M335.1 1105.6h0M452.7 1115.6h0M407.1 1134.6h0M288.8 1094.1h0M479.6 1118.7h0M308.8 1058.9h0M371.6 1043.5h0M338.7 1019.8h0M472.3 1090.6h0M425.7 1036.9h0M309.7 1101.2h0M357.9 1069.6h0M458.5 1031.0h0M412.9 1100.3h0" stroke="#dca070" stroke-width="5.0" stroke-linecap="round" fill="none"/>
<path d="M460.0 1102.6h0M302.5 1044.3h0M405.0 1056.7h0M427.5 1073.4h0M334.1 1142.0h0M341.4 1030.0h0M461.3 1072.4h0M407.6 1112.9h0M390.0 1101.3h0M381.6 1105.1h0M372.3 1057.3h0M351.8 1042.0h0M323.4 1057.3h0M459.6 1125.5h0M400.0 1052.9h0M305.8 1120.8h0" stroke="#d49262" stroke-width="4.5" stroke-linecap="round" fill="none"/>
<path d="M488.2 1025.3h0M416.0 1092.3h0M385.4 1078.2h0M447.1 1117.3h0M368.6 1016.8h0M394.3 1017.6h0M440.9 1087.1h0" stroke="#cc8656" stroke-width="8.0" stroke-linecap="round" fill="none"/>
<path d="M434.8 1071.4h0M449.7 1114.0h0M418.6 1054.6h0M323.6 1116.3h0M418.8 1037.8h0M337.2 1023.6h0M361.2 1006.3h0M429.9 1109.4h0M322.4 1133.8h0M385.3 1123.0h0M444.4 1048.1h0M365.3 1083.4h0M316.6 1134.4h0M319.1 1005.3h0M380.1 1139.0h0" stroke="#cc8656" stroke-width="4.0" stroke-linecap="round" fill="none"/>
<path d="M326.2 1100.9h0M396.0 1027.8h0M305.3 1092.7h0M355.6 1066.0h0M297.0 1157.1h0M397.1 1102.7h0M481.2 1026.4h0M341.6 1129.9h0M391.6 1014.9h0M332.8 1055.2h0M404.5 1058.6h0M312.9 1071.0h0M489.6 1102.7h0M389.8 1055.6h0M425.8 1034.6h0M365.0 1131.3h0M318.1 1087.7h0M463.7 1147.0h0M387.1 1121.1h0" stroke="#d49262" stroke-width="6.0" stroke-linecap="round" fill="none"/>
<path d="M474.7 1038.3h0M357.7 1087.9h0M406.7 1143.3h0M330.5 1099.6h0M375.8 1058.9h0M427.0 1103.5h0M358.7 1091.5h0M299.1 1131.2h0M419.1 1108.6h0M333.2 1139.7h0M369.7 1022.0h0M425.5 1023.8h0M490.7 1097.3h0M400.5 1016.9h0M374.0 1131.3h0M359.9 1023.3h0M427.6 1107.9h0M430.1 1013.0h0" stroke="#e2b088" stroke-width="4.5" stroke-linecap="round" fill="none"/>
<path d="M312.8 1156.3h0M433.9 1037.5h0M347.2 1031.8h0M339.5 1029.4h0M363.8 1087.4h0M353.1 1149.8h0M441.9 1152.3h0M375.1 1107.7h0M355.7 1134.4h0M337.8 1026.7h0M467.2 1112.9h0M446.9 1113.0h0M365.2 1149.5h0" stroke="#cc8656" stroke-width="4.5" stroke-linecap="round" fill="none"/>
<path d="M367.2 1027.9h0M475.4 1140.7h0M475.7 1075.5h0M320.0 1130.5h0M288.2 1073.1h0M484.8 1147.8h0M445.0 1087.4h0M353.2 1024.8h0M464.8 1039.2h0M336.2 1052.0h0M322.4 1102.1h0M441.5 1114.4h0M380.4 1019.0h0M471.4 1072.4h0M347.1 1028.3h0M482.5 1101.8h0M476.3 1094.9h0M445.4 1066.9h0" stroke="#e8c0a0" stroke-width="4.0" stroke-linecap="round" fill="none"/>
<path d="M421.9 1019.7h0M421.5 1103.9h0M419.4 1088.1h0M464.7 1026.1h0M448.2 1015.5h0M302.1 1093.9h0M410.3 1120.6h0M326.5 1025.1h0M469.2 1136.5h0" stroke="#dca070" stroke-width="6.5" stroke-linecap="round" fill="none"/>
<path d="M360.7 1064.0h0M349.2 1022.5h0M463.4 1098.1h0M403.6 1120.3h0" stroke="#dca070" stroke-width="3.5" stroke-linecap="round" fill="none"/>
<path d="M373.0 1060.5h0M304.7 1036.4h0M343.4 1114.3h0M316.4 1111.8h0M375.9 1124.6h0M481.1 1136.6h0M344.5 1030.6h0M464.6 1082.2h0M394.9 1122.0h0M484.7 1149.3h0M295.6 1077.1h0M411.8 1105.9h0M472.8 1115.2h0M297.1 1023.1h0" stroke="#cc8656" stroke-width="5.0" stroke-linecap="round" fill="none"/>
<path d="M378.4 1037.1h0M328.7 1087.4h0M384.0 1009.3h0M341.9 1038.9h0M439.2 1075.8h0M447.9 1066.4h0M395.5 1040.2h0M465.1 1149.2h0M398.6 1031.9h0M350.2 1018.6h0M372.4 1151.8h0" stroke="#d49262" stroke-width="7.5" stroke-linecap="round" fill="none"/>
<path d="M457.4 1154.3h0M348.7 1048.7h0M363.3 1109.6h0M409.5 1095.0h0M404.4 1034.2h0M316.8 1128.9h0M357.5 1156.8h0M384.2 1054.7h0M338.3 1124.8h0M423.5 1068.6h0M404.4 1074.8h0M321.1 1097.2h0M386.9 1074.1h0M441.8 1110.0h0M352.0 1126.3h0" stroke="#dca070" stroke-width="7.0" stroke-linecap="round" fill="none"/>
<path d="M424.4 1150.7h0M403.8 1102.7h0M419.8 1110.1h0M448.0 1112.6h0M348.2 1026.4h0M376.0 1061.6h0M314.0 1094.9h0M432.5 1129.0h0M453.1 1103.3h0M369.6 1024.5h0M321.7 1033.3h0M320.9 1010.1h0M478.6 1120.4h0M328.2 1027.7h0M486.6 1086.8h0M470.1 1071.6h0" stroke="#dca070" stroke-width="6.0" stroke-linecap="round" fill="none"/>
<path d="M473.9 1116.6h0M451.0 1027.3h0M431.0 1050.8h0M469.5 1046.9h0M331.6 1127.1h0M431.4 1086.9h0M350.6 1027.4h0M381.6 1038.3h0M348.5 1141.2h0M345.9 1021.1h0M402.7 1018.7h0" stroke="#e8c0a0" stroke-width="5.5" stroke-linecap="round" fill="none"/>
<path d="M459.3 1084.2h0M426.2 1099.8h0M350.8 1113.1h0M378.6 1136.3h0M451.7 1071.9h0M311.8 1019.6h0M390.2 1113.0h0M476.1 1093.4h0M370.1 1028.8h0M437.1 1100.5h0M393.6 1123.3h0M330.6 1126.8h0M319.9 1100.8h0M329.9 1074.0h0M328.6 1108.3h0M489.7 1106.0h0M399.7 1057.5h0" stroke="#cc8656" stroke-width="7.5" stroke-linecap="round" fill="none"/>
<path d="M330.4 1133.8h0M437.9 1113.4h0M446.4 1103.1h0M377.3 1032.4h0M401.2 1032.6h0M424.9 1060.5h0M352.5 1064.1h0M344.5 1023.0h0M317.1 1154.7h0M333.1 1137.1h0M421.0 1020.6h0M292.2 1007.0h0M322.0 1007.3h0M425.8 1064.4h0M308.1 1126.0h0M467.4 1156.5h0M314.3 1094.4h0M346.4 1047.1h0M396.6 1038.2h0M374.0 1114.1h0" stroke="#d49262" stroke-width="5.5" stroke-linecap="round" fill="none"/>
<path d="M357.8 1151.6h0M395.9 1066.4h0M483.4 1010.0h0M346.8 1093.6h0M451.8 1048.4h0M351.7 1090.4h0M391.0 1088.9h0" stroke="#dca070" stroke-width="5.5" stroke-linecap="round" fill="none"/>
<path d="M436.1 1053.5h0M349.0 1059.8h0M289.1 1027.7h0M371.1 1115.8h0M449.0 1075.0h0M454.2 1151.5h0M476.5 1015.0h0M483.6 1084.8h0M408.1 1112.2h0M329.8 1096.6h0" stroke="#dca070" stroke-width="4.5" stroke-linecap="round" fill="none"/>
<path d="M311.6 1032.5h0M302.6 1136.3h0M434.1 1089.2h0M456.5 1134.5h0M311.7 1063.2h0M325.8 1157.4h0M474.6 1062.6h0M392.5 1073.3h0M360.4 1086.2h0M366.4 1118.0h0M344.6 1104.2h0M352.2 1120.7h0M298.0 1079.7h0M394.1 1071.3h0M462.5 1118.8h0M468.1 1076.0h0M344.5 1029.2h0M334.8 1103.7h0M327.3 1091.7h0" stroke="#cc8656" stroke-width="6.0" stroke-linecap="round" fill="none"/>
<path d="M418.7 1009.8h0M465.7 1070.7h0M478.1 1136.0h0M409.4 1008.4h0M349.9 1041.9h0M402.9 1019.2h0M309.3 1115.2h0M316.0 1153.1h0M483.1 1131.0h0M401.5 1093.6h0M465.5 1129.3h0M323.4 1106.4h0M354.9 1057.0h0M342.9 1017.2h0" stroke="#dca070" stroke-width="7.5" stroke-linecap="round" fill="none"/>
<path d="M428.7 1009.4h0M354.2 1120.7h0M418.6 1072.8h0M483.6 1124.9h0M304.4 1096.5h0M403.1 1120.1h0M326.1 1135.0h0M363.1 1023.0h0M446.9 1128.5h0M304.1 1025.1h0" stroke="#d49262" stroke-width="7.0" stroke-linecap="round" fill="none"/>
<path d="M479.4 1068.7h0M355.5 1020.8h0M486.5 1091.5h0M353.0 1143.9h0M411.0 1050.1h0M392.3 1121.2h0" stroke="#dca070" stroke-width="8.0" stroke-linecap="round" fill="none"/>
<path d="M454.5 1109.7h0M291.0 1012.0h0M451.5 1144.1h0M482.9 1075.0h0M337.4 1141.4h0M331.4 1042.4h0M331.1 1075.9h0M358.2 1041.5h0M397.6 1054.3h0M453.1 1132.2h0M363.2 1133.0h0M322.5 1002.4h0M405.3 1077.6h0M314.1 1114.4h0" stroke="#e2b088" stroke-width="5.5" stroke-linecap="round" fill="none"/>
<path d="M428.2 1157.6h0M459.8 1022.4h0M357.4 1150.0h0M321.2 1070.5h0M480.6 1116.8h0M434.6 1051.1h0M422.3 1069.0h0M481.6 1127.1h0M311.0 1105.5h0M376.0 1147.4h0M299.2 1118.6h0M424.2 1093.0h0M426.2 1090.8h0M355.5 1020.1h0M330.5 1115.8h0M426.6 1017.4h0" stroke="#e8c0a0" stroke-width="7.5" stroke-linecap="round" fill="none"/>
<path d="M298.4 1147.7h0M327.6 1014.6h0M337.2 1038.7h0M386.2 1073.6h0M489.1 1062.8h0M301.4 1147.5h0M448.3 1046.6h0M335.3 1025.8h0M309.8 1066.3h0M342.2 1137.0h0M326.3 1129.4h0M323.0 1051.1h0M287.2 1139.8h0M478.4 1068.4h0M476.2 1008.9h0M309.9 1026.3h0M317.0 1131.7h0M455.1 1057.7h0M467.6 1144.1h0M358.4 1016.9h0M394.9 1045.9h0" stroke="#e2b088" stroke-width="7.5" stroke-linecap="round" fill="none"/>
<path d="M484.6 1091.9h0M359.4 1141.5h0M400.1 1037.5h0M299.8 1132.1h0M435.2 1095.3h0M397.1 1088.7h0M316.8 1052.8h0M370.3 1134.6h0M366.9 1127.4h0M293.9 1154.7h0M334.2 1093.4h0M454.4 1149.9h0M454.1 1150.8h0M345.6 1050.5h0M485.8 1021.3h0" stroke="#e2b088" stroke-width="8.0" stroke-linecap="round" fill="none"/>
<path d="M304.9 1023.5h0M371.6 1036.0h0M471.5 1137.3h0M482.4 1066.0h0M338.3 1049.7h0M475.2 1139.2h0M333.9 1142.8h0M446.9 1103.8h0M393.8 1041.0h0M456.1 1008.8h0M398.0 1122.8h0M357.3 1147.0h0" stroke="#d49262" stroke-width="4.0" stroke-linecap="round" fill="none"/>
<path d="M415.7 1012.4h0M442.3 1050.0h0M416.5 1127.0h0M369.5 1007.2h0M340.4 1033.7h0M329.1 1053.4h0M433.1 1065.6h0M415.0 1083.8h0M409.6 1072.7h0M485.0 1008.3h0M369.3 1023.9h0M351.8 1088.8h0M328.0 1052.4h0M372.5 1065.3h0M417.2 1099.3h0" stroke="#e2b088" stroke-width="7.0" stroke-linecap="round" fill="none"/>
<path d="M449.7 1085.3h0M442.1 1070.8h0M404.0 1106.2h0M303.4 1098.0h0M393.6 1058.5h0M334.4 1023.9h0M439.3 1078.2h0M381.1 1038.0h0M292.6 1091.8h0M315.5 1151.9h0M408.8 1145.3h0M421.4 1086.1h0M479.8 1102.7h0M372.1 1012.8h0" stroke="#e8c0a0" stroke-width="6.0" stroke-linecap="round" fill="none"/>
<path d="M359.9 1123.5h0M357.0 1091.5h0M422.7 1150.8h0M385.1 1070.5h0M316.7 1095.2h0M463.6 1153.4h0M410.1 1062.1h0M407.2 1078.4h0" stroke="#e2b088" stroke-width="3.5" stroke-linecap="round" fill="none"/>
<path d="M323.9 1013.0h0M437.9 1027.2h0M371.9 1105.7h0M290.6 1143.5h0M320.2 1114.0h0M479.8 1095.9h0M318.4 1132.4h0M324.6 1101.2h0M457.0 1077.7h0" stroke="#e2b088" stroke-width="6.0" stroke-linecap="round" fill="none"/>
<path d="M450.8 1094.8h0M481.1 1152.5h0M313.0 1033.5h0M465.4 1135.0h0M385.3 1045.6h0M430.6 1016.1h0M434.2 1136.0h0M326.8 1125.3h0M431.4 1095.4h0M399.5 1014.9h0M408.8 1008.8h0M341.9 1041.4h0M380.7 1084.4h0M380.7 1099.9h0M472.3 1129.3h0M345.5 1020.9h0M386.4 1116.9h0" stroke="#e8c0a0" stroke-width="4.5" stroke-linecap="round" fill="none"/>
<path d="M477.3 1057.1h0M350.1 1013.9h0M359.7 1029.2h0M352.6 1073.6h0M424.1 1098.0h0M290.0 1116.5h0M338.1 1060.2h0M475.5 1114.8h0M432.3 1057.7h0M356.3 1110.6h0M440.3 1079.4h0" stroke="#cc8656" stroke-width="5.5" stroke-linecap="round" fill="none"/>
<path d="M356.4 1074.9h0M453.1 1021.6h0M345.5 1013.0h0M454.4 1024.7h0M361.0 1096.8h0M399.5 1074.6h0M386.9 1063.1h0M364.8 1082.8h0M399.4 1122.3h0M403.6 1079.9h0M324.3 1118.1h0M437.1 1129.4h0M316.3 1097.9h0M312.9 1082.1h0M441.5 1080.7h0M419.3 1062.9h0M445.7 1072.3h0M376.4 1084.9h0" stroke="#cc8656" stroke-width="6.5" stroke-linecap="round" fill="none"/>
<path d="M383.6 1044.0h0M359.4 1095.8h0M488.5 1052.5h0M316.6 1128.7h0M333.7 1124.4h0M302.1 1091.1h0M305.2 1111.6h0M338.9 1098.7h0M450.2 1095.4h0M398.3 1097.5h0M397.7 1097.6h0M423.0 1043.0h0M362.0 1071.6h0M295.9 1050.7h0M409.9 1057.9h0M322.2 1091.5h0M295.9 1003.8h0M375.5 1087.0h0M465.0 1067.0h0" stroke="#e2b088" stroke-width="4.0" stroke-linecap="round" fill="none"/>
<path d="M410.8 1116.8h0M415.9 1058.3h0M349.2 1134.4h0M459.4 1085.1h0M408.8 1093.1h0M292.8 1135.5h0M459.4 1141.3h0M307.3 1077.4h0M359.2 1015.7h0M286.5 1049.7h0" stroke="#e8c0a0" stroke-width="6.5" stroke-linecap="round" fill="none"/>
<path d="M299.5 1149.7h0M485.9 1122.9h0M389.8 1097.0h0M461.2 1078.6h0M333.7 1127.9h0M415.8 1104.7h0" stroke="#d49262" stroke-width="8.0" stroke-linecap="round" fill="none"/>
<path d="M463.5 1124.7h0M432.5 1042.5h0M446.8 1069.1h0M306.9 1074.0h0M389.2 1034.6h0M418.6 1052.8h0M337.2 1041.4h0M313.4 1026.0h0M471.6 1143.8h0M317.5 1030.8h0M334.3 1128.3h0M367.3 1123.5h0" stroke="#dca070" stroke-width="4.0" stroke-linecap="round" fill="none"/>
<path d="M419.6 1061.9h0M393.3 1126.0h0M362.3 1116.5h0M296.7 1006.7h0M482.7 1154.7h0" stroke="#e8c0a0" stroke-width="8.0" stroke-linecap="round" fill="none"/>
<path d="M409.3 1005.4h0M482.4 1097.5h0M402.5 1063.2h0M361.7 1104.6h0M379.2 1091.7h0M349.0 1057.7h0M412.7 1113.1h0M367.2 1028.7h0M372.2 1014.8h0M404.0 1012.0h0M392.3 1073.9h0M481.8 1106.4h0" stroke="#e2b088" stroke-width="6.5" stroke-linecap="round" fill="none"/>
<path d="M398.8 1119.4h0M327.3 1111.7h0M360.4 1028.7h0M359.0 1049.3h0M375.2 1083.2h0" stroke="#cc8656" stroke-width="3.5" stroke-linecap="round" fill="none"/>
<path d="M318.5 1045.8h0M430.6 1145.5h0M394.5 1074.7h0M352.3 1048.3h0M468.3 1127.4h0M395.6 1123.7h0M321.2 1080.3h0M425.7 1027.8h0M403.2 1126.8h0M418.0 1072.7h0M428.5 1005.6h0M320.2 1095.9h0M470.4 1079.0h0M447.9 1145.2h0" stroke="#d49262" stroke-width="6.5" stroke-linecap="round" fill="none"/>
<path d="M490.3 1076.6h0M468.0 1008.4h0M481.0 1142.3h0" stroke="#d49262" stroke-width="3.5" stroke-linecap="round" fill="none"/>
<path d="M436.4 1124.2h0" stroke="#e8c0a0" stroke-width="3.5" stroke-linecap="round" fill="none"/>
<path d="M406.1 1081.9h0M359.5 1105.6h0M452.8 1094.5h0M376.4 1052.1h0M335.6 1063.2h0M453.5 1119.7h0M423.0 1110.2h0M472.7 1129.5h0M410.9 1006.5h0M483.9 1136.7h0M392.6 1093.6h0M313.8 1155.0h0M473.5 1141.1h0M490.9 1135.3h0M441.1 1081.5h0" stroke="#bc7440" stroke-width="4.0" stroke-linecap="round" fill="none"/>
<path d="M350.4 1030.9h0M338.8 1156.7h0M371.2 1070.9h0M481.0 1082.7h0M340.2 1116.6h0M405.9 1062.2h0M349.5 1098.7h0M472.9 1114.2h0M347.3 1077.6h0M345.6 1144.8h0M431.5 1117.0h0M429.4 1121.2h0M443.2 1144.7h0" stroke="#c4804a" stroke-width="3.5" stroke-linecap="round" fill="none"/>
<path d="M356.2 1032.9h0M438.2 1115.8h0M364.7 1089.1h0M334.8 1105.5h0M357.0 1133.1h0M285.3 1107.7h0M482.7 1014.0h0M457.6 1119.2h0M399.2 1036.6h0M304.3 1149.8h0M386.0 1043.1h0M382.4 1071.9h0" stroke="#bc7440" stroke-width="2.5" stroke-linecap="round" fill="none"/>
<path d="M375.6 1123.5h0M475.0 1083.9h0M412.1 1059.7h0M334.4 1124.5h0M334.9 1083.7h0M437.4 1114.8h0M369.3 1060.5h0" stroke="#bc7440" stroke-width="4.5" stroke-linecap="round" fill="none"/>
<path d="M428.0 1081.6h0M404.4 1147.7h0M380.6 1051.2h0M291.8 1043.8h0M354.1 1086.1h0M435.3 1097.6h0M363.0 1109.2h0M402.9 1086.9h0" stroke="#b06634" stroke-width="3.5" stroke-linecap="round" fill="none"/>
<path d="M364.2 1030.8h0M413.3 1042.0h0M469.8 1005.8h0M315.6 1021.7h0M363.0 1029.1h0M350.3 1091.9h0M336.4 1133.6h0M438.1 1125.6h0M386.2 1084.2h0" stroke="#b06634" stroke-width="4.5" stroke-linecap="round" fill="none"/>
<path d="M483.0 1130.7h0M327.7 1126.4h0M344.1 1046.1h0M481.3 1145.8h0M343.8 1128.1h0M402.4 1069.7h0M412.2 1099.9h0M380.4 1043.2h0M343.5 1057.3h0M289.4 1102.3h0M373.5 1111.1h0M468.3 1092.2h0M460.1 1086.0h0M472.3 1087.1h0M441.6 1125.3h0M300.0 1132.9h0M360.8 1041.4h0" stroke="#b06634" stroke-width="3.0" stroke-linecap="round" fill="none"/>
<path d="M350.2 1069.3h0M336.2 1140.6h0M385.1 1067.1h0M370.7 1043.7h0M353.2 1103.0h0M406.1 1032.2h0M343.8 1050.3h0M328.3 1137.9h0M318.4 1126.5h0M449.4 1064.8h0M432.4 1060.7h0M438.9 1062.7h0M453.5 1031.2h0M319.0 1153.2h0M395.2 1030.9h0M431.7 1116.0h0" stroke="#c4804a" stroke-width="3.0" stroke-linecap="round" fill="none"/>
<path d="M317.0 1136.8h0M341.0 1148.3h0M302.5 1072.2h0M461.4 1108.7h0M449.3 1123.7h0M401.9 1054.6h0M398.8 1123.2h0M441.6 1075.5h0M451.2 1157.2h0M480.2 1128.4h0M455.0 1102.2h0" stroke="#b06634" stroke-width="5.0" stroke-linecap="round" fill="none"/>
<path d="M349.4 1061.6h0M361.1 1004.1h0M385.8 1045.6h0" stroke="#c4804a" stroke-width="5.0" stroke-linecap="round" fill="none"/>
<path d="M395.5 1009.5h0M338.2 1153.5h0M383.3 1036.0h0M290.9 1115.5h0M327.5 1073.7h0M460.9 1094.4h0M451.4 1002.6h0M300.0 1146.8h0M424.6 1010.5h0M381.0 1115.3h0M340.2 1101.0h0M299.1 1109.6h0M384.0 1010.7h0M421.4 1027.0h0" stroke="#b06634" stroke-width="4.0" stroke-linecap="round" fill="none"/>
<path d="M348.7 1132.1h0M315.0 1155.7h0M450.0 1086.5h0M432.6 1099.2h0M300.0 1006.2h0M409.2 1076.1h0M320.5 1081.5h0M325.3 1073.4h0M480.9 1044.3h0M460.6 1132.0h0M366.8 1020.3h0" stroke="#bc7440" stroke-width="3.5" stroke-linecap="round" fill="none"/>
<path d="M337.2 1050.2h0M464.3 1099.5h0M288.1 1134.2h0M303.3 1146.2h0M349.0 1103.5h0M336.8 1028.1h0M402.0 1071.6h0M408.5 1116.0h0M316.4 1036.2h0" stroke="#bc7440" stroke-width="5.0" stroke-linecap="round" fill="none"/>
<path d="M291.7 1046.8h0M417.1 1074.4h0M440.7 1141.3h0M401.5 1094.2h0M317.2 1090.6h0M331.5 1155.3h0M475.7 1006.0h0M426.1 1070.4h0M349.1 1034.1h0M476.4 1082.1h0" stroke="#c4804a" stroke-width="2.5" stroke-linecap="round" fill="none"/>
<path d="M343.0 1106.5h0M381.0 1073.3h0M457.5 1089.4h0M393.6 1067.7h0M443.8 1091.8h0M393.4 1078.5h0M385.2 1099.1h0M325.1 1083.4h0M345.9 1117.0h0" stroke="#c4804a" stroke-width="4.5" stroke-linecap="round" fill="none"/>
<path d="M466.7 1078.9h0M464.1 1056.6h0M460.1 1077.7h0M344.3 1077.4h0M446.1 1109.3h0M463.8 1060.7h0M327.9 1082.1h0" stroke="#bc7440" stroke-width="3.0" stroke-linecap="round" fill="none"/>
<path d="M343.5 1105.9h0M376.1 1109.8h0M350.7 1153.0h0M286.2 1144.0h0M424.4 1009.1h0M357.2 1058.1h0M375.2 1018.5h0M469.4 1110.7h0M286.0 1141.7h0M359.8 1042.6h0M347.0 1142.2h0M315.5 1156.3h0" stroke="#c4804a" stroke-width="4.0" stroke-linecap="round" fill="none"/>
<path d="M373.5 1029.3h0M409.2 1049.9h0M398.1 1153.4h0" stroke="#b06634" stroke-width="2.0" stroke-linecap="round" fill="none"/>
<path d="M355.9 1018.4h0M402.3 1048.7h0M309.1 1117.2h0M464.3 1111.8h0M484.8 1071.6h0M442.5 1104.6h0M305.9 1127.8h0M302.9 1058.0h0" stroke="#b06634" stroke-width="2.5" stroke-linecap="round" fill="none"/>
<path d="M419.3 1014.6h0M342.0 1012.9h0M320.8 1086.1h0M397.5 1118.4h0M422.3 1085.1h0" stroke="#bc7440" stroke-width="2.0" stroke-linecap="round" fill="none"/>
<path d="M286.5 1140.0h0" stroke="#c4804a" stroke-width="2.0" stroke-linecap="round" fill="none"/>
<path d="M489.4 1104.3h0M340.1 1106.4h0M313.6 1108.5h0" stroke="#bcc0dc" stroke-width="6.0" stroke-linecap="round" fill="none"/>
<path d="M412.8 1117.0h0M303.2 1055.8h0M343.1 1066.3h0" stroke="#b0b4d4" stroke-width="6.0" stroke-linecap="round" fill="none"/>
<path d="M287.2 1131.2h0M376.5 1113.0h0M303.1 1084.3h0M471.3 1086.5h0M424.7 1112.6h0M343.5 1093.6h0M328.7 1130.8h0" stroke="#b0b4d4" stroke-width="4.0" stroke-linecap="round" fill="none"/>
<path d="M305.3 1081.9h0M399.3 1141.7h0M435.5 1082.5h0M296.9 1143.3h0" stroke="#b0b4d4" stroke-width="4.5" stroke-linecap="round" fill="none"/>
<path d="M342.6 1091.6h0M320.3 1111.5h0M438.7 1143.6h0M383.0 1092.3h0" stroke="#b0b4d4" stroke-width="3.5" stroke-linecap="round" fill="none"/>
<path d="M409.3 1027.0h0M313.6 1109.1h0M317.6 1089.4h0M480.7 1006.2h0M490.6 1151.4h0M390.6 1051.9h0M389.3 1070.5h0M427.6 1034.9h0M360.0 1016.9h0" stroke="#bcc0dc" stroke-width="5.0" stroke-linecap="round" fill="none"/>
<path d="M419.9 1022.9h0M371.9 1052.8h0M293.6 1018.8h0M318.1 1114.7h0M426.2 1152.7h0M457.7 1129.6h0" stroke="#b0b4d4" stroke-width="5.0" stroke-linecap="round" fill="none"/>
<path d="M410.9 1067.6h0M412.1 1118.4h0M439.7 1028.2h0" stroke="#b0b4d4" stroke-width="5.5" stroke-linecap="round" fill="none"/>
<path d="M354.5 1100.4h0M467.6 1091.2h0" stroke="#bcc0dc" stroke-width="5.5" stroke-linecap="round" fill="none"/>
<path d="M304.2 1064.6h0M392.1 1156.2h0M477.6 1048.9h0M367.6 1150.2h0M434.4 1067.9h0" stroke="#bcc0dc" stroke-width="4.0" stroke-linecap="round" fill="none"/>
<path d="M325.9 1109.2h0M290.6 1049.3h0M425.0 1026.9h0M444.5 1086.4h0" stroke="#bcc0dc" stroke-width="4.5" stroke-linecap="round" fill="none"/>
<path d="M384.1 1037.1h0" stroke="#9a4420" stroke-width="5.0" stroke-linecap="round" fill="none"/>
<path d="M400.5 1076.2h0M421.3 1020.4h0M442.8 1080.2h0" stroke="#8a3a1a" stroke-width="4.0" stroke-linecap="round" fill="none"/>
<path d="M455.9 1085.2h0" stroke="#8a3a1a" stroke-width="3.5" stroke-linecap="round" fill="none"/>
<path d="M354.1 1132.6h0M457.6 1130.5h0" stroke="#8a3a1a" stroke-width="5.0" stroke-linecap="round" fill="none"/>
<path d="M445.0 1018.0h0" stroke="#9a4420" stroke-width="5.5" stroke-linecap="round" fill="none"/>
<path d="M485.4 1150.6h0M319.0 1131.4h0" stroke="#9a4420" stroke-width="3.5" stroke-linecap="round" fill="none"/>
<path d="M390.3 1080.4h0M439.2 1046.3h0" stroke="#8a3a1a" stroke-width="5.5" stroke-linecap="round" fill="none"/>
<path d="M458.9 1148.0h0" stroke="#8a3a1a" stroke-width="4.5" stroke-linecap="round" fill="none"/>
<path d="M317.9 1044.2h0" stroke="#9a4420" stroke-width="4.5" stroke-linecap="round" fill="none"/>

</g>
</g>
<rect x="311.8" y="1104.2" width="27.7" height="5.8" fill="#000"/>
<clipPath id="hc5"><rect x="68" y="1170" width="201" height="150"/></clipPath>
<g clip-path="url(#hc5)"><rect x="68" y="1170" width="201" height="150" fill="#eeeae6"/>
<g filter="url(#bl5)">

<path d="M144.2 1295.3h0M165.9 1221.3h0" stroke="#e2dee4" stroke-width="9.5" stroke-linecap="round" fill="none"/>
<path d="M261.6 1222.9h0M229.6 1246.2h0M76.5 1312.6h0M115.3 1315.9h0" stroke="#e2dee4" stroke-width="9.0" stroke-linecap="round" fill="none"/>
<path d="M257.8 1167.9h0M182.7 1259.5h0M111.1 1182.8h0M147.0 1275.0h0M237.6 1297.3h0" stroke="#eae4e0" stroke-width="12.5" stroke-linecap="round" fill="none"/>
<path d="M78.1 1305.3h0M138.0 1225.8h0M262.1 1230.2h0M260.8 1189.8h0" stroke="#e2dee4" stroke-width="14.0" stroke-linecap="round" fill="none"/>
<path d="M197.4 1168.0h0M102.6 1200.1h0M121.4 1236.7h0" stroke="#e6e2e0" stroke-width="7.0" stroke-linecap="round" fill="none"/>
<path d="M196.6 1275.0h0M238.9 1312.8h0M261.1 1318.0h0M90.5 1173.6h0M102.0 1220.7h0M125.8 1175.7h0" stroke="#ded8e0" stroke-width="10.5" stroke-linecap="round" fill="none"/>
<path d="M106.5 1183.0h0M160.5 1279.8h0M176.3 1174.4h0M77.4 1224.1h0M270.5 1272.5h0" stroke="#ded8e0" stroke-width="11.5" stroke-linecap="round" fill="none"/>
<path d="M240.4 1190.3h0M138.3 1185.5h0M252.5 1197.8h0M185.9 1298.8h0M129.8 1252.3h0M227.5 1307.6h0" stroke="#e2dee4" stroke-width="11.5" stroke-linecap="round" fill="none"/>
<path d="M99.4 1299.9h0M125.0 1314.5h0" stroke="#ded8e0" stroke-width="14.0" stroke-linecap="round" fill="none"/>
<path d="M218.2 1262.6h0M175.5 1256.8h0M266.3 1193.4h0M81.5 1223.6h0M234.6 1238.2h0M141.1 1273.2h0M136.4 1168.0h0" stroke="#ded8e0" stroke-width="6.5" stroke-linecap="round" fill="none"/>
<path d="M135.5 1271.6h0M244.8 1209.8h0" stroke="#eae4e0" stroke-width="8.0" stroke-linecap="round" fill="none"/>
<path d="M238.5 1232.1h0M188.4 1295.8h0M239.0 1167.3h0" stroke="#e6e2e0" stroke-width="7.5" stroke-linecap="round" fill="none"/>
<path d="M265.0 1206.9h0M221.6 1286.2h0M256.7 1264.9h0M236.0 1178.7h0M133.1 1308.9h0M69.0 1201.4h0M219.3 1224.9h0M103.3 1262.7h0M100.0 1311.7h0" stroke="#e2dee4" stroke-width="8.5" stroke-linecap="round" fill="none"/>
<path d="M106.7 1168.6h0M93.8 1278.5h0M136.2 1311.7h0" stroke="#eae4e0" stroke-width="9.5" stroke-linecap="round" fill="none"/>
<path d="M264.9 1244.8h0M197.8 1306.3h0M99.3 1272.9h0M164.4 1219.2h0M124.9 1218.5h0M204.9 1272.6h0M175.2 1192.6h0" stroke="#eae4e0" stroke-width="6.5" stroke-linecap="round" fill="none"/>
<path d="M261.9 1313.6h0M206.6 1298.9h0M205.5 1183.7h0M204.9 1215.6h0M216.4 1181.7h0M108.5 1277.1h0M68.9 1193.6h0" stroke="#eae4e0" stroke-width="11.5" stroke-linecap="round" fill="none"/>
<path d="M83.9 1317.0h0M99.7 1241.4h0M140.5 1268.6h0M162.2 1189.8h0M69.5 1223.6h0" stroke="#e6e2e0" stroke-width="12.5" stroke-linecap="round" fill="none"/>
<path d="M118.1 1260.2h0M77.3 1230.9h0M163.6 1213.5h0" stroke="#e6e2e0" stroke-width="13.0" stroke-linecap="round" fill="none"/>
<path d="M111.2 1270.2h0M192.5 1291.9h0M142.9 1215.4h0" stroke="#e2dee4" stroke-width="10.0" stroke-linecap="round" fill="none"/>
<path d="M219.1 1175.3h0M71.1 1306.2h0M84.7 1231.6h0M220.9 1282.0h0M256.0 1184.4h0" stroke="#ded8e0" stroke-width="7.5" stroke-linecap="round" fill="none"/>
<path d="M85.0 1282.5h0M92.9 1187.3h0M147.2 1187.9h0" stroke="#ded8e0" stroke-width="8.0" stroke-linecap="round" fill="none"/>
<path d="M204.5 1236.4h0M87.0 1195.7h0M161.2 1235.9h0M157.4 1252.7h0M137.9 1220.9h0M138.3 1309.9h0" stroke="#eae4e0" stroke-width="7.5" stroke-linecap="round" fill="none"/>
<path d="M88.6 1300.9h0M235.0 1273.6h0M78.8 1176.5h0M153.8 1271.2h0" stroke="#ded8e0" stroke-width="9.5" stroke-linecap="round" fill="none"/>
<path d="M159.4 1264.6h0M80.7 1277.2h0M232.9 1215.6h0" stroke="#eae4e0" stroke-width="11.0" stroke-linecap="round" fill="none"/>
<path d="M136.9 1211.3h0M266.4 1225.1h0M184.2 1238.0h0M251.6 1179.7h0M202.4 1193.8h0M162.6 1251.1h0M149.6 1311.1h0M82.7 1267.7h0M195.9 1261.2h0M97.2 1272.2h0M129.8 1310.6h0M163.0 1168.6h0" stroke="#e2dee4" stroke-width="12.5" stroke-linecap="round" fill="none"/>
<path d="M73.2 1297.3h0" stroke="#e6e2e0" stroke-width="13.5" stroke-linecap="round" fill="none"/>
<path d="M169.4 1291.7h0M182.9 1243.7h0M136.3 1222.8h0M93.2 1274.3h0M160.0 1215.7h0M71.2 1212.6h0M109.0 1199.8h0M146.3 1276.7h0" stroke="#e6e2e0" stroke-width="9.0" stroke-linecap="round" fill="none"/>
<path d="M85.1 1242.3h0M145.7 1271.9h0M261.7 1254.4h0M97.8 1206.3h0M105.8 1283.7h0" stroke="#e6e2e0" stroke-width="6.5" stroke-linecap="round" fill="none"/>
<path d="M110.0 1219.2h0M254.7 1181.9h0M70.0 1181.0h0" stroke="#e6e2e0" stroke-width="12.0" stroke-linecap="round" fill="none"/>
<path d="M163.4 1180.2h0M104.5 1179.4h0M168.8 1231.9h0M239.9 1230.9h0" stroke="#eae4e0" stroke-width="13.0" stroke-linecap="round" fill="none"/>
<path d="M126.1 1233.2h0M199.1 1184.3h0M205.1 1174.2h0" stroke="#e6e2e0" stroke-width="9.5" stroke-linecap="round" fill="none"/>
<path d="M138.8 1238.9h0M242.2 1309.7h0M251.7 1259.7h0M96.2 1192.2h0" stroke="#ded8e0" stroke-width="11.0" stroke-linecap="round" fill="none"/>
<path d="M143.7 1285.0h0M166.4 1168.2h0M241.3 1285.6h0M197.6 1239.6h0M263.2 1270.7h0" stroke="#ded8e0" stroke-width="12.5" stroke-linecap="round" fill="none"/>
<path d="M212.1 1225.2h0M159.4 1232.9h0M173.5 1186.5h0" stroke="#e2dee4" stroke-width="11.0" stroke-linecap="round" fill="none"/>
<path d="M200.6 1203.7h0M250.8 1225.8h0M219.2 1199.8h0M202.1 1273.3h0M136.2 1231.8h0M136.0 1238.9h0M166.0 1291.2h0" stroke="#e6e2e0" stroke-width="11.0" stroke-linecap="round" fill="none"/>
<path d="M244.0 1245.7h0M129.0 1319.1h0M138.2 1283.1h0M152.6 1311.8h0M267.3 1167.5h0M185.0 1194.0h0M155.6 1297.1h0M194.1 1212.3h0M171.3 1207.1h0" stroke="#ded8e0" stroke-width="9.0" stroke-linecap="round" fill="none"/>
<path d="M89.6 1268.6h0M179.4 1264.7h0" stroke="#e6e2e0" stroke-width="6.0" stroke-linecap="round" fill="none"/>
<path d="M132.4 1258.0h0M215.3 1211.8h0M223.5 1211.1h0" stroke="#ded8e0" stroke-width="10.0" stroke-linecap="round" fill="none"/>
<path d="M217.8 1190.4h0M271.2 1266.7h0M152.5 1202.2h0M174.6 1293.6h0M261.1 1227.0h0" stroke="#e2dee4" stroke-width="13.0" stroke-linecap="round" fill="none"/>
<path d="M66.6 1267.1h0M201.8 1253.2h0" stroke="#e6e2e0" stroke-width="14.0" stroke-linecap="round" fill="none"/>
<path d="M217.3 1271.3h0M181.1 1284.6h0M160.3 1298.3h0M227.7 1195.9h0M144.3 1241.4h0M256.0 1186.5h0M217.6 1306.3h0M147.9 1181.5h0" stroke="#e2dee4" stroke-width="7.0" stroke-linecap="round" fill="none"/>
<path d="M83.6 1299.8h0" stroke="#ded8e0" stroke-width="6.0" stroke-linecap="round" fill="none"/>
<path d="M128.4 1180.4h0" stroke="#eae4e0" stroke-width="8.5" stroke-linecap="round" fill="none"/>
<path d="M118.8 1183.5h0M192.1 1268.5h0" stroke="#eae4e0" stroke-width="9.0" stroke-linecap="round" fill="none"/>
<path d="M261.3 1246.9h0M126.9 1186.8h0M185.0 1199.6h0" stroke="#e2dee4" stroke-width="10.5" stroke-linecap="round" fill="none"/>
<path d="M259.0 1294.7h0M262.0 1195.6h0M219.4 1249.1h0M205.8 1313.0h0M233.1 1213.8h0M237.1 1314.7h0" stroke="#e6e2e0" stroke-width="11.5" stroke-linecap="round" fill="none"/>
<path d="M241.6 1181.3h0M106.4 1235.3h0" stroke="#e2dee4" stroke-width="7.5" stroke-linecap="round" fill="none"/>
<path d="M191.0 1311.8h0M135.7 1253.2h0M185.3 1281.8h0" stroke="#ded8e0" stroke-width="13.5" stroke-linecap="round" fill="none"/>
<path d="M89.2 1201.2h0M84.7 1214.7h0M216.1 1189.2h0" stroke="#e6e2e0" stroke-width="8.0" stroke-linecap="round" fill="none"/>
<path d="M156.9 1209.5h0M157.9 1290.1h0M124.2 1295.5h0M152.4 1284.0h0" stroke="#eae4e0" stroke-width="10.0" stroke-linecap="round" fill="none"/>
<path d="M153.2 1266.2h0M90.6 1214.6h0M127.8 1314.7h0" stroke="#ded8e0" stroke-width="8.5" stroke-linecap="round" fill="none"/>
<path d="M145.0 1192.5h0M198.1 1290.8h0M231.1 1221.1h0M123.1 1284.5h0M154.6 1192.9h0M131.7 1308.1h0M89.1 1185.5h0M240.0 1194.1h0" stroke="#eae4e0" stroke-width="13.5" stroke-linecap="round" fill="none"/>
<path d="M173.5 1183.0h0M119.1 1215.2h0" stroke="#e6e2e0" stroke-width="8.5" stroke-linecap="round" fill="none"/>
<path d="M195.3 1267.4h0" stroke="#e2dee4" stroke-width="12.0" stroke-linecap="round" fill="none"/>
<path d="M211.3 1230.1h0M120.4 1212.6h0M266.5 1272.2h0M266.5 1284.7h0" stroke="#e2dee4" stroke-width="8.0" stroke-linecap="round" fill="none"/>
<path d="M242.4 1195.0h0M220.9 1261.4h0M212.6 1209.7h0M189.7 1202.1h0" stroke="#eae4e0" stroke-width="12.0" stroke-linecap="round" fill="none"/>
<path d="M103.8 1173.8h0M228.6 1290.5h0M251.6 1180.4h0M106.1 1281.3h0M136.9 1215.9h0" stroke="#e2dee4" stroke-width="13.5" stroke-linecap="round" fill="none"/>
<path d="M77.2 1223.4h0M219.2 1205.5h0M225.3 1274.5h0M189.4 1193.7h0" stroke="#ded8e0" stroke-width="12.0" stroke-linecap="round" fill="none"/>
<path d="M159.3 1195.2h0" stroke="#eae4e0" stroke-width="7.0" stroke-linecap="round" fill="none"/>
<path d="M199.6 1178.5h0M103.5 1244.2h0" stroke="#e6e2e0" stroke-width="10.5" stroke-linecap="round" fill="none"/>
<path d="M207.6 1315.0h0" stroke="#e2dee4" stroke-width="6.5" stroke-linecap="round" fill="none"/>
<path d="M90.1 1189.5h0" stroke="#ded8e0" stroke-width="7.0" stroke-linecap="round" fill="none"/>
<path d="M213.4 1228.6h0M191.1 1170.0h0" stroke="#e6e2e0" stroke-width="10.0" stroke-linecap="round" fill="none"/>
<path d="M194.4 1195.0h0" stroke="#e2dee4" stroke-width="6.0" stroke-linecap="round" fill="none"/>
<path d="M225.1 1298.4h0M216.2 1203.4h0" stroke="#ded8e0" stroke-width="13.0" stroke-linecap="round" fill="none"/>
<path d="M97.4 1181.2h0" stroke="#eae4e0" stroke-width="6.0" stroke-linecap="round" fill="none"/>
<path d="M262.5 1290.2h0M216.5 1223.3h0" stroke="#eae4e0" stroke-width="14.0" stroke-linecap="round" fill="none"/>
<path d="M224.5 1287.4h0M243.7 1316.4h0M196.1 1197.7h0M98.7 1278.0h0" stroke="#d8cad4" stroke-width="6.0" stroke-linecap="round" fill="none"/>
<path d="M93.2 1307.5h0M240.6 1193.3h0M264.5 1218.9h0" stroke="#d0c4d8" stroke-width="4.0" stroke-linecap="round" fill="none"/>
<path d="M120.4 1236.8h0M191.1 1287.1h0M151.6 1222.0h0M203.1 1190.3h0M241.6 1194.2h0M113.9 1293.5h0" stroke="#dccfd0" stroke-width="5.0" stroke-linecap="round" fill="none"/>
<path d="M202.0 1235.9h0M230.5 1176.8h0M261.2 1249.2h0M204.8 1293.6h0M201.7 1207.4h0M254.2 1304.5h0M204.6 1214.7h0" stroke="#d8cad4" stroke-width="7.5" stroke-linecap="round" fill="none"/>
<path d="M203.0 1196.5h0M126.0 1313.1h0M171.5 1247.9h0M114.0 1296.4h0M69.2 1305.8h0M140.5 1219.0h0M165.9 1167.4h0M215.4 1175.5h0" stroke="#d0c4d8" stroke-width="7.5" stroke-linecap="round" fill="none"/>
<path d="M219.0 1249.4h0M138.2 1216.0h0M269.9 1227.3h0M133.0 1288.6h0M234.0 1277.4h0M205.1 1191.1h0" stroke="#cfc0d2" stroke-width="6.0" stroke-linecap="round" fill="none"/>
<path d="M117.5 1213.2h0M91.7 1225.1h0M104.0 1196.2h0M122.6 1291.1h0M184.4 1288.9h0M136.5 1195.3h0M252.7 1303.7h0M109.2 1271.6h0M190.2 1300.2h0" stroke="#cfc0d2" stroke-width="7.0" stroke-linecap="round" fill="none"/>
<path d="M220.2 1182.2h0M116.9 1321.0h0M89.1 1308.3h0M266.5 1176.3h0" stroke="#d8cad4" stroke-width="5.0" stroke-linecap="round" fill="none"/>
<path d="M239.6 1265.1h0M209.1 1219.3h0M83.2 1196.8h0M118.7 1200.0h0M225.6 1309.6h0" stroke="#dccfd0" stroke-width="7.5" stroke-linecap="round" fill="none"/>
<path d="M152.2 1314.3h0M166.6 1191.1h0M247.9 1184.9h0M233.2 1264.6h0M72.7 1206.3h0M210.7 1211.3h0M239.0 1199.4h0" stroke="#cfc0d2" stroke-width="5.0" stroke-linecap="round" fill="none"/>
<path d="M268.9 1321.7h0M101.4 1300.0h0M171.4 1246.0h0M253.5 1244.7h0M193.7 1283.3h0M177.1 1281.1h0M184.4 1274.2h0" stroke="#cfc0d2" stroke-width="6.5" stroke-linecap="round" fill="none"/>
<path d="M260.8 1227.1h0M232.7 1194.4h0M70.9 1172.3h0M148.8 1196.9h0M253.1 1260.4h0M196.9 1259.4h0" stroke="#dccfd0" stroke-width="6.0" stroke-linecap="round" fill="none"/>
<path d="M122.3 1256.2h0M115.1 1194.7h0M73.8 1173.8h0M72.1 1269.8h0" stroke="#d8cad4" stroke-width="4.0" stroke-linecap="round" fill="none"/>
<path d="M111.3 1182.7h0M200.4 1184.8h0" stroke="#d0c4d8" stroke-width="5.5" stroke-linecap="round" fill="none"/>
<path d="M267.8 1304.9h0M141.6 1218.0h0M220.7 1232.0h0M144.4 1238.6h0M227.7 1200.1h0M172.9 1295.8h0" stroke="#d0c4d8" stroke-width="5.0" stroke-linecap="round" fill="none"/>
<path d="M96.9 1229.9h0M131.5 1196.4h0M228.3 1314.8h0M175.2 1294.6h0M234.1 1211.5h0M214.2 1305.3h0M219.9 1256.2h0" stroke="#d8cad4" stroke-width="7.0" stroke-linecap="round" fill="none"/>
<path d="M269.1 1290.9h0M193.7 1207.2h0M90.5 1300.3h0M165.5 1202.0h0M197.2 1315.7h0M259.4 1321.1h0M240.7 1263.2h0" stroke="#cfc0d2" stroke-width="7.5" stroke-linecap="round" fill="none"/>
<path d="M187.3 1203.0h0M242.6 1240.4h0M82.6 1236.4h0M214.2 1256.0h0M257.5 1174.2h0M107.2 1225.8h0M133.8 1272.0h0" stroke="#cfc0d2" stroke-width="5.5" stroke-linecap="round" fill="none"/>
<path d="M226.1 1179.1h0M195.1 1266.4h0M255.5 1230.7h0" stroke="#d8cad4" stroke-width="5.5" stroke-linecap="round" fill="none"/>
<path d="M188.1 1180.8h0M127.2 1263.3h0M107.3 1300.5h0M99.3 1181.9h0M214.6 1277.7h0" stroke="#dccfd0" stroke-width="7.0" stroke-linecap="round" fill="none"/>
<path d="M207.2 1202.5h0M92.6 1283.6h0M74.5 1278.3h0M137.5 1233.7h0M139.5 1185.6h0" stroke="#dccfd0" stroke-width="5.5" stroke-linecap="round" fill="none"/>
<path d="M205.7 1236.2h0M172.8 1205.6h0M178.3 1246.7h0M271.8 1196.2h0M105.4 1191.4h0" stroke="#cfc0d2" stroke-width="4.5" stroke-linecap="round" fill="none"/>
<path d="M239.4 1171.5h0M110.4 1185.8h0M150.3 1216.7h0M151.3 1191.8h0M175.1 1171.8h0M194.2 1315.1h0" stroke="#dccfd0" stroke-width="6.5" stroke-linecap="round" fill="none"/>
<path d="M76.8 1276.9h0M98.5 1315.0h0M96.1 1312.6h0M106.1 1185.6h0M261.8 1299.2h0M263.1 1295.2h0" stroke="#d8cad4" stroke-width="4.5" stroke-linecap="round" fill="none"/>
<path d="M101.3 1258.8h0M111.9 1303.8h0" stroke="#dccfd0" stroke-width="8.0" stroke-linecap="round" fill="none"/>
<path d="M184.0 1256.0h0M222.6 1305.5h0M169.7 1239.9h0M212.9 1229.8h0M162.1 1192.6h0M179.0 1255.7h0M100.7 1167.8h0M200.0 1218.7h0" stroke="#dccfd0" stroke-width="4.5" stroke-linecap="round" fill="none"/>
<path d="M233.3 1271.0h0M150.8 1262.1h0M85.0 1213.9h0" stroke="#d0c4d8" stroke-width="7.0" stroke-linecap="round" fill="none"/>
<path d="M241.4 1232.9h0M258.8 1254.2h0M189.8 1184.1h0M125.8 1282.5h0M242.9 1277.4h0M119.1 1297.1h0" stroke="#d8cad4" stroke-width="6.5" stroke-linecap="round" fill="none"/>
<path d="M149.8 1188.8h0M248.6 1225.9h0M70.6 1266.5h0M73.8 1229.1h0M103.0 1206.3h0" stroke="#d0c4d8" stroke-width="6.0" stroke-linecap="round" fill="none"/>
<path d="M148.2 1279.7h0M108.2 1205.1h0" stroke="#d0c4d8" stroke-width="8.0" stroke-linecap="round" fill="none"/>
<path d="M172.4 1236.1h0" stroke="#dccfd0" stroke-width="4.0" stroke-linecap="round" fill="none"/>
<path d="M137.0 1250.5h0M131.2 1284.7h0M205.3 1171.6h0" stroke="#d0c4d8" stroke-width="4.5" stroke-linecap="round" fill="none"/>
<path d="M75.2 1204.8h0M104.9 1273.1h0" stroke="#d0c4d8" stroke-width="6.5" stroke-linecap="round" fill="none"/>
<path d="M265.3 1168.4h0" stroke="#d8cad4" stroke-width="8.0" stroke-linecap="round" fill="none"/>
<path d="M105.1 1213.1h0M254.7 1318.9h0" stroke="#cfc0d2" stroke-width="4.0" stroke-linecap="round" fill="none"/>
<path d="M126.4 1239.6h0M244.1 1259.0h0M86.0 1177.9h0M114.9 1232.0h0M244.2 1219.4h0M151.4 1269.7h0M92.0 1215.6h0M155.7 1257.9h0M184.1 1239.6h0M225.8 1292.9h0M152.3 1225.8h0M222.4 1242.8h0M230.9 1281.6h0M130.2 1270.2h0M91.7 1196.1h0M271.0 1217.5h0M65.2 1206.5h0M125.1 1182.4h0M135.4 1270.4h0M260.4 1282.2h0" stroke="#483c7a" stroke-width="2.0" stroke-linecap="round" fill="none"/>
<path d="M226.8 1286.5h0M148.2 1175.8h0M133.7 1228.7h0M136.6 1306.5h0M126.2 1290.0h0M191.9 1320.5h0M153.8 1280.5h0M136.6 1315.4h0M121.5 1206.5h0M94.4 1304.2h0M132.0 1290.3h0M97.9 1219.0h0M238.2 1250.1h0M187.5 1238.0h0M164.1 1293.0h0M82.6 1265.3h0M121.9 1291.3h0M100.1 1261.2h0M77.5 1289.1h0M219.3 1321.0h0M206.0 1214.2h0M212.4 1280.6h0M94.3 1226.3h0M230.1 1292.1h0M104.7 1286.8h0M81.9 1303.0h0M116.7 1215.5h0" stroke="#66589a" stroke-width="3.0" stroke-linecap="round" fill="none"/>
<path d="M228.4 1237.0h0M103.4 1210.3h0M234.5 1253.3h0M138.6 1188.4h0M73.7 1276.3h0M157.5 1312.1h0M67.3 1256.3h0M215.5 1281.5h0M130.0 1210.3h0M131.6 1246.7h0M66.9 1173.1h0M122.6 1223.3h0M115.8 1179.1h0M223.4 1245.0h0M187.4 1316.8h0M254.7 1266.8h0M250.8 1216.9h0M77.6 1310.5h0M259.6 1204.6h0M214.3 1256.9h0M271.8 1180.8h0M120.7 1291.4h0M147.6 1278.7h0M114.6 1188.2h0M80.9 1320.1h0M87.8 1266.3h0" stroke="#56488a" stroke-width="3.0" stroke-linecap="round" fill="none"/>
<path d="M187.0 1208.7h0M139.3 1287.8h0M214.2 1203.9h0M129.0 1284.7h0M148.9 1289.7h0M75.8 1240.3h0M85.3 1226.1h0M239.1 1210.7h0M238.0 1233.7h0M95.5 1244.1h0M249.6 1287.2h0M184.6 1192.6h0M242.1 1244.7h0M152.4 1290.3h0M207.1 1171.9h0M219.1 1267.6h0M270.1 1191.9h0M240.1 1271.6h0M206.2 1190.6h0M99.7 1320.5h0M245.5 1280.1h0" stroke="#66589a" stroke-width="3.5" stroke-linecap="round" fill="none"/>
<path d="M270.2 1206.3h0M109.3 1250.6h0M233.6 1240.9h0M232.4 1234.2h0M260.9 1179.1h0M270.1 1188.2h0M146.4 1271.7h0M140.2 1220.0h0M158.1 1180.8h0M165.1 1175.0h0M70.8 1204.7h0M101.8 1228.2h0M69.0 1189.8h0M252.9 1293.8h0M249.4 1278.9h0M195.4 1193.2h0M107.3 1267.9h0M218.5 1203.7h0M199.1 1254.9h0M265.2 1210.8h0M130.7 1283.0h0M111.6 1292.2h0M138.0 1268.7h0M226.8 1195.9h0" stroke="#483c7a" stroke-width="3.0" stroke-linecap="round" fill="none"/>
<path d="M118.8 1221.0h0M266.5 1173.9h0M189.2 1211.8h0M70.8 1223.8h0M250.3 1260.2h0M97.9 1248.0h0M236.1 1167.3h0M179.1 1239.1h0M73.2 1177.5h0M179.1 1310.6h0M194.6 1183.9h0M163.5 1257.5h0M71.2 1174.2h0M80.5 1246.0h0" stroke="#7668a4" stroke-width="3.5" stroke-linecap="round" fill="none"/>
<path d="M95.6 1171.9h0M113.3 1211.0h0M264.4 1183.6h0M78.1 1226.8h0M75.9 1228.8h0M252.5 1246.0h0M251.1 1240.9h0M168.1 1252.6h0M263.3 1320.0h0M66.1 1310.5h0M193.2 1278.3h0M226.2 1225.8h0M126.6 1216.0h0M83.1 1313.7h0M226.9 1313.9h0M242.1 1175.5h0M133.2 1291.1h0M127.4 1308.5h0M85.4 1304.1h0M201.4 1215.4h0M185.5 1189.1h0M103.7 1279.7h0M197.7 1170.8h0M192.4 1220.4h0M265.1 1191.2h0M223.3 1178.9h0M261.3 1318.4h0M184.3 1266.1h0" stroke="#7668a4" stroke-width="2.5" stroke-linecap="round" fill="none"/>
<path d="M122.3 1269.3h0M78.1 1266.4h0M119.1 1313.6h0M150.1 1302.7h0M117.6 1217.1h0M116.9 1229.2h0M244.4 1305.8h0M221.4 1230.8h0M181.4 1167.0h0M230.1 1280.9h0M137.9 1177.4h0M254.8 1238.2h0M130.1 1175.4h0" stroke="#483c7a" stroke-width="3.5" stroke-linecap="round" fill="none"/>
<path d="M89.8 1319.4h0M223.8 1246.8h0M168.0 1214.0h0M71.6 1225.5h0M201.4 1222.8h0M193.2 1320.5h0M260.0 1198.7h0M82.5 1319.1h0M106.2 1282.0h0M105.4 1200.8h0M206.2 1280.7h0M151.9 1201.5h0M201.3 1289.1h0M262.5 1247.5h0M79.2 1288.1h0M239.5 1245.0h0M93.6 1250.2h0M93.5 1227.0h0M85.0 1320.6h0M193.1 1284.5h0M202.5 1263.9h0M213.4 1315.1h0M220.0 1239.2h0M244.7 1266.8h0M112.6 1297.6h0" stroke="#483c7a" stroke-width="2.5" stroke-linecap="round" fill="none"/>
<path d="M103.6 1267.7h0M188.0 1301.6h0M73.6 1180.3h0M185.6 1296.8h0M108.3 1253.0h0M95.0 1230.3h0M224.7 1246.2h0M222.7 1299.5h0M103.5 1177.6h0M215.6 1210.7h0M195.2 1173.9h0M107.8 1284.3h0M257.9 1301.7h0M130.0 1247.8h0M229.9 1300.1h0M253.9 1288.8h0" stroke="#56488a" stroke-width="3.5" stroke-linecap="round" fill="none"/>
<path d="M100.3 1295.1h0M253.4 1195.2h0M249.2 1276.5h0M270.7 1313.8h0M130.8 1302.1h0M201.2 1269.4h0M139.8 1196.4h0M204.7 1304.8h0M71.6 1275.6h0M80.0 1184.8h0M90.4 1310.9h0M139.7 1254.1h0M167.4 1240.8h0M156.8 1261.7h0M264.7 1303.0h0M177.8 1318.8h0M192.1 1234.4h0M122.8 1276.7h0M107.3 1287.0h0M256.7 1215.4h0M267.6 1240.4h0M194.7 1288.7h0M71.6 1250.8h0M197.0 1244.0h0" stroke="#7668a4" stroke-width="3.0" stroke-linecap="round" fill="none"/>
<path d="M96.8 1314.6h0M158.3 1300.7h0M225.3 1271.4h0M97.9 1178.5h0M140.2 1182.9h0M167.0 1294.1h0M132.3 1210.9h0M94.2 1301.4h0M130.5 1221.2h0M151.8 1196.1h0M76.5 1215.1h0M159.4 1321.8h0M233.1 1174.7h0M216.2 1286.1h0M75.4 1188.5h0M241.8 1231.2h0M266.7 1177.7h0M96.2 1230.8h0M208.7 1310.4h0M147.3 1271.7h0M90.1 1322.4h0" stroke="#7668a4" stroke-width="2.0" stroke-linecap="round" fill="none"/>
<path d="M161.9 1230.0h0M226.9 1295.8h0M173.6 1272.8h0M161.3 1239.7h0M65.0 1273.2h0M249.2 1315.7h0M262.9 1311.2h0M117.4 1183.4h0M94.3 1264.9h0M107.8 1209.3h0M90.0 1201.9h0M232.1 1257.6h0M266.9 1291.2h0M138.8 1248.6h0M116.7 1178.9h0M118.8 1240.0h0M192.8 1230.7h0M93.9 1312.6h0M106.7 1275.9h0M193.8 1246.0h0M226.2 1179.8h0M203.5 1321.4h0M75.8 1319.8h0M98.7 1266.1h0M149.1 1182.2h0M70.5 1174.8h0M239.5 1288.6h0M148.0 1293.1h0" stroke="#66589a" stroke-width="2.5" stroke-linecap="round" fill="none"/>
<path d="M195.7 1247.4h0M86.1 1224.3h0M171.0 1232.1h0M250.6 1295.8h0M93.8 1255.3h0M125.2 1247.5h0M90.5 1293.3h0M186.6 1234.0h0M85.7 1305.2h0M239.7 1306.8h0M66.0 1224.8h0M148.7 1182.5h0M105.3 1246.5h0M244.6 1297.1h0M229.5 1322.5h0M244.9 1228.9h0M242.0 1198.6h0M235.9 1306.1h0M222.9 1255.0h0M225.9 1245.1h0M150.1 1180.5h0" stroke="#56488a" stroke-width="2.0" stroke-linecap="round" fill="none"/>
<path d="M217.8 1190.9h0M186.0 1322.7h0M209.5 1320.9h0M108.0 1251.9h0M270.3 1285.2h0M211.0 1269.7h0M91.6 1284.0h0M173.4 1194.1h0M207.8 1221.0h0M79.3 1194.7h0M261.1 1174.7h0M171.0 1199.9h0M110.0 1317.5h0M79.2 1189.5h0M258.4 1193.7h0M268.8 1299.5h0M100.7 1192.6h0" stroke="#66589a" stroke-width="2.0" stroke-linecap="round" fill="none"/>
<path d="M102.6 1298.1h0M196.1 1204.0h0M184.8 1300.8h0M218.0 1172.2h0M218.4 1267.9h0M235.3 1304.8h0M201.3 1298.6h0M79.9 1300.0h0M219.4 1169.3h0M188.7 1224.1h0M130.9 1200.5h0M68.2 1242.8h0M261.6 1186.3h0M186.8 1203.0h0M138.4 1182.4h0" stroke="#56488a" stroke-width="2.5" stroke-linecap="round" fill="none"/>
<path d="M201.0 1302.4h0M220.4 1279.5h0M65.3 1319.2h0M234.0 1300.5h0M119.1 1299.7h0M236.6 1282.7h0" stroke="#a47690" stroke-width="3.5" stroke-linecap="round" fill="none"/>
<path d="M166.4 1187.4h0M186.9 1235.4h0M203.8 1234.8h0M83.4 1283.0h0" stroke="#a47690" stroke-width="3.0" stroke-linecap="round" fill="none"/>
<path d="M199.3 1214.2h0M147.0 1206.5h0M184.7 1230.0h0M90.5 1237.3h0M194.6 1192.3h0M173.3 1206.4h0M270.8 1199.1h0M141.1 1285.6h0M256.5 1176.2h0M176.5 1168.2h0" stroke="#a47690" stroke-width="4.5" stroke-linecap="round" fill="none"/>
<path d="M109.9 1201.7h0M179.7 1236.4h0M155.4 1269.4h0M201.0 1171.1h0" stroke="#946684" stroke-width="3.0" stroke-linecap="round" fill="none"/>
<path d="M90.0 1260.0h0M206.8 1187.0h0M261.5 1239.4h0M234.0 1177.6h0" stroke="#946684" stroke-width="6.0" stroke-linecap="round" fill="none"/>
<path d="M89.7 1239.3h0M264.0 1206.5h0" stroke="#946684" stroke-width="4.5" stroke-linecap="round" fill="none"/>
<path d="M237.9 1275.6h0M89.3 1210.3h0M87.2 1230.2h0M159.3 1288.6h0" stroke="#a47690" stroke-width="4.0" stroke-linecap="round" fill="none"/>
<path d="M215.0 1261.4h0M248.0 1320.0h0M204.0 1291.3h0M150.0 1181.1h0" stroke="#84567a" stroke-width="5.5" stroke-linecap="round" fill="none"/>
<path d="M95.2 1183.4h0M145.9 1225.4h0M113.0 1237.2h0M203.9 1229.6h0M180.4 1239.6h0" stroke="#84567a" stroke-width="5.0" stroke-linecap="round" fill="none"/>
<path d="M247.3 1250.2h0M149.0 1238.4h0M130.7 1306.3h0M236.6 1258.8h0M248.9 1302.4h0" stroke="#a47690" stroke-width="5.5" stroke-linecap="round" fill="none"/>
<path d="M198.1 1305.4h0M65.7 1175.0h0" stroke="#946684" stroke-width="5.5" stroke-linecap="round" fill="none"/>
<path d="M219.4 1282.5h0M134.5 1234.1h0" stroke="#84567a" stroke-width="3.5" stroke-linecap="round" fill="none"/>
<path d="M199.3 1270.1h0" stroke="#a47690" stroke-width="6.0" stroke-linecap="round" fill="none"/>
<path d="M189.1 1173.4h0M93.7 1267.5h0M185.8 1167.5h0" stroke="#946684" stroke-width="4.0" stroke-linecap="round" fill="none"/>
<path d="M158.1 1227.6h0M235.6 1247.6h0M122.1 1280.7h0M250.3 1304.0h0" stroke="#84567a" stroke-width="4.0" stroke-linecap="round" fill="none"/>
<path d="M172.7 1210.4h0M134.7 1264.4h0M221.4 1250.1h0" stroke="#946684" stroke-width="3.5" stroke-linecap="round" fill="none"/>
<path d="M193.6 1269.7h0M132.6 1299.3h0M127.5 1289.4h0" stroke="#84567a" stroke-width="3.0" stroke-linecap="round" fill="none"/>
<path d="M65.4 1178.6h0M129.6 1177.7h0M257.2 1266.1h0" stroke="#946684" stroke-width="5.0" stroke-linecap="round" fill="none"/>
<path d="M168.9 1249.2h0" stroke="#84567a" stroke-width="4.5" stroke-linecap="round" fill="none"/>
<path d="M88.6 1284.0h0M263.0 1204.9h0" stroke="#c0703a" stroke-width="5.0" stroke-linecap="round" fill="none"/>
<path d="M93.2 1279.6h0" stroke="#b04a28" stroke-width="3.5" stroke-linecap="round" fill="none"/>
<path d="M184.1 1189.3h0" stroke="#c0703a" stroke-width="4.0" stroke-linecap="round" fill="none"/>
<path d="M96.8 1202.9h0" stroke="#b04a28" stroke-width="4.5" stroke-linecap="round" fill="none"/>
<path d="M239.3 1202.0h0M244.7 1207.2h0" stroke="#b04a28" stroke-width="6.0" stroke-linecap="round" fill="none"/>
<path d="M270.2 1251.9h0" stroke="#c0703a" stroke-width="4.5" stroke-linecap="round" fill="none"/>
<path d="M182.5 1227.0h0" stroke="#b04a28" stroke-width="4.0" stroke-linecap="round" fill="none"/>
<path d="M124.2 1184.7h0" stroke="#b04a28" stroke-width="5.0" stroke-linecap="round" fill="none"/>
<path d="M271.9 1187.9h0" stroke="#c0703a" stroke-width="6.0" stroke-linecap="round" fill="none"/>
<path d="M159.0 1305.0h0" stroke="#c0703a" stroke-width="3.0" stroke-linecap="round" fill="none"/>
<path d="M258 1170 L269 1170 L269 1200 Q262 1190 258 1170z" fill="#aab0d6"/><path d="M68 1300 Q100 1290 135 1320 L68 1320z" fill="#e6e4e0"/>
</g>
</g>
<rect x="95" y="1269.3" width="27.9" height="6.2" fill="#000"/>
<clipPath id="hc6"><rect x="288" y="1170" width="200" height="150"/></clipPath>
<g clip-path="url(#hc6)"><rect x="288" y="1170" width="200" height="150" fill="#efe6e3"/>
<g filter="url(#bl5)">

<path d="M465.0 1261.7h0M455.9 1273.1h0M354.5 1195.0h0M356.5 1322.9h0M381.1 1308.1h0" stroke="#eae0dc" stroke-width="11.0" stroke-linecap="round" fill="none"/>
<path d="M362.2 1189.4h0M301.9 1201.1h0M421.7 1250.2h0M445.1 1256.4h0M357.3 1198.2h0M293.9 1280.8h0" stroke="#dcdce8" stroke-width="12.5" stroke-linecap="round" fill="none"/>
<path d="M366.2 1218.5h0M362.6 1285.3h0M364.8 1177.7h0M446.6 1307.4h0M406.6 1235.9h0" stroke="#d8dae8" stroke-width="7.0" stroke-linecap="round" fill="none"/>
<path d="M325.7 1180.4h0M479.8 1181.3h0M334.6 1251.4h0M490.0 1205.8h0M422.2 1290.1h0M285.8 1276.8h0M472.9 1276.5h0M300.0 1250.1h0" stroke="#eae0dc" stroke-width="8.0" stroke-linecap="round" fill="none"/>
<path d="M448.3 1225.0h0M365.3 1207.8h0M461.1 1226.7h0M435.0 1208.6h0M318.7 1167.5h0" stroke="#d8dae8" stroke-width="10.5" stroke-linecap="round" fill="none"/>
<path d="M364.4 1181.4h0M305.5 1241.1h0M383.3 1268.0h0" stroke="#d8dae8" stroke-width="13.5" stroke-linecap="round" fill="none"/>
<path d="M401.4 1237.7h0M424.9 1249.1h0" stroke="#e6dcdc" stroke-width="13.0" stroke-linecap="round" fill="none"/>
<path d="M452.9 1178.3h0M464.3 1275.4h0M399.4 1227.3h0M368.3 1244.6h0M337.3 1223.4h0" stroke="#eae0dc" stroke-width="7.5" stroke-linecap="round" fill="none"/>
<path d="M344.5 1265.7h0M307.5 1314.3h0M296.6 1259.3h0M443.4 1217.6h0M393.6 1170.6h0M446.1 1264.3h0M482.0 1188.8h0" stroke="#d8dae8" stroke-width="9.0" stroke-linecap="round" fill="none"/>
<path d="M310.3 1295.7h0M369.1 1201.8h0M446.2 1321.8h0M403.3 1184.2h0M404.8 1259.3h0M361.3 1221.7h0" stroke="#eae0dc" stroke-width="11.5" stroke-linecap="round" fill="none"/>
<path d="M376.6 1298.9h0M482.5 1191.3h0M310.7 1174.7h0M343.3 1278.2h0" stroke="#e6dcdc" stroke-width="7.5" stroke-linecap="round" fill="none"/>
<path d="M435.1 1183.0h0M407.1 1194.2h0M455.8 1250.2h0M483.0 1306.4h0" stroke="#e6dcdc" stroke-width="7.0" stroke-linecap="round" fill="none"/>
<path d="M323.3 1170.6h0M463.0 1182.3h0M364.0 1220.3h0M410.1 1192.4h0M338.5 1272.0h0M318.6 1205.9h0M324.3 1204.3h0" stroke="#dcdce8" stroke-width="8.5" stroke-linecap="round" fill="none"/>
<path d="M410.7 1264.5h0M329.2 1313.1h0M361.8 1246.2h0M425.4 1288.0h0" stroke="#d8dae8" stroke-width="12.0" stroke-linecap="round" fill="none"/>
<path d="M340.2 1282.1h0M378.0 1173.0h0M331.0 1274.7h0M310.2 1200.7h0M387.8 1215.8h0M343.1 1235.6h0M478.6 1203.6h0M357.4 1178.2h0M315.7 1217.1h0" stroke="#e6dcdc" stroke-width="11.5" stroke-linecap="round" fill="none"/>
<path d="M455.6 1319.0h0M376.6 1175.6h0M369.6 1281.7h0M405.5 1259.8h0M451.8 1261.2h0M392.0 1178.7h0M457.6 1248.4h0M424.5 1295.5h0" stroke="#d8dae8" stroke-width="6.5" stroke-linecap="round" fill="none"/>
<path d="M332.5 1258.1h0M422.8 1305.5h0M358.9 1234.6h0M292.7 1167.1h0M428.1 1183.7h0M480.5 1180.3h0M354.8 1213.2h0" stroke="#eae0dc" stroke-width="10.5" stroke-linecap="round" fill="none"/>
<path d="M449.5 1168.0h0M480.9 1204.7h0M408.7 1197.9h0M373.9 1182.8h0M292.9 1265.7h0M290.2 1278.4h0M410.2 1250.3h0" stroke="#eae0dc" stroke-width="13.0" stroke-linecap="round" fill="none"/>
<path d="M318.7 1182.2h0M374.6 1255.5h0M340.0 1197.0h0" stroke="#d8dae8" stroke-width="8.5" stroke-linecap="round" fill="none"/>
<path d="M307.5 1321.5h0M442.2 1307.0h0M487.1 1180.8h0" stroke="#d8dae8" stroke-width="11.0" stroke-linecap="round" fill="none"/>
<path d="M422.3 1224.9h0M330.8 1215.5h0" stroke="#d8dae8" stroke-width="13.0" stroke-linecap="round" fill="none"/>
<path d="M395.1 1321.1h0M474.7 1221.0h0M307.0 1311.7h0" stroke="#d8dae8" stroke-width="12.5" stroke-linecap="round" fill="none"/>
<path d="M301.5 1241.4h0M459.9 1205.9h0M463.6 1184.3h0M407.1 1179.7h0M410.9 1222.1h0" stroke="#e6dcdc" stroke-width="10.0" stroke-linecap="round" fill="none"/>
<path d="M482.0 1193.2h0M442.2 1171.1h0" stroke="#dcdce8" stroke-width="13.5" stroke-linecap="round" fill="none"/>
<path d="M489.4 1176.7h0M386.7 1181.3h0M308.5 1186.7h0M378.8 1220.7h0" stroke="#dcdce8" stroke-width="13.0" stroke-linecap="round" fill="none"/>
<path d="M361.0 1202.0h0M291.4 1178.3h0" stroke="#eae0dc" stroke-width="9.5" stroke-linecap="round" fill="none"/>
<path d="M316.3 1256.3h0M376.1 1202.2h0M406.7 1256.1h0M414.6 1241.3h0M287.8 1188.3h0" stroke="#e6dcdc" stroke-width="9.5" stroke-linecap="round" fill="none"/>
<path d="M344.4 1287.3h0M391.1 1277.1h0M486.6 1226.6h0M298.0 1244.2h0M447.1 1218.3h0" stroke="#e6dcdc" stroke-width="9.0" stroke-linecap="round" fill="none"/>
<path d="M325.6 1312.8h0M351.2 1231.7h0M298.6 1255.9h0M302.6 1216.0h0" stroke="#dcdce8" stroke-width="10.5" stroke-linecap="round" fill="none"/>
<path d="M433.0 1314.5h0" stroke="#eae0dc" stroke-width="14.0" stroke-linecap="round" fill="none"/>
<path d="M485.6 1181.8h0M465.6 1246.5h0M357.3 1294.2h0M339.3 1214.0h0" stroke="#dcdce8" stroke-width="9.0" stroke-linecap="round" fill="none"/>
<path d="M320.5 1321.5h0" stroke="#e6dcdc" stroke-width="11.0" stroke-linecap="round" fill="none"/>
<path d="M473.5 1306.6h0M367.8 1254.6h0M290.9 1198.9h0M352.7 1239.8h0M457.1 1211.8h0M459.4 1208.2h0" stroke="#dcdce8" stroke-width="12.0" stroke-linecap="round" fill="none"/>
<path d="M465.2 1177.1h0M428.1 1286.6h0" stroke="#e6dcdc" stroke-width="12.0" stroke-linecap="round" fill="none"/>
<path d="M382.5 1322.3h0M462.9 1179.2h0M488.1 1254.1h0" stroke="#e6dcdc" stroke-width="12.5" stroke-linecap="round" fill="none"/>
<path d="M295.7 1293.2h0M322.0 1315.4h0" stroke="#e6dcdc" stroke-width="10.5" stroke-linecap="round" fill="none"/>
<path d="M432.7 1180.9h0M336.1 1292.4h0M460.6 1249.6h0M430.7 1226.5h0M417.9 1315.7h0" stroke="#eae0dc" stroke-width="12.0" stroke-linecap="round" fill="none"/>
<path d="M471.6 1305.7h0M364.6 1215.9h0M399.6 1229.0h0" stroke="#e6dcdc" stroke-width="8.5" stroke-linecap="round" fill="none"/>
<path d="M322.0 1235.6h0M454.1 1291.1h0M452.4 1279.6h0M297.0 1222.7h0M441.1 1276.2h0M323.0 1214.9h0M322.2 1172.0h0M463.5 1286.8h0" stroke="#dcdce8" stroke-width="11.5" stroke-linecap="round" fill="none"/>
<path d="M421.9 1309.3h0M407.2 1215.2h0M288.9 1256.3h0M322.1 1289.8h0" stroke="#eae0dc" stroke-width="10.0" stroke-linecap="round" fill="none"/>
<path d="M369.8 1301.7h0M365.8 1167.9h0M387.1 1265.1h0M360.5 1318.1h0M333.0 1271.8h0" stroke="#e6dcdc" stroke-width="8.0" stroke-linecap="round" fill="none"/>
<path d="M450.9 1219.6h0M344.1 1212.7h0" stroke="#dcdce8" stroke-width="11.0" stroke-linecap="round" fill="none"/>
<path d="M391.7 1226.4h0M351.3 1223.0h0" stroke="#d8dae8" stroke-width="7.5" stroke-linecap="round" fill="none"/>
<path d="M475.9 1220.7h0M363.3 1200.2h0M362.1 1194.2h0" stroke="#e6dcdc" stroke-width="14.0" stroke-linecap="round" fill="none"/>
<path d="M454.3 1309.8h0" stroke="#d8dae8" stroke-width="14.0" stroke-linecap="round" fill="none"/>
<path d="M344.5 1320.8h0M391.3 1301.4h0M412.0 1213.6h0M428.0 1209.5h0" stroke="#d8dae8" stroke-width="10.0" stroke-linecap="round" fill="none"/>
<path d="M359.7 1209.7h0M414.8 1201.9h0M474.4 1189.3h0M429.0 1312.2h0M484.3 1292.1h0" stroke="#eae0dc" stroke-width="13.5" stroke-linecap="round" fill="none"/>
<path d="M465.2 1257.1h0M381.7 1277.9h0M290.5 1260.6h0M435.9 1308.9h0M447.1 1279.6h0M478.2 1210.4h0M326.2 1281.4h0M470.1 1283.1h0" stroke="#dcdce8" stroke-width="7.5" stroke-linecap="round" fill="none"/>
<path d="M308.6 1281.7h0M476.6 1248.3h0M414.6 1240.9h0M430.0 1225.5h0M440.6 1225.2h0M454.2 1233.7h0" stroke="#dcdce8" stroke-width="10.0" stroke-linecap="round" fill="none"/>
<path d="M462.3 1311.8h0M374.5 1227.0h0M380.4 1216.7h0M414.6 1200.6h0M326.5 1213.8h0M481.4 1169.2h0" stroke="#d8dae8" stroke-width="9.5" stroke-linecap="round" fill="none"/>
<path d="M361.3 1262.1h0M296.2 1196.8h0M330.1 1169.6h0M440.8 1304.8h0M345.6 1313.1h0M467.2 1264.6h0" stroke="#e6dcdc" stroke-width="6.5" stroke-linecap="round" fill="none"/>
<path d="M329.2 1217.5h0M438.5 1273.6h0M424.1 1245.1h0M286.6 1206.6h0M363.1 1184.8h0M300.5 1266.7h0" stroke="#eae0dc" stroke-width="12.5" stroke-linecap="round" fill="none"/>
<path d="M440.0 1280.2h0M387.1 1314.2h0M346.1 1245.3h0" stroke="#dcdce8" stroke-width="6.5" stroke-linecap="round" fill="none"/>
<path d="M390.3 1238.3h0M476.8 1229.8h0" stroke="#e6dcdc" stroke-width="13.5" stroke-linecap="round" fill="none"/>
<path d="M299.0 1210.6h0M309.2 1274.9h0M378.4 1315.2h0M373.2 1266.4h0" stroke="#dcdce8" stroke-width="8.0" stroke-linecap="round" fill="none"/>
<path d="M455.5 1212.0h0M396.5 1257.1h0" stroke="#dcdce8" stroke-width="6.0" stroke-linecap="round" fill="none"/>
<path d="M391.9 1251.5h0M397.1 1236.2h0M336.3 1265.7h0" stroke="#eae0dc" stroke-width="9.0" stroke-linecap="round" fill="none"/>
<path d="M316.0 1300.8h0M370.7 1274.6h0" stroke="#d8dae8" stroke-width="11.5" stroke-linecap="round" fill="none"/>
<path d="M327.0 1209.3h0M474.6 1307.3h0M362.3 1211.7h0M458.6 1257.6h0" stroke="#d8dae8" stroke-width="8.0" stroke-linecap="round" fill="none"/>
<path d="M471.9 1256.6h0M391.5 1284.2h0" stroke="#dcdce8" stroke-width="14.0" stroke-linecap="round" fill="none"/>
<path d="M329.4 1312.2h0M378.5 1181.2h0" stroke="#eae0dc" stroke-width="7.0" stroke-linecap="round" fill="none"/>
<path d="M477.2 1269.9h0M350.4 1189.4h0" stroke="#eae0dc" stroke-width="8.5" stroke-linecap="round" fill="none"/>
<path d="M452.0 1300.3h0" stroke="#eae0dc" stroke-width="6.5" stroke-linecap="round" fill="none"/>
<path d="M364.5 1316.1h0M473.3 1235.8h0M423.4 1177.4h0M436.4 1286.7h0M336.7 1172.3h0M290.8 1167.6h0M328.4 1198.9h0M326.5 1256.9h0M454.4 1238.9h0M316.8 1299.8h0M388.2 1287.5h0M384.6 1228.6h0M297.0 1217.1h0M377.9 1202.2h0M393.2 1291.1h0M424.5 1230.5h0M431.0 1258.1h0M330.9 1262.1h0M323.4 1183.1h0M296.4 1219.6h0M335.0 1317.4h0M386.3 1202.0h0M384.0 1213.8h0" stroke="#eed6d2" stroke-width="5.0" stroke-linecap="round" fill="none"/>
<path d="M352.2 1316.3h0M427.8 1287.5h0M367.1 1299.1h0M288.6 1321.5h0M351.8 1227.0h0M478.4 1240.7h0M421.9 1229.8h0M395.6 1232.1h0M443.0 1193.9h0M373.7 1177.9h0M440.7 1194.5h0M408.0 1318.3h0M477.8 1200.5h0M375.4 1191.2h0M460.5 1169.0h0M349.1 1210.9h0M425.7 1299.3h0M373.1 1244.0h0M336.5 1172.2h0M320.7 1236.7h0M460.7 1171.8h0M315.7 1257.8h0" stroke="#f0dcd8" stroke-width="7.0" stroke-linecap="round" fill="none"/>
<path d="M441.6 1168.7h0M435.1 1167.4h0M410.3 1233.6h0M384.0 1279.7h0M388.8 1242.9h0M324.3 1188.8h0M378.8 1186.0h0M343.8 1206.5h0M425.1 1255.3h0M338.9 1312.7h0M366.4 1214.3h0M400.5 1215.0h0M355.0 1202.0h0M316.3 1308.3h0M336.9 1282.7h0M411.6 1289.0h0M313.2 1204.3h0" stroke="#eed6d2" stroke-width="4.5" stroke-linecap="round" fill="none"/>
<path d="M439.2 1261.8h0M431.9 1217.6h0M468.1 1319.1h0M432.6 1219.6h0M473.4 1248.4h0M468.4 1299.4h0M434.2 1249.8h0M415.2 1270.1h0M317.2 1243.2h0M369.4 1189.2h0M420.1 1187.0h0M345.6 1290.6h0M423.5 1204.4h0M351.8 1177.5h0M325.6 1195.7h0M300.4 1213.6h0M320.6 1193.0h0" stroke="#f0dcd8" stroke-width="5.5" stroke-linecap="round" fill="none"/>
<path d="M487.9 1258.1h0M345.7 1175.0h0M397.5 1203.3h0M306.9 1260.2h0M314.1 1319.8h0M476.9 1222.7h0M338.3 1308.1h0M400.9 1268.1h0M318.3 1249.5h0M368.1 1302.3h0M418.8 1315.3h0M367.4 1288.5h0M389.7 1182.6h0M442.5 1236.6h0M394.6 1268.6h0M360.6 1248.6h0M396.2 1196.8h0M433.6 1242.6h0M309.4 1276.8h0M483.8 1244.4h0M485.5 1254.6h0M287.5 1240.9h0M401.5 1291.9h0M429.8 1209.1h0M453.1 1194.3h0" stroke="#eed6d2" stroke-width="6.0" stroke-linecap="round" fill="none"/>
<path d="M325.1 1288.1h0M292.2 1225.7h0M376.9 1169.3h0M418.6 1295.7h0M445.4 1277.5h0M485.8 1206.3h0M301.5 1174.6h0M332.9 1229.5h0M444.6 1247.3h0M426.9 1285.3h0M452.5 1299.4h0M438.1 1218.3h0M398.6 1237.8h0M297.9 1281.9h0M397.9 1169.6h0M478.3 1239.7h0M443.3 1206.1h0" stroke="#eed6d2" stroke-width="6.5" stroke-linecap="round" fill="none"/>
<path d="M320.5 1192.7h0M396.0 1213.5h0M394.2 1291.3h0M415.5 1266.0h0M330.8 1174.4h0M384.9 1300.1h0M441.8 1221.8h0M349.8 1283.5h0M292.9 1301.1h0M331.4 1313.6h0M328.9 1269.5h0M393.9 1308.0h0M474.1 1179.1h0" stroke="#eed6d2" stroke-width="7.0" stroke-linecap="round" fill="none"/>
<path d="M434.3 1308.6h0M463.8 1195.4h0M299.9 1295.5h0M399.4 1279.1h0M483.6 1287.5h0M392.3 1275.4h0M309.0 1178.5h0M318.0 1239.3h0M427.6 1231.9h0M370.8 1252.8h0M426.8 1263.0h0M388.3 1204.0h0M392.7 1205.3h0M288.4 1204.1h0M393.6 1258.3h0M411.6 1281.1h0M332.6 1225.9h0M477.0 1298.2h0M422.6 1190.6h0M337.9 1304.7h0M344.4 1239.1h0M468.5 1292.0h0M456.0 1303.1h0M482.6 1300.9h0M290.3 1273.2h0M490.3 1167.3h0M334.9 1245.0h0M363.2 1207.8h0M421.4 1188.0h0" stroke="#f0dcd8" stroke-width="6.5" stroke-linecap="round" fill="none"/>
<path d="M385.9 1302.5h0M291.1 1276.3h0M352.7 1208.8h0M304.1 1169.6h0M321.5 1234.7h0M347.5 1299.9h0M361.0 1176.1h0M309.0 1306.2h0" stroke="#f0dcd8" stroke-width="4.5" stroke-linecap="round" fill="none"/>
<path d="M391.9 1298.1h0M460.1 1276.4h0M465.9 1206.0h0M394.4 1271.6h0M341.1 1236.4h0M297.6 1216.9h0M288.3 1167.9h0M475.3 1246.9h0M373.5 1198.8h0M400.9 1319.3h0M351.8 1254.4h0M316.9 1249.8h0M488.4 1222.3h0M464.0 1243.5h0M328.4 1188.1h0M478.0 1175.6h0M376.7 1255.5h0M394.3 1284.7h0M419.2 1192.3h0" stroke="#f0dcd8" stroke-width="6.0" stroke-linecap="round" fill="none"/>
<path d="M447.5 1205.0h0M418.3 1283.4h0M345.6 1295.9h0M456.7 1291.5h0M464.0 1317.2h0M457.9 1266.8h0M350.0 1258.6h0M466.9 1232.2h0M398.7 1191.6h0M352.2 1277.6h0M475.7 1188.4h0M369.3 1269.7h0M357.7 1205.2h0M433.7 1275.1h0M322.5 1312.9h0M364.0 1247.0h0M329.8 1277.8h0M441.0 1309.3h0M380.3 1183.5h0M392.8 1238.9h0M369.7 1199.2h0M358.0 1314.3h0" stroke="#f0dcd8" stroke-width="5.0" stroke-linecap="round" fill="none"/>
<path d="M488.6 1302.6h0M372.8 1298.4h0M472.8 1262.0h0M472.1 1207.9h0M358.5 1251.6h0M346.4 1198.6h0M463.6 1282.3h0M381.1 1269.7h0M400.0 1242.9h0M356.3 1321.5h0M353.7 1187.3h0M466.6 1280.7h0M305.1 1264.2h0M481.2 1287.8h0M310.1 1239.3h0M481.9 1211.3h0M442.0 1291.7h0M364.6 1271.6h0" stroke="#eed6d2" stroke-width="5.5" stroke-linecap="round" fill="none"/>
<path d="M363.3 1221.3h0M369.2 1241.7h0M477.3 1188.6h0M401.9 1322.2h0M310.7 1251.2h0M404.1 1249.4h0M428.9 1290.4h0M407.2 1231.7h0M304.1 1224.5h0M377.8 1321.6h0M449.5 1292.4h0M334.9 1258.8h0M314.6 1315.6h0M487.8 1269.1h0M331.4 1272.6h0M338.9 1256.2h0M337.7 1171.4h0M354.3 1173.2h0M346.5 1279.4h0M375.6 1213.6h0M346.1 1179.3h0" stroke="#8c3424" stroke-width="4.0" stroke-linecap="round" fill="none"/>
<path d="M333.8 1207.0h0M346.4 1269.1h0M407.2 1257.5h0M353.5 1231.5h0M294.5 1272.4h0M460.5 1316.3h0M303.0 1244.0h0M451.4 1315.7h0M407.1 1246.3h0M319.4 1255.2h0M484.3 1193.4h0M410.7 1233.8h0" stroke="#984030" stroke-width="4.0" stroke-linecap="round" fill="none"/>
<path d="M362.5 1219.6h0M307.8 1292.9h0M315.0 1270.1h0M398.5 1170.6h0" stroke="#a44c3a" stroke-width="2.5" stroke-linecap="round" fill="none"/>
<path d="M404.4 1264.7h0M337.3 1309.1h0M357.9 1291.4h0M418.1 1321.6h0M309.5 1265.6h0M381.6 1206.7h0M351.0 1167.3h0" stroke="#7a2a1e" stroke-width="3.5" stroke-linecap="round" fill="none"/>
<path d="M337.3 1274.1h0M350.4 1211.3h0M467.7 1291.8h0M303.2 1208.8h0M473.9 1234.5h0M459.4 1250.9h0M477.8 1214.0h0M319.6 1247.7h0M335.1 1270.9h0M363.1 1206.3h0M422.8 1270.0h0M323.3 1284.4h0M418.0 1306.8h0M300.7 1218.6h0M403.7 1194.4h0M321.6 1172.6h0M375.7 1274.5h0M474.6 1302.3h0" stroke="#682218" stroke-width="3.0" stroke-linecap="round" fill="none"/>
<path d="M404.5 1229.2h0M328.1 1275.8h0M399.6 1194.8h0M337.5 1255.2h0M411.1 1205.5h0M401.8 1287.9h0M347.2 1234.9h0M392.9 1222.2h0M381.1 1209.9h0M348.1 1214.9h0M435.4 1198.2h0M374.3 1232.1h0M392.9 1216.9h0M417.5 1264.1h0M344.8 1228.5h0M431.7 1190.5h0M397.7 1241.2h0" stroke="#a44c3a" stroke-width="3.5" stroke-linecap="round" fill="none"/>
<path d="M413.3 1172.9h0M429.0 1275.9h0M318.5 1196.4h0M427.6 1296.0h0M353.7 1282.1h0M344.3 1238.2h0M387.9 1193.5h0M406.5 1269.6h0M467.3 1225.0h0M373.0 1168.9h0M297.7 1248.0h0M307.2 1277.6h0M389.5 1211.3h0M301.8 1312.6h0M489.3 1218.9h0M307.2 1224.2h0" stroke="#682218" stroke-width="4.0" stroke-linecap="round" fill="none"/>
<path d="M390.5 1208.0h0M399.1 1273.5h0M330.5 1204.9h0M303.9 1181.3h0M355.1 1255.6h0M287.8 1285.7h0M433.0 1256.7h0M366.2 1314.6h0M374.5 1296.6h0M410.1 1299.7h0M298.0 1249.6h0" stroke="#a44c3a" stroke-width="4.0" stroke-linecap="round" fill="none"/>
<path d="M369.9 1172.0h0M388.7 1171.3h0M364.8 1241.0h0M417.3 1200.1h0M340.3 1215.0h0M371.3 1286.5h0M333.2 1202.5h0M370.2 1211.0h0M395.9 1299.2h0M419.7 1186.4h0M437.8 1308.4h0M456.1 1237.9h0M296.7 1258.9h0M315.2 1172.7h0" stroke="#682218" stroke-width="3.5" stroke-linecap="round" fill="none"/>
<path d="M288.2 1270.4h0M329.5 1245.4h0M317.6 1259.5h0M322.1 1270.5h0M328.0 1209.4h0" stroke="#7a2a1e" stroke-width="3.0" stroke-linecap="round" fill="none"/>
<path d="M328.8 1252.5h0M299.0 1244.1h0M447.1 1219.4h0M393.8 1215.6h0M353.9 1290.6h0M416.8 1279.1h0M308.4 1212.9h0M431.0 1194.4h0M445.2 1314.7h0" stroke="#a44c3a" stroke-width="3.0" stroke-linecap="round" fill="none"/>
<path d="M410.9 1212.4h0M367.0 1260.6h0M361.8 1178.6h0M314.0 1270.9h0M360.9 1217.7h0M297.4 1297.4h0M380.3 1289.7h0M429.6 1213.8h0M469.1 1223.1h0M413.4 1219.2h0" stroke="#682218" stroke-width="4.5" stroke-linecap="round" fill="none"/>
<path d="M311.5 1179.5h0M320.8 1245.5h0M458.4 1291.1h0M335.8 1309.8h0M407.3 1240.9h0M345.1 1243.4h0M364.2 1279.9h0M418.7 1266.0h0M373.0 1250.5h0" stroke="#984030" stroke-width="3.0" stroke-linecap="round" fill="none"/>
<path d="M405.5 1228.5h0M376.0 1270.9h0M433.5 1218.1h0M325.9 1304.6h0M427.5 1211.0h0M364.6 1174.1h0M325.7 1295.8h0M397.9 1167.3h0" stroke="#984030" stroke-width="4.5" stroke-linecap="round" fill="none"/>
<path d="M486.5 1175.8h0M313.8 1310.6h0M336.1 1215.3h0M357.7 1211.8h0M344.4 1317.3h0M350.0 1258.5h0M322.8 1244.0h0M388.4 1252.2h0M440.4 1306.2h0M466.0 1266.3h0M329.7 1275.2h0M387.6 1241.1h0M351.8 1259.0h0M329.0 1173.4h0M453.2 1241.6h0M343.5 1298.2h0" stroke="#682218" stroke-width="2.5" stroke-linecap="round" fill="none"/>
<path d="M470.1 1260.1h0M408.2 1202.8h0M378.3 1243.3h0M435.9 1237.7h0M342.9 1201.3h0M366.6 1246.4h0M323.4 1175.7h0M297.2 1192.7h0M424.7 1305.6h0M367.8 1265.7h0M422.1 1282.2h0M445.4 1255.9h0M440.7 1234.9h0M452.5 1285.2h0" stroke="#8c3424" stroke-width="3.5" stroke-linecap="round" fill="none"/>
<path d="M427.7 1247.3h0M331.4 1254.5h0M475.7 1206.3h0M326.8 1212.0h0M434.4 1243.0h0" stroke="#a44c3a" stroke-width="4.5" stroke-linecap="round" fill="none"/>
<path d="M329.7 1180.5h0M376.6 1290.9h0M474.9 1169.1h0M296.3 1267.2h0M447.9 1187.2h0M386.2 1187.3h0M434.4 1191.6h0M367.1 1268.9h0M467.3 1301.2h0M297.6 1199.7h0M482.8 1311.5h0M409.6 1282.1h0" stroke="#8c3424" stroke-width="3.0" stroke-linecap="round" fill="none"/>
<path d="M457.7 1204.5h0M367.5 1291.1h0M457.5 1240.1h0M382.8 1282.9h0M440.0 1294.1h0M432.7 1170.2h0M343.1 1222.1h0M342.0 1288.1h0M438.4 1283.2h0M436.1 1294.9h0M401.0 1187.4h0" stroke="#8c3424" stroke-width="4.5" stroke-linecap="round" fill="none"/>
<path d="M372.0 1309.6h0M292.2 1192.9h0M380.2 1191.9h0M463.9 1255.6h0M409.5 1217.2h0M454.2 1219.9h0M321.8 1212.4h0M371.5 1270.5h0M360.0 1172.1h0" stroke="#984030" stroke-width="3.5" stroke-linecap="round" fill="none"/>
<path d="M381.6 1270.2h0M308.3 1206.5h0M390.5 1318.9h0M436.2 1180.8h0M469.1 1207.0h0M323.4 1219.5h0M297.7 1299.0h0M401.3 1242.4h0M461.1 1176.2h0" stroke="#984030" stroke-width="2.5" stroke-linecap="round" fill="none"/>
<path d="M416.2 1180.6h0M428.0 1219.8h0M399.3 1173.5h0M437.3 1206.7h0M417.8 1215.0h0M342.3 1238.7h0M413.3 1290.9h0M315.9 1305.9h0M406.7 1194.0h0M346.3 1225.5h0M442.6 1277.8h0M461.4 1211.0h0" stroke="#7a2a1e" stroke-width="2.5" stroke-linecap="round" fill="none"/>
<path d="M372.0 1209.5h0M468.9 1263.4h0M336.5 1220.0h0M406.4 1318.9h0M357.5 1211.3h0M413.0 1314.2h0M324.0 1206.1h0M385.8 1249.0h0M448.2 1218.7h0M290.5 1292.9h0M309.2 1221.2h0M431.7 1192.8h0M434.1 1222.3h0" stroke="#7a2a1e" stroke-width="4.0" stroke-linecap="round" fill="none"/>
<path d="M296.0 1173.9h0M315.7 1309.3h0M486.4 1192.4h0M300.7 1308.3h0M323.2 1257.2h0M294.2 1248.6h0M340.9 1284.8h0" stroke="#7a2a1e" stroke-width="4.5" stroke-linecap="round" fill="none"/>
<path d="M451.9 1196.9h0M467.8 1178.9h0" stroke="#984030" stroke-width="5.0" stroke-linecap="round" fill="none"/>
<path d="M335.4 1294.1h0M318.6 1169.4h0M328.9 1196.1h0M306.0 1235.3h0M307.9 1302.7h0M371.3 1279.5h0" stroke="#8c3424" stroke-width="2.5" stroke-linecap="round" fill="none"/>
<path d="M439.3 1184.1h0M469.4 1219.8h0" stroke="#682218" stroke-width="5.0" stroke-linecap="round" fill="none"/>
<path d="M379.6 1292.5h0" stroke="#7a2a1e" stroke-width="5.0" stroke-linecap="round" fill="none"/>
<path d="M364.9 1285.1h0M378.4 1287.2h0M369.6 1314.8h0M285.1 1172.3h0M297.5 1315.5h0M481.0 1183.3h0M487.8 1233.8h0M290.3 1303.5h0M322.7 1277.7h0M345.8 1258.5h0M357.7 1168.7h0M293.1 1237.3h0M466.6 1268.7h0" stroke="#7a6aa0" stroke-width="2.5" stroke-linecap="round" fill="none"/>
<path d="M301.7 1270.4h0M360.7 1270.7h0M386.5 1223.5h0M335.5 1238.5h0M382.6 1304.3h0M464.6 1173.5h0M405.1 1271.8h0M449.1 1292.4h0M472.7 1215.5h0M406.7 1195.9h0M291.2 1195.5h0M408.7 1287.9h0" stroke="#6a5a90" stroke-width="3.0" stroke-linecap="round" fill="none"/>
<path d="M333.9 1265.2h0M490.7 1283.7h0M441.2 1246.8h0M315.7 1227.3h0M353.6 1215.8h0M311.8 1231.7h0M376.4 1186.7h0M378.6 1192.6h0M467.2 1316.3h0M371.9 1218.4h0M367.2 1243.5h0M470.4 1246.5h0" stroke="#6a5a90" stroke-width="2.5" stroke-linecap="round" fill="none"/>
<path d="M304.9 1311.4h0M447.9 1298.2h0M414.4 1187.4h0M324.1 1180.2h0M305.4 1262.5h0M443.6 1289.4h0M387.3 1314.6h0M424.2 1212.9h0M386.9 1222.0h0M374.3 1187.9h0" stroke="#7a6aa0" stroke-width="2.0" stroke-linecap="round" fill="none"/>
<path d="M420.5 1202.1h0M486.8 1250.1h0M432.3 1291.5h0M322.0 1172.8h0M371.1 1314.8h0M483.8 1215.9h0M375.6 1176.0h0M346.0 1167.4h0M412.0 1302.4h0M438.8 1240.2h0M285.7 1278.6h0" stroke="#6a5a90" stroke-width="2.0" stroke-linecap="round" fill="none"/>
<path d="M454.4 1293.8h0M328.3 1241.6h0M377.0 1314.1h0M369.9 1199.1h0M380.8 1271.3h0M317.8 1216.8h0M438.9 1242.0h0M316.6 1226.5h0M353.9 1284.6h0M359.8 1222.5h0M317.6 1295.4h0M376.6 1249.7h0M464.0 1211.8h0" stroke="#7a6aa0" stroke-width="3.0" stroke-linecap="round" fill="none"/>
<path d="M422.5 1181.7h0M369.9 1313.0h0M466.9 1293.9h0M456.5 1229.8h0M411.1 1300.5h0" stroke="#7a6aa0" stroke-width="3.5" stroke-linecap="round" fill="none"/>
<path d="M481.4 1279.1h0M441.9 1261.0h0M465.5 1174.5h0M465.9 1305.7h0" stroke="#6a5a90" stroke-width="3.5" stroke-linecap="round" fill="none"/>

</g>
</g>
<rect x="314" y="1270" width="27.8" height="5.8" fill="#000"/>
<rect x="0.5" y="0.5" width="519" height="1333" fill="none" stroke="#000" stroke-width="1"/>
</svg>
</body></html>
